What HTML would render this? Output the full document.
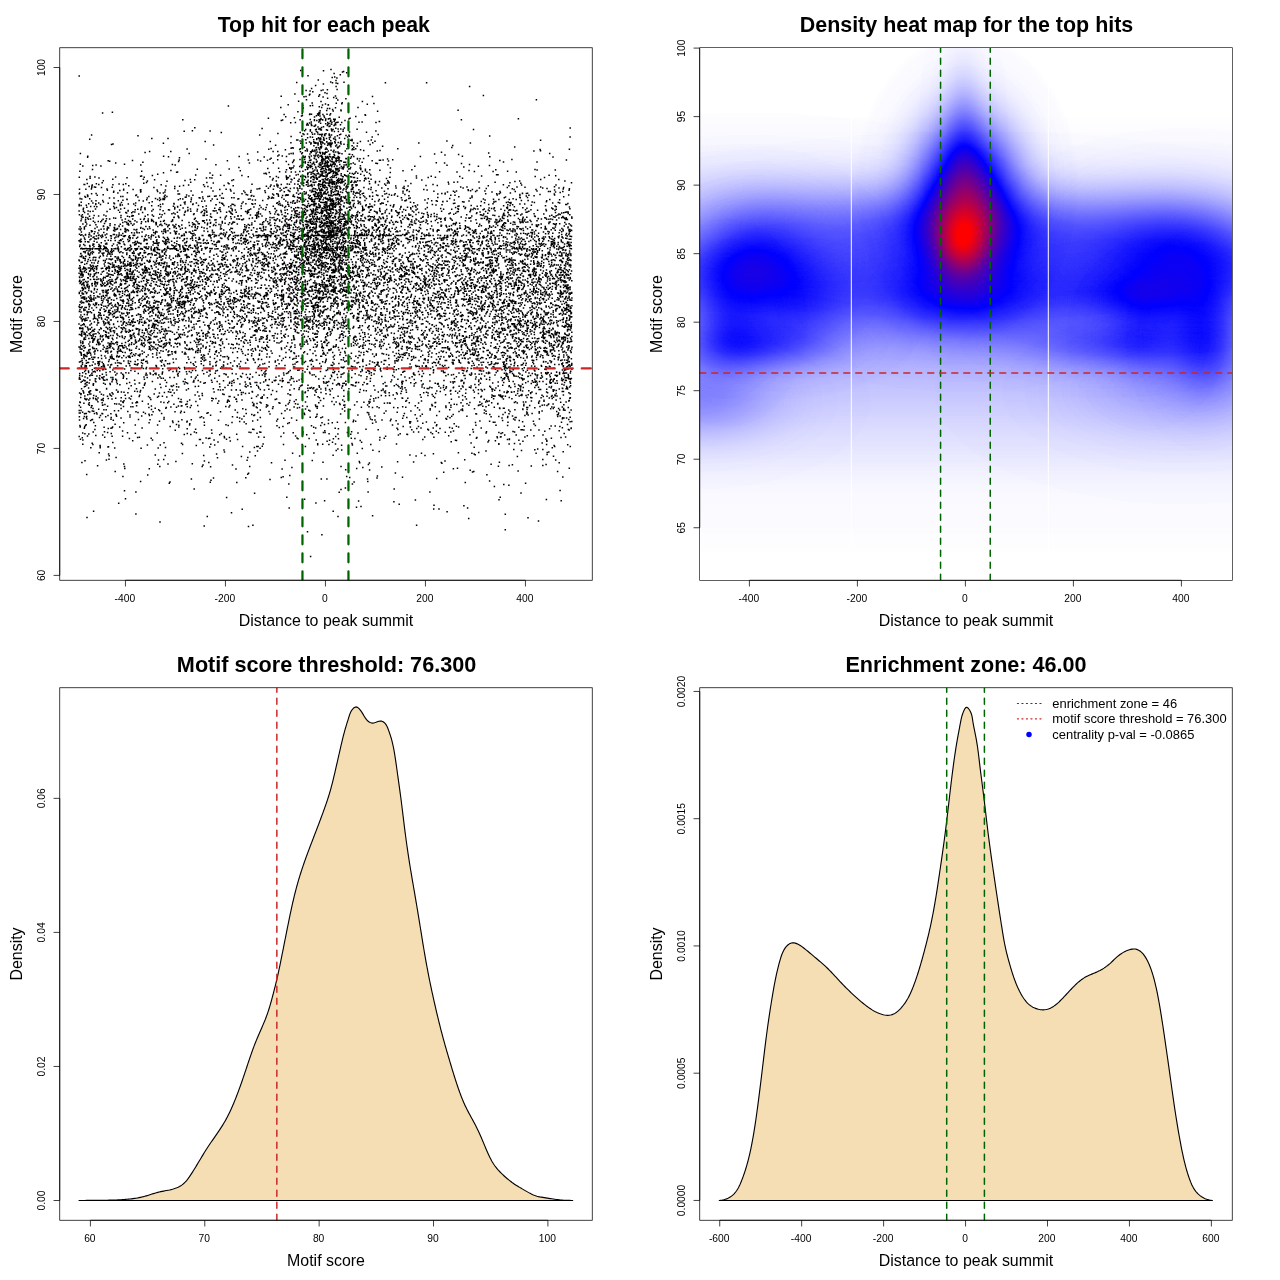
<!DOCTYPE html>
<html><head><meta charset="utf-8"><title>plot</title>
<style>html,body{margin:0;padding:0;background:#fff}svg{display:block;will-change:transform}text{font-family:"Liberation Sans", sans-serif;fill:#000}.pl>*{mix-blend-mode:plus-lighter}</style>
</head><body>
<svg width="1280" height="1280" viewBox="0 0 1280 1280">
<rect width="1280" height="1280" fill="#fff"/>
<defs>
<clipPath id="c1"><rect x="59.75" y="47.75" width="532.5" height="532.5"/></clipPath>
<clipPath id="c2"><rect x="699.9" y="47.9" width="532.2" height="532.2"/></clipPath>
<clipPath id="c3"><rect x="59.75" y="687.75" width="532.5" height="532.5"/></clipPath>
<clipPath id="c4"><rect x="699.75" y="687.75" width="532.5" height="532.5"/></clipPath>
</defs>
<!-- panel 1 -->
<path d="M331 69.4h0M300.7 70.6h0m22.8 .2h0M343.6 71.4h0M342.5 72h0m4.2 .8h0M334.1 73.5h0M340.3 74.8h0M308 75.7h0M79.2 76h0M332.2 77.5h0m2.5-.4h0M336.9 78h0M318.3 80.1h0m17.7 .4h0M296.7 82.6h0m34-.6h0m1.8 .7h0m3.6 .2h0m7.9-.7h0m41.4 .5h0m41.2 .1h0M337.7 83.4h0M323.4 84.1h0M315.6 85.6h0M336.1 86.4h0m133.5 .1h0M311.6 88.4h0M327.4 89.8h0m9.7-.4h0M306.1 90.6h0m15.1-.1h0m1.8-.5h0M310.1 91h0m2.7 .8h0M325 92.7h0M327 93.5h0M294.9 94.1h0m15 .2h0m9.7 .4h0M309.4 95.1h0m26.1 .8h0m147.9-.4h0M281.2 96.3h0m22.8 .4h0m2-.1h0m12.8-.4h0m4.3 .7h0m49.4-.5h0M333.7 97.4h0M327.6 98.3h0m8.8 0h0m9.5 .5h0M306.5 99.7h0m31.3 .2h0m198.6-.1h0M298.6 101.3h0m22.4 .3h0m41.4 0h0M342.2 102.8h0M312.2 103h0m24.1 .2h0m5.5 .5h0m32.1-.2h0M288.2 104.8h0m37.3-.7h0m2.7 .8h0m.2-.2h0m38.9-.5h0M302.8 105.6h0m7.5 .2h0m2.3-.2h0m9.9-.6h0M228.4 106h0m90.9 .8h0M280.8 107.5h0m40.9 0h0m13.8 .2h0m22.5-.3h0M303.3 108.1h0m24.2 .4h0m2.2 0h0M332.6 109.5h0m8.3 .4h0M320.1 110.7h0m6.6-.1h0m14.4 .2h0m117-.6h0M297.9 111.7h0m35.3-.6h0m44.4 .1h0M112.4 112.3h0m206.6 .2h0m.8 0h0M102.6 113h0m199.6 .6h0m16 .2h0m12.4-.1h0M284.1 114.6h0m25.5-.1h0m.3-.5h0m1.6 .3h0m6.1-.3h0m2.1 .1h0m3.2 .3h0m4.1-.2h0m2.9 .7h0m35.2-.1h0M301.5 115.9h0m.9-.5h0m14 .4h0m1.9-.6h0m1.7 .7h0m4 0h0m41.5-.6h0M285.7 116.7h0m70.1-.1h0M294.4 117.8h0m20.1-.7h0m10 .5h0m14.7-.4h0M268.4 118.3h0m52.6 .3h0m7.5 .2h0m1.5-.2h0m20.1-.4h0m168.3 .5h0M182.8 119.8h0m117.3 0h0m10.2-.4h0m4.1 .4h0m4.7 0h0m1.1-.3h0m.6-.2h0m1.7 .5h0m3.3-.8h0m2.6 0h0m5.3 .2h0m1.5 0h0m13.7-.1h0m112.5 .6h0M281.3 120.6h0m1.3-.5h0m31.8 .3h0m2.4 .2h0m3.2 0h0m2.7-.5h0m2.9 .3h0m5.2-.1h0m3.9 .2h0m10.3 .1h0M318.8 121.9h0m1-.9h0m10.6 .4h0m.2 .2h0m3.6-.4h0m27.9 .7h0m17.2-.5h0m.2 .1h0M290.7 122.7h0m4.7-.1h0m14.1 .3h0m1.8-.8h0m16.4 .4h0m4.2-.3h0m4.9 .4h0m1.2-.3h0m3.7 .3h0m17.3-.3h0m17 .1h0M307.3 123.6h0m13.3-.4h0m5.1 .6h0m2.5-.2h0m.9-.2h0m6.3-.3h0M311.3 124.1h0m16.5 .6h0m3.4-.7h0m.5 .3h0m3.3 .3h0m.7 .1h0m4.8 .1h0M306.7 125h0m1.6 .1h0m3.2 .5h0m.4 0h0m3.4 .2h0m.3-.8h0m11.7 .5h0m6.7-.1h0m.2 .2h0M314.2 126.2h0m3.8 .7h0m5.5-.1h0m5.6-.3h0m.9-.4h0m.1-.1h0M194.8 127.7h0m126.8-.1h0M262.1 128.6h0m57.9 0h0m15.8-.4h0m2.3 .7h0m6.3-.9h0m225.8 .1h0M305.7 129.5h0m4.7 .2h0m5.2 .1h0m.8-.5h0m2.3-.3h0m1.2 .1h0m.6 .6h0m.1-.4h0m.3 .2h0m.5 .4h0m5.1-.1h0m4.9-.8h0m.2 .9h0m1.5-.3h0m7.7-.6h0m2.4 .5h0m13.9-.3h0m116.4 .2h0M192.4 130.7h0m17.7 .2h0m94.6-.1h0m22.8-.6h0m4.5 .7h0m43.9 0h0M184.2 131.3h0m126.1-.3h0m6.1 .6h0m18-.2h0m4 0h0m4.7-.2h0M221.3 132.6h0m78.9 0h0m11.6-.1h0m5.8-.2h0m32-.3h0m16.9 .2h0M277.9 133.5h0m25.1 .3h0m4.5 .1h0m10.4 0h0m8.1-.2h0M259.7 134.9h0m44.3-.3h0m8.6-.3h0m2.1-.2h0m4.9 .3h0m1.5 .2h0m1.1-.3h0m2.4-.1h0m4.6-.2h0m10.4 .7h0m1.1-.4h0m37.5 .1h0M91.6 135h0m46.4 .7h0m186.5-.6h0m.4 .3h0m4.2-.3h0m.5 .2h0m1.9-.2h0m5.9 .6h0m8.6-.1h0m2.9-.4h0M291.1 136.6h0m10.7-.4h0m20-.1h0m13.2 .8h0m12.6 0h0m1.8-.6h0m22.8 .6h0m117.5-.9h0M307.6 137.8h0m2.7-.8h0m2.2 .3h0m6 .5h0m.1 .1h0m5-.5h0m5.7 0h0m1.1-.4h0m9 .9h0m230.7-.9h0M151.8 138.6h0m16.2-.1h0m148.8 .3h0m3.5-.2h0m.3-.6h0m3.3 .9h0m2.6-.3h0m7.1-.1h0m.1 .3h0m11-.2h0M89.7 139.2h0m207 .7h0m8.9-.2h0m.3 .1h0m7.8-.1h0m3-.2h0m2.6-.5h0m1.3 .5h0m.2-.5h0m2.7 .7h0m.4-.3h0m5.6-.1h0m5.8-.1h0m16.8 .4h0M297.8 140h0m2.3 .9h0m19.4 0h0m4.7-.7h0m6.6 .5h0m4.8-.7h0m15 .2h0m1.5 .5h0m19.2-.6h0m169.3 .2h0M205.2 141.5h0m65.1 0h0m31.8-.1h0m7.4 .5h0m4.2-.2h0m7-.3h0m1.6 .5h0m4.6-.2h0m7.8 .1h0m6.2-.1h0m19.5-.1h0m7.9-.6h0m6.7 .2h0m71.9-.2h0M290.9 142.8h0m24.2-.3h0m11.6-.5h0m8.6 .4h0m2.9 0h0m34.5 .4h0m46.1 .1h0M113 143.9h0m50.4-.7h0m137.4 .1h0m5.5-.3h0m4.6 0h0m.2 0h0m.1 0h0m3.1 0h0m.8 0h0m.2 .3h0m1.2-.3h0m.1 0h0m1.6 0h0m2.6 0h0m2 0h0m.3 0h0m1.6 .9h0m3.3-.3h0m1.2-.6h0m.7 0h0m.6 0h0m1.4 .3h0m.3-.2h0m3-.1h0m5.2 0h0m13.2 0h0m3.9 .3h0m112.9-.3h0M111.5 144.5h0m199.3-.5h0m7.2 .1h0m2.9 0h0m8.2 .4h0m1.6-.3h0m.6 .6h0m.2-.3h0m5.1 .4h0m4.5-.9h0m2.9 .3h0m3.6 .5h0m22.5-.4h0M213.6 145h0m62 .3h0m38.3 .4h0m4.2-.6h0m3.4-.1h0m6.1 .2h0m2.7 .3h0m21.8 .2h0m5.1 .2h0m95.5-.4h0M320.6 146.8h0m1 0h0m9.3-.1h0m4.8-.7h0m2.9 .9h0m1-.9h0m8.3 .6h0m34.7-.4h0m132.1 .7h0M292.2 147.8h0m12.2-.6h0m11.6 .5h0m.7-.2h0m2.1 .3h0m2.4 0h0m16.2-.6h0m.3 .7h0m16.1-.6h0m98 .2h0M187.1 148.9h0m84-.5h0m20-.1h0m2.2-.3h0m7.2 .7h0m20.3-.7h0m5.4 .1h0m20.7 .6h0m5.7 0h0m3.1 .1h0m42.1-.1h0M268.8 149.2h0m16.6 .5h0m14.3-.1h0m7.2-.5h0m5.7 .8h0m3.9-.2h0m.1 .2h0m2.8-.7h0m.3 .5h0m5.7-.5h0m1.7 0h0m25 .5h0m1.8-.1h0m6.7 .1h0m179.5-.1h0m29.3-.3h0M305.4 150.8h0m2-.6h0m7.4 .1h0m16.3-.1h0m2.9 .1h0m29.7 .2h0m16.3 .1h0m160.5 .1h0M149.6 151.6h0m21.2-.2h0m86.9 .5h0m15.4-.3h0m4.7-.1h0m22.7 .2h0m6.8-.7h0m3.3 .7h0m1.4-.7h0m1.1 .2h0m1.9 .4h0m10.7 .3h0m2.6-.8h0m4.8 .3h0m12.2-.3h0m32-.1h0m156.6 0h0M145.1 152.6h0m157.3 .2h0m8.9-.3h0m5.8-.5h0m2.4 .3h0m.8 .2h0m2.2-.1h0m1.9 .5h0m2.4-.7h0m7-.1h0m2 0h0m2.2 0h0m103.5 .1h0M80.4 153.5h0m108.8 0h0m101.9-.1h0m2.1 .3h0m0-.4h0m8.5 .5h0m14.4-.5h0m4.3 .1h0m2.5-.1h0m2.4-.2h0m13.1 0h0m.3 .3h0m1-.1h0m2.3 .4h0m146.7-.7h0m61 .4h0M247.6 154.1h0m31.4 .8h0m10.1-.8h0m20.8 0h0m12.9 0h0m1.9 .1h0m4.7 .2h0m.4-.1h0m4.4 .1h0m15-.1h0m.5-.1h0m2.7 .5h0m82.2-.7h0m10.4 .9h0m13.6-.5h0M277.8 155.9h0m36.2-.4h0m1.8-.5h0m2.4 .1h0m2.7 .8h0m.7-.4h0m13 .1h0m33.8 .1h0M87.8 156.3h0m75.8 0h0m4.9 .4h0m70.7-.1h0m25 .3h0m18.1-.8h0m4.2 .3h0m16.5-.3h0m2.2 .3h0m3.9 0h0m2.2-.4h0m3.7 .5h0m2.5-.4h0m2.5-.1h0m1.5 .2h0m.6 .5h0m3.4-.1h0m2.1 0h0m2.2 0h0m3.7 .2h0m4.6-.2h0m.4 .3h0m12.9-.1h0m2.4-.3h0m66.6 0h0m42-.3h0m27.4 .5h0M87.6 157.2h0m91.9 .6h0m123.9-.6h0m1.5 .4h0m13.6-.1h0m3.2-.5h0m.3 .3h0m.5 0h0m3.6-.1h0m2.1 .1h0m.1 .1h0m2.3-.4h0m2 .1h0m1.1 .4h0m.6 .1h0m5.1-.1h0m213.6-.4h0M205.9 158.9h0m65.2-.6h0m38.5-.3h0m4.7 .2h0m.2 .3h0m8.2 .3h0m1.2 .1h0m1.8-.6h0m1.2-.2h0m.3 0h0m4.8 .3h0m3.8-.2h0m1.2-.1h0m1.4 .2h0m.6 .6h0m6.9-.4h0m.3 .3h0m4.4-.6h0m6.9 .4h0m2.5 .1h0m3.6-.1h0m24 .3h0M248.4 159.9h0m21.6-.6h0m7.7 .4h0m22.3-.3h0m4.7 .1h0m11.5 .1h0m5.6-.3h0m.6 .3h0m6.4-.6h0m3.4 .6h0m3.9-.6h0m21.3 0h0m35.3 .7h0m119.2-.1h0M108.2 160.7h0m24.3-.1h0m46.7-.6h0m48.2 .7h0m30.4-.7h0m9.7 .3h0m26.5-.2h0m15.5 .5h0m.8-.3h0m.7-.3h0m10.5 .7h0m.5 .2h0m1.9-.9h0m1.2 0h0m2.2 .9h0m2.7-.4h0m6.5 .1h0m.8-.1h0m1.6-.3h0m1.7 .5h0m31.6 0h0m7.2-.5h0m1.1 .1h0m2.6-.3h0m5.4 .9h0m111.3-.3h0m66.6-.5h0M109.7 161.3h0m68.9 .2h0m82-.4h0m25.7 .3h0m7.1-.2h0m11.9 .6h0m11.7-.2h0m.1-.3h0m5.7 .1h0m2.6 .3h0m1.9-.1h0m3.8-.2h0m1.4 .1h0m3.1-.5h0m.7 .8h0m5.1-.7h0m17.8-.1h0M142.9 162.3h0m149.7 .3h0m10.9-.4h0m4.7 .2h0m2.2 .1h0m3.1-.1h0m.2-.2h0m2.7 0h0m3.8 .5h0m1.8-.3h0m4.8 .3h0m1.1-.1h0m.5-.6h0m0 .3h0m3.9-.2h0m1.5 .4h0m.4-.3h0m4.9-.2h0m4.7 .2h0m1.4 0h0m.4 0h0m7.7 .7h0m8.9-.7h0m74.1 .6h0m67.2-.7h0m33.5 0h0M115.7 163h0m133.7 0h0m23.9 0h0m32 .1h0m8.3 .3h0m.2 .1h0m8.5 .3h0m.1-.6h0m.4 .3h0m2 .3h0m.5-.6h0m10 .7h0m15.7-.1h0m24.9-.5h0m1.5 .2h0m67.2-.4h0m16.9 .5h0M80.3 164.3h0m15.8 .6h0m28.4-.7h0m47.9 .4h0m43.5 .2h0m72.7-.3h0m19.2 .2h0m4.4-.7h0m2.4 .8h0m4.6-.7h0m.3 .8h0m1.3-.4h0m6.6-.3h0m3.3 .1h0m2.1 0h0m.7-.2h0m1.4-.1h0m.2 .8h0m4.7-.2h0m6.5 0h0m2.6-.2h0m6.1-.1h0m32.9 .5h0m81.6-.4h0M92.7 165.6h0m48.1-.6h0m34.4 .1h0m125.9 .5h0m7.5-.4h0m1.9 .3h0m.3 .1h0m10.2-.1h0m4.1-.2h0m1.7-.1h0m.5 .6h0m.8-.2h0m2.3-.1h0m.6 .1h0m.9-.4h0m12.2-.2h0m1.9 0h0m14.4 .7h0m86.6-.4h0m42.5 .1h0M82.8 166h0m18.1 .1h0m193 0h0m5.8 .3h0m10.2 .2h0m.1-.3h0m1.9 .1h0m6.4 .1h0m4 .3h0m1.5-.5h0m1.1-.2h0m1.1 .3h0m3.3-.3h0m2.4 .6h0m2.6-.2h0m2.6-.5h0m4.5 .4h0m2.5 .3h0m70.9-.4h0m49 .6h0m14.6-.6h0M238.9 167.6h0m50.8 .1h0m3.4 0h0m8.5-.1h0m5.1-.5h0m1.6 .5h0m2-.1h0m.4-.5h0m4.9 0h0m4.3 .2h0m2.2 .3h0m5.6-.2h0m.8-.3h0m13.9 .6h0m1.3 0h0m3.8-.5h0m3.1 .5h0M267.8 168.6h0m10.8-.4h0m11.2 0h0m1.7-.2h0m16.2 .5h0m4.9 .3h0m3.4-.7h0m5.7 .5h0m.8 .2h0m.9-.2h0m2-.3h0m3.7 .5h0m6.5-.4h0m1.3 .1h0m1.2-.1h0m1.6-.4h0m2.4 .5h0m1.1 .4h0m6.9-.1h0m10-.8h0m.7 .3h0m29.6-.3h0M92.5 169.4h0m104.8-.1h0m31.9-.2h0m57.3 .7h0m4.5-.5h0m14.4 .5h0m2.1-.6h0m7.4 .7h0m6-.5h0m.1 .2h0m4.9 0h0m.5 .1h0m2.1 .2h0m.2-.4h0m.5 .4h0m1.6-.9h0m.3 .5h0m4.8 .4h0m1.4-.2h0m11.3-.7h0m12.2 .5h0m4.6-.2h0m4.4 .4h0m42.1 0h0m83.9 .1h0m39.2-.3h0m20.3 .4h0M170.9 170.4h0m69.4 .3h0m76.8-.6h0m.2 .8h0m6.7 0h0m.2-.5h0m5.8-.3h0m.6 .4h0m2.4-.1h0m6-.4h0m.3 .7h0m26.1 .1h0m14.5-.6h0m23.1 .5h0m66-.3h0m68.1-.4h0M79.9 171.3h0m61.8 0h0m137.9 .4h0m20.2-.3h0m3.1-.1h0m10.1 .1h0m.6-.3h0m3.7 .2h0m3.4 .3h0m1.6-.1h0m3.6-.1h0m5.1 .2h0m1.5-.3h0m5.7 .2h0m9.4-.2h0m8.4 .5h0m6.4-.3h0m77.2 .2h0m17.4 .2h0m17.4-.3h0m18.7-.2h0m14.5-.2h0m8.7 .7h0M163.5 172.7h0m13.1-.5h0m1-.2h0m91.6 .5h0m16.5-.4h0m5.6 0h0m4.2-.1h0m14.5 .2h0m1.7 .3h0m10.1-.5h0m3.4 .8h0m1-.3h0m3 .1h0m1.4-.1h0m3-.5h0m1.2 0h0m.5 .8h0m.4-.8h0m1.1 .7h0m30.1-.5h0m23.4 .2h0M210 173.1h0m54.1 .4h0m1.7-.3h0m.6 .7h0m41.3-.7h0m.5-.1h0m4.9 .3h0m1.4 .5h0m2.6-.2h0m1.1-.7h0m.5 .8h0m2.7 .1h0m1.5-.9h0m4.8 .9h0m.5-.5h0m1.2-.2h0m3.9 .1h0m2.2 .1h0m5.7 .4h0m8.5-.6h0m2.6 .3h0m2.7-.2h0m2.8 0h0m11.7 .1h0M157.7 174.2h0m140.5 .3h0m9.5 .2h0m3.4-.4h0m3.8 .2h0m5.3 .4h0m.3 0h0m1.7-.7h0m14.7 .1h0m.3-.3h0m.6 .5h0m6.8 .2h0m9.1-.5h0m7 0h0m135.9 .5h0m1.4 .1h0M152.4 175.6h0m43.3-.5h0m16.9 .2h0m8 0h0m21.3 .2h0m44.4 .4h0m9.9-.8h0m20 .5h0m5.7 .1h0m1.1 .1h0m.2 .1h0m2.9-.9h0m1.2 .3h0m5.6 0h0m1.9 .3h0m1.2-.4h0m5.1 .3h0m3.7-.2h0m1.2 .4h0m18.3-.3h0m6.4-.3h0m45.7 .8h0m132.7-.6h0m6.6 .4h0M90.1 176.4h0m25.5 .5h0m25-.6h0m1-.3h0m106.7 .8h0m21.7 0h0m6.4-.4h0m13.4-.4h0m10.9 .5h0m.1-.2h0m2.9-.2h0m1.6 .4h0m2.8 .2h0m4.7-.3h0m.8-.1h0m2.4-.3h0m3.2 .9h0m1-.4h0m3.2-.2h0m1.2-.1h0m2.4 .4h0m4.9 .2h0m10.6-.4h0m.7 .3h0m4-.3h0m3.4 .4h0m1 .1h0m79.6-.7h0m28.6 .3h0m21.8-.4h0m53.6 .3h0M79.3 177.3h0m15.6-.3h0m32.1 .8h0m17.2-.6h0m62.3 .7h0m3.4-.2h0m2 .2h0m66.5-.3h0m8-.2h0m1.5 .1h0m.5 .2h0m17.3-.3h0m5.7-.3h0m2.4 .1h0m.2 .3h0m2.6 .2h0m2.4-.4h0m7-.2h0m4.4 .3h0m2.3-.2h0m1.4-.1h0m2.3 .4h0m17.2 0h0m.9-.1h0m35.2-.1h0m.2-.1h0m38.3 .3h0m7.2-.3h0m109.1 .3h0M90.1 178.2h0m8.9-.1h0m174.2 .3h0m21.1-.2h0m16.5-.1h0m4.1-.1h0m2.5 .6h0m7.8 .2h0m2.8-.1h0m10.6-.2h0m18.8-.3h0m7.3 .5h0m.8-.7h0m.5 .9h0m2.4-.7h0m18.1 .4h0m30-.6h0m46 .3h0M86.8 179.4h0m26-.1h0m30.6 0h0m11.2 .5h0m35.7-.3h0m4.4 .2h0m38.8 .1h0m53.2-.6h0m.2-.2h0m4.3 .2h0m.7 .6h0m7.2-.5h0m5.4 .4h0m8.6-.2h0m.8 .2h0m2.9-.5h0m.1 0h0m.3-.2h0m.2 .1h0m4.9 .5h0m1-.2h0m2.7 .3h0m.5-.1h0m1 .3h0m2.2 0h0m2-.7h0m6.1 .6h0m2.7-.8h0m.3 .6h0m1.5-.2h0m.2-.4h0m28.6 .3h0m50.7 .6h0m118.9-.3h0m18.1-.2h0M103.3 180.7h0m44.1 .2h0m37.6-.3h0m46.9-.1h0m40.6-.5h0m35.6 .2h0m12.2 .5h0m3.1-.7h0m6.8 0h0m1.6 .1h0m5 .4h0m2.5-.2h0m5.8-.1h0m12.5 .6h0m2.4-.1h0m4.3 0h0m23.5 0h0m17.8 0h0m114.1 .2h0M167 181.3h0m109.3-.3h0m14.7 .9h0m6.9-.8h0m.8 .2h0m8.5 .3h0m3.5 0h0m.1-.6h0m8.3 .3h0m1.2 .1h0m2.7 .5h0m1.5-.6h0m4.9-.2h0m2.7 .8h0m.2-.7h0m.7 .4h0m1.8 .2h0m2.7-.3h0m.2-.5h0m.7 .2h0m3 .4h0m.6-.6h0m1.8 .5h0m7.9-.4h0m3.2 .2h0m.7 .1h0m13.7 .2h0m6.2 0h0m4-.1h0m9.1 .3h0m126.3-.3h0m50-.4h0M102.2 182.8h0m44.3-.2h0m44.2-.3h0m16.2 .3h0m21.2 .3h0m75.6 0h0m2.9-.7h0m1.2 0h0m5.4 0h0m1.2 .2h0m1.5-.3h0m7.6 .5h0m1.7-.4h0m1.9 .7h0m1.9-.5h0m1.3-.4h0m.8 .3h0m.3 0h0m1.1 .6h0m.1-.4h0m1 .1h0m.9-.6h0m2.1 .8h0m3.2-.6h0m.8 .7h0m1.5-.2h0m.5-.6h0m8.2 .1h0m.7-.1h0m2.6 .5h0m2-.4h0m19.3 .5h0m13.8 .2h0m59.1-.6h0m5.7-.1h0m3.6-.2h0m21.4 0h0m16.1 .3h0m14.8 .4h0m61.6 0h0M87.3 183.6h0m9.1 .1h0m22.7 .2h0m6.7-.1h0m18-.6h0m69.5-.2h0m15.7 .8h0m65.7 .1h0m6.3-.8h0m2.4 .1h0m4.7 .7h0m10.7-.2h0m3.9-.6h0m2.9 0h0m3.1 .7h0m.6-.2h0m.5-.3h0m1.9-.3h0m1 .7h0m1.6 0h0m4-.6h0m7 .3h0m24.3 .4h0m17.8-.7h0m23.5 .3h0m37.8 .5h0m72.1-.7h0M84.1 184.4h0m.6 0h0m14.1 .2h0m14.1 .1h0m10.4-.2h0m37.9 .2h0m42.4 0h0m48.4-.4h0m24.9-.1h0m4.4 .2h0m6-.3h0m2.1 .1h0m8.6 0h0m4.3 .3h0m4.1 .2h0m5.2-.2h0m7.9 .1h0m.1-.3h0m1.5 .1h0m.2 .2h0m.2 0h0m.7 0h0m10-.4h0m.3 .3h0m2-.2h0m.1-.3h0m1.8 0h0m11.1 .4h0m4.5 .5h0m.6-.1h0m3.4 0h0m1.2 .1h0m27.5-.8h0m48.3 .4h0m70.4 .3h0M92.3 185h0m36.5 .8h0m54.7-.4h0m5.1-.4h0m35.5 .5h0m9.1 .3h0m37.8-.8h0m6 .7h0m1.1-.4h0m21.5 .4h0m4 0h0m5.2 .2h0m1.6-.5h0m.6-.2h0m.9 0h0m2.4-.2h0m3.9 .1h0m.4 .8h0m4-.9h0m1.5 .3h0m.3 .3h0m.2-.6h0m.6 .8h0m3.3-.3h0m1-.1h0m14.8-.3h0m2.4 .8h0m9.4-.1h0m22.3-.8h0m7.4 .3h0m9.9 .6h0m12.4 0h0m17.9-.4h0m11.3 .1h0m51 .1h0m20.6 .1h0m12.7-.7h0m34.4-.1h0M89.2 186.5h0m2.7-.4h0m74-.1h0m8.9 .4h0m4.8-.2h0m25 .3h0m3.3 0h0m58.5-.3h0m3.9 .2h0m3.9-.4h0m25.7 .6h0m8-.3h0m4.2 .3h0m8.5-.1h0m2.2-.2h0m.3 .6h0m6.7-.4h0m0 0h0m2.4 .3h0m3.4-.7h0m.9 .3h0m1.2-.3h0m2 .3h0m6.3 .5h0m2-.1h0m4-.7h0m52.1 .4h0m150.4 .2h0M91.8 187.6h0m2.6-.6h0m1.2 .2h0m5.9 .2h0m10.7-.1h0m41.7 .1h0m124-.3h0m7.9 .4h0m.8-.1h0m10.6 .5h0m21.6 0h0m4.3-.7h0m1.2 .4h0m1.9-.3h0m8-.3h0m2.4 .8h0m3.5-.1h0m12.4 .2h0m.8-.5h0m10.6 .2h0m7.3-.1h0m89.5-.4h0m2.4 .8h0m3.9-.8h0m12.4 .8h0m27.9-.5h0m9.7-.4h0m8 .2h0m15.7-.1h0m18.3 .8h0m4.6-.5h0M91.4 188.9h0m15.6 0h0m67.7-.5h0m36.5-.3h0m47.8 .6h0m.8-.1h0m8.6-.4h0m11.7 0h0m3.8 0h0m6.5 .3h0m3.7-.4h0m3.8 .8h0m2-.7h0m13.2 .5h0m.7-.1h0m1.6 .3h0m.2-.1h0m3.5 0h0m2.6-.1h0m2.9-.6h0m2.8 0h0m3.3 .1h0m4.7-.1h0m1.6 .1h0m3.8 .4h0m3.1 .1h0m3.2-.7h0m5.1 .6h0m29.6-.6h0m6.2 .8h0m8.1-.8h0m6.9 .1h0m1.4 .4h0m81.9-.1h0m26 .3h0m30.4-.7h0m4.3 .6h0m22.4 .2h0M79.5 189.2h0m6.4 0h0m37.8 0h0m9.4 .3h0m7.7 .2h0m24.6 .2h0m54.4-.3h0m6.3-.3h0m4.3 .1h0m26.7-.3h0m16.3 .1h0m8.1 .7h0m20.4-.8h0m18.2 .4h0m0 .3h0m6 .1h0m1.2-.1h0m5.2-.5h0m2.9 .5h0m4.8-.7h0m5.9 .1h0m5.2 .3h0m1.4-.2h0m6.2 .4h0m9.7-.6h0m2.3 .4h0m36.4 .3h0m16.5-.4h0m44.3 .3h0m4.3-.2h0m41.7 0h0m21.9 0h0m27.2-.5h0M107.4 190.3h0m12.4 .2h0m3.8-.4h0m16.8 0h0m16.7-.1h0m34 .9h0m21.9 0h0m18 0h0m20.1-.5h0m13.8 .4h0m23.3-.6h0m.6 .5h0m9.2 0h0m12-.3h0m2.1-.1h0m5.1-.3h0m2.5 .4h0m1.1 .1h0m.9-.4h0m.2 .4h0m.8-.3h0m8.5 .3h0m5.4 .2h0m6.4-.6h0m33 .6h0m30.8-.2h0m20.3-.4h0m29.4 .8h0m11.9-.3h0m2.2 .1h0m6.4-.2h0m77.6-.5h0m14.5 .3h0M113.8 191.3h0m27.1 .3h0m16.7-.2h0m20.3-.3h0m65.9 0h0m36.3 0h0m4.2 .7h0m5.6-.2h0m14.3 .2h0m8.2-.7h0m.6 .5h0m.8-.2h0m1.6 .1h0m9.8 .3h0m2.8 .1h0m3.1-.5h0m0 .1h0m.7-.5h0m3.1 .4h0m3.4-.2h0m2.3 .7h0m5.5-.6h0m5.2 .2h0m2.2-.1h0m6.6 .4h0m.6-.7h0m23.7 .2h0m18.6-.1h0m6.3 .3h0m24.6-.2h0m19.5-.1h0m22.2 .4h0m9.3-.6h0m15.1 .6h0m15.3-.1h0m21.7-.4h0m11.5 .4h0m1.8 .1h0m12.5-.1h0M113.6 192.3h0m13.8 .4h0m13.2-.6h0m24.3-.1h0m37.1 0h0m43 .5h0m5.7-.2h0m14.7 .1h0m40.8-.1h0m5.3-.3h0m.1 .1h0m4.2 .6h0m.7 0h0m2 0h0m1.7-.5h0m1 .3h0m2.8 .2h0m.3-.4h0m3.3 .4h0m5.7-.4h0m9.2 .1h0m4.5 .2h0m.8 .2h0m1-.3h0m5.1-.3h0m3 .4h0m15.6-.2h0m30.5 .5h0m44.5-.8h0m7.3 .2h0m37.2-.3h0m8.4 .8h0m55.1-.7h0m4.7 .4h0M79.3 193.7h0m.3-.6h0m12 .7h0m4.5-.3h0m21.8-.4h0m42.1-.1h0m3.4 .1h0m14.7 .8h0m44.2-.3h0m11.7-.3h0m8 .5h0m34.8 0h0m19.8-.7h0m3.7 .1h0m5.8 .4h0m11.2 .3h0m1.6-.1h0m2.1 .1h0m2.6 0h0m.1-.3h0m1.2 0h0m.1-.1h0m.5 .3h0m5.8-.5h0m0-.3h0m6.2 .4h0m.9-.3h0m9.5 .1h0m7.9 .1h0m1.7-.2h0m1.6 .1h0m3.2 .6h0m1.2-.6h0m23.1 .2h0m8.5 .3h0m46.7-.3h0m3.4-.2h0m40.5 .6h0m11 0h0m2.5 0h0m11.2-.7h0m12 .1h0m.1 .4h0m3.9 0h0m1.2-.4h0m26.7 .7h0M87.5 194.9h0m15.7-.2h0m76.3-.7h0m66.7 .4h0m26.5-.3h0m5.5 .2h0m.1 .5h0m8.4 0h0m11.9-.5h0m6.2-.2h0m8.8 .7h0m.7-.5h0m.7-.1h0m5.8-.2h0m2.5 .1h0m3.1 0h0m2.2 .8h0m2.4 0h0m3.5-.5h0m.9 .1h0m.3 .3h0m1.4-.2h0m.2 .1h0m.5-.6h0m.5 .1h0m1.4 .6h0m13.6-.8h0m6.8 .8h0m24.8-.8h0m4.3 .6h0m15.7-.1h0m32.9-.4h0m7.3-.1h0m74.8 .6h0m20.1-.2h0M87.9 195.9h0m9.3-.7h0m38.6 .4h0m.7-.6h0m28.6 .3h0m21.5-.2h0m2.3 .8h0m4-.7h0m23.2 .7h0m3.8-.4h0m27.7-.5h0m4.2 .5h0m21.9-.4h0m8.9 .4h0m3 0h0m0-.2h0m1.6-.1h0m1.1-.2h0m5.2 0h0m14.9 0h0m1.9 .7h0m4.4-.1h0m3.1-.4h0m1.7 .3h0m1.9 0h0m.7-.3h0m6.6 .3h0m1.6 .1h0m.2 .1h0m1.6 .2h0m1.3-.9h0m2.3 .1h0m3.7 .7h0m.1-.2h0m9-.4h0m6.5 .4h0m8.6 .2h0m13-.8h0m1.3 .6h0m13.7-.4h0m2.8-.1h0m14.5 .7h0m41.9-.5h0m4.2-.1h0m42.2-.1h0m22.7 .2h0m6.4 .6h0m2.6-.6h0m5.2 .4h0m20.5-.7h0m14.1 .1h0M84.9 196.5h0m2.9 .1h0m33-.1h0m2.1-.1h0m15 .5h0m10.9-.5h0m15.5 .2h0m2.6 0h0m19.4 .3h0m16.4 0h0m5.2-.5h0m1.6-.1h0m5.1 0h0m36.6-.3h0m2.6 .2h0m14.8 .3h0m9.9-.2h0m14.5-.1h0m1.5 .5h0m14.9-.3h0m5.3 .1h0m.5-.1h0m.5 .1h0m1.4 .1h0m1.4 .1h0m.5-.5h0m1.9 .6h0m1.2-.6h0m19.2 .6h0m4.4-.6h0m19.1 .7h0m4.8-.8h0m.2 .3h0m2.9-.2h0m9.7-.1h0m15.2 .1h0m61.2 .5h0m13.2-.6h0m33.5 .8h0m58.2-.1h0M85.6 197.2h0m23.9 .7h0m37.7 0h0m17.8-.4h0m20.3-.2h0m6.1 .6h0m7.8-.2h0m.8 .2h0m31.7-.2h0m2.3 0h0m35.1 .1h0m3.1-.6h0m.5 .5h0m9.1-.2h0m15.8-.2h0m2.2 .4h0m.3 .2h0m11.7-.2h0m9.3-.1h0m4.5-.2h0m4.2 .4h0m11.3-.4h0m2.2-.4h0m1.5 .3h0m.7 .6h0m4.2-.5h0m4.3 0h0m2.7-.2h0m3.3 .4h0m.4 .2h0m27.5-.6h0m13.5 .5h0m36.4-.2h0m34.2-.1h0m32.3 .4h0m15.5-.5h0m.5 .5h0m7.2-.3h0M80.1 198.8h0m0-.4h0m9.6 .3h0m24.3-.7h0m41.5 .6h0m4.1-.6h0m3.5 .4h0m17.2 .4h0m2.5 .1h0m20.3-.2h0m18.5-.6h0m1.8 .2h0m14.5 .6h0m.8-.1h0m29.3-.1h0m3.4-.5h0m2.1-.2h0m25 .1h0m10.2-.1h0m1.3 .8h0m1.5 0h0m4.6-.3h0m1.6 .2h0m1-.6h0m1.1 .6h0m4.1-.7h0m1.8 .4h0m.3 .4h0m1.3 0h0m.5-.4h0m2.5 .5h0m2.4 0h0m3.1-.8h0m1.8 .1h0m.2 .3h0m.7 .4h0m1.9-.2h0m.7-.3h0m3.5-.2h0m21.8 .2h0m42.4 .2h0m1.4-.5h0m18 .6h0m21.5-.2h0m20.5-.2h0m42.9 .5h0M81.8 199.1h0m45.1 .2h0m.2 .3h0m19.6 .2h0m10.9-.2h0m3-.2h0m2.4 .2h0m1.4-.2h0m.1-.4h0m13.9 .8h0m12.9 0h0m20.9-.8h0m5.1 .3h0m31.2-.1h0m1.6-.1h0m2.4 .8h0m31.5-.6h0m16.8 .2h0m2.8-.4h0m2 .5h0m5.1-.2h0m3.5 .2h0m1-.5h0m4.4 .6h0m.9-.5h0m2.6 .6h0m4.1-.5h0m1 .4h0m1.5-.3h0m1.7-.2h0m.3 .4h0m4.5 .3h0m1-.7h0m3.8 0h0m5.7 .4h0m25.6-.4h0m7 .3h0m5.2-.3h0m17.6 .7h0m81.3-.9h0m1.7 .9h0m8.4-.6h0m5.4 .1h0m10.4 .2h0m6.9-.1h0m33.6 0h0m9.8 .2h0M96 200.8h0m6.7-.4h0m15.6 .3h0m4.6-.4h0m16.2 .1h0m20.5 .2h0m51.2 .2h0m44.6-.8h0m7.3 .4h0m31 .4h0m3.7-.5h0m14.7-.3h0m.4 0h0m0 .7h0m15.6-.3h0m2.2-.4h0m.3 .8h0m.8-.8h0m.2 .5h0m.3-.1h0m.3-.1h0m1.4 .4h0m5.5-.7h0m.2 .1h0m2.2 .4h0m4.8-.4h0m2.7-.1h0m3.3 .4h0m1.6 .1h0m4.1 .4h0m7-.4h0m39.9 .2h0m.7 0h0m.8-.6h0m18.5-.1h0m6.8 .7h0m4.6 .1h0m18-.8h0m67.1 .6h0m6.7-.2h0m18.6 .4h0M91.6 201h0m11.8 .9h0m39.9-.9h0m8.9 .7h0m38.6 .1h0m11-.6h0m2.9-.2h0m74.5 .6h0m6.6-.6h0m7.1 .2h0m4.2 .7h0m2.2-.3h0m.1-.2h0m4.4-.3h0m.5 0h0m3.5 .2h0m3.9-.1h0m1.5 .6h0m1.4-.6h0m4.6 0h0m6.4 .5h0m4.6-.6h0m.6 .3h0m1.8 .3h0m5.7-.1h0m2.5-.4h0m1.8-.1h0m32.3 .4h0m3.6-.4h0m9.3 .3h0m49.5-.1h0m5.5 .5h0m.1-.3h0m4.2-.2h0m15.5 .5h0m1.4 .1h0m5-.8h0m12.3 .4h0m12.7 .1h0m1.8-.2h0m36.4 .5h0m14.2-.1h0M81.2 202.2h0m11.7 .7h0m5.8 0h0m15.2 0h0m7.6-.3h0m27.7 .2h0m35.1-.3h0m.9-.5h0m34.4 .4h0m23.5-.3h0m34.6 .7h0m10.1-.6h0m3 .4h0m23.6 .3h0m6.3-.7h0m1.5 .2h0m1.5 0h0m1.5 .1h0m1 .1h0m.4 .1h0m.3-.7h0m6.7 .2h0m2.5 .2h0m2.3-.2h0m8.1 .1h0m1.8 .6h0m.3-.3h0m1.5-.4h0m.3 .6h0m8.5-.4h0m1.1-.3h0m50.5 .2h0m3.3 .4h0m13.5 .2h0m57.2-.2h0m9.5-.5h0m12.4 .3h0m1.8-.4h0m1.4 .7h0m1.4-.4h0m23.4 .2h0m23.9-.2h0m1.4 .5h0M88.7 203.8h0m7.1-.1h0m12.4-.5h0m6.3 .5h0m13.8 .2h0m7.4-.8h0m38.2 .4h0m22.5-.4h0m25.2 .1h0m.9 .3h0m19.4 .1h0m4 .1h0m6 0h0m3.3 0h0m21.5-.5h0m3.2 .3h0m12.8-.5h0m2.1 .2h0m.5-.2h0m13.2 .6h0m5.6-.5h0m1.9 .5h0m2.7 .3h0m7-.9h0m5.6 .3h0m.7 .5h0m.8 .1h0m.5-.2h0m1.9-.3h0m2.9 .4h0m.8-.6h0m.3-.1h0m.7-.1h0m4.4 0h0m2.9 .1h0m2.7 .8h0m4.3-.3h0m4-.2h0m22.2 .4h0m1.4-.8h0m1.5 .2h0m70.2 .2h0m1.3-.1h0m38.2 .5h0m17.8-.3h0m41.9-.4h0m15.2 .3h0M79.3 204.5h0m16.5-.1h0m4.7 .2h0m19.7-.3h0m2.1 .6h0m11.4-.8h0m26.7 .4h0m2.4-.5h0m11.3 .1h0m10.9 0h0m7.7 .3h0m.4-.4h0m22.8 .7h0m.2 0h0m6.8-.5h0m9.2 .1h0m1.4 .3h0m19.3-.4h0m14.2 .6h0m11.5-.3h0m9.3-.2h0m.7 .1h0m14 .3h0m1.1 .1h0m8.1-.4h0m1.6 0h0m1-.1h0m1.5-.3h0m8.6 .6h0m.6 .1h0m1.9-.6h0m3.2 0h0m1.4 .8h0m2.2-.8h0m1.4 .3h0m1.8 .1h0m2-.1h0m2 .4h0m8.5-.8h0m11.1 .1h0m5.7 .7h0m3.7-.8h0m10.9 .1h0m5.5 .7h0m7.6 0h0m23.6 .1h0m14.9-.3h0m9.6 .1h0m46.7-.3h0m19.1 .4h0m4.9-.1h0m7.2-.6h0m4.8 0h0m41.1 .5h0m.9-.2h0M79.1 205.4h0m.1 .3h0m1.9-.2h0m5.2-.3h0m33.9 .4h0m15.2-.2h0m16.3 .4h0m6.8-.1h0m22.1-.5h0m17.9 .4h0m7.8 .3h0m17.6-.4h0m7 .3h0m4-.3h0m6.3 .4h0m18.6-.5h0m20.5-.2h0m1.8 0h0m.5 .7h0m22.3-.5h0m2.8 0h0m2 .4h0m.7-.6h0m3.6 .6h0m.6-.2h0m4.5-.2h0m.7-.1h0m.5 .6h0m5.8-.6h0m3.2 .5h0m.9-.7h0m1.7 .7h0m1-.2h0m.8-.6h0m19.7 0h0m12.4 .8h0m8.7-.7h0m16 .4h0m24.7 .3h0m20.8-.7h0m23 .8h0m12.2-.5h0m9.5 .4h0m22.9 0h0m6.5-.3h0m21.3-.2h0m14.1 .5h0m9.6 .1h0M90.7 206.4h0m3.7 .2h0m2.4 .1h0m16.9-.1h0m27.9 .2h0m19 0h0m12.8-.6h0m4.2 .4h0m25.2 .2h0m25.9 0h0m44.6-.5h0m12.4 .3h0m3.2-.4h0m17.4 .3h0m.3 .2h0m2.9-.2h0m6.9-.1h0m.3 .1h0m3.2 .4h0m4.1-.3h0m.7-.1h0m2.4-.3h0m.2 0h0m.1-.2h0m.9 0h0m1.3 .6h0m3.1-.1h0m1.8 .2h0m1.3-.6h0m3.8 .8h0m.5-.1h0m3.5-.8h0m.4 .7h0m6.5-.3h0m2.9 .2h0m9-.3h0m6.4 .4h0m1.5-.3h0m1.5-.2h0m21.7 0h0m7.6 .3h0m11.6 .1h0m45.3-.4h0m5.7 .2h0m13.5-.1h0m37.2 .5h0m41.8 0h0M86.8 207.2h0m27.8 .7h0m1.9-.5h0m24.5 .5h0m3.8 0h0m30-.5h0m2.9-.4h0m10.1 .4h0m32.2 .4h0m33.9-.8h0m7.2 .4h0m5.1 .1h0m18.5 0h0m6.6-.1h0m4.4 .3h0m2-.2h0m1 .3h0m8.5-.6h0m9.3 .5h0m1.4-.1h0m.8-.2h0m.6 .3h0m.1-.3h0m.6 0h0m4.8 .3h0m.2 .2h0m1.2-.8h0m1.3 .1h0m2.2 .7h0m3.3-.3h0m2.3-.4h0m13.8 .1h0m2 .1h0m4.2 .2h0m7.4 .1h0m5.6-.5h0m.6 .5h0m3.6-.7h0m20.6 .1h0m7.7 .2h0m6.7-.1h0m3.2 .6h0m5.3-.7h0m11.3 .4h0m28.3-.1h0m9.9 .1h0m28.9 .3h0m12.3 0h0m.8-.8h0m15.3 .8h0m28.9 .1h0m17.7-.9h0M83.5 208.2h0m31 .4h0m10-.3h0m20.5-.3h0m0 .5h0m29.7 .4h0m8.4-.8h0m23.1 .6h0m8.5-.5h0m16.3 0h0m10.3 .4h0m33.6 0h0m.2 .2h0m18.7 0h0m7.6-.8h0m3.3 .5h0m8.6 .4h0m2.5 0h0m6.3-.8h0m0 .5h0m1.2-.2h0m1.9-.3h0m6.2 .8h0m.7-.6h0m.8 .2h0m7.7-.1h0m6.3-.1h0m4.7 .2h0m28.1 .1h0m20.4 .3h0m10.8 0h0m29.8-.3h0m17.2 0h0m7.2-.2h0m8.9-.2h0m15.1-.1h0m2.5 .5h0m2.3 .3h0m13.6-.3h0m19.4-.3h0m26 .4h0m17 .1h0M83.2 209.5h0m12.3-.4h0m14.5 .1h0m10.7-.2h0m14.5 .8h0m2.6-.6h0m3 .5h0m4.3-.3h0m8.1 .2h0m6.9-.1h0m8.4 .3h0m11.1 .1h0m10.9-.9h0m6.9 .2h0m21.4 .3h0m1.2 .2h0m12.2-.4h0m17.1 .4h0m1.4-.6h0m8.3 0h0m4.2 0h0m2.3 .6h0m21.8 0h0m15.5-.6h0m2.8 .4h0m4.9 0h0m6.9 0h0m.1-.1h0m7.6 .5h0m1.4-.8h0m.9 .2h0m1.9 .2h0m1.2-.5h0m.3 .5h0m1.3-.3h0m1.5 .6h0m2.2 .1h0m3.3-.1h0m.6-.2h0m2.1 .1h0m7.9 0h0m13.1-.4h0m1.5 .2h0m6.8 .2h0m15.6-.2h0m4.9 .2h0m12.1-.2h0m13.7-.4h0m8.1 0h0m18.1 .2h0m8.1-.1h0m6.8 .1h0m12.4 0h0m2.1 .2h0m2.5-.4h0m2.4 0h0m5.2 .7h0m1.2-.8h0m16.7 .2h0m8.8 .6h0m15.7 0h0m5.4-.1h0m15.1-.3h0m6.8-.4h0m3.5 .2h0M79.1 210.9h0m39.3-.6h0m9.7 .2h0m35 .3h0m6.4-.8h0m18.3 .7h0m.2-.6h0m15.9-.1h0m1 .7h0m8.3 0h0m2.9 0h0m16.1 .1h0m3.1-.7h0m12.6 .5h0m0 .3h0m28.7-.3h0m4.4-.2h0m4-.2h0m9.2-.2h0m2.9 .8h0m10.5-.3h0m3.9 .1h0m.6 .3h0m0-.1h0m1.7-.8h0m1.9 .3h0m5.7-.3h0m.8 .7h0m1.9-.2h0m1.6-.4h0m.3 .8h0m.3-.8h0m1.9 0h0m.7 0h0m.4-.1h0m.4 .3h0m10.7 0h0m9.6-.1h0m12.4 .6h0m1.2-.8h0m6.7 .2h0m9.4 .1h0m5.7 .6h0m6.1 0h0m4.3-.2h0m9.9-.4h0m6.7 .6h0m3.6-.9h0m54.6 .4h0m17.8-.3h0m1 .7h0m5.6 0h0m9.7-.3h0m4.2-.2h0m1.7-.2h0m2.8 .2h0m3.4 .2h0m20.8-.2h0m8.8 .4h0m8.6-.5h0M83.5 211.2h0m4.6-.2h0m2.1 .5h0m2.8-.3h0m14 .3h0m.1-.1h0m21-.3h0m4.9 .6h0m18.8-.7h0m33.7 .3h0m5.3-.1h0m6.3-.1h0m5.1 .5h0m4.5-.3h0m7.7-.3h0m6.2 .5h0m8.7-.2h0m16.3 .1h0m12.9 0h0m11.1 .3h0m22.4-.7h0m2.9 .7h0m.9-.7h0m8.5 0h0m2.6 0h0m4.8 .6h0m.2 .3h0m1.2 0h0m.6-.7h0m2.3 .7h0m5.5-.3h0m1.2-.1h0m4 .1h0m3.9-.3h0m0 .2h0m.2 0h0m5.6-.5h0m.3 .3h0m3.2 0h0m18 .1h0m16.6-.2h0m1.5 .7h0m4.2-.5h0m15.8-.4h0m6.4 .9h0m11.4 0h0m27.8-.7h0m15.6 .6h0m1.1-.2h0m11.7 .2h0m10.1 .1h0m5.5-.3h0m29.6-.5h0m13.7 .1h0m37.9 .7h0m1.3 0h0M84.6 212.5h0m35.1-.2h0m6.1 .3h0m.2 0h0m.6 .3h0m5.1-.1h0m3.1-.7h0m7.8 .4h0m34.8-.3h0m7.6 0h0m16.2 .4h0m5.6-.3h0m10.5 .6h0m9.3-.6h0m3.5-.2h0m6.1 .2h0m11-.3h0m1.3 .3h0m9.7 .1h0m17.4-.3h0m5.8-.1h0m3.9 .8h0m9.8-.7h0m4.4 .4h0m2.6-.1h0m1.1 .1h0m.9 .1h0m1.3-.1h0m7.2 .4h0m.2-.3h0m.2-.3h0m3.8-.3h0m1.3 .6h0m2.7-.2h0m.9-.2h0m1.2-.2h0m4 .9h0m1.4 0h0m4.8-.2h0m3.1 .2h0m1.9-.3h0m2.1 .1h0m4.9-.5h0m12 .5h0m2.4 .1h0m9.7-.5h0m.3-.1h0m7.7 0h0m7.9 .5h0m11.9-.4h0m.8 .4h0m1.5-.1h0m19.4-.2h0m8.6 0h0m49.6 .3h0m31-.4h0m.3 .4h0m17.9-.4h0m1.4-.3h0m28 .5h0m8.2 .3h0m1.7-.5h0M164.6 213.4h0m7.3 .3h0m1.7-.6h0m20.5 .7h0m10.2-.1h0m.3-.6h0m26.3-.1h0m.6 .4h0m15.9 0h0m9.4-.4h0m1.7 .5h0m11.9-.1h0m17.3 .4h0m7.7-.2h0m.6-.2h0m6.6 .3h0m.7-.7h0m9.5 .6h0m2.3-.6h0m4.5 .2h0m2 .6h0m.8-.6h0m6.8 .3h0m1.5-.3h0m1.8-.1h0m4.2 .3h0m3.1 .4h0m5.7-.5h0m31.6 .1h0m5.6 .3h0m6.7-.3h0m9.3 .5h0m23.2-.7h0m1.9 .6h0m10.4-.3h0m14.8 .2h0m1.3-.6h0m5.4 .2h0m20.8 .3h0m11.3-.3h0m16.1-.1h0m13 .5h0m17.2 .1h0m24.8 .1h0m2.8-.9h0m6.5 .4h0M79.4 214.7h0m3 .1h0m5.6-.7h0m50.8 0h0m9 .7h0m12-.6h0m2.3 .5h0m13-.7h0m9.3 .4h0m9.2 0h0m17-.4h0m21.8 .3h0m24.1 .6h0m4-.9h0m14.3 0h0m2.8 .4h0m.4 0h0m.1-.2h0m3.9 .4h0m9.5 .2h0m6.1-.7h0m1.5 .3h0m5.6 .4h0m1-.6h0m3.8 .7h0m1.4-.7h0m1-.1h0m2.9 .4h0m.7 .1h0m1 0h0m8.2 .2h0m3.5-.4h0m.7 .5h0m6.6-.8h0m3.9 .6h0m2.8-.7h0m0 0h0m1.4 .7h0m3.8-.2h0m4.6 .4h0m4.7-.1h0m6-.4h0m19.1-.4h0m27 .1h0m7.2 .4h0m11.6 .1h0m3.7-.1h0m5.7-.1h0m16.8-.2h0m12.9 .6h0m13.8-.1h0m3.3-.6h0m19.6 .4h0m.3-.5h0m.1 .3h0m5.2 .4h0m8.6-.6h0m4.4-.1h0m21.8 0h0m16.4 .5h0m9.6 .3h0M94.1 215.5h0m9.8-.5h0m17.1 .4h0m11.2 0h0m1.1 .3h0m19-.7h0m32 0h0m18.8 .6h0m1.3-.1h0m2.6-.3h0m31 .6h0m3.1-.1h0m9.3-.6h0m5.1 .2h0m2.3-.3h0m21 0h0m5.5 .9h0m10.2-.7h0m.3 .2h0m1.9 0h0m6.1 .3h0m.6-.5h0m.1 .6h0m18.1 .1h0m2.6-.2h0m.4 0h0m2.3 .1h0m2.7-.3h0m2-.2h0m12.1 .1h0m1.3-.4h0m1.9 0h0m5.2 .4h0m.3 0h0m1.1 .4h0m4-.7h0m3.6 .6h0m8.1 .2h0m17.7 0h0m10.6-.4h0m4.9 .3h0m3.3-.3h0m3.5-.3h0m1.5-.1h0m17.6 .5h0m43.5 .3h0m9.7-.8h0m1.5 .3h0m10-.2h0m1.7 .3h0m8.4-.1h0m1.7 .1h0m5.7 .2h0m4-.2h0m6.2-.5h0m13.9 .9h0m17.2-.6h0m4.4 .5h0m1.7-.7h0M81.4 216.1h0m.6 .8h0m7.5-.7h0m9.1-.1h0m7.4-.1h0m21.5 .3h0m2 .5h0m2.4-.6h0m13.3 .1h0m8.3-.1h0m7.7 .7h0m16.8-.8h0m32.5 .5h0m15.9-.5h0m4.3 .7h0m7.3-.6h0m18.7 .6h0m.2-.8h0m1.8 .8h0m3.3-.8h0m23.4 .7h0m.4-.4h0m10.5 .6h0m1.3-.3h0m4.1-.4h0m5.3 .7h0m3.1-.7h0m2.4-.1h0m.3 .8h0m1.6-.3h0m2.8 .1h0m4.3-.3h0m2.3-.4h0m2.1 0h0m.6 .8h0m2.4 0h0m.2-.1h0m1.5-.3h0m4-.2h0m.9 .4h0m4.5-.3h0m2 .3h0m.9 .2h0m8.2-.3h0m4.4-.5h0m1.8 .2h0m4.5-.1h0m6.3 .3h0m2.6 .4h0m1.6-.1h0m2-.2h0m5.1 .4h0m12.5-.7h0m20.7 .3h0m10.5 .1h0m7.7 0h0m3.6-.3h0m.2 .2h0m2.2 .3h0m48.4-.3h0m1.7 .1h0m12.1 0h0m8.6-.1h0m27.7 .1h0m14.4-.5h0m3.8 .7h0m9.1 .1h0m.3-.3h0M83.1 217.2h0m2.7 .3h0m1.9 .4h0m33.2-.4h0m53 0h0m.3-.2h0m4.4-.3h0m.3 .7h0m32.6-.5h0m8.9 .4h0m5-.4h0m9.2-.1h0m22.3-.1h0m13.1 .4h0m2.1 .4h0m1.8-.3h0m17 0h0m.1 .4h0m.5-.9h0m2.3 .8h0m4.8-.2h0m1.2-.6h0m1.8 0h0m1.8 0h0m24.4 .8h0m2.1-.1h0m2.6 0h0m.9 .2h0m1.8-.9h0m.2 .7h0m3.2-.7h0m1 0h0m4.8 .2h0m7.7 .6h0m.3-.4h0m3.5 .3h0m9-.1h0m8.9 .2h0m9.2-.6h0m.2 .6h0m8.5-.6h0m8 .3h0m4.8 0h0m2.6 .4h0m15.6-.7h0m5.4 0h0m33.1-.1h0m9.5 .7h0m31.7-.8h0m20.7 .3h0m3.7-.1h0m18 .5h0m10.2-.4h0m6.7 .5h0m2-.3h0m2.5 .3h0m5.6-.7h0M93.3 218h0m13.2 .8h0m3.1 .1h0m4.1-.8h0m1.9 .1h0m28.8 .3h0m14.4-.4h0m36.5 .2h0m35.9 .5h0m12.3 .1h0m5.8-.4h0m3.1-.5h0m4.2 .3h0m9.5 .5h0m11.3-.1h0m5.3-.5h0m8.1-.1h0m15.2 .4h0m5.4 .4h0m2-.5h0m2.1 .4h0m.1-.4h0m1.7 .3h0m.1-.6h0m.1 .1h0m1.3 .7h0m.9-.1h0m.1-.8h0m0 .7h0m2.3-.3h0m.3 .3h0m3.2-.6h0m.7 .2h0m1.6-.1h0m10.3 .3h0m5.1 .4h0m.7-.2h0m5.1-.4h0m1 .2h0m10.8 .2h0m4.6-.1h0m15-.4h0m.4 .5h0m2.6-.3h0m3.6 0h0m21.2 .3h0m12.8-.5h0m17.9 .1h0m2 .1h0m3.6 .4h0m.8-.8h0m4.9 .2h0m15.7-.1h0m2.9 0h0m.4 .1h0m11.9 .2h0m.8 0h0m2.4-.2h0m3.1-.2h0m1.7 .7h0m1.7 .2h0m9.4 0h0m2.2-.9h0m1.4 .4h0m14.5 .1h0m4.4 .3h0m15.3-.2h0m.2 .2h0m3.1 .1h0m4.4-.9h0m5 .9h0m8.1-.9h0m5.5 .3h0m7.5 0h0M81.5 219.1h0m4.1 .4h0m2.8-.2h0m2.1-.2h0m12.6 .2h0m6.6-.2h0m12.4 .8h0m3.3-.9h0m7.3 .1h0m7.8 .2h0m3.4 .2h0m4.4-.4h0m3.3 .4h0m21 .2h0m21.8-.5h0m12.3 .7h0m3 0h0m5.2 0h0m1.1-.2h0m8.9-.7h0m12 0h0m2 0h0m.6 .3h0m2.3 .4h0m.8 0h0m31.7 .1h0m11.7-.8h0m.5 .1h0m.3-.1h0m3.3 .3h0m19.2 .6h0m1.1-.3h0m.3-.1h0m3.3 .3h0m4.6-.5h0m1 .5h0m6.7-.6h0m2 .3h0m7.9 .2h0m3.3 .2h0m.7-.7h0m.4 .1h0m1.4-.1h0m2.3-.2h0m1.2 0h0m4.8 .7h0m5-.1h0m2.4-.1h0m10.7 .2h0m.5 .2h0m.6-.6h0m.9-.3h0m4.5 .1h0m2.3 .6h0m1.2-.5h0m24.5 .1h0m4.7-.3h0m1.1 .5h0m7.3-.4h0m.6 .6h0m9.7 .2h0m10.4-.7h0m3.9 0h0m4.5 .6h0m5.9-.7h0m25 .6h0m10.6 0h0m.6-.4h0m8.7 .1h0m23.8 .4h0m2.7 0h0m2.6-.3h0m21.7-.3h0m2.2 0h0m3.7 .4h0m12.7-.5h0m.5 .4h0m.7-.4h0m.9 .4h0M81 220.8h0m4.5-.8h0m16.3 .6h0m4.2 .2h0m22.5-.4h0m6.5 .3h0m13 .1h0m4.8-.2h0m11.5 0h0m8.2 .3h0m9.7-.4h0m14 .4h0m6.4-.1h0m1.3-.1h0m.2 .1h0m61.6-.4h0m4.4-.3h0m5.5 .3h0m.5-.3h0m3.5 0h0m5.4 .2h0m3.6-.3h0m3 .7h0m5.1-.4h0m3.5 0h0m1.3-.1h0m3.7 .7h0m1.3-.2h0m10.1-.6h0m7.1-.1h0m1.1 .2h0m0 .1h0m4.9 .2h0m.1 .1h0m.2 .1h0m.1-.5h0m1.8 .5h0m2.2 0h0m1 0h0m4.1 .1h0m6.6 .1h0m1.2 0h0m11.8-.2h0m2.1-.2h0m1.8 .3h0m6.7-.3h0m3.9-.5h0m5.2 .3h0m.3 .4h0m7.1-.5h0m5.4 .2h0m9.5 .4h0m10.9-.8h0m15.3 .9h0m8.4-.4h0m9.7-.3h0m7.1 .1h0m13.2 .5h0m23.2 .1h0m7.4-.8h0m.9 0h0m2.7 .3h0m2.1 .2h0m.2 .2h0m5.9-.8h0m22.3 .3h0m6.9 .4h0m19.6-.7h0M85.5 221.9h0m7.9-.6h0m4.9 .2h0m2.5 .2h0m4.7-.1h0m19.5 .1h0m4.8-.1h0m.7-.2h0m11.1 .3h0m4.1 0h0m2.6-.2h0m3.3-.4h0m2 .6h0m7-.1h0m2.9-.4h0m7.9 .3h0m31.8-.3h0m19.1 .2h0m32.6-.1h0m8.9 .4h0m3.9 0h0m12-.7h0m5.6 .4h0m11.1-.3h0m.3 .2h0m5.4 .2h0m4.3 .1h0m.6 .3h0m.2-.4h0m1.4 .2h0m.5 .2h0m1.3-.8h0m1.9 .1h0m4.2 .4h0m.6 .1h0m4.5-.6h0m5.1 .4h0m.9 .2h0m4.2-.4h0m.1 .2h0m5.9-.2h0m2.1 .6h0m1.3-.6h0m3.4 .4h0m1.5-.3h0m.2-.2h0m1 .2h0m1.9 0h0m2.3-.4h0m4.4 .7h0m8.2-.6h0m8 .2h0m6.5-.2h0m6.6 .1h0m11 .3h0m14.8 .2h0m3.7-.7h0m4 0h0m4.8 .3h0m7.7 .2h0m9.8 .3h0m29.9-.8h0m18.6 .3h0m5.4 .6h0m4.2-.4h0m.6-.2h0m8.5 0h0m11.8 .4h0m1.9 .2h0m.5-.6h0m1.8-.2h0m3.6 .8h0m3.2-.3h0M85.9 222.2h0m9 .2h0m27.9 .1h0m3.9-.2h0m10.2-.3h0m19 .9h0m.4-.3h0m32.7 0h0m3.5 .2h0m5.1-.7h0m7.1 .6h0m5.9-.3h0m5.4 .2h0m6.3 .3h0m7.3-.1h0m3.5-.7h0m1.4 .1h0m17.4 .7h0m10.8-.4h0m7.3 .1h0m11.8-.5h0m4.8 .8h0m8-.4h0m1.7-.1h0m3.6 .5h0m.1-.8h0m3 .3h0m7.8-.1h0m2.4 0h0m1.8-.2h0m4.4 0h0m1.4 .1h0m1.4 .4h0m.3-.1h0m2.5 0h0m4.2-.3h0m0 .7h0m.7-.7h0m1.5 .2h0m1.6-.4h0m.4 .6h0m5.2-.2h0m.6 .4h0m1.2-.1h0m6.4 0h0m3.9-.7h0m.4 .2h0m6.2 .7h0m21-.2h0m1.2-.7h0m6.1 .1h0m3.9 .5h0m3.2-.3h0m2.9-.2h0m2.1 .2h0m3.6-.1h0m10.6-.1h0m8.2 .1h0m1.8-.2h0m4 .6h0m12 .1h0m18.3-.2h0m32.7 .3h0m6.8-.7h0m1.4 .5h0m1-.6h0m6.5 .8h0m.4-.1h0m8.4-.6h0m1.3 .1h0m5.8 .5h0m2.6-.1h0m2.9-.3h0m23.1 0h0m1-.2h0m14.7 .5h0M86.7 223.9h0m17.8-.3h0m5.6 .1h0m17 .2h0m1.2-.3h0m2.8 0h0m10.1 0h0m14.6-.5h0m8.9 .3h0m33.6 .3h0m1 0h0m8.3-.4h0m2.8-.1h0m14.7 .1h0m7.5-.3h0m36.5 .7h0m5.7-.4h0m25.7 .4h0m10-.5h0m.9 .2h0m1.4 .3h0m.3 .2h0m1.6 0h0m1.3-.1h0m5.7-.3h0m.2-.1h0m2.2 0h0m.3 .3h0m.3-.1h0m1.2 .1h0m.9-.4h0m.6 .2h0m2.8-.3h0m.8 .3h0m.8 .1h0m.2-.4h0m.9 0h0m.3 .2h0m2.4 .5h0m5.8-.1h0m2.6-.1h0m1.5-.6h0m2.3 .8h0m.3-.8h0m26.9 .4h0m14.8-.5h0m11.7 0h0m13 0h0m1.3 .6h0m12 .1h0m25.4 .2h0m.5-.3h0m1.6 .1h0m1.1-.6h0m3.2 .2h0m17.1-.1h0m19.6 .7h0m7.5-.5h0m1.9-.2h0m4.9 0h0m30.6 .7h0m7.7-.4h0m4.6 .2h0m.1 .1h0m2.7-.1h0m3.4 0h0m9.4 0h0M82.9 224h0m13 .7h0m19 .1h0m5.4-.6h0m8 .5h0m5.8-.6h0m22 .6h0m.2-.7h0m3.5 .9h0m1.1-.6h0m5.5 .2h0m2.8 .4h0m6.7-.4h0m5.9 .4h0m11.2-.2h0m.7-.7h0m.7 .3h0m13 .4h0m6.6-.1h0m5-.2h0m9.5 0h0m3.2-.3h0m5.6-.1h0m7.4 .7h0m3.5-.1h0m3.6 .1h0m8.3-.5h0m1.9 .4h0m.7-.4h0m5.8-.1h0m16.4 .4h0m2.3-.1h0m1.5 0h0m.6 .2h0m4.6-.3h0m.7 .6h0m8.4-.1h0m2.6-.2h0m.9-.1h0m1.2-.2h0m3.9-.3h0m.2 .2h0m2.6 0h0m1.9 .3h0m4-.1h0m3.5 .1h0m7.3 0h0m.1 .4h0m2.8-.6h0m.9 .1h0m2.9-.3h0m6.5 0h0m.9 .7h0m.9 .1h0m5.4-.8h0m1.7 .7h0m7.6-.3h0m3.3 .2h0m11.4-.5h0m6.8 .6h0m2.3-.3h0m8.8 .1h0m.3-.3h0m.1-.1h0m15.6 .7h0m.4-.7h0m1.8 .4h0m.8 .3h0m8-.1h0m35 0h0m24.3-.3h0m0-.3h0m23.2 .6h0m.8-.6h0m9.3 .4h0m2-.3h0m17.1 .3h0m6 .3h0m.5-.2h0m16-.5h0m11.5 .1h0M90 225.3h0m20 .2h0m9.1 .4h0m9.7-.9h0m3.9 .2h0m29.3 .4h0m6.2-.4h0m4.7-.1h0m5.8 .6h0m10.8-.1h0m5.9-.6h0m18 .5h0m2.4 0h0m5.1-.5h0m28.7 .3h0m20.8 .3h0m.4-.4h0m4 .2h0m9.3 .2h0m1.3 .3h0m2.7-.9h0m1.2 .4h0m1.7-.2h0m16.9 .7h0m.7-.5h0m7.7-.4h0m6.3 .8h0m1.4-.8h0m2.1 .4h0m1.1 .4h0m1.5-.2h0m1.7-.5h0m.5-.1h0m2.1 .9h0m2.5-.9h0m.3 .8h0m4.3-.1h0m.5 0h0m2.8-.5h0m1 .4h0m9.3-.1h0m2.7 .1h0m4.9 .3h0m13.6-.7h0m1.4 .1h0m4.7-.3h0m6.1 .8h0m54-.5h0m.5 .1h0m4.4 .3h0m.2-.1h0m5.3 0h0m8.5 .2h0m5.3 0h0m16.1-.1h0m8.2 .1h0m8.1-.3h0m5-.1h0m.4 .1h0m33.2-.5h0m19.4 0h0m14.8 .1h0m1 .8h0M80.1 226.7h0m5.8-.7h0m11.2 .9h0m6.3-.3h0m0-.6h0m.2 .2h0m3.9 .7h0m11.6-.4h0m3.5-.5h0m23.3 .4h0m3.5 .4h0m8.4-.4h0m10 .3h0m6.3-.6h0m1 .3h0m4.4 .4h0m12.5 0h0m3.1-.1h0m2.7 0h0m12.2 .1h0m10.6 .1h0m24.2-.2h0m1.8-.7h0m16.9 .5h0m13.6-.5h0m1 .4h0m9.1 .1h0m1.9-.1h0m6.6 .4h0m3.2 .1h0m4.5-.8h0m2.9 .4h0m1.2 .1h0m8.8-.4h0m3.1-.1h0m.1 .7h0m.5-.6h0m1.7 .4h0m.3 .1h0m2-.7h0m2.6 .8h0m.9-.8h0m.2 .1h0m.5 0h0m1.2 .5h0m.2-.4h0m2.1-.1h0m11.4 .3h0m.8 .1h0m12.7-.3h0m.6 .5h0m7.3-.3h0m11.8-.1h0m6.6-.1h0m18.4 .2h0m6.8 .4h0m23.6-.7h0m9.4 .1h0m5.6 .7h0m2.6-.6h0m16.5 .5h0m13-.5h0m14.6-.3h0m8.1 .5h0m0 .3h0m3.2-.5h0m12.3 .2h0m1.4 .2h0m7.3 .2h0m10.8-.7h0m.9 .4h0m7.9-.1h0m19-.4h0m3.8 .8h0M84.4 227.1h0m0 .8h0m23.7-.1h0m.5 .1h0m5.6-.3h0m.4 0h0m26.3 0h0m33.2-.1h0m21.2 .1h0m6.4-.4h0m44.6 .6h0m2.7 0h0m4.6-.1h0m12.3-.7h0m13.6 .1h0m3.7-.1h0m6.3 .9h0m3.8-.5h0m4.1 .4h0m12.6 0h0m.3-.6h0m2.3 .6h0m1.1-.6h0m2.2 .4h0m.5-.2h0m4.1-.2h0m4.6 .7h0m2.8-.8h0m.2 0h0m1.8 0h0m3.7 .8h0m1.2-.6h0m.9 .6h0m.7-.2h0m1.2-.7h0m.3 .8h0m.7-.4h0m2.2 .1h0m8.3-.3h0m1 .6h0m4.3-.1h0m2.7-.1h0m.3-.3h0m1.9 .4h0m6.8 .1h0m6.1-.8h0m1 .6h0m5.2 .2h0m1-.5h0m6.3 .1h0m.5-.2h0m10.1 .2h0m13.9 0h0m9.3 .1h0m48.1-.2h0m1.2 .3h0m21-.5h0m1.8 .2h0m3.9 0h0m6.5-.3h0m28.2 .3h0m11 .5h0m11.6 .1h0m2.6-.8h0m12.6 .6h0M81.1 228.5h0m3.3 .4h0m10.6-.5h0m9 .5h0m3.2-.2h0m10.3-.1h0m7.6 0h0m15.6-.3h0m2.2 .3h0m7 0h0m19.7 .2h0m6.7-.6h0m6 0h0m3.2-.1h0m11.8 .5h0m6.8-.5h0m3 .4h0m14.4 .2h0m9.4-.4h0m1.5 .3h0m27.3-.3h0m1 .1h0m2.7-.4h0m7.9 .8h0m4.3-.8h0m12.4 .5h0m1.6-.1h0m11.2 0h0m1.8 0h0m1.8-.4h0m2.2 0h0m.4 .1h0m2.7-.1h0m4.5 .3h0m1.3 .6h0m.4-.1h0m12.3-.1h0m1.9-.1h0m2.2-.5h0m2.3 .5h0m3.4-.2h0m.7 .1h0m1.7 .4h0m4.3-.7h0m1.7-.2h0m1.9 .5h0m.1 .3h0m.4-.8h0m7.7 .6h0m16-.2h0m5.8 .3h0m7.3 0h0m3.6 .2h0m3-.7h0m28.5 .4h0m9.8 .1h0m27-.1h0m2.2-.5h0m.7 .1h0m5.1 0h0m3.9 .7h0m16.5-.1h0m2.6-.2h0m14.4-.5h0m2 .3h0m12.2 .1h0m2.8 .2h0m1.2 .2h0m1.9-.5h0m4.5 .3h0m17.5 .2h0m.4-.8h0m8.7 .4h0m7.8-.1h0M79.1 229.1h0m22 .1h0m6 .7h0m7.4-.8h0m1.5 .5h0m.9-.3h0m3.7 .1h0m4.5 .2h0m.4-.2h0m.4-.2h0m1.8 .6h0m6.4-.3h0m1.9 .4h0m.8-.5h0m7.6 0h0m3.3-.4h0m16.2 .7h0m1.1-.2h0m.1-.5h0m15.3 .2h0m40.1-.2h0m9.3 .7h0m14.1 .1h0m1-.5h0m12.1-.3h0m6.9 .7h0m1.7 .1h0m0-.4h0m5.5-.1h0m8.5 .1h0m.2 0h0m.4-.3h0m2.4 0h0m.4 .8h0m10.1-.3h0m2.1 .1h0m4.2-.5h0m4.1 .7h0m.7-.4h0m0 0h0m6.6 .4h0m.6-.1h0m.5-.1h0m2.8-.6h0m6.6 .3h0m1-.2h0m6.2 .3h0m3.8-.3h0m.7 .7h0m4.1-.4h0m1-.4h0m4.5 .6h0m.2-.6h0m1.3 0h0m3.1 .6h0m15.7-.3h0m5.3 .5h0m.6-.4h0m8.7-.2h0m6.8 0h0m10.8-.1h0m9.7 .6h0m8.7 .1h0m13.5-.2h0m6.1-.2h0m4.9 .3h0m10-.3h0m1.4-.2h0m1.9-.3h0m.8 .9h0m5.1-.6h0m7.4 0h0m5.7-.2h0m5.5 .6h0m9 .2h0m1.6 0h0m13.4-.1h0m.7-.3h0m9.4-.1h0m.2-.3h0m2.9 0h0m.6 0h0m1.4 .8h0m6.3-.5h0m10.6 .5h0m14.5-.8h0m4.8 .7h0m11.8-.4h0m5.9 .5h0m.4-.5h0m.6 .1h0M80.5 230h0m10.9 .7h0m7.5-.2h0m0-.2h0m14.7 .2h0m12.5 0h0m2.3 .2h0m24.7-.6h0m14.9 .7h0m26.8-.5h0m1.1 0h0m16.5 0h0m11.3-.2h0m21.9 0h0m5.9 .1h0m9.8 .2h0m15.7-.4h0m.2 .7h0m9.4 .1h0m1.9 0h0m8.5-.8h0m4.1 .9h0m.9-.7h0m.3-.2h0m1 .8h0m4.6-.4h0m1.8 .2h0m1.1 .2h0m.8-.2h0m1.5-.6h0m7 .9h0m1.1-.3h0m1.9-.5h0m.9-.1h0m.2 0h0m5.3 .8h0m.8-.3h0m1.7-.2h0m1.9 .1h0m2.1 .5h0m1.6-.1h0m2-.6h0m.6 .4h0m1.4 .1h0m.1-.2h0m6-.2h0m13.4 .1h0m3.1-.2h0m9.8 .1h0m2.5-.3h0m.6 .2h0m2.6 .5h0m4.4 .2h0m4.5-.8h0m.4 .4h0m11 .4h0m16.3-.6h0m2.9 .2h0m18 .2h0m.4-.4h0m1.4-.1h0m8.1 .7h0m2-.4h0m5.7-.1h0m17.6 .1h0m2.6-.2h0m18.8 .5h0m7.9-.6h0m1.3 .3h0m4-.4h0m1.3 .5h0m4.6 .2h0m10.5-.4h0m9.2-.3h0m3.2 .4h0m19.5-.2h0m4.7 0h0m3.2 .4h0m8.2-.4h0m.2 .3h0M91.6 231.7h0m.8-.5h0m2.5 .5h0m19.8-.6h0m10.2 .3h0m30.9 .1h0m6-.1h0m2.2 0h0m1.7 0h0m.1-.4h0m8.6 0h0m.9 .9h0m1.5-.3h0m8.9 .3h0m4.4 0h0m2.6-.8h0m11.4-.1h0m3.7 .4h0m4.6 .5h0m19.1-.2h0m12.3-.2h0m3.1 .3h0m1.1-.8h0m7.9 .7h0m.9 .1h0m6.1-.7h0m7.4 .4h0m.5-.1h0m3.3 .1h0m11.9 .2h0m2.6-.6h0m10.6 .6h0m4 .2h0m6.8-.1h0m2.6 0h0m3.4-.8h0m2.2 .4h0m1.1 0h0m4 .2h0m.1-.4h0m.5 .6h0m.5-.2h0m3.9 .1h0m.2 .2h0m.1-.6h0m1.9 .6h0m1.4-.5h0m.5 .5h0m1.1-.8h0m3.5 .3h0m1.8 .4h0m1-.1h0m14.8-.6h0m1-.1h0m9.4 0h0m1.3 .8h0m.2-.8h0m.1 .3h0m2.7-.2h0m10.3 .6h0m10.9-.1h0m5.5 .1h0m1-.6h0m.8 .7h0m10.1-.8h0m5.2 .9h0m4.8-.6h0m.8 .4h0m14.5-.7h0m4 .5h0m17.2-.1h0m1.3 .2h0m2.4 .2h0m8.4-.7h0m7.3 .3h0m1.9 .2h0m6.3-.4h0m9.5 0h0m19.6-.1h0m1.6 .6h0m2.4-.6h0m0 .5h0m19.2 .3h0m13.6-.4h0m13.7 .2h0m7.7-.4h0m.9 0h0M81.4 232h0m8 .9h0m8.5 0h0m5.9-.5h0m21.9-.4h0m6 .7h0m5.1-.7h0m.3 .7h0m2.1 0h0m2.9-.6h0m11.6 .4h0m1.6 .4h0m1.7-.9h0m8.7 .4h0m4.7 .5h0m15.6-.7h0m.3 .3h0m2.9-.5h0m24.8 .6h0m12.6-.3h0m5.9 .6h0m1.9-.3h0m9.1 .2h0m27.6-.1h0m5-.4h0m9.4 0h0m5.4 .2h0m4.2 .1h0m13 0h0m.7-.2h0m6-.3h0m.8 .7h0m.2-.8h0m1.3 .2h0m.2-.1h0m4.3-.1h0m1.3 0h0m.5 .9h0m2.6-.3h0m.5 .3h0m.4-.8h0m3.1 .7h0m1.7-.3h0m2.2 .4h0m0-.8h0m2 .8h0m4.3-.8h0m.1-.1h0m1.9 .2h0m2.8-.2h0m9.8 .4h0m2.5 .3h0m4.6 .1h0m3.5-.7h0m3.4 .5h0m3.6 0h0m3.7-.5h0m8.5 .4h0m24.3 .3h0m59.5-.1h0m.4-.4h0m.7 .4h0m3.6 .2h0m1.1-.7h0m.3 .5h0m13.4-.7h0m3 .1h0m40 .3h0m1.4 0h0m11.2-.3h0m5.7-.1h0m10 .8h0M94.2 233.8h0m12.6 .1h0m12.4-.8h0m3.6 .4h0m11.6-.5h0m20.9 .7h0m7.9-.3h0m12.2-.4h0m.8 .4h0m14.8-.2h0m1.3 .5h0m1.6-.3h0m26.3 .5h0m.9-.7h0m.8 .5h0m2-.6h0m17.5 .8h0m7.3-.1h0m15.6-.1h0m7.7 .1h0m1.4-.3h0m7.5-.4h0m2.2-.1h0m9.9 .2h0m1.3 .5h0m8.1 .2h0m4.7-.8h0m.9 .6h0m7.7-.2h0m2.2 .1h0m7.1-.4h0m3.7 .4h0m2.4-.2h0m4.7 .5h0m.9-.2h0m.9 0h0m.2-.3h0m3.8-.3h0m2 .8h0m.9-.9h0m1.3 .2h0m.4 .3h0m18.3 .4h0m2.1 0h0m17.3-.3h0m5.3 .3h0m17-.4h0m.9-.4h0m14.6 .3h0m.4-.4h0m6.8 .3h0m24.3-.2h0m2.7 .1h0m1.1 .4h0m19.4 0h0m3.9-.1h0m7.8-.2h0m2.2 .1h0m1.1-.3h0m.5 .2h0m8.1-.3h0m7.2 .4h0m2.2 .3h0m7-.1h0m4.4-.1h0m2.8-.2h0m1.9 .5h0m2.8-.3h0m.3-.1h0m3.6 .5h0m6.4-.7h0m7 .5h0m2.9 .1h0m4.3-.6h0m13.7 .4h0m2.9-.6h0M79.5 234.3h0m2.4 .4h0m3.6-.1h0m3.5 .1h0m.6 .1h0m23.8-.2h0m1-.2h0m61.2-.4h0m3.5 .1h0m5 0h0m25.5 .7h0m3.1-.5h0m1.9 .6h0m.2 0h0m8.7-.1h0m2.2-.8h0m4.5 .7h0m22.8-.4h0m5.9 .6h0m8.4-.2h0m14.3-.6h0m5.8 .2h0m3.1 .4h0m3.4-.1h0m8.3-.1h0m1.8 .2h0m.7-.3h0m.7-.1h0m6.6-.1h0m5.9 .6h0m1.2-.2h0m10-.3h0m.4 .4h0m.7-.2h0m3.7-.1h0m.3 .5h0m7.1-.2h0m.2-.4h0m.1-.2h0m1 .6h0m1.3-.5h0m2 .3h0m2.8-.5h0m.4 .7h0m5.7-.7h0m5 .2h0m1.1 0h0m1.4 .2h0m6.2 .1h0m3.4-.5h0m8.2 0h0m.3 .9h0m2-.1h0m4 0h0m6.9-.5h0m9.4 .2h0m2.7 .3h0m1.5-.6h0m9.8 .2h0m7.3 0h0m2.5 .3h0m28.8-.4h0m2 0h0m13.2 .5h0m46.8-.5h0m9.9 .6h0m0-.7h0m7.3-.1h0m27.2 .5h0m4.2 .3h0m3-.5h0M80.7 235.2h0m4.9-.2h0m12.9 .6h0m.5-.6h0m3.3 .1h0m2.9 0h0m5.4 .6h0m6-.7h0m2.4 .1h0m.5 0h0m1.9 .2h0m3.1 .5h0m.9-.1h0m4.1 0h0m3.8-.5h0m.5 .1h0m0 .2h0m.8-.2h0m11.5-.3h0m2.4 .8h0m3.3-.8h0m1.7 .5h0m5.1 .4h0m23.2-.4h0m.4-.1h0m.4 0h0m1.8 .1h0m8.6 0h0m.4 0h0m1.8-.5h0m7 .5h0m.6 0h0m5.8 .3h0m.4-.8h0m.3 .5h0m1.5-.2h0m5.7 .2h0m2.5 0h0m6.3 .1h0m4 0h0m6 0h0m1.7-.1h0m.3 .2h0m1.3-.2h0m2.2 0h0m1.9 0h0m3.2 .2h0m.4-.5h0m7.4 .5h0m2.4-.2h0m1 0h0m1.5 0h0m1.3 0h0m.1 0h0m.2 0h0m1.9 .3h0m.3-.3h0m.8 0h0m.8 0h0m1.1 0h0m.4-.3h0m.8 .2h0m1.9-.4h0m1.1 .5h0m1.2 0h0m.5 0h0m4.8 0h0m2.2 0h0m.8 0h0m4.6 0h0m.5 0h0m.4 0h0m.6 0h0m5.9 0h0m1.3 0h0m.1 0h0m.2 0h0m.7 0h0m6.3 0h0m1.9 0h0m.3 0h0m1 0h0m1.2 0h0m.1 .4h0m.2-.4h0m2.1 .4h0m.2-.9h0m.7 .3h0m1.3 .2h0m2.6 0h0m1.2 0h0m.4 0h0m1 0h0m0 0h0m.4 0h0m.6 0h0m.1 0h0m1.3 0h0m1.2 0h0m1.2-.1h0m1.3 .1h0m.3 0h0m1.4 .4h0m.8-.4h0m1.2 0h0m1.6 0h0m1.1-.3h0m2.1 .3h0m1 0h0m.5 0h0m1.2 .2h0m.3-.2h0m.2-.4h0m.8 .8h0m.3-.9h0m.1 .9h0m1.4-.4h0m1 0h0m.1 0h0m1.6 0h0m.1 0h0m.8 0h0m3.8 0h0m.4 0h0m1.4 0h0m1-.2h0m3.5 .2h0m.2 0h0m.8 0h0m2.5 0h0m2.1 0h0m1.4 0h0m1.8 0h0m.8 0h0m1.5 0h0m.7 0h0m.9-.5h0m.6 .5h0m1.6 0h0m.8 0h0m.3 0h0m.8 0h0m1.8 0h0m1.1 0h0m3.2 0h0m.9 0h0m1.3 0h0m4.2-.3h0m1.6 .3h0m1.2 0h0m3 0h0m1-.4h0m.3 .2h0m3.3 .2h0m.4 0h0m1.5 0h0m1.3 0h0m.1 0h0m.4 0h0m5.3 0h0m.2 0h0m1.2 0h0m.6 0h0m1.7 0h0m1.1 0h0m3.3-.4h0m.4 .4h0m7.5-.2h0m0 .2h0m1.3 0h0m12.6 0h0m1.8-.3h0m1 .5h0m0-.7h0m1.3 .5h0m2.7 0h0m4.9-.5h0m2.3 .5h0m.2 0h0m4.2 0h0m2.5 0h0m.4 0h0m2.9 0h0m.3-.3h0m3.8-.2h0m2.9 .5h0m5.9-.5h0m3.1 .5h0m17.1 .4h0m4-.5h0m5.4-.2h0m1 .2h0m5.5 0h0m2.2-.1h0m13.2-.2h0m1.6 .8h0m20.3-.3h0m22.4 .3h0M83.5 236h0m7.7 0h0m5.2 .1h0m4.4 0h0m2 .3h0m8.6-.4h0m4.6 .9h0m2.1-.2h0m.4-.5h0m0 .2h0m4.9-.1h0m.8 .2h0m4.7 .3h0m13.1-.2h0m3.2 0h0m6.1-.2h0m30.2-.4h0m28.7 .5h0m4.1 .2h0m1.6-.7h0m9 .4h0m3.8 .1h0m4.8-.3h0m20.2-.2h0m4.8 .9h0m2.9-.2h0m5.2-.2h0m1.1 .3h0m2.8 0h0m4.2-.5h0m11.6-.3h0m6.9 .8h0m1.3-.3h0m3.7 .3h0m3.9-.2h0m1.5 0h0m1-.3h0m3.2 .5h0m1-.1h0m.1 .2h0m1.5-.1h0m3.4-.6h0m8.1 .4h0m2 0h0m.8-.1h0m2.6-.2h0m1.4-.3h0m.8 .9h0m4.2-.2h0m6.7-.1h0m17.4-.1h0m15.6 .1h0m5.3 .2h0m.3-.4h0m.8 .3h0m3.4 .2h0m2.4-.9h0m9.4 .6h0m15.6-.2h0m10.8 .1h0m3.3-.4h0m22.3 .8h0m6.6-.8h0m8.2-.1h0m11.1 .1h0m.2 .7h0m6.2-.6h0m3.5 .5h0m1 .1h0m3 0h0m4.2-.2h0m6.3-.6h0m.5 0h0m6 .8h0m25.9-.7h0m2.1-.1h0m6.5 .5h0m7.1 .4h0m3.8-.1h0m3.1-.4h0m5.9 .4h0m3.9-.1h0m5.2-.6h0m2.8 .1h0m1.4 .2h0M84.4 237.9h0m4.4-.9h0m4.3 .5h0m.2 0h0m.7-.5h0m4.5 .9h0m3.1-.4h0m4.6-.1h0m22.7 .1h0m1.4 .2h0m7.4-.5h0m11.3 .5h0m2.2-.7h0m4.6 .2h0m3.3 .1h0m4.3 0h0m4.1 .3h0m10.1-.2h0m14.5-.4h0m7.1 .6h0m28.4 .3h0m7.6-.4h0m6.2 .3h0m8.5-.8h0m1.7 .7h0m5.6-.1h0m8.2-.5h0m1.9 .4h0m8.3-.4h0m4.9 .6h0m5.6-.4h0m7.5 .3h0m6.6 .3h0m2.2-.9h0m8.2 .4h0m.6 .1h0m4.3 .3h0m.8-.2h0m5.9-.3h0m.7 .2h0m.9-.3h0m.6 .4h0m2.3-.1h0m1.2-.3h0m1.2-.1h0m.8 0h0m1.2 .7h0m.6-.6h0m1.5-.1h0m3.7 .5h0m6.1 .2h0m.6-.2h0m11.8-.5h0m20 .3h0m.3-.4h0m7.2 .8h0m12.8 0h0m14.3-.8h0m3.7 .2h0m2.8 .2h0m26.3 .5h0m1.4-.6h0m1.8 .5h0m1.5-.6h0m.3-.2h0m29.1 .1h0m7.8 .3h0m6.3-.2h0m4.1 .4h0m8.3-.4h0m.2 .3h0m2.1-.2h0m6.3-.2h0m6.8 .1h0m12.9 .1h0m3-.3h0m8.8 0h0m6.3 .9h0m8.9-.2h0m3.4-.4h0m.9 .6h0M91 238.9h0m3.8-.2h0m3.4-.1h0m13-.4h0m3.5-.1h0m15.3 .7h0m2.8-.8h0m3.8 .2h0m7.8 .7h0m20.1-.7h0m9.8 .1h0m2.9-.3h0m2.6 0h0m4.7 .8h0m2.5-.3h0m3.6 .2h0m1.8-.4h0m3.4-.3h0m3.7 .6h0m11.5-.5h0m9.6 0h0m1.2 .5h0m6-.6h0m4.5 .5h0m1.1 .3h0m7.4-.3h0m2.8 .4h0m.5-.3h0m1.4 0h0m31.5-.4h0m18.3 .6h0m1 0h0m.8-.3h0m1.2-.2h0m.3-.3h0m3.8 0h0m5.9 .6h0m2 .1h0m3.3 .2h0m4.3-.4h0m8.1-.4h0m8.9 .1h0m1.4 .7h0m2.6-.8h0m5 .1h0m1.2 .6h0m5.7 .1h0m.2-.9h0m2.7 .2h0m4.2-.1h0m3.4-.1h0m3.2 .7h0m2.2-.6h0m4.9 .8h0m2.9-.3h0m7.6 .3h0m11.5-.7h0m4 .5h0m8.5-.5h0m.3 .4h0m1.2-.2h0m6 .2h0m3.2-.3h0m3.9 .4h0m1 0h0m1.3 0h0m1.5-.1h0m9.5 .1h0m3.7-.4h0m2.2-.2h0m1.6 .5h0m2.5 .2h0m9.1-.2h0m21.3-.6h0m4.6 .5h0m.7-.5h0m3.6 .1h0m6.8 .7h0m5.2-.5h0m3.6 .2h0m16.8-.2h0m5.8-.2h0m5.5-.1h0m6.2 .9h0m6-.2h0m3.1-.4h0m1.7 .4h0m10.7-.3h0m11-.1h0m1.2 .3h0M81 239.2h0m4 .2h0m5 .4h0m6.3-.7h0m24.3 .7h0m1.9-.8h0m5.3 .6h0m17.5 .1h0m1.4-.2h0m4.2-.4h0m6 .6h0m9.4 .1h0m1.6-.6h0m.5-.1h0m.2 .7h0m15.6-.3h0m14.4 .1h0m1.3-.4h0m3.9 .3h0m24.6 .1h0m4.9-.3h0m11.9 .2h0m19.1 .3h0m1.5-.3h0m1.8-.5h0m8.5 .4h0m4.3 .4h0m.7-.7h0m2.3 .3h0m3.2 .1h0m2.9 .1h0m7.6-.4h0m.5-.2h0m3.5 .3h0m1.3 .3h0m4.3-.6h0m1.5 .7h0m8-.5h0m.8 .3h0m.8-.1h0m2.4 .5h0m3.8-.7h0m2 .3h0m1.3-.1h0m1.7-.1h0m.5-.2h0m.8-.1h0m2.8 .5h0m7 .3h0m16 .1h0m1.1-.1h0m21.4-.4h0m.4-.4h0m1 .4h0m8.4 0h0m2 .1h0m.2 .1h0m1.9-.4h0m6.3 .7h0m9.2-.5h0m1.5 .4h0m1.7 0h0m5.4-.2h0m17.7 0h0m7.1 0h0m1.6 .3h0m4.1-.3h0m8.6 0h0m12.6 .1h0m2.1 0h0m20.1-.1h0m.8-.4h0m4 .5h0m11.8-.7h0m8.8 .9h0m2.1-.7h0m2-.1h0m2.7 .5h0m1.3 0h0m14.7 .2h0m4.9-.5h0m.1 .3h0m7.8-.5h0m1.6 .5h0m8.1 .3h0m8-.6h0m1.6-.1h0M79 240.7h0m1.1-.5h0m24.9 .6h0m3.3-.5h0m0-.1h0m2.5 .3h0m4.4 0h0m4.3 .2h0m1.6-.3h0m8.4 .3h0m14.9-.7h0m2.5 0h0m9.6 .4h0m9.1-.3h0m17.3 .7h0m9.8-.6h0m3.1 .6h0m7.5-.4h0m3.7 .2h0m4.4-.2h0m21.4-.4h0m5.8 .1h0m2.4 .7h0m5.9-.8h0m.7 .2h0m19.8 .3h0m12.7-.2h0m3.6 .1h0m1-.1h0m8.4 0h0m1.8 .2h0m3.8 .4h0m4 0h0m2.2-.8h0m8.6 .7h0m.4 .1h0m2.3-.9h0m.1 0h0m4.1 .5h0m.8 .1h0m2.4-.1h0m7.3 .1h0m11.8-.5h0m3.1 .7h0m3.7 0h0m4.2-.6h0m4.6 .6h0m5.4-.4h0m7.4-.4h0m.6 .9h0m11.1-.1h0m5.7-.4h0m5 0h0m3.3-.1h0m16.8 .1h0m17.5 .4h0m10.3-.5h0m10.1 .5h0m.6 .1h0m8.4-.4h0m1.4 .4h0m9.6-.7h0m6.5 .4h0m8.2 .2h0m.8-.7h0m43.7 .3h0m3.9 .1h0m4.7 .2h0m9.3 .1h0m5.6-.2h0M80.2 241.8h0m1.2-.2h0m3.9 .2h0m2.5-.1h0m6.4-.4h0m29.2 .5h0m5.1-.3h0m6.8 0h0m2-.1h0m6.7-.3h0m9.3 .7h0m3.5-.1h0m5.9-.6h0m1.2 .7h0m2-.2h0m1.9-.2h0m3.8-.2h0m5.3 0h0m9.9 .4h0m27.2 0h0m4.3-.5h0m1.1 .1h0m0 .7h0m25.1-.4h0m.1-.2h0m1.1 .6h0m.6-.5h0m4.3 0h0m6.4-.4h0m1.8 .3h0m20.1 .3h0m1 .1h0m0 .2h0m2.5-.9h0m4.6 .5h0m3.7-.4h0m.7 .5h0m2.3 .1h0m.1-.6h0m12 .5h0m.8-.3h0m2.9 .1h0m3.2 0h0m8.4 .2h0m.4-.4h0m1.6 .1h0m2.5 0h0m.3-.2h0m4.8 .5h0m0 .3h0m.2-.4h0m1.7 0h0m2.4-.1h0m4.3-.2h0m.1 .6h0m3.8-.3h0m1.2 0h0m3.7 .4h0m8.5-.6h0m2.6 .1h0m10.4 .3h0m11.2-.5h0m.3 .6h0m7.6-.4h0m7.6-.2h0m5 .3h0m8.1 .2h0m10.5 .1h0m8.4-.3h0m1 .1h0m24-.6h0m2.1 .3h0m1.3 .2h0m3.3 .2h0m6 .1h0m3.8-.6h0m7 .4h0m1.1 0h0m1.2-.1h0m3.3-.3h0m6.1 .1h0m3.2-.2h0m7.6-.1h0m3.8 .1h0m3.1 .7h0m8.3-.4h0m3.3-.2h0m3.7 0h0m3.7 .4h0m3.7 0h0m7.2-.2h0m.2 .4h0m6.5-.5h0m8.5 .4h0m1.5-.2h0m8.6-.1h0m.1 .3h0m6.1 .2h0M80.6 242.1h0m8.2 0h0m8.2 .1h0m4.3 .5h0m16.8-.2h0m1 .2h0m13.9 .1h0m1.7 0h0m3-.2h0m21.3 .2h0m6.6-.2h0m3.6-.1h0m5.3 .2h0m10.2 .2h0m1.6-.4h0m10.8-.3h0m1.9 .5h0m6.2 0h0m2.9 0h0m8.7-.1h0m1.1-.6h0m15.3 .5h0m4.5 .4h0m5.7-.3h0m5.2 0h0m5.8-.3h0m12.2 .1h0m2 .1h0m.4 .4h0m4.1-.3h0m5.3 .1h0m1.7-.3h0m7-.3h0m3.9 .5h0m1.6 .3h0m12-.1h0m1.4-.2h0m9-.1h0m3.2-.3h0m2.9 .2h0m3.5 .1h0m.8-.1h0m.1 .1h0m11.5 .1h0m.1-.3h0m2-.1h0m.1 .7h0m2.5-.1h0m1.4-.8h0m2.7 .1h0m3.9 .8h0m2-.7h0m1.9 .5h0m3.8-.3h0m2.8 .3h0m4.5 .1h0m27.7-.1h0m4.1-.5h0m26.4 0h0m2.8 .6h0m.4-.8h0m.8 0h0m5 .7h0m3.4 .2h0m.8-.5h0m7.1 .5h0m9-.3h0m3.3 0h0m8.2-.3h0m2.6-.2h0m3.4 .5h0m.6-.2h0m2.7 .4h0m8.8-.5h0m.5 .6h0m12.5-.8h0m13.1 .2h0m5.3 .1h0m.7-.1h0m4 .5h0m2.6 .1h0m34.2-.3h0m3.5 0h0m4.7 0h0m4.8-.4h0m1.2 0h0m2.2 .4h0M106.2 243.5h0m.5-.2h0m.1 .6h0m12.4-.3h0m.8 0h0m4.1 .3h0m12.1-.5h0m2.3-.4h0m.9 0h0m1.4 .8h0m.2-.3h0m5.6 .3h0m.7-.2h0m6.7-.4h0m1.5 .1h0m1.5 .2h0m.8-.2h0m6.8 .3h0m1.7 0h0m.3-.4h0m10.1 .5h0m24.1-.7h0m2.7 .2h0m3 .4h0m1.8-.3h0m4.1 .4h0m23.5-.1h0m3.6 0h0m4.1-.5h0m4.2 .3h0m10 .4h0m15.8 .1h0m1.6-.2h0m5-.3h0m7.3-.3h0m.4 .3h0m10.5-.4h0m10.2 .4h0m.1-.3h0m5.4 .2h0m2.9 .3h0m.5-.1h0m5.8-.1h0m2.2-.2h0m.4 0h0m0 .6h0m.5 .1h0m.1-.2h0m2.1-.1h0m4.5 .2h0m1.8-.6h0m2.3 .1h0m1 .6h0m.5-.6h0m5.9 .3h0m6.8-.3h0m1.2-.3h0m2 .4h0m.9 .3h0m1.7-.2h0m2.5 .3h0m15.7-.7h0m7 .4h0m1.1-.5h0m8.4 .4h0m1.1 .3h0m1.3-.2h0m3.3 .4h0m.8-.1h0m.3-.2h0m9.2-.6h0m9.7 .5h0m2.7-.5h0m17.5 .1h0m5.4 .3h0m1.1 0h0m3.3 .4h0m6.2-.2h0m28.3 .2h0m6.1-.3h0m4-.2h0m11.6 .1h0m2.7 .5h0m3.8-.8h0m1.3 .1h0m3.7-.2h0m5.2 .4h0m5.3 .3h0m13.3-.3h0m.3 .5h0m2.3-.7h0m2.2 .5h0m7.8-.1h0m1.6-.6h0m13.8 .4h0m.4 .1h0M83.7 244.6h0m9.4-.5h0m.7 .1h0m5.2 .4h0m6.6-.5h0m7.9-.1h0m11.2 .7h0m9.9 0h0m.2 .2h0m1.2-.4h0m17 .4h0m12.7-.4h0m6.1 .4h0m6.7-.2h0m1.2 .2h0m17.6-.9h0m17 .8h0m1-.2h0m.6-.2h0m25.7-.3h0m3.7 .1h0m8 .6h0m1.5 .1h0m2.8-.4h0m4.6-.4h0m3.8 0h0m4.4 .5h0m2 .2h0m6.2-.7h0m2.8 .7h0m1.2-.3h0m4.4 0h0m3.4-.1h0m3.3 .2h0m10.5 0h0m.7 .1h0m.1-.4h0m6.7 .4h0m1.7-.2h0m.2-.2h0m.8 .5h0m2.6-.1h0m1.4-.4h0m3.4-.2h0m1.6 0h0m3.7 .5h0m1.9 .2h0m.2-.1h0m3.4-.5h0m8.4-.2h0m17.1 .1h0m1.4 .7h0m5.2 .1h0m.1-.7h0m10.3 0h0m3.4-.1h0m.4 .4h0m10.1-.2h0m9.9 .1h0m28.6 .5h0m6.6-.5h0m6.2 .4h0m10.9-.8h0m1.6 .7h0m3.1-.1h0m9.3 .1h0m.1 .1h0m1.9-.2h0m11.1-.6h0m15 .9h0m1.9-.8h0m.1 0h0m1.8 .2h0m8.7 0h0m4 .6h0m4.5-.5h0m4.9 .4h0m3.2-.6h0m.5 .5h0m1.7 0h0m.5-.2h0m10.8-.3h0m4.8-.1h0m2.1 .6h0m3-.2h0m5.5-.2h0m1.5 .1h0m2-.3h0m3.3 .4h0m6.5-.5h0m4.1 .9h0m.1-.9h0m1.1 .6h0M80.1 245.1h0m4.8 .5h0m4.8-.1h0m3.2-.3h0m6.7 .2h0m.6 .5h0m12-.1h0m5-.7h0m13.2 .1h0m27.7-.2h0m.1 .4h0m15 .3h0m6.6-.2h0m5.5-.3h0m1.2 .5h0m2.8 0h0m.7-.1h0m.3-.3h0m4.3 0h0m2.5 .1h0m3.9 .5h0m23.4-.2h0m2-.6h0m1.3 .1h0m26.3 .2h0m8.7 .5h0m2.6-.4h0m2.3 .1h0m8.4 .2h0m.9-.7h0m4.9 0h0m9.2 .4h0m1.9-.3h0m15 .2h0m1.4 0h0m1.3 .2h0m3-.5h0m.9 .1h0m1.7-.2h0m2.3 .2h0m1.5 .4h0m2.2 .1h0m4.5 .1h0m3-.8h0m7.4 0h0m6.2 0h0m4.5 .4h0m.3 0h0m2.4 .3h0m2.1-.3h0m2.9 .4h0m4.9-.6h0m4.4 .6h0m9.2-.7h0m17.3 .4h0m.6-.5h0m3.3 .7h0m8.2-.6h0m12.4 .6h0m7.9 0h0m2.1-.1h0m.5-.4h0m1.3 .6h0m8.9 .1h0m4.2-.2h0m5.1 .1h0m17.5 .1h0m.7-.8h0m.4 .4h0m6.1-.5h0m.3 .9h0m9.7-.2h0m.2-.6h0m5.7-.1h0m13.7 .8h0m2.9-.3h0m2.2-.1h0m2.3-.4h0m25.7 .7h0m8.2-.4h0m9.8 .5h0m2.6-.3h0m16.5 .1h0m.8 .1h0M79.7 246.5h0m10.2 .2h0m.1-.1h0m4-.2h0m4.7 0h0m1.4-.1h0m.6-.2h0m3.1-.1h0m14.3 .9h0m3.3-.2h0m9.5-.2h0m7.9 0h0m5.5 .4h0m2.2 0h0m21.2-.4h0m6.9 0h0m1.4-.4h0m3.8 .5h0m.1 .3h0m2.9-.8h0m11.9 0h0m.7 .4h0m5.1-.2h0m15.8-.1h0m5.3 .1h0m2.3 .6h0m10.6-.2h0m18.6-.1h0m9.6-.3h0m3.2 .5h0m13.8-.7h0m7.4 0h0m1.7 .2h0m.8 .2h0m3.2 0h0m1.3-.2h0m2.9 .2h0m.1 .1h0m2.3 .2h0m1.6-.7h0m2.9-.1h0m.6 .8h0m.4-.3h0m1.6-.3h0m3.7-.1h0m1.9 .6h0m3.2 0h0m2.9 .2h0m.5-.7h0m.3 .1h0m2.9 0h0m5.7 .4h0m2.7-.1h0m2.1 0h0m.7-.4h0m4.2 .2h0m4.1 0h0m2 0h0m1.7 .3h0m6.8 .2h0m3.3 0h0m.5-.5h0m1 .3h0m31.3 0h0m.8-.5h0m14.1-.2h0m9.6 .6h0m3 .3h0m3.8-.8h0m9.3-.1h0m1.7 .2h0m12.7 .5h0m4-.7h0m1.6 .6h0m.2-.3h0m8.4 .1h0m1.3-.1h0m5.6 .2h0m7.2 .4h0m.7-.3h0m15.3-.1h0m1.3 .1h0m.8-.6h0m11 .1h0m.8 .2h0m6.1-.2h0m3.9 .5h0m8.5-.2h0m2.9 .3h0m14-.4h0m3.8-.1h0m4.1 .1h0m8.8 .2h0m.6-.2h0m2.8-.1h0m2.8 .4h0m4.8-.1h0m2.8-.3h0m2.2 .2h0M100.3 247.4h0m4.3-.1h0m.3-.3h0m1.4 .6h0m23.5 .2h0m15.4-.5h0m3.6-.2h0m2.5 0h0m3.5 .6h0m1.9-.3h0m18 .2h0m8.3-.3h0m5.8-.2h0m2 .6h0m7.4-.5h0m6.9 .2h0m2.1 .1h0m18.5-.5h0m1.7 0h0m1.4 .9h0m7.4-.9h0m10.4 .3h0m4.3 .5h0m3.4-.6h0m17.3 .1h0m.3 .3h0m2-.2h0m2.9 0h0m8.1 .5h0m.8-.7h0m9.9-.2h0m5.2 .8h0m1.1-.5h0m11.2-.3h0m.9 .8h0m.2-.8h0m.9 .2h0m0-.2h0m6.9 .3h0m1.2 .4h0m1.9-.7h0m1.3 .1h0m.2-.1h0m2 .7h0m6.6-.2h0m.9 .3h0m.2-.6h0m.4 .7h0m.6-.1h0m2-.7h0m1.1 .7h0m2.1-.5h0m1 0h0m6.7 .4h0m3-.7h0m2.8 .6h0m2.3-.4h0m.4 .3h0m4.1 0h0m2.4 .2h0m1.1-.3h0m8.3-.1h0m.8 .2h0m1.5-.4h0m10.6 .8h0m3.6-.5h0m3.1-.3h0m24.5 .8h0m5.8-.6h0m5.4 .1h0m12.2-.2h0m1.4-.1h0m11.1 .3h0m44.7-.2h0m6.8 .5h0m6.7-.7h0m1.6 .5h0m2.3 .3h0m2.5-.6h0m.8 .2h0m2.5 .2h0m7.1-.6h0m8.6 0h0m12 .8h0m4.2 0h0m4.6 .1h0m1.8 0h0m1.3 0h0m1.3-.3h0M80.8 248.8h0m.9-.5h0m1 .5h0m.5 0h0m1.2 0h0m1.1-.4h0m.7 .2h0m1.3 .2h0m1.1 0h0m.8 0h0m.1 0h0m.7 0h0m1.8 0h0m.9-.5h0m2.2 .5h0m.5 0h0m1.3 0h0m.5 0h0m.6 0h0m1.5-.1h0m.8-.5h0m.1 .6h0m.6 0h0m2.8 0h0m1.2-.6h0m.4 .6h0m1.1 0h0m.3 0h0m.3 0h0m4.5 0h0m2.5 0h0m1.6 0h0m.1 0h0m.1-.4h0m1.8 .4h0m.1-.3h0m7.4 .1h0m2.4 .2h0m.3 0h0m.4-.5h0m3.3 .5h0m3.3 0h0m1.2 0h0m1.4-.3h0m3.4-.1h0m.7 .4h0m.3 0h0m3.7-.7h0m1.4 .7h0m1.3 0h0m2.8 0h0m3.2 0h0m3.4-.7h0m7.1 .7h0m2.5-.7h0m.6 .1h0m.7 0h0m2.5 .6h0m1.3 0h0m1.3-.4h0m0-.3h0m2.8 .7h0m7 0h0m.3-.7h0m.6 .4h0m2.9 .3h0m.1 0h0m5.2-.5h0m3.4-.3h0m.1 .4h0m1.7-.2h0m4.1 .6h0m3.7-.1h0m.6-.7h0m3.7 .4h0m1.3 .4h0m.9-.2h0m2.9 .3h0m1.9-.1h0m1.1 0h0m8.4 .1h0m2-.1h0m.6 0h0m2.8 0h0m1.3-.8h0m2.6 .8h0m.4-.8h0m8.3 .9h0m4.6-.1h0m2.1-.6h0m8.3-.1h0m9.8 .7h0m0 0h0m6-.6h0m2.7 .2h0m.9 .3h0m9.9 .1h0m.3-.8h0m1 .4h0m.3 .4h0m.9 0h0m1.4 0h0m1.1 0h0m5 0h0m7.2-.7h0m.9-.1h0m.5 .3h0m2.2 .5h0m2.6 0h0m3.2-.2h0m3.7 .2h0m.4-.6h0m1.4 .6h0m2.4-.6h0m.2-.2h0m.4 .8h0m.2-.8h0m.9 .1h0m.3 .5h0m1.2-.3h0m1.9 .5h0m2.6 0h0m.2-.5h0m1.4 .5h0m.3-.4h0m.1 .4h0m2.5-.5h0m2.3-.3h0m2.4 .8h0m.8-.7h0m2.4-.1h0m.1 .8h0m2.2-.1h0m.2-.1h0m.2-.3h0m6.6 .5h0m.5 0h0m9.6 0h0m.5 0h0m.5-.7h0m1.5 .6h0m7.5-.6h0m4.3 .7h0m6-.7h0m.8 .3h0m5.7 .4h0m3.3 0h0m3.3 0h0m9.3-.8h0m0 .1h0m16 .3h0m10.9-.3h0m0 0h0m6.2 .4h0m1.7-.5h0m2.9 .1h0m15.7 .6h0m6.4-.1h0m1.7-.1h0m1.2 .4h0m.4-.7h0m4 .6h0m1.5 0h0m.5 0h0m4.3 0h0m1.1-.2h0m3.8-.4h0m.8 .6h0m2.2 0h0m3.4-.5h0m.5 0h0m.3 .5h0m4.3 .1h0m2.7-.1h0m1.4-.5h0m1.3 .5h0m.8 0h0m2.5 0h0m8.3 0h0m1.8-.6h0m.7 .6h0m1.6 0h0m.7-.2h0m2.3-.3h0m1 .5h0m.6 0h0m.3 0h0m2.3 0h0m.2 0h0m.6 0h0m.6-.3h0m2.5 .3h0m4.2 0h0m.1 0h0m2-.1h0m2.7 .1h0m3.2 0h0m8.1-.4h0m9.1 .5h0m4.9-.7h0m8.4 .4h0m1.3 .1h0M82.6 249h0m9.8 .5h0m6.7 .4h0m4-.5h0m8.8-.2h0m6.7-.2h0m5.8 0h0m3.1 .8h0m3.6-.3h0m6-.3h0m3.3-.1h0m2 .1h0m11.3 .6h0m.9-.6h0m2.8 .2h0m1.2 0h0m.9 .4h0m5.1-.1h0m5.5-.7h0m4.9 0h0m1.1 .2h0m4-.2h0m3.9 .2h0m1.2-.1h0m.3 .5h0m2.2-.1h0m.7 .3h0m35.5-.1h0m9.5 .2h0m14.8-.6h0m6-.2h0m5.6 .1h0m37 .1h0m3.1 .1h0m.6 .1h0m.1-.2h0m5 .6h0m1.6-.5h0m.3-.2h0m4.6 0h0m.8-.2h0m.7 .2h0m.2 .3h0m.2 .1h0m1.1-.4h0m2.2 .6h0m2 0h0m.2-.8h0m4.3 .3h0m3.3-.1h0m2.4 .2h0m.1-.1h0m3.6 .5h0m.4 .1h0m3.2-.3h0m0-.4h0m.3 0h0m.2 .3h0m2.5-.2h0m3 0h0m3 .4h0m.4-.3h0m4.9-.1h0m1.2 .1h0m7.7-.3h0m18.8 .3h0m3.8 .2h0m1.2 .3h0m1.6-.9h0m3.5 .5h0m1.2-.4h0m27.8 .8h0m10.5-.8h0m17.8 .2h0m22.9-.3h0m.5 .5h0m7.6-.1h0m9.9-.3h0m19.2 .8h0m1.6 0h0m10-.7h0m9 .1h0m5.6 .2h0m1.4 .3h0m1.9-.6h0m.5 0h0m13.7 .7h0m8.6-.3h0m4.9 .2h0M86.9 250.4h0m3.3-.4h0m8.9 .3h0m1.3 .6h0m5.3-.2h0m2.4-.7h0m3.3 .5h0m2.2 .2h0m4.9-.4h0m7.6 0h0m3.4 0h0m.5 .5h0m5.9-.5h0m8.5 .4h0m7-.7h0m2.1 .8h0m.4-.2h0m.8 0h0m7.4 0h0m1.7-.6h0m2.7 .1h0m10.2 .2h0m1.5 .3h0m6.8 .3h0m.3-.1h0m9.4 .1h0m2.9-.9h0m4 .2h0m8.7 .5h0m9.9 .2h0m13.2-.2h0m17-.3h0m7.5-.3h0m1.5 .4h0m17.2-.1h0m0-.2h0m14.5 0h0m15-.1h0m3.6 .2h0m7.4 .4h0m4.7-.7h0m2.2 .8h0m.2-.2h0m1.1-.3h0m.4-.3h0m1 .3h0m1.7 .1h0m.6-.1h0m.3 0h0m2.1 .2h0m1 .3h0m2.5 0h0m2.2-.2h0m4.3 0h0m1.2-.1h0m2.3 .1h0m5.7 .2h0m1.2-.3h0m12.5-.5h0m1 .3h0m1.2-.3h0m9 .2h0m8.1 0h0m3.6 .4h0m6.8 .1h0m37.4-.7h0m1.3 .5h0m5.5-.4h0m6.9 .6h0m5.9-.6h0m2.7 .2h0m11.5 0h0m4.2 0h0m.2 .4h0m2 0h0m7.5-.3h0m3.5 .2h0m8.6-.5h0m2.5 .7h0m.8 .1h0m1.5-.1h0m13.9-.7h0m11.9-.1h0m4.9 .7h0m2.6-.6h0m.8 .3h0m7.2 .3h0m1.9-.5h0m3.1 .5h0m20.3-.7h0m2.8 .4h0m.4-.3h0m3.8 .8h0M83.6 251.8h0m1.6-.3h0m3.7-.4h0m3.5 .6h0m7.7 0h0m7.1-.2h0m.8-.1h0m2.6 .3h0m1.9-.2h0m6-.4h0m2.5 .6h0m12.7-.4h0m21.4 .1h0m7.3 .3h0m3.4 0h0m15.5-.2h0m2.3-.2h0m10.2 .3h0m1.1-.3h0m3.7 .2h0m.4 .1h0m23.6 .3h0m16.3-.6h0m9.5 .6h0m26.1-.8h0m11.9 .4h0m8.2 .1h0m2-.5h0m3.7 .7h0m1.4-.1h0m5.6 .1h0m3.7 0h0m.8-.5h0m0 .2h0m3.3-.2h0m1.9 .2h0m.2 .4h0m.4-.8h0m12.6 0h0m2.3 .5h0m12-.6h0m2.3 .5h0m8.2 .3h0m2.6-.1h0m3.6-.4h0m2 .6h0m7.1-.6h0m14.4 0h0m34.2-.2h0m5.5-.1h0m4.6 .5h0m1.8-.5h0m3.7 .8h0m2-.3h0m3.5-.2h0m6-.3h0m9 .5h0m2.1-.2h0m6.6-.3h0m24.3 .8h0m5.3 0h0m16.6 .1h0m4.1 0h0m4.3-.9h0m8.6 .3h0m6 .2h0m2 .1h0m.4 .3h0m14 0h0m10.9-.2h0M85.2 252.8h0m5.7-.4h0m2.6-.1h0m15 .5h0m.1-.4h0m3.2 .1h0m7.8 0h0m3.3 .3h0m9.5-.1h0m1.5 .2h0m6.5-.1h0m3.7-.1h0m.5 .2h0m1-.3h0m11.2-.1h0m.8 .4h0m4.5-.9h0m2.5 .9h0m15.9-.8h0m16.8 .1h0m1.9 .3h0m10.7-.5h0m11.8 0h0m5.7 .2h0m14.4 .6h0m6.3-.2h0m10.7-.2h0m2.5 0h0m6.1-.1h0m18.1 .4h0m6.4-.4h0m6.5 0h0m3.1 .5h0m3.5-.2h0m3.6-.2h0m4 .3h0m1.5 .2h0m1.3-.8h0m2 .1h0m2.1 .4h0m.5-.1h0m3 .3h0m.7-.8h0m.6 .5h0m2.8-.1h0m.8 .3h0m4.3-.7h0m0 .7h0m1.2-.3h0m.3 0h0m.5 .1h0m1.8 0h0m4.5 .3h0m4.1-.8h0m1.6 .1h0m8.1 .3h0m1.6 .4h0m2.1 0h0m.9-.7h0m14 .5h0m6.2 .3h0m3.3-.8h0m3.1 .5h0m2.2 .3h0m21.4-.7h0m19 0h0m2.3 .5h0m4.8 0h0m12.2 0h0m8-.2h0m17.3-.3h0m2.2 .1h0m8.3 .6h0m5.4-.9h0m0 .7h0m3-.5h0m8.6 .4h0m6.2-.6h0m5.4 .7h0m3.4-.6h0m1.4 .4h0m17.2 0h0m3.7-.3h0m.2-.2h0m10.5 .4h0m9.2 .1h0m2.5 0h0m4.1 .3h0M80.7 253.7h0m.2-.1h0m7.2-.6h0m2 .9h0m2.3-.2h0m6.5-.7h0m3.2 .2h0m.7 .1h0m1.1-.2h0m5.9 .5h0m17.1-.6h0m5.7 .2h0m1.6 .1h0m4 .6h0m1.6-.4h0m.5-.5h0m8.4 .8h0m1.2-.1h0m1.9-.2h0m7.4 .3h0m.2-.4h0m36.5-.3h0m8 .6h0m21.8-.3h0m25-.2h0m3.3 .1h0m1.1 0h0m1.9 .1h0m1.4-.4h0m4.4 .2h0m5.8 .6h0m2.6 0h0m13-.5h0m1.2 .3h0m.8 .3h0m19.1-.8h0m.5 .1h0m.1 0h0m5.2 .2h0m10.2 .2h0m5-.3h0m.7-.1h0m6.2 .4h0m2.5 .3h0m5.2-.7h0m.8 .3h0m3 .3h0m16.3-.6h0m4.3 .7h0m1.1-.9h0m3.3 .1h0m3 .5h0m3 0h0m3.1 .3h0m6.4-.6h0m2.5 0h0m2.2 .3h0m2.2 0h0m13.2-.5h0m7.3 .1h0m.2 .7h0m1.8 0h0m2.2-.5h0m2.7 .1h0m28.8-.5h0m1 .6h0m11-.2h0m4.1-.1h0m1.8 .4h0m1.8-.7h0m4.3 .1h0m1.4 .6h0m3.2 .1h0m5.1-.7h0m6.2 .7h0m4.2 .1h0m5.9-.6h0m15.9-.1h0m4.8 .5h0m6.5-.2h0m6.1-.3h0m.9 .7h0m4.3-.3h0m11.2 .1h0m1.7-.6h0m7.4 0h0m4.8-.1h0m4.3 .2h0m3.4-.1h0M88.3 254.1h0m0 .5h0m14.6-.2h0m4.8-.1h0m.1-.1h0m2.2 .1h0m2.1-.1h0m14.7 .4h0m21.1-.1h0m4.4 .2h0m4 .2h0m8.3-.6h0m.1-.2h0m13.2 .5h0m.5-.5h0m8.2 .5h0m5.1 0h0m4.8 0h0m20.1-.4h0m6.9 .7h0m26.3-.6h0m1.8 .3h0m2.7-.6h0m.2 .1h0m7.7 .5h0m1.7-.2h0m.6 .5h0m9.2-.8h0m6.9 .1h0m2.6-.2h0m1.9 .1h0m1.8 0h0m11.4 0h0m2.4 0h0m2.5 .5h0m2.5 .3h0m.6-.9h0m4.3 .3h0m5.6-.1h0m4.1 .1h0m.3 0h0m1-.2h0m.2 .2h0m7.9 .4h0m.1-.4h0m.1 .6h0m7.7-.8h0m.4 .3h0m6.2 0h0m.1-.4h0m4.8 0h0m18 .2h0m3.8 0h0m.4-.1h0m2.1 .4h0m2.1-.3h0m23.9 .3h0m.7-.4h0m11.7 .5h0m.1-.1h0m12.5 .1h0m9.6 0h0m16.5-.3h0m.1 .1h0m26.7-.2h0m5 .4h0m11.9-.2h0m2.2 .1h0m3.8-.3h0m12.6 .1h0m7.5 .1h0m1.5-.1h0m7.6 0h0m3.3-.2h0m4.2 .2h0m5.5 .3h0m3.2 .2h0m3.4-.3h0m2.2-.3h0m2.5 0h0m8.1 0h0m4 .7h0m1.7-.2h0m.9-.5h0m2.4-.2h0M81.9 255.4h0m7.8-.2h0m13.7 .6h0m26.3 0h0m3.9-.4h0m5.3-.2h0m.1-.2h0m3.6 .8h0m12.3-.6h0m.5-.1h0m1 0h0m3.6 .1h0m3.1 .7h0m3.2-.3h0m11.8-.4h0m1 .1h0m6.1-.3h0m9.9 .7h0m18.8-.5h0m8.7 .2h0m8.6 .2h0m5.1 .3h0m7.9-.5h0m.1 .1h0m6.1 .3h0m2-.6h0m3-.1h0m10.6 .8h0m9.3 0h0m4.4-.4h0m14.9-.4h0m.4 .8h0m1.6-.7h0m1.6 .1h0m3.5-.2h0m3.5 .3h0m5.1-.4h0m1.6 .9h0m0-.1h0m2.8-.7h0m1.2 .2h0m2.5 .3h0m1.2-.4h0m2.1 .7h0m3.7-.2h0m1 0h0m.1-.5h0m.2 .1h0m3.4-.2h0m3.2-.1h0m2.5 .5h0m.2-.5h0m2.4 .7h0m.6-.7h0m1.5 .5h0m2.1 .2h0m1.5-.3h0m2 .4h0m1.5-.2h0m8.9 0h0m4.7 .1h0m1.6-.2h0m4 0h0m9.1 .4h0m6.5-.6h0m20.1 .1h0m7.8-.4h0m13.4 .1h0m11.3 .3h0m3-.1h0m3.2 .6h0m1.1-.9h0m19.7 .8h0m3.7-.4h0m.7 .4h0m.6-.8h0m16.2 0h0m37.3 .3h0m4.2-.2h0m.9 .8h0m1.6-.7h0m.5 .4h0m1 .2h0m3.5-.2h0m10.3-.1h0m2.8 .1h0m9.8-.1h0m.5-.2h0m3.6 .1h0m2.8 .1h0m3.9 .3h0m2.9-.8h0m2.1 .6h0M80.2 256.6h0m1.4 .2h0m4.1-.5h0m.1 .3h0m14.5-.3h0m6.7-.3h0m3.8 .2h0m4.3 .5h0m.5 .1h0m2.5 .1h0m4-.7h0m13.4 .5h0m0-.4h0m24.5-.2h0m2.1 .1h0m7.6-.1h0m6.1 .4h0m0-.5h0m2 .4h0m1.8-.1h0m7-.2h0m.9 .8h0m.6-.4h0m7.6 0h0m22.3-.3h0m8 0h0m16.4 .3h0m5.2-.5h0m8.5 0h0m8.2 .6h0m.3 .1h0m0-.6h0m10.4 .7h0m2.9-.3h0m16.7 0h0m1.6-.4h0m7.2-.1h0m4.4 .7h0m6.2-.3h0m.1-.2h0m.2-.1h0m1.9 .6h0m3.6-.4h0m.7-.1h0m2.7 .5h0m6.2 0h0m2.3 .1h0m2.3-.1h0m.2-.2h0m4.6-.3h0m.2 .6h0m.8-.2h0m4-.6h0m1.3 0h0m8.6 .7h0m7-.4h0m1.2 .2h0m7.4-.2h0m4.6 .3h0m14.3-.4h0m5.2 .1h0m16.3 0h0m8.7 .2h0m7-.3h0m1.4 .1h0m19.4 .6h0m9.5-.9h0m8.6 .6h0m1.6 .3h0m.4-.6h0m3.8 .6h0m13.2-.8h0m15.1 0h0m.1 .1h0m3.2-.1h0m4.8 .3h0m20.8 .4h0m7.7-.4h0m1.9 .4h0m11.5 0h0m3.5-.8h0m8.5 .1h0m.9-.1h0m.4 .1h0m5.9 .4h0M83.6 257.1h0m6 .4h0m3.7 .3h0m.7-.6h0m1.7 .2h0m.1 .1h0m3.5-.1h0m.1 .4h0m24.1-.3h0m5.7 0h0m.8 .1h0m6.1-.2h0m4.1 .4h0m.2-.1h0m3-.3h0m2.2-.3h0m5.1 .3h0m8.6-.2h0m1.7 .4h0m4.8 .3h0m21-.1h0m2.4-.5h0m11 .1h0m9.4-.3h0m12.4 .5h0m2.7 .2h0m19.2-.5h0m14.4 .3h0m10-.6h0m2.1 .3h0m13.7 .3h0m.2-.6h0m.9 .4h0m10.3-.2h0m1.2 .2h0m5.2-.4h0m3.8 0h0m.6 .8h0m1.8-.8h0m1.1 .1h0m11.2 .4h0m1.8-.2h0m0 .6h0m2.6-.1h0m10.5-.6h0m.3 .3h0m1.4 0h0m.6-.3h0m.1 .3h0m2.4-.1h0m2 .5h0m3.8-.5h0m2.3 .4h0m.6-.2h0m12.8 0h0m1.7 .3h0m15.6-.3h0m.2-.2h0m.9 .3h0m.3 0h0m10.3-.4h0m11.3 0h0m4.7-.1h0m1.8 .6h0m24.3-.6h0m9.5 .4h0m11-.3h0m1.8 0h0m3.6-.3h0m3.2 .9h0m4.2-.1h0m2-.8h0m2.3 .2h0m15.5 .6h0m1.1-.1h0m.2 .2h0m1.3-.4h0m1.2-.3h0m1.6-.2h0m1.1 .2h0m2.7 .5h0m2.5 .2h0m5.5-.1h0m1.2-.4h0m27.1-.4h0m4.4 .2h0m1.2 .4h0m4.6-.3h0m.5 .6h0m.2-.7h0m13.9 .6h0m12.7 .1h0M83.3 258.1h0m.4 .2h0m1.5 .5h0m31.8-.6h0m1.6 0h0m17.1 .1h0m2.3-.1h0m.4-.1h0m18.8 .1h0m12.2-.1h0m3.9 .1h0m7.8 .5h0m42.3-.5h0m13.6 .5h0m1.1-.3h0m3.1 .1h0m11.6 .2h0m3.9-.3h0m7.8 .4h0m.7-.4h0m1 .2h0m4-.4h0m3.1 0h0m7.9-.1h0m16.4 .6h0m.6-.4h0m.6-.2h0m.9 .8h0m7.2 0h0m1.5-.2h0m2.8-.6h0m7.4 .1h0m8 .4h0m1.8-.4h0m2.4 .7h0m1.8-.3h0m4.1 .1h0m23.9 0h0m3.2-.3h0m15.5 .5h0m8.1-.3h0m7.9-.3h0m1.2-.3h0m11.4 .1h0m5.6 .8h0m6.7-.2h0m5.8-.1h0m5.2 .1h0m7.8-.4h0m17.7-.1h0m2.7 .2h0m1.3-.4h0m4.8 .6h0m8.2-.1h0m2-.4h0m20.8 .4h0m13-.1h0m2.1-.4h0m16.2 .9h0m5.7-.6h0m13 .1h0m16.4-.2h0m.5 .4h0m4.2-.1h0M88.3 259.4h0m7.3 .5h0m11-.9h0m2.5 0h0m1.5 .3h0m.6 .4h0m1.2-.6h0m6.9 .7h0m1 0h0m4.3 0h0m6.6-.7h0m1.7 .4h0m2.7-.2h0m6.5-.3h0m20.5 .1h0m8.3 .7h0m23.1-.6h0m1.3 .6h0m1.4-.3h0m4.6-.5h0m2.2 .8h0m1.6-.4h0m1-.1h0m7.5-.3h0m8.1 .7h0m2.4-.7h0m.7 .3h0m9.2 .4h0m3.5 .1h0m6.9-.6h0m4.6 .1h0m7.2-.3h0m.1 .7h0m6.6-.4h0m.6-.1h0m3.3 .7h0m9.1-.5h0m14.9 .1h0m9.1 .2h0m2.3-.7h0m.7 .8h0m4.1-.3h0m1.4 .1h0m6-.2h0m3.6-.3h0m1.8 .5h0m11.7-.2h0m1.5 .3h0m1.1 .1h0m2.5-.4h0m3.6-.1h0m3.2 .4h0m4.4 .1h0m3.4-.2h0m7-.4h0m7.5 .4h0m5.1 .1h0m7.6-.5h0m5.4 .7h0m9.7-.1h0m1.2-.7h0m4.4 .3h0m8.7 .2h0m13.1 .3h0m.3-.2h0m6.6 .1h0m10.3-.8h0m14.1 .2h0m10.7 .5h0m2.4 .2h0m5.3-.1h0m3.1-.4h0m.1 .3h0m2-.1h0m5.3-.6h0m9.1 .7h0m7.2-.1h0m9.6-.1h0m1 0h0m1.9 0h0m.6 .3h0m.4 .1h0m1.2 0h0m1.7 0h0m11.1-.3h0m19-.1h0m2.4-.4h0m1.4 .5h0m4.4 .3h0m1.6-.2h0m13.6 0h0m2.2 .2h0m.6-.2h0M79 260h0m.4 .7h0m5.7-.1h0m5.4-.2h0m2.5-.4h0m2.2 .4h0m8.3 .2h0m1.8-.1h0m10.1 .2h0m2-.7h0m14.9 .4h0m.6 .1h0m.6-.4h0m3.7 .8h0m.6-.9h0m4 .5h0m5.3 .1h0m2.7-.3h0m6.8 0h0m4.5-.2h0m.5 .1h0m18.9 .3h0m5.7 0h0m11.7 .3h0m.5 0h0m6.8-.5h0m6.1 .4h0m11.3-.6h0m4.8-.1h0m5.4 .6h0m2.2 .1h0m14.4-.3h0m8.9 0h0m1.7 .3h0m13.2-.3h0m9.4-.2h0m11 .4h0m7.8 .2h0m6.1-.4h0m1-.1h0m4.5-.1h0m1.1 0h0m3.4 .2h0m.5-.2h0m0 .4h0m2.4-.1h0m10.3-.2h0m2.6 .2h0m1.6-.1h0m4.5 0h0m1.6 .2h0m1.4-.1h0m3.6-.3h0m14.6 .4h0m2.1-.5h0m5 .2h0m5.3 0h0m4.6-.2h0m23.2-.1h0m7.7 .8h0m15.1-.7h0m12.7 .3h0m2.1-.3h0m6.3 .8h0m9.3-.4h0m6.2 .3h0m2.7-.2h0m.9-.5h0m.5 .3h0m6.9 .1h0m2.5 .4h0m15.8-.5h0m2.3-.1h0m.3 .4h0m3.5-.2h0m1.8-.1h0m7.7-.1h0m.7 .2h0m9.3-.3h0m7.6 .4h0m8.4 .3h0m2.6-.1h0m17.6-.2h0m3.7 0h0m4.7 0h0m1.2-.6h0m7.3 .5h0m2.8 .1h0M87.7 261.5h0m10.7-.3h0m21.7 0h0m3.3 .7h0m1.1-.6h0m3.4 .3h0m8.8-.6h0m10.8 0h0m1.6 .8h0m1.1-.2h0m3.4-.2h0m2.7 .2h0m18.4 .2h0m7.8-.7h0m7.5 .8h0m1.8-.1h0m10.3-.3h0m.5 .3h0m14.8-.3h0m16.1 .3h0m13.3-.6h0m6.1-.2h0m5.8 0h0m7.8 .1h0m29.4 .8h0m8.3-.7h0m.2 .7h0m.6-.8h0m11.2 .1h0m3 .5h0m2.7-.6h0m9-.1h0m3.8 .4h0m4.7 .3h0m2.9-.1h0m18.5-.6h0m5.9 .9h0m2-.1h0m17.5-.2h0m6.1-.4h0m1.1 .3h0m6-.3h0m9.1 .3h0m1.5 0h0m1.5 .1h0m3.3 .2h0m7.9-.7h0m19.8-.1h0m2.7 .4h0m1-.1h0m1.2 .5h0m.7-.7h0m7.4 .1h0m14.8 .7h0m4.4-.4h0m3.3 .2h0m5.2 .1h0m6.9 .1h0m6.3-.6h0m8.7 .4h0m4.6-.5h0m2.3-.2h0m8.5 .1h0m.3 .7h0m1.2 .1h0m1-.3h0m14.8 0h0m4-.3h0m7 .3h0m12.6-.6h0m.3 .3h0m.9 .4h0m3.6 0h0M81.2 262.5h0m1-.2h0m9.6 .5h0m6 .1h0m7.4-.7h0m10.4 .1h0m5.6-.1h0m8.8 .5h0m.9-.3h0m5.4 .5h0m12.8-.6h0m5.9 .4h0m4.6 0h0m2.1 .2h0m2.8-.6h0m.4-.1h0m7.6 .6h0m5-.1h0m3.1-.6h0m2.5 .4h0m.5 .1h0m2.1 0h0m10.4 0h0m4.5 .3h0m.4-.3h0m2.8 0h0m21.5-.1h0m12.2 0h0m7.9 .1h0m.1-.2h0m7.5-.4h0m4.9 .8h0m4.3-.5h0m2 .4h0m4.2 0h0m.5-.5h0m15.3 .1h0m8.4 .3h0m3.3-.1h0m.8-.4h0m3.2 .7h0m3.8-.1h0m.4 0h0m4.6-.4h0m2.2 .1h0m1.9-.3h0m0-.1h0m5.9 .1h0m2.8 .6h0m2.3 .2h0m1.5-.4h0m1.3 .2h0m6.9-.2h0m5 .4h0m1.9 0h0m3.7-.5h0m2 .5h0m2.9-.7h0m3.3-.1h0m3.6 0h0m.1 .7h0m5.9-.4h0m2.7-.2h0m7.2 .5h0m2.6-.7h0m9.2 .6h0m3.8-.3h0m15.5-.1h0m12.2-.2h0m11.7 .8h0m1.2-.1h0m9.3-.4h0m12.2-.2h0m5 .6h0m7.5-.4h0m16.6 .4h0m2.2-.4h0m1.7 .6h0m.8-.2h0m13.5-.1h0m11.8-.4h0m1-.2h0m3.6 .4h0m20.6-.1h0m3.8-.3h0m1.2 .7h0m4.8 0h0m8.2-.1h0m10.4 0h0m5.7 .2h0M86.8 263.6h0m7.4-.6h0m14 .1h0m1.3 .4h0m3-.4h0m8.1 0h0m2.6-.1h0m.3 .7h0m6.4-.1h0m3.5-.3h0m4.3 .3h0m2.3 0h0m4.5-.4h0m13.5 0h0m1.2 .1h0m3.9 .2h0m1.3 .3h0m2.5-.8h0m7.1 0h0m20.2 .4h0m2.3 .1h0m.5-.5h0m11.4 .8h0m.2-.6h0m4.1 0h0m.3 .4h0m8.1 .3h0m.1-.4h0m21.7 .3h0m2.1-.8h0m11.1 .6h0m4.4-.6h0m2.7 .8h0m6.5-.4h0m4.8-.4h0m9 .7h0m1-.2h0m5.1-.2h0m1.4 .4h0m10.6 .1h0m1-.8h0m0 .3h0m3.9 .6h0m.2-.9h0m1.9 .4h0m.3 .4h0m.2-.5h0m7-.2h0m4.3 .8h0m1.9-.7h0m.8-.1h0m5.1 .6h0m2.4 0h0m2.1 0h0m2.1 .2h0m6.8-.8h0m5 .1h0m16.5 .7h0m6.7-.7h0m14.7 .6h0m8-.4h0m8.5 .4h0m2.5-.2h0m9.4-.1h0m30.9-.2h0m13.7 .6h0m5.8-.2h0m12.4-.1h0m1.5-.5h0m2.5-.1h0m10.8 .5h0m1.5 .3h0m.2-.6h0m.4-.2h0m19 .2h0m3.7 .5h0m3.6-.1h0m3.6 0h0m2.5-.3h0m9.4 .2h0m2.8 .2h0m4.1-.3h0m24.5 .1h0m.1 .4h0M84.7 264.3h0m5.6 .6h0m14-.8h0m6.3 .1h0m14.5 0h0m2.7-.1h0m1.9 .5h0m1.2-.5h0m4.8 .6h0m5.1 .2h0m1.1-.5h0m.4-.2h0m13.8-.2h0m2.8 .6h0m.2-.2h0m13.3-.1h0m1.5 .4h0m10.9 .1h0m3.4-.2h0m9.9-.5h0m4.5 .5h0m9.3 .1h0m6.6-.3h0m.8-.2h0m2.7-.1h0m.6 .8h0m2.2-.1h0m5.4-.5h0m7-.3h0m2.4 .1h0m11.9 .3h0m14.2-.1h0m1.5 .3h0m.8-.5h0m9.5 .4h0m4.9-.4h0m.4 .3h0m5 .3h0m3.7-.6h0m.3 0h0m8.7 .7h0m3-.4h0m3.7-.4h0m3 .6h0m4.6-.4h0m4.6 .6h0m2 .1h0m2.2-.9h0m3.8 .1h0m3.7 .3h0m8.3-.4h0m2.8 0h0m2.7 .5h0m1.6-.1h0m6.3 .2h0m18.9 .3h0m1.2-.5h0m1.7 .1h0m20.5 .2h0m.3-.6h0m15.5 .1h0m2.1 .7h0m6.9-.2h0m8.4 0h0m4.8-.7h0m2 .9h0m3.9-.9h0m.8 .4h0m1.3 .3h0m1 .2h0m2.9 0h0m2.8-.1h0m15.7-.3h0m10.8-.5h0m.9 .9h0m12.6-.5h0m0 .3h0m1.5-.7h0m9.3 0h0m9.1 .7h0m4.4-.2h0m.8 .4h0m10.7-.8h0m1.6 .2h0m2.3 .3h0m3.1-.3h0m3.3-.1h0m5.2 0h0m10.1 0h0m2.3 .2h0m2.9 .2h0m2.1 .3h0m4.2 0h0m7.2-.7h0m2 .2h0M79.8 265.7h0m13.2-.2h0m4.5 .2h0m15.1-.7h0m1.5 .1h0m4.5 .6h0m6 .1h0m2.7-.2h0m1-.5h0m3.2 .5h0m2.2 .2h0m.9-.8h0m2.2 .1h0m14.4 .6h0m3.3-.7h0m6.4 .2h0m6 .1h0m0 .5h0m2.3-.1h0m8.7-.7h0m2.8 0h0m9.8 .4h0m11.2-.2h0m8.2 0h0m4.1 .1h0m12.6-.2h0m4.2 .1h0m5.6 .3h0m2 .2h0m4 .2h0m4-.7h0m5.5 .5h0m10-.6h0m.5 .3h0m2.1-.2h0m3.3 .7h0m.1-.4h0m10.7 .3h0m7.2-.6h0m4.8 .2h0m.9 .1h0m2.5-.1h0m1.3 .2h0m7.4 .1h0m1.3-.1h0m7.3 0h0m5.2-.5h0m1.1 .7h0m1.5-.3h0m2 .2h0m1.1-.7h0m3.1 .1h0m8.3 0h0m1.3 .4h0m4.7 .1h0m8.3 .1h0m7.7-.5h0m6.8 .2h0m19.3 .4h0m13.4-.3h0m6.1 .2h0m1 .2h0m8.8-.8h0m9 .2h0m10 .5h0m8-.5h0m8.2 0h0m8 .3h0m5.3-.2h0m3.9-.3h0m.1 .4h0m1.1 .1h0m.6-.3h0m13.5-.1h0m7 0h0m.9 0h0m.8 .7h0m.6-.4h0m2.5 0h0m1.8 .2h0m3 .2h0m.7 0h0m2-.5h0m12.1-.2h0m2 .4h0m.7 0h0m3.1-.3h0m10.4 0h0m11.2 .4h0m1.3 .2h0m2-.2h0m.4-.2h0m2.6 .3h0m9.1 .1h0m1.3-.9h0m4.1 .1h0m6.2 .1h0m4.7 .5h0m1.6-.4h0M91 266.6h0m.5-.3h0m.1 0h0m2.1 .1h0m2.1 .1h0m.7 .2h0m0 .1h0m8.2-.7h0m3.9 .2h0m4.6 .4h0m.6-.1h0m2.3-.2h0m.3 .2h0m.5-.1h0m4.5-.3h0m2 .1h0m2.7-.2h0m3.9-.1h0m.9 .2h0m7.9 .3h0m6.3-.2h0m6.3 .3h0m.1 0h0m4.7 .3h0m7.4-.3h0m.2 0h0m2.2 .3h0m1.9-.5h0m14.6 .4h0m2.9-.1h0m5.6-.4h0m4.4-.2h0m11.4-.1h0m0 .7h0m7.8-.2h0m5.9-.1h0m2.4-.2h0m3.5 .5h0m1.7 0h0m17.4-.3h0m9.6-.2h0m2.3 .5h0m6.6-.3h0m4.5 .4h0m8.9-.5h0m8.5 .6h0m3.2 0h0m.3-.2h0m1.6 .2h0m.7-.4h0m6.6 .3h0m1.1-.7h0m3.4 .8h0m10.3-.1h0m9 0h0m.2-.5h0m1.6 .3h0m0-.3h0m1.9 .3h0m1 .1h0m2.9 0h0m5.8-.4h0m.2 .4h0m3.2-.6h0m0 .1h0m1.7 0h0m.3 .4h0m.8 .3h0m12.8-.3h0m1.7-.1h0m3.1 0h0m.3 .2h0m4.3-.6h0m5.6 .3h0m5.1-.1h0m1.3-.3h0m3.3 .6h0m3.6 .2h0m4.2-.2h0m8.5-.3h0m9.2 .6h0m2-.4h0m6.3 .4h0m3.8-.9h0m.3 .4h0m1.6-.1h0m7.4-.1h0m4.9 .5h0m1.5 0h0m4.1-.3h0m12.6 .4h0m3.6-.6h0m10.3-.2h0m43 .3h0m18.1 .5h0m3.7-.4h0m9.4-.2h0m3.4 .3h0m9.5 .2h0m.7-.6h0m8.8 .8h0m5.9-.8h0M80.3 267.6h0m3.4-.6h0m5.8 .9h0m3.2-.2h0m14.1-.3h0m1.4 .5h0m1.2-.9h0m2.8 .2h0m2.3 .2h0m3.7 .2h0m1.6-.4h0m.8 .7h0m15.2-.9h0m9 .1h0m.2 .6h0m1.6 0h0m16.5-.1h0m6.2-.6h0m7.4 .2h0m21.6 0h0m9.9 .6h0m11.8-.5h0m7.6-.2h0m5.3 .5h0m2.8 .2h0m10.5-.8h0m.2 .8h0m25.3-.4h0m2.3-.4h0m8.5 .8h0m1.8-.1h0m1.6-.4h0m.8 .5h0m7.9-.8h0m2 .6h0m3.7-.2h0m2.9 .2h0m1.8-.3h0m8 .2h0m5.1-.1h0m4-.3h0m.8 0h0m7 .1h0m1 .2h0m4.5 .2h0m2.8-.3h0m10.3-.3h0m.7 .1h0m3.4 .5h0m.9 .1h0m2.3-.1h0m10.1-.1h0m1.4 .2h0m17.7 0h0m1.6-.5h0m3.2-.2h0m10.3 .4h0m.3 .4h0m2.9-.4h0m2 .1h0m5.1-.1h0m3.9 0h0m2.6 .3h0m20.1-.4h0m7.3 .6h0m8.8-.1h0m29.4 .1h0m.6-.5h0m7.1-.4h0m.8 .5h0m22.1 0h0m9.2 .4h0m.5-.5h0m2.3-.2h0m4 .5h0m5.1 .2h0m8.9-.5h0m18 .4h0m9.5-.7h0M79 268.3h0m4.8 0h0m.1 .3h0m.7-.4h0m.2-.1h0m.8 .1h0m2.8-.2h0m2.7 .6h0m1.2 .1h0m2.4-.2h0m2.1-.2h0m4.6 .1h0m1.2-.1h0m3.2 .3h0m.9-.4h0m2.9 .3h0m11.8-.3h0m3.4 .1h0m5.6 .4h0m6.4-.5h0m8.7 .2h0m3.1 0h0m3.6 .2h0m13.7 .2h0m.1-.2h0m8.9-.3h0m3.8 .4h0m3-.4h0m3 .1h0m.9-.3h0m26.5-.1h0m6.2 .7h0m.4 0h0m22.5-.7h0m5.7 .9h0m6.5-.6h0m8.5 .3h0m.4-.1h0m11.7-.4h0m.1 .7h0m15.7-.4h0m.9-.4h0m6 .9h0m5.3-.6h0m6.7-.2h0m3.7-.1h0m1.7 .2h0m1.1 .4h0m3.8-.4h0m2.4 .4h0m3.5-.5h0m2.9 .6h0m1-.1h0m.5-.5h0m6.3 .7h0m3 .1h0m2-.9h0m.4 .7h0m.2 .2h0m.1-.7h0m1.7 .3h0m3.6-.5h0m1 .7h0m.5-.5h0m2.2-.1h0m2.5 .4h0m.3-.5h0m4.9 .9h0m1.1-.7h0m9.2-.1h0m13.8 .5h0m10.1 .3h0m.4-.9h0m4.7 .8h0m2.8-.5h0m1.1 .4h0m11.3-.6h0m1.5 .6h0m8-.2h0m10.7-.4h0m2.9 .5h0m2.9-.5h0m3 .2h0m.9 .5h0m.6-.8h0m10 .3h0m2.9 .6h0m.9-.9h0m9 .1h0m1 .6h0m.9-.6h0m4.1 0h0m0 .6h0m9.6 .2h0m4.2-.1h0m3 0h0m4.9-.4h0m5.4-.3h0m10.9 .1h0m.2 .3h0m.8-.2h0m.5-.1h0m6.2 .6h0m.9-.5h0m.7 0h0m36.7 .1h0m8.5 .3h0m0-.1h0m.6-.6h0M80.2 269.4h0m.3-.2h0m.1 .1h0m2.3-.2h0m3.5 .4h0m6.7 0h0m3.5 0h0m9.7 0h0m8.7 .1h0m4.1-.6h0m.9 .3h0m7 .2h0m15.2-.2h0m.7 .3h0m2.7 .2h0m.6-.6h0m0 .1h0m3.2 0h0m8.8-.1h0m7.4 .4h0m6.2-.6h0m9 0h0m.8 .9h0m3.4-.8h0m2.8 .2h0m6.4-.2h0m.1 .5h0m4.4-.2h0m4.7 .1h0m3.5-.2h0m5.3 .2h0m.1 .4h0m5.5-.4h0m6.3-.4h0m5.7 .3h0m10.6 .2h0m2 .3h0m10.2 0h0m10.6-.7h0m.2 .7h0m1.2 0h0m10.5-.7h0m.2 .5h0m5.5-.6h0m2.7 .4h0m.6-.5h0m2.7 0h0m11.9 .8h0m4.1 .1h0m2-.1h0m3.9 .1h0m5.9 0h0m1.1-.4h0m5.8 .4h0m7.1-.2h0m3.3 .2h0m1.5-.5h0m2.5 .5h0m.9-.8h0m2.7 .8h0m2.9-.6h0m6.2 .2h0m.1-.1h0m18.7 .3h0m1.7 0h0m8.9 .2h0m2.2-.4h0m15.5 .3h0m3.5-.3h0m2.3-.3h0m3.8-.1h0m3.5 .6h0m5.3-.6h0m5.6-.1h0m.9 .3h0m8.2-.1h0m18.8-.2h0m4.3 .3h0m9.2 .5h0m7.6-.2h0m5.5-.1h0m14.1-.1h0m5.2-.4h0m1.9 .8h0m.5 0h0m11.6-.8h0m7.5 0h0m18 .5h0m1-.4h0m.7 .2h0m1.3-.2h0m4.7 .8h0m17.7-.4h0m1.3 0h0m.5-.3h0m1.2 .7h0m.2 0h0m4.5-.2h0m3.3 .1h0M80.5 270.5h0m4.6-.3h0m5.5-.2h0m3.6 .9h0m14.5-.5h0m.4 .5h0m6.2-.9h0m2 .7h0m3.4-.7h0m4.6 .6h0m2.6-.6h0m2.3 0h0m4.9 0h0m7.6 0h0m1.8 .6h0m.4-.4h0m.8 .4h0m1.5-.6h0m8.4 .9h0m5.2-.2h0m4.3 0h0m.7-.7h0m15.2 0h0m4.2 .6h0m3.6-.6h0m4.7 .4h0m1.5 .5h0m1-.3h0m10.8-.4h0m2.9 .5h0m4.2-.3h0m1.6-.3h0m3.5 .4h0m9.7 .1h0m8.1-.5h0m9.4 .6h0m1.3-.5h0m.4 .5h0m.7-.7h0m6.2 .4h0m9-.4h0m1.9 .1h0m2.9 .5h0m3.3-.2h0m7.9-.4h0m13.6 .2h0m12.3 .5h0m1.7 .1h0m1.4-.3h0m.4-.3h0m1.3 .1h0m10.7-.3h0m2.8 .1h0m2 .4h0m5.6-.3h0m1.8 .3h0m1.3-.2h0m1.1-.2h0m.1-.1h0m.2 .9h0m2.3-.2h0m4.2-.7h0m.7 .1h0m2.9 .7h0m3.7 0h0m2.8 .1h0m4.6 0h0m3.8-.6h0m1.4 .5h0m5.2-.1h0m6.3 .1h0m14.3-.7h0m1.8 .5h0m7.3 .3h0m4.8-.5h0m4.3-.4h0m.6 .2h0m4.7 .4h0m10-.2h0m7.8 0h0m3.1-.2h0m2.1 .2h0m2 .1h0m4.9-.2h0m7.4-.1h0m21.7 .6h0m.7-.5h0m4 .1h0m8.2 .2h0m2.6 .3h0m5.5-.8h0m.5 .4h0m1.2 0h0m2.8 0h0m11.8-.5h0m5.4 0h0m2.2 .3h0m2.3-.3h0m1.7 .6h0m3.8-.6h0m.3 0h0m3.7 .1h0m1.1 .4h0m4.4 .1h0m13.5-.6h0m4.9 .8h0m11.7 0h0m4.4-.3h0M80.3 271.3h0m.9 .5h0m.7-.4h0m2.3 .3h0m.1-.2h0m5.3-.5h0m.2 .2h0m4-.2h0m9.8 .3h0m8.7 0h0m3-.2h0m2.6 .4h0m1.3 0h0m.6-.3h0m9.7 .2h0m.8 0h0m2.9-.4h0m0 .9h0m4.1-.8h0m6.8 .8h0m3-.8h0m6.8-.1h0m12.5 .8h0m7.6 0h0m1-.2h0m2.6-.2h0m8.3 .1h0m1.4-.3h0m2.2 .7h0m4.4-.9h0m5.7 .6h0m1.7 .1h0m26.2-.5h0m7.5 .7h0m.6-.3h0m.8 .1h0m1-.3h0m36.1 0h0m13.7 .2h0m.8-.5h0m.5-.1h0m5.4 .2h0m1 .2h0m.1 0h0m1.7 0h0m5.3 .5h0m5.5-.9h0m.3 0h0m2.7 0h0m.2 .5h0m.9-.5h0m2.9 .4h0m5.1 .2h0m6.3 .1h0m1.9 0h0m5.2-.3h0m0 .1h0m2 0h0m3.2 0h0m.3 .3h0m.3-.2h0m8-.4h0m.8 .7h0m12.9-.4h0m2.8-.4h0m15.2 .5h0m5.8-.1h0m6.4 .1h0m13.5 .2h0m4.8-.8h0m4.4 .4h0m12.6 .5h0m5.8-.6h0m5.3 0h0m1 .6h0m10.7-.9h0m5.9 .8h0m6.6-.2h0m5.9-.5h0m3.5 0h0m15.9 .5h0m5.9 .1h0m1.3-.7h0m1.7 0h0m15.2 .1h0m4.7 0h0m7.6 0h0m1 .2h0m1.5 .3h0m3.3-.2h0m3.7 .2h0m1.9-.6h0m.2 .6h0m8.8-.5h0m6.4 .3h0m7.9-.4h0m5.7 .3h0m4.9 .4h0m3.3-.6h0M86.3 272.3h0m10.1 .2h0m1.9 .3h0m4-.8h0m14.9 .2h0m1.1-.1h0m8.9 .4h0m4.8-.2h0m7.1-.1h0m3.8 .2h0m.1 .4h0m3-.2h0m2 0h0m2.2-.4h0m5.2 .4h0m2.1-.4h0m1.2 .5h0m9.2-.5h0m2.5-.2h0m2.9 .8h0m2.3 .1h0m9.4-.4h0m7.1 .2h0m3.8-.3h0m6.7 0h0m18.2 .2h0m5.3-.3h0m4.4 .2h0m1.2-.4h0m7.6 0h0m2.6 .3h0m9.1 .3h0m6.6-.2h0m1.8 0h0m2.2-.3h0m10.5 .1h0m17.5 0h0m.5-.3h0m1 .3h0m4.9 .1h0m2.7 0h0m5-.1h0m.8 .5h0m13.8-.1h0m.8-.6h0m.5 .6h0m1.9-.3h0m10.4 .3h0m1.1 0h0m.3-.5h0m.3-.2h0m1 .6h0m.2-.6h0m16 .6h0m1.4-.2h0m1.7-.4h0m3.6 .7h0m23.3-.6h0m12.1-.1h0m6 .3h0m7.2 .3h0m6.1-.3h0m1.3-.2h0m1 .6h0m3.2-.1h0m16.4-.1h0m14.6 .1h0m4 0h0m21.1-.5h0m3.5 .5h0m2.5-.3h0m6.8 .2h0m4.2-.1h0m3.4-.3h0m6.6 0h0m5.9 .7h0m1.1-.5h0m5-.2h0m1.5 .4h0m19.4 .4h0m2.6-.7h0m9.7 .6h0m11-.3h0m.4 .2h0m.9-.6h0m2.3 .6h0m.9-.4h0m2.5 .5h0m1.3-.5h0M79.1 273.2h0m2.3 .3h0m.6-.4h0m6.4 .3h0m5.9 .5h0m1.4-.5h0m11.4-.4h0m1.6 .9h0m5.9-.7h0m3.7 .4h0m2.8 .2h0m5.5-.6h0m.9 .7h0m1.9 0h0m2.8-.7h0m11.2 .2h0m2.1-.4h0m4.3 0h0m6.1 .6h0m4.7-.3h0m5.2 .5h0m.1 0h0m2.2 .1h0m.4-.6h0m1.8 0h0m14.2 .4h0m7.1-.5h0m8.3 .2h0m2.4-.1h0m1.8-.2h0m19.4 .7h0m14.6 .1h0m16.4-.6h0m9.6-.2h0m11.7 .2h0m.9 .1h0m4.2 .4h0m3.5-.1h0m.3-.2h0m.5 .4h0m.7-.1h0m.4-.5h0m.1-.1h0m5.9-.1h0m12.5 .8h0m4.7-.5h0m2.1 .4h0m.2-.2h0m12.1-.3h0m15.7-.3h0m9.8 .3h0m4.2 .1h0m14.9-.1h0m2.5-.2h0m10.1 0h0m5 .1h0m1.4 .4h0m17.3 .2h0m2.4-.2h0m6.3-.4h0m8.6 .6h0m4.4-.8h0m8.3 0h0m1.9 .9h0m6.4-.3h0m5-.4h0m20.3 .4h0m1.4-.3h0m.6 .5h0m8.5-.5h0m7.7 0h0m3.3-.3h0m3.5 .1h0m7.5 .7h0m5.9 0h0m2.7-.8h0m2.5 .9h0m2.3-.8h0m7.6 .1h0m13.8 .4h0m6.7-.4h0m3.3-.2h0m1.5 .6h0m3-.6h0m20.4 .7h0M81 274.1h0m.5 .7h0m1.2-.2h0m.1 .2h0m.3-.4h0m5.6 0h0m1.9-.2h0m10.5 .1h0m9 .1h0m1.6 .3h0m6.1 .1h0m.3-.1h0m1.7-.2h0m7.1-.4h0m.1 .7h0m.4 .1h0m3.2-.9h0m1.5 .6h0m2.2-.1h0m6.2-.1h0m8.8 .4h0m3.3-.6h0m1.4 .3h0m3 .2h0m9.4 .2h0m.4-.7h0m2.2 .6h0m6.1-.7h0m3.8-.1h0m1.4 .6h0m2.7-.3h0m8.6-.3h0m13.9 .1h0m6.1 .2h0m1.2 .2h0m3.2-.4h0m.2 .2h0m1-.3h0m8 0h0m1.7 .6h0m12.9 .3h0m.5-.7h0m9.8 .6h0m7.1-.4h0m1.4 .4h0m.1-.7h0m10 .8h0m6.4-.8h0m.1 .6h0m4.8-.4h0m2.8-.3h0m1 .9h0m8-.9h0m5.9 .9h0m1.1-.3h0m11.5 .1h0m2.6-.6h0m1.5 .1h0m.7-.2h0m1.8 0h0m5.1 .4h0m19.2-.4h0m4.2 .8h0m4.1-.3h0m8.1-.1h0m1.5-.1h0m3-.3h0m4.7 .9h0m1.1 0h0m4.9-.2h0m.8-.1h0m7.6-.4h0m4.5 .4h0m8.3 .3h0m7-.2h0m3.7 0h0m1.5-.7h0m.7 .2h0m2 .6h0m.7-.3h0m5.2-.5h0m15.8 .2h0m3.3 .1h0m8.4-.2h0m19.6 .2h0m.8 .2h0m6.9-.4h0m.2 .8h0m.8-.7h0m5.8-.1h0m20.7 .6h0m3.7 .2h0m2.5-.4h0m10.5 .4h0m2.9-.1h0m.3-.1h0m3.4-.3h0m.3 .5h0m9.2-.5h0m.8 .2h0m2.4 0h0m13.3 .3h0m4.4 0h0m.7-.5h0m4.2 .1h0m6.6 .3h0m.6-.1h0m3-.1h0m.1-.6h0m1.5 .5h0m.5 .1h0M80.5 275h0m1.8 .2h0m12.1 0h0m13.7 .4h0m5-.3h0m8.9 0h0m5.7 .3h0m14.3 0h0m3.3 .3h0m4.7-.9h0m1.3 .8h0m4.2-.6h0m4.3-.2h0m1.6 .5h0m6.6 .1h0m4.7 .3h0m5.2-.6h0m2.5-.2h0m30.3 .3h0m7.1-.3h0m2.5 .6h0m24.4 .2h0m.4-.2h0m7-.3h0m34.8-.2h0m2.6-.1h0m21.6 .5h0m.6 .3h0m1-.5h0m11-.1h0m0 .5h0m2.9-.5h0m.7-.1h0m2.3 .7h0m.8-.4h0m4.3 .3h0m6.5-.2h0m2.2 .3h0m1.8-.1h0m.3-.2h0m3.8 .3h0m1.1-.2h0m5.3-.1h0m.8 .1h0m3.1 .1h0m9.5-.1h0m.2-.2h0m6.2-.4h0m9.2 .8h0m.4-.3h0m5.3 .2h0m10.8-.7h0m27.4 .8h0m10.5-.9h0m2.3 .1h0m5.5 .2h0m2.1 .4h0m6.4 .1h0m1.8-.7h0m2 .3h0m.7 .1h0m24.3 .3h0m5.1-.4h0m1.7-.3h0m.6 .8h0m.4-.4h0m18.2-.3h0m18.4-.2h0m.9 .6h0m1.1 .1h0m3.6-.3h0m1.5-.3h0m.2 .1h0m3.7-.1h0m.2 0h0m5.2-.1h0m11 .9h0m3.3-.9h0m.4 .3h0m.4-.3h0m1.9 .2h0m0 0h0m.5 .1h0m4.2 .3h0m2.1-.4h0M83.1 276.1h0m7.1-.1h0m2.8 .7h0m.5-.3h0m3.4 .5h0m9.4-.6h0m1.5 0h0m18 .3h0m1.6-.2h0m.4 .2h0m.3-.1h0m2.6 0h0m3.2-.1h0m3.6 .1h0m19.9 .1h0m2.4 0h0m4.8 .1h0m3.4-.7h0m4.8 .5h0m4-.3h0m5.4 .4h0m5.3 .2h0m6.4-.8h0m6.1 0h0m.3 .6h0m.8 .1h0m3.1-.7h0m2.6 .9h0m2.8-.3h0m15.1-.4h0m18.2 .2h0m15.1 .3h0m2.6-.5h0m8.6 .3h0m11.9-.5h0m14.3 .3h0m8.1 .4h0m.6 .1h0m6.2-.3h0m1.1-.3h0m2.6 .7h0m.1-.5h0m3.8 .3h0m1-.5h0m11.9 .7h0m.1-.7h0m1.7 .3h0m.9-.1h0m5.8 .1h0m2.2-.3h0m3.9 .4h0m.7-.6h0m6.1 .9h0m2.3-.6h0m3.7 0h0m.5 .2h0m4 .3h0m4-.5h0m13.6-.3h0m3.2 .2h0m16.2 .1h0m1.2 .2h0m1.4-.4h0m.4 .6h0m.4-.6h0m1.6-.1h0m11.1 .4h0m1.2 .3h0m7-.7h0m.4 .2h0m8 0h0m2.1-.1h0m1.7 .1h0m6.5 .1h0m12.7 0h0m.3 .2h0m.3-.1h0m9.9 .4h0m14.9-.1h0m3.4-.7h0m3.5 .8h0m11.8 .1h0m1.7-.1h0m1.3-.3h0m20.6-.5h0m.3 .6h0m11.5-.5h0m10.9 .2h0m2.8 .2h0m3.8-.3h0m11.8 .7h0m.3-.9h0m0 .5h0M79.5 277h0m.3 .5h0m2.1-.2h0m5.9 .5h0m.1-.1h0m.4 .2h0m15.4-.7h0m1.6 .6h0m4.9-.5h0m7.1-.1h0m.4 .1h0m6.7-.2h0m.2-.1h0m.4 .7h0m3.1 0h0m.6-.6h0m1.6 .8h0m2.7-.8h0m5.6 .2h0m5 .4h0m.4-.5h0m7.4 .7h0m6.3 0h0m1.6-.8h0m27.5 0h0m.2 .5h0m.1-.3h0m4.2 .2h0m7.4-.1h0m8.5 .4h0m4.3-.6h0m7.3 .3h0m29 0h0m14.6 .1h0m8.4 .2h0m.6 .1h0m3.3 0h0m3 0h0m4.5-.3h0m3.7 .3h0m8.5-.9h0m2.9 .5h0m4 .1h0m15.9-.4h0m.1 .2h0m.9 .1h0m2.7-.4h0m8.9 .5h0m.2-.1h0m2.7 0h0m.6-.2h0m1.2 0h0m2 .5h0m5 0h0m1.4-.5h0m1.6-.1h0m2.2 .1h0m4-.2h0m9 .1h0m6.1 .2h0m11.6-.3h0m.8-.1h0m4.2 .1h0m2.1 .7h0m6.4-.2h0m10.6-.6h0m10.9 .6h0m5.4 .1h0m.8-.6h0m6.3 .5h0m14.7-.3h0m10.3 .6h0m12.2 0h0m8.3-.4h0m3.9-.5h0m10.7 .7h0m2.4-.2h0m.3 .1h0m12.1-.3h0m1.3 .3h0m5.5 0h0m1.2 .3h0m.3-.8h0m9.4 .8h0m1-.7h0m1.6 .5h0m10.4-.5h0m8.3 .1h0m4.1-.1h0m4.4 .1h0m9.9-.3h0m3.1 .7h0m.8-.5h0m9.2 .4h0M103.2 278.5h0m13.8 .1h0m9.6 .2h0m0-.6h0m.8 .3h0m1-.2h0m1.7 0h0m2.1 .2h0m1.4-.1h0m2.6 .4h0m6.2-.4h0m2-.3h0m8 .4h0m2.3 .3h0m8.5-.8h0m1.5 .9h0m12.7-.3h0m2.3-.5h0m6.4 .3h0m.9 0h0m11-.3h0m.5 .6h0m.4 .2h0m6.6-.1h0m2-.8h0m.9 .3h0m12.8 .1h0m7.7-.1h0m19.5 .1h0m.7-.1h0m1.2 .3h0m5.3 .2h0m5.4-.4h0m27.8 0h0m2.2 0h0m1.4-.1h0m2.3 .6h0m2.3-.8h0m.7 .7h0m3.6-.4h0m22.7 0h0m.3-.3h0m3.7 .4h0m2.2-.3h0m.4-.2h0m16.7 .1h0m2.9 .5h0m2.9 .1h0m21.2-.3h0m1.8 .2h0m3.2 .3h0m4.3-.8h0m5.1 0h0m1.1 .2h0m9.4 .1h0m6.9 .4h0m1.9 .1h0m11.6-.4h0m4.3 .4h0m2.2-.3h0m7 .3h0m.6-.9h0m31.3 .9h0m4.4-.6h0m9.8-.2h0m2.3 .5h0m1.3-.5h0m2.3-.1h0m1.2 .2h0m7.7 .2h0m6.9-.2h0m1.3-.2h0m8.1 0h0m.6 .5h0m1.4-.5h0m15.4 .4h0m5.7 .3h0m3 .2h0m2.8-.6h0m1.6 .5h0m9.1-.4h0m2.7 .4h0m.2 0h0m.6-.7h0m1.1 .6h0m3.8-.3h0m6.4-.4h0m2.8 .1h0m1.1 0h0m1.8 .6h0M84.3 279.6h0m6.2-.2h0m3.2-.2h0m1 .3h0m2.1 0h0m1.6-.4h0m2.1 0h0m9.4 .7h0m2.1-.3h0m3.5 .3h0m.8-.8h0m4.3 .6h0m2.7 .2h0m11-.3h0m.8 .2h0m11.5-.2h0m7.3-.5h0m1.1 .2h0m0-.2h0m3.4 .9h0m1.7-.5h0m10.7 .3h0m1.8-.1h0m1.2-.3h0m8.2 .4h0m.6-.3h0m1-.3h0m.1 .2h0m3.4 .5h0m5.6 0h0m9.7 0h0m2.8-.5h0m3.8 .2h0m10 .1h0m14.3-.5h0m14.9 .4h0m8 .2h0m9.7-.4h0m7.2-.2h0m2.9 .8h0m3.3-.1h0m1.9-.8h0m1 .7h0m2.2-.3h0m.6 .2h0m5.1 0h0m2.6 .1h0m3.6 .1h0m4.2-.2h0m10.3 0h0m13-.4h0m5.9 .7h0m2-.2h0m2.1 .2h0m4.8-.1h0m2.5-.6h0m.5 .6h0m5.4-.5h0m1.3-.3h0m4.5 .4h0m23.4-.2h0m8.2 .1h0m2.7 .4h0m.1 .2h0m2.9-.5h0m.8-.3h0m3.9 .4h0m5 .2h0m1.6-.5h0m7.2 .5h0m17 0h0m4.4-.3h0m6.5-.4h0m7.8 .7h0m16.4-.7h0m10.9 .8h0m6.2-.5h0m13.5-.3h0m9.7 .3h0m4.5 .2h0m3.2 0h0m7.7 .1h0m6.5 .3h0m9.1 0h0m6.8-.9h0m.3 0h0m.1 .5h0m2 .2h0m6.5-.6h0m12.4 0h0m1.4 .8h0M79.8 280.2h0m3.2-.1h0m17.8 .6h0m.5-.6h0m2 .2h0m5.2 .2h0m15.6-.1h0m1.6-.3h0m4.6 0h0m.1 .2h0m1.6 .3h0m11.6 .1h0m3.9-.4h0m1.1 0h0m3.4 .3h0m8.1 .1h0m8.8-.5h0m.8 .2h0m11.8 .5h0m9.2-.4h0m16.6-.3h0m.4-.2h0m9.2 .8h0m2.3-.8h0m6 0h0m1.2 .6h0m13.7 .2h0m.7-.1h0m1.6-.3h0m3.8 .4h0m5.4 0h0m6.5-.2h0m8.4-.6h0m3.3 .5h0m3.4 .4h0m1.9-.1h0m5.3-.2h0m4.2-.5h0m14 .3h0m6.6-.1h0m4.1 .3h0m12.7 0h0m4.6 .1h0m1.7-.1h0m9.2 0h0m7 .3h0m1-.3h0m6.6 0h0m8.6-.6h0m2.2 .5h0m10.4-.2h0m1.1 0h0m6.8-.3h0m8.5 .9h0m1.9-.4h0m4.4-.3h0m8.5 .1h0m16.2-.1h0m4.1 0h0m4.4 0h0m4 .2h0m1 .5h0m4.2-.6h0m5.5 0h0m.4 .6h0m.5-.2h0m.9-.6h0m1.4 .1h0m11.2 .4h0m1.2-.5h0m4.3 .3h0m6.5-.3h0m2.6 0h0m8.5 .4h0m4.9 .2h0m3.5 .1h0m5.2-.2h0m3.4 .1h0m.4-.2h0m4.2 .1h0m9.9 .3h0m3.5-.8h0m2.2 .2h0m6.6-.3h0m24.7 .2h0m8.2 .2h0m2.3-.1h0m2.4 .2h0m2.2 .4h0m0-.1h0m4.3-.8h0m2.5 .8h0M79.4 281.5h0m.2-.4h0m1.8 .4h0m4.3 0h0m2.4 .1h0m6.9 .2h0m7.1 0h0m4.9-.2h0m3.2 .1h0m1.4-.4h0m1.1-.1h0m3.2 .7h0m5.5-.8h0m4.4 .3h0m1.5 .1h0m8.4-.4h0m5.6 .4h0m.1 0h0m5.3-.1h0m7 .3h0m2.8 .2h0m4-.9h0m1.6 .6h0m3.3-.2h0m2.3-.1h0m5.4 .3h0m2.8-.5h0m10.3 .6h0m5.9-.4h0m8.1 .1h0m2.6 .1h0m7.9-.3h0m3.5 .2h0m17.9-.4h0m4.4 .5h0m0 .4h0m37.3 0h0m2.9-.4h0m3.9 .1h0m.4-.4h0m4.6 .3h0m8.4 .3h0m3.2-.8h0m5.6 .7h0m2.2 0h0m.1 .2h0m2.2-.4h0m7.5-.5h0m7.7 .8h0m6.2-.2h0m.5-.2h0m3.8 .5h0m4.5-.6h0m11.1 .1h0m7.8-.4h0m1.4 .4h0m30.7 .5h0m.6-.1h0m5.2-.1h0m14.4-.3h0m2.9 0h0m11.6 .2h0m2.2 .3h0m2.6-.4h0m11.3-.3h0m14.3 0h0m4-.1h0m10 0h0m9.7 .8h0m0-.1h0m.9-.8h0m11.9 .6h0m9.8-.1h0m.6 .3h0m6.7-.1h0m11.6 .2h0m.6-.2h0m.3-.6h0m.9 .8h0m6.5-.6h0m.9 .5h0m10.1-.8h0m1.1 .4h0m8.2-.3h0m9 .1h0m.3 .7h0m6.7-.3h0m.5 .1h0m.3-.6h0m2.2 .8h0M80.7 282.5h0m3.2 0h0m3-.1h0m8.5-.3h0m.6 .6h0m1.6-.3h0m16.9 .5h0m1.7-.4h0m18.3-.1h0m1-.1h0m3.6 0h0m8.7 .4h0m21.1-.6h0m5 .8h0m2.5-.8h0m8.3 .3h0m6.9 .3h0m3.2-.6h0m2.4 .1h0m8.3 0h0m.9 .7h0m10.8-.6h0m24.6-.1h0m4.8-.1h0m10.4 .6h0m17.3-.3h0m.1-.2h0m1.6 .7h0m8.7-.4h0m6.4 .3h0m3.3-.6h0m1.4 .3h0m1 .1h0m3.7-.4h0m2.3 .4h0m10.7 .1h0m2.4 .2h0m6.2-.1h0m2.3-.1h0m7.6-.1h0m1.6 0h0m.5-.6h0m6.5 .4h0m4.2 .2h0m4.8-.1h0m6.7 0h0m5.3-.3h0m1.9 .2h0m1.1 .2h0m4.2 0h0m3.9-.1h0m2.1 .1h0m3.1 0h0m7.3 0h0m2.5-.3h0m13.8 .5h0m4.4-.8h0m3.7 0h0m7.1 .9h0m7.5-.8h0m7.2 .3h0m13.2-.3h0m7.3 .7h0m4.1-.1h0m5.9-.5h0m3.7 .5h0m.8-.2h0m6 .3h0m11.7-.1h0m6.6-.7h0m14.6 .7h0m10.6-.6h0m.2 .7h0m4.9-.3h0m6.7 .2h0m4.2-.5h0m.9 .1h0m2.1-.2h0m2.4 .6h0m0-.1h0m2.8-.5h0m5.9 .8h0m9.4-.6h0m5.9-.3h0m3.7 .6h0M80.1 283.6h0m2.2 .3h0m1-.8h0m.2 .6h0m8.8-.3h0m2.5 .1h0m2.5 .4h0m5.3-.6h0m2.2-.3h0m2.8 .9h0m.4-.9h0m2 0h0m.6 .6h0m10 0h0m4.3 .2h0m.8-.2h0m7.8-.6h0m17.6 .6h0m9.5-.2h0m13.3-.4h0m16.4 .5h0m1.3-.5h0m32.6 .4h0m14.9 .2h0m2.5-.3h0m14.2-.1h0m28.9 .7h0m11.4-.1h0m3.1-.2h0m8.4 0h0m7-.5h0m2.4 .8h0m2.1-.1h0m10.5 0h0m5.4-.1h0m8.5-.6h0m27.6 .7h0m6.2-.3h0m2.5-.4h0m4.1 0h0m31.3 .7h0m1.7-.5h0m3.8 .4h0m3.9 .2h0m.1-.6h0m.8 .4h0m.1-.3h0m16.3 .2h0m20.6-.1h0m8.6-.5h0m.1 .4h0m8.2-.3h0m7.6 .5h0m4.8 .2h0m4-.2h0m3 .2h0m1.2-.8h0m1.6 .6h0m7.2 .3h0m.2-.3h0m1.6 0h0m.4 .3h0m3.2-.8h0m1.4-.1h0m6.5 .2h0m11.1-.2h0m16.7 .6h0m.3 .3h0m2.3-.7h0m1.5 .3h0m2 .2h0M81.8 284.7h0m5.5-.3h0m.5-.1h0m4-.2h0m3.1 .1h0m5.8 .2h0m2.8 0h0m3.3 .4h0m1-.5h0m3.3-.3h0m9 .9h0m1.4-.7h0m12.4 .7h0m.4-.8h0m2.4 .4h0m1.1 .4h0m7.5-.3h0m1-.5h0m9.2 .5h0m.8 .2h0m5.9-.6h0m1.4 .6h0m.8 .1h0m.2-.7h0m4 .3h0m5.4 .4h0m11.1 0h0m2.6-.7h0m.4-.2h0m1.3 .7h0m4.3 .2h0m.8-.7h0m11.6 .1h0m7 .3h0m9.3 .1h0m42.5 .2h0m12.5-.5h0m7.2-.2h0m3.9 .4h0m6.5-.1h0m1-.4h0m7.6 .7h0m1.7-.3h0m2.1 .1h0m8.6 .2h0m3.9-.2h0m1.3 .1h0m1 0h0m.9-.1h0m1.9-.1h0m5.4-.5h0m.1 0h0m.6 .3h0m8.1-.2h0m1.1 .8h0m1.8-.8h0m3-.1h0m19.9 0h0m2.1 .5h0m8.3-.5h0m4.3 .2h0m7.8 .5h0m8.7-.7h0m2.6 0h0m6.2 .3h0m5.5 0h0m6.6-.1h0m8.5 .5h0m2-.3h0m1.9-.1h0m4.4-.2h0m.8 .8h0m1.4-.6h0m2.9-.2h0m.8 .4h0m7.6 .2h0m3.6-.7h0m4.7 .3h0m7.1 .1h0m.9 .4h0m2.5-.8h0m.8 .3h0m.9 .4h0m5.7-.2h0m14.1 .1h0m7.7-.1h0m.4 .3h0m1.8 0h0m13-.6h0m5 .6h0m.5-.2h0m7.9-.5h0m6.3 .2h0m5.9 .5h0m3.1-.5h0m.7 .1h0m15.4 0h0m.5 .2h0m2.6 .1h0m9.6 .2h0M84 285.6h0m.2-.3h0m2.7 .2h0m.6 .2h0m4.8 0h0m9.1 .2h0m.1-.7h0m.8 .6h0m3.3-.1h0m7-.6h0m8.4 .1h0m8.3 0h0m9.3 .5h0m7.6 .1h0m3.6-.6h0m17 .1h0m7.1 .5h0m11.9 .1h0m1-.9h0m4.2 .2h0m5.8 0h0m1.8 .4h0m1.2 0h0m2.3-.6h0m20.6 .2h0m18.8-.1h0m20 .1h0m7.4 .5h0m7.6-.4h0m26.2-.1h0m12.7 .4h0m4.1-.4h0m5.7 .2h0m.1 .4h0m.5-.7h0m1.2-.1h0m.4 .3h0m2.5 .4h0m.7-.2h0m11.6 .2h0m11.7-.4h0m9.2 .5h0m1.5-.2h0m2 .3h0m9.7-.1h0m1.8-.2h0m5.5 0h0m14-.2h0m18.6-.1h0m2.5 .2h0m4.3 .4h0m3.5-.8h0m2.6 .6h0m19.8 0h0m18 .2h0m.2-.3h0m4.3 .1h0m4.1-.7h0m1.3 .7h0m6.4-.3h0m.5 .2h0m12.3-.1h0m18.3-.5h0m2 .2h0m2.2 .4h0m2.9-.4h0m3 .4h0m3.7 .2h0m4-.7h0m8.8 .3h0m7.1 0h0m8.7 .5h0m6.8-.8h0m1.9 .1h0m1.7-.1h0m0 .6h0m.4-.4h0M89.3 286.2h0m6.1-.2h0m.7 0h0m8.5 .1h0m5 .5h0m9.4 .1h0m8.8-.1h0m5.1-.5h0m6.8 .1h0m2.8 .1h0m.9 .5h0m7.6-.8h0m6.8 0h0m1.9 .2h0m22.1 .3h0m10.9 .3h0m3.1-.4h0m1-.2h0m7.8 .6h0m3.8-.6h0m13.8 .7h0m3.1-.6h0m20.9 .2h0m27.2-.5h0m.3 .9h0m4.2-.4h0m4.3-.3h0m7.3-.2h0m1.2 .7h0m6.5-.6h0m3.4 .4h0m4.9-.5h0m5.6 .4h0m1.7-.2h0m3.5-.2h0m4.4 .5h0m2.2-.3h0m.1 .7h0m2.6 0h0m.5-.7h0m.8 .6h0m1.1-.3h0m3.5-.4h0m2.3 0h0m6.4 0h0m9.5 .7h0m3.3-.4h0m1.3 .5h0m4.5-.9h0m4.5 .1h0m.2 .6h0m5.4 .1h0m7.4-.4h0m.5 .5h0m.4-.8h0m24.5 .5h0m1.4-.6h0m10.7 .3h0m5.1-.3h0m7 0h0m2.5 .9h0m3.4-.8h0m24.4 .8h0m4.4-.1h0m9.2-.8h0m1.1 .4h0m3.3 0h0m2.1-.4h0m5.7 .3h0m.7 0h0m3.4 0h0m7.9 .2h0m6.2-.4h0m.6 .2h0m5.1-.3h0m2.1 .5h0m3.5-.5h0m.1 .2h0m2.8 .4h0m9.8-.4h0m9.5 .5h0m2.2-.6h0m6.3 .8h0m10.2-.4h0m8.1-.1h0m4.3-.2h0m.6 .4h0M82.1 287.7h0m.5-.2h0m2.3-.3h0m2.5-.2h0m1.7 0h0m27 0h0m2.6 0h0m8 .5h0m7.8-.3h0m2.6-.1h0m26.6 .2h0m6.4 .5h0m5.1-.3h0m7 .4h0m8.1-.3h0m1.5-.3h0m2.3-.1h0m4.4 .4h0m16.3-.3h0m3.3-.1h0m6 .6h0m2.6-.5h0m.6-.1h0m21.6 .3h0m2.7 .1h0m3.4-.6h0m6.2 .7h0m30.8-.4h0m4-.2h0m5.8 .5h0m3.3 .3h0m.4-.1h0m4.7-.6h0m1.4-.1h0m3.1 .2h0m1.5 .5h0m7.9-.6h0m8.9 0h0m1.1 .7h0m1.5-.7h0m.4 0h0m8.1 .4h0m1.8-.1h0m.5-.3h0m.7 .6h0m.4-.1h0m.4-.6h0m.8 .8h0m7.6-.7h0m14.6 .1h0m17.2 .2h0m15.2 0h0m1.9-.3h0m2.1 .3h0m6.4-.3h0m6.5 .7h0m2.3-.3h0m7.8 .3h0m10-.1h0m16 0h0m.9-.1h0m6.9 .1h0m.2-.8h0m10.4 .9h0m.6-.9h0m4.3 .2h0m.5-.2h0m4.2 0h0m1.3 .2h0m.6 .4h0m3.5-.5h0m6.4 0h0m11.9 .1h0m9.9 .5h0m1.5 0h0m4.1-.5h0m20.3 .2h0m2.8 .1h0m3.7-.1h0m5.2 .1h0m.6 .2h0m4.5-.7h0m3 .5h0m3.2-.4h0m1.6 .3h0m1.6 .4h0m.1-.8h0M82.4 288.5h0m1.3 .2h0m1.9-.1h0m3.3-.2h0m5.6 .1h0m17.5-.5h0m3 .8h0m2 .1h0m4.5-.6h0m3.1 .4h0m.8-.7h0m10.6 .7h0m1.4-.2h0m1.5 .1h0m3.7-.2h0m2.5-.3h0m.2 .4h0m.2 .4h0m2.2 0h0m6.6-.9h0m10.4 .9h0m2.3-.6h0m7.5-.1h0m8 .3h0m5.5-.3h0m2.9-.2h0m2.1 .2h0m9.7 .2h0m.1-.2h0m26-.2h0m17.6 .4h0m2.4 .3h0m9-.5h0m2.6-.1h0m5.5 .4h0m.9-.1h0m3.5 0h0m5.8-.3h0m11.1 .8h0m0-.2h0m1.4-.7h0m6.6 .4h0m3 .2h0m3.8-.4h0m.8 .7h0m2.2-.7h0m.6 .5h0m13.3 .2h0m1.2-.3h0m4.1-.3h0m11 .5h0m1.1-.7h0m4.8 .6h0m2.4-.7h0m11.7 .7h0m18.3-.1h0m3 .2h0m16.7-.5h0m1.4 .1h0m5.1-.4h0m8.1 .4h0m4.7 .2h0m3.5-.1h0m4.3 .2h0m4.6-.7h0m5.1 0h0m4.1 .4h0m14.6 .5h0m2-.5h0m6.3-.1h0m5.1 .2h0m3.4 .2h0m2.2-.1h0m3.9-.3h0m3.2 .3h0m7.8-.2h0m5.5-.3h0m8.4 .6h0m3.6 .2h0m.6-.5h0m.7-.4h0m11 .7h0m1.5-.2h0m9.1 .2h0m10.6 .1h0m.5-.4h0m2.7-.2h0m7.2 .6h0m5.3-.5h0m6.7-.2h0m10.4 .3h0m.9 .3h0m.7-.5h0m.4-.2h0M83.3 289.5h0m11.1 .3h0m2.9-.2h0m11.1 .2h0m2.4-.5h0m3.2 .6h0m39.3-.9h0m7.3 .7h0m5.5-.5h0m3.8 .2h0m.8-.1h0m10 .5h0m1.3-.8h0m12.5 .6h0m10.1-.2h0m.4-.4h0m8.8 .6h0m7.8 .1h0m6.3 .1h0m1.2-.8h0m.2 .4h0m15.1 .2h0m.9 .3h0m6.5-.3h0m19.6-.6h0m11.6 .9h0m6.7-.9h0m3.2 .5h0m3.3-.1h0m4.7 .4h0m2.6 0h0m1.8-.6h0m1.1 .1h0m5.5-.3h0m13.1 .2h0m.8-.2h0m2.1 .3h0m5.2 .1h0m1.4-.4h0m6.8 .1h0m1.5 .7h0m.6-.1h0m2.8 .2h0m4.9-.6h0m3.3-.1h0m9.2-.1h0m11 .1h0m9 .5h0m3.2-.5h0m3.1-.2h0m6.3 .9h0m6.4-.6h0m5.1 .4h0m.9 0h0m9 0h0m1.3-.4h0m2.3-.3h0m5.8 .9h0m14.1-.4h0m5.3-.3h0m.1 .2h0m11.5-.2h0m6.2 .3h0m13.9 .2h0m4.6-.2h0m0 .4h0m2.6-.4h0m.4-.5h0m20.3 .6h0m11.8-.3h0m1.2-.2h0m2.9 .4h0m8.3 .1h0m3.7-.1h0m.3-.2h0m4.5 0h0m6.8 .4h0m2.8-.4h0m3.8 0h0m3.9 0h0m14 .1h0M80.6 290.9h0m2-.4h0m6.2 .1h0m13.5 0h0m.5 .2h0m.7-.3h0m2.5-.3h0m1.8 .2h0m9.8-.1h0m8.1 .3h0m1.6-.3h0m5.9 .2h0m4.9 0h0m3.3-.4h0m1 .8h0m2.4-.4h0m3.8 .2h0m.7-.7h0m5.6 .6h0m10.8 0h0m4.5-.1h0m3.9 .3h0m1.8-.8h0m1.1 .6h0m11.7-.3h0m3.1-.2h0m22.3 .7h0m12.2-.6h0m3.3 .3h0m6.8 .1h0m4.7-.4h0m3.5-.1h0m4.9 .6h0m18.8 .1h0m9.6-.4h0m3.9 .1h0m6.1-.5h0m1.5 .8h0m3.9-.4h0m4.3-.1h0m1.6-.3h0m4.9 .8h0m5.1-.2h0m3.5-.3h0m2.2-.1h0m1 0h0m.4 .4h0m1.1 .2h0m1.1-.3h0m13.3-.4h0m2.2 .7h0m.5-.2h0m.4-.3h0m5.3-.1h0m2.9 0h0m.2 .1h0m.8-.2h0m2 .5h0m1 .3h0m1 0h0m3.3-.4h0m6.3-.3h0m23.8 .5h0m.9-.2h0m.4 .4h0m1.8-.8h0m17.4 .1h0m13.8 .7h0m5.2-.6h0m1 .2h0m.2-.5h0m20 0h0m3.1 .3h0m10 .6h0m3-.1h0m2.6-.5h0m9.5 .4h0m4.7 .2h0m3.5-.7h0m3 .5h0m1-.3h0m3.3 .4h0m9.2 0h0m1.4-.3h0m4.9 .1h0m4.3-.3h0m11.5 0h0m16.4 .2h0m2.3 .2h0m4.7-.3h0m19.8 0h0m3.6 .5h0m1.6 0h0m2.5-.8h0M85.2 291.8h0m6-.5h0m15.5-.1h0m6.2-.1h0m4.7 .6h0m1.3-.3h0m1.4 .3h0m2.2-.5h0m2.5 .6h0m3.2-.3h0m4.7 .4h0m3.8-.3h0m.4 .3h0m2.9-.5h0m11 .4h0m4.7-.4h0m11 .5h0m1.4-.1h0m12.3-.5h0m9.9 0h0m4.7 .6h0m5.3-.6h0m10.8-.2h0m10 .4h0m1.4-.3h0m2.8 .2h0m11-.2h0m8.5 .5h0m1.4-.7h0m2.8 .4h0m22.5-.1h0m33.4-.2h0m2.6 .7h0m1.7-.8h0m.5 0h0m1.5 0h0m1.4 0h0m5.6 .4h0m1.4-.4h0m1 .8h0m1.2-.8h0m.7 .2h0m2.2-.2h0m.8 0h0m.5 .2h0m2.1 .3h0m.4 .4h0m.1-.9h0m2.4 0h0m.1 .6h0m1.5-.6h0m1 0h0m.8 .7h0m.9-.6h0m3 .1h0m1.4-.2h0m2.6 .8h0m2.1-.6h0m1.5 .4h0m17.7 .3h0m1.5-.5h0m6.4-.3h0m9.5 .2h0m7.6-.3h0m8.2 .9h0m4.3-.2h0m8.1-.2h0m.9 0h0m14.8-.1h0m3 .2h0m9.6 0h0m1.6 0h0m6.9-.6h0m3.1 .6h0m8.4-.6h0m2.1 0h0m5.1 .3h0m.2 0h0m1.1-.1h0m2.9 0h0m14.6 .5h0m.5 .2h0m7.8-.4h0m25.8 0h0m8.2-.4h0m6 .4h0m1.7 .4h0m2.3-.4h0m4.9-.5h0m3.8 .8h0m.3-.3h0m6.4 .2h0m10.2 .2h0m3.5-.4h0M79.3 292.6h0m7.6 0h0m4.7-.6h0m4.9 0h0m6.6 .4h0m2.3-.4h0m.9 .6h0m1.8 .3h0m23.3-.3h0m.7-.6h0m2.1 .4h0m.3-.3h0m3 .3h0m14.7-.1h0m2.1 .2h0m5 0h0m15 .1h0m4.7-.2h0m.2 .2h0m2.8-.1h0m4.4 .4h0m2.1-.1h0m1.7-.4h0m7.4 .5h0m9.2-.6h0m.9 .6h0m2.2 0h0m1.1-.9h0m.8 .5h0m4.2 .2h0m6.1-.6h0m11.7 .5h0m7 0h0m.2 .1h0m6.9-.1h0m8-.1h0m10.1 .3h0m.4 0h0m3.8-.4h0m11.5-.4h0m9.4 .7h0m2.5-.2h0m.4-.3h0m3.6 .7h0m9.7-.3h0m.6-.5h0m7.6 .5h0m2.5 .3h0m1.7-.2h0m3.6 .1h0m4.2 0h0m6-.5h0m6.4-.2h0m6.7 .2h0m2.6-.3h0m.1 .8h0m1.4 .1h0m3.2-.1h0m6.5-.6h0m9.4 .7h0m2.6-.6h0m8.8 .2h0m12.2 .4h0m7.4-.7h0m1.3 .7h0m35.6-.1h0m4.1-.1h0m1.6-.2h0m15-.2h0m4.7 .4h0m10.2-.4h0m8.2 0h0m.4 .3h0m1.8-.3h0m10.7 .4h0m2.6-.7h0m4.2 .7h0m12.5-.4h0m11.3 .3h0m5 0h0m6.6-.6h0m1.5 .1h0m4.8 .7h0m3.6-.7h0m14.3 0h0m.7 .7h0m4.8 .1h0m1.3-.8h0m4 .5h0m.2 .3h0M79.3 293.4h0m2.8-.3h0m.9 .3h0m3.5 .1h0m7.3-.2h0m13.3 .6h0m.4-.9h0m6.9 .4h0m8.2-.1h0m22.2 .1h0m5.5-.4h0m4.5 0h0m2.7 .2h0m6.3 .5h0m2.2 .2h0m.5-.9h0m1.1 .6h0m.3 0h0m2 .3h0m4.4-.5h0m18.9 .4h0m5.3-.3h0m.2 .3h0m9.6-.2h0m.7-.2h0m5.6 .4h0m7.1 .1h0m2.1-.6h0m.3 0h0m.2-.1h0m4.7-.2h0m2.1 .5h0m11-.3h0m1.9 0h0m3.2 .3h0m9.1 .2h0m1.3-.4h0m9.7 0h0m9.2 .4h0m9.9-.6h0m5.7 .5h0m9.3-.4h0m1.5 .3h0m.8 .1h0m15.9 .1h0m15.9-.7h0m1.5 .8h0m3.9-.7h0m7.5 .1h0m.3 .4h0m7.5-.4h0m2.9 .2h0m1.7-.1h0m8.2 .6h0m6.1-.7h0m31.3 0h0m14.8 0h0m7 .4h0m5.2-.6h0m0 .1h0m1.3 .5h0m9-.5h0m1.2 .8h0m9.8-.7h0m9.3 .4h0m24 0h0m.9-.3h0m10.6 .1h0m4.2 .3h0m2.5 .2h0m2.6-.7h0m1.8 .1h0m13.5-.2h0m.6 0h0m.4-.1h0m1 .1h0m6.2 .7h0m2.8-.7h0m5.7 0h0m5.4 0h0m3.1 .8h0m8.4-.9h0m.9 .1h0m.1 .4h0m1.8 .3h0m.4-.2h0m1.9 .1h0m.6-.7h0m5.6 .8h0m.8-.7h0m1.4 .1h0M82.4 294h0m1.1 0h0m16.4 0h0m15.6 .8h0m3.9-.6h0m.1 .4h0m5.1-.2h0m4.9-.4h0m.1 .9h0m15.6-.4h0m.8-.5h0m19.4 .5h0m.8-.5h0m0 .1h0m3.4 .5h0m10.9 .1h0m.1-.5h0m9.9 .3h0m8.8-.2h0m10.7 .3h0m5.2-.4h0m4.3 .1h0m2-.1h0m1.2 .3h0m14.5-.2h0m11.4-.2h0m1 .2h0m2.5-.3h0m2.3 .3h0m.8 .5h0m3.3-.8h0m1.3 .2h0m6.5 .3h0m.8 .3h0m.6-.1h0m7-.3h0m6.9 .2h0m1.9 0h0m5.9-.6h0m.4 0h0m6.2 .6h0m6 .1h0m3 0h0m3.4-.5h0m.5 .6h0m4.6-.5h0m9.9-.2h0m1.9 .2h0m.3 0h0m.7 .1h0m3.5-.4h0m2.4 .7h0m13.5 .1h0m10.8-.4h0m.3 .2h0m2.9 .1h0m19.6-.7h0m1.7 .2h0m7 0h0m23.5 .2h0m14.2 .1h0m10.3-.2h0m4.1-.1h0m11.4 .6h0m3-.1h0m3.5-.4h0m.5-.3h0m8.3 0h0m4.9 0h0m17.4 .4h0m.1-.3h0m3.9 .7h0m3.9 0h0m.3-.7h0m4.1 .4h0m8.7 .3h0m2.9-.5h0m8.8 .3h0m2.5-.6h0m3.1 .3h0m5.8 .4h0m4.6-.1h0m3.1-.4h0m1.5 .5h0m.4 .2h0m2.5-.8h0m1.8 .5h0m5-.3h0m9.6 .1h0m8.4-.2h0M80.8 295.7h0m9.6 0h0m.2-.3h0m3.4 .4h0m9.2-.2h0m.1-.2h0m2.5 .1h0m1 .3h0m7.2-.8h0m.4 .1h0m1.6 .6h0m6.4 .1h0m4.1-.1h0m1.1-.6h0m.4 .5h0m9 0h0m.6 0h0m26.9-.4h0m1.2-.1h0m5.7 .8h0m2.4-.4h0m6.2-.1h0m7 .2h0m18.2-.5h0m.8 .6h0m4-.1h0m9.6-.1h0m25.1-.4h0m.8 .3h0m9.1 .5h0m5.9-.3h0m4 0h0m.8-.1h0m12-.2h0m2.1-.1h0m.9 .6h0m.8-.4h0m2.4 0h0m.1-.3h0m13.6 .1h0m6.4 .2h0m5.7 .5h0m7.4-.5h0m6.2-.1h0m9.8-.3h0m11 .2h0m1.6 .4h0m.5-.2h0m14.4 .5h0m2.9-.5h0m4.6 .4h0m.7-.2h0m18.1-.4h0m.4 .7h0m36-.3h0m9.8-.1h0m5.8-.2h0m6.3 .2h0m.3-.5h0m21.6 .3h0m2.7 .4h0m6.4-.7h0m.3 0h0m14.3 .5h0m10-.3h0m12.9-.1h0m.1 .3h0m4.2 .5h0m1.6-.7h0m1.4 .3h0m24.2 .4h0m3.3-.7h0m1.9 0h0m10.1 .4h0M97.5 296.3h0m.3 .4h0m3.7-.3h0m1.9-.2h0m11.5-.1h0m14.5 .6h0m.1-.4h0m13.4-.1h0m4.3 .2h0m6.9 .1h0m7.6-.3h0m17.9 .1h0m2.7 .6h0m.9-.6h0m2.8 0h0m0-.2h0m14.7 .8h0m1-.8h0m5.6 .5h0m12.5 .3h0m1.2-.4h0m4.6 .4h0m4.5-.3h0m10.1-.1h0m1.3 .4h0m1.2-.9h0m2.2 .6h0m1.6 0h0m2 .2h0m2.6-.7h0m2.1 .8h0m10.4-.1h0m.8-.6h0m2.1-.1h0m8.2 .2h0m7.2 .5h0m.2-.8h0m6.7 .3h0m5.2-.3h0m6.5 .7h0m1.5 .1h0m9.4-.4h0m4.2 .5h0m1.3-.1h0m9.5 0h0m0-.4h0m3.1 .5h0m13.5-.7h0m8.2 .7h0m4.9-.8h0m1 0h0m7.6 .4h0m4.2 .3h0m4.3-.8h0m4.3 .1h0m.5 0h0m.7 .7h0m7.9 .1h0m9.2-.7h0m2.9 0h0m.4 .4h0m4.3 .1h0m7.8-.6h0m4.1 .3h0m25.7 0h0m4.3-.4h0m8.3 .8h0m.5-.3h0m10.4-.1h0m7.8 .5h0m5.4-.5h0m1 .3h0m2.5 .1h0m4.6-.7h0m5.9-.1h0m5.5 .9h0m2.8-.7h0m6.6 .6h0m19.9-.8h0m2.4 .1h0m1.2 .1h0m29.9 .3h0m.8 .4h0m1.9-.1h0m3.7-.3h0m2.7-.3h0M82.4 297.7h0m.1-.1h0m.2-.3h0m1.1-.2h0m.3 .2h0m.6-.3h0m3.9 .1h0m2.5 .5h0m8-.6h0m5.8 .6h0m4.8 0h0m10.4 0h0m.9-.4h0m12.7 .2h0m12.8-.3h0m5.8-.1h0m.9 .5h0m16.5-.5h0m3.6 .8h0m8.4-.4h0m3.6 0h0m1.1-.1h0m1.5-.3h0m11.6 .8h0m20-.4h0m14.2 .3h0m1.1 0h0m7-.3h0m.4 .2h0m22.2-.6h0m13.4 .7h0m5.4 .2h0m.3-.9h0m4.7 .3h0m.8-.2h0m1.1 .3h0m4.2-.2h0m1.1 0h0m1 .3h0m5.5 .1h0m13.3 .1h0m4.1-.4h0m.9 .1h0m1.7 .2h0m1.1-.1h0m1.8 .1h0m3.6 0h0m1.7 0h0m5.8-.4h0m1.2-.2h0m8.9 .6h0m1.9-.2h0m5.2 .1h0m2.6 .2h0m6.8-.1h0m15.7 .2h0m.4-.1h0m12.8 .2h0m1.4-.6h0m3 .1h0m6.9-.4h0m5.3 .3h0m2.6 0h0m17.9 .3h0m2.8 .1h0m4.1-.7h0m1.5 .5h0m1.8-.2h0m2.1 0h0m1.8-.1h0m.8 .7h0m2.9-.7h0m.1-.2h0m3.7 .3h0m.7 .4h0m2.3-.1h0m16.6 .1h0m12.1 .1h0m5.1-.5h0m2.2-.1h0m.5 .6h0m1.8-.6h0m1.7 .1h0m3.5 .3h0m12.8 0h0m11.4-.4h0m7.3 .3h0m7.1 .1h0m5.5-.3h0m8.7-.3h0m8.3 .8h0m8-.6h0m3.4 .3h0m2.8 .4h0M81.4 298h0m1.3 0h0m1.5 .6h0m1.8 .3h0m.4-.6h0m3.4 0h0m2.1 .6h0m2-.8h0m1.8-.1h0m5.8 .2h0m6.7 0h0m1.6-.1h0m7 .5h0m12.8-.3h0m2.8 .5h0m9.4-.8h0m2.9 .3h0m4-.3h0m22.1 .9h0m.8-.3h0m2.1-.4h0m.1 .4h0m3.9 0h0m2-.2h0m7.9-.1h0m.5 0h0m6.7 0h0m1.3 .4h0m9.9 .2h0m.3-.9h0m14.6 .9h0m7.3-.2h0m6.1-.1h0m1.7 .2h0m12.3-.8h0m5 .6h0m2.2-.3h0m9 .4h0m3.8 0h0m13.8 .2h0m1.2-.2h0m7.8-.5h0m5.7 .3h0m11.1 .2h0m5.5-.7h0m1.5 .2h0m1.6-.1h0m2.2 0h0m.5 .1h0m.5 .3h0m2.1 .4h0m.5-.1h0m.6-.4h0m.4-.3h0m4.4 .8h0m3.2-.6h0m3.3 .3h0m1 .1h0m2.7-.4h0m17.3-.2h0m14.4-.1h0m26.1 .3h0m3.1 .5h0m8.3-.7h0m7.3 .3h0m5.1 .1h0m3.7-.1h0m.6-.2h0m.8 .3h0m3.9 .2h0m6.4-.7h0m5.1 .2h0m23.1 .7h0m11.9-.3h0m.7-.2h0m2.5 .1h0m10.1 .4h0m2.7-.1h0m1.3-.3h0m26.7 .1h0m3.7 .1h0m8.3 0h0m4.2-.2h0m2-.5h0m2.2 .7h0m3 0h0m1.3-.3h0m8.5-.1h0m6.8 .4h0m6.6 .1h0m2.3-.6h0M84.3 299.2h0m6.2 .3h0m3-.2h0m10.2-.2h0m7.8 .7h0m9 .1h0m2.7 0h0m4.3-.6h0m3.4 .6h0m8.3-.1h0m.8-.8h0m3.9 .6h0m1.3-.6h0m17.4 .7h0m14.9-.5h0m14.6-.2h0m4.9 .1h0m5.1-.1h0m13.7 .7h0m10.8-.4h0m3.6 .1h0m7.7 .1h0m2.5 .3h0m9-.8h0m12.3 .2h0m6.2-.1h0m13.2 .5h0m1.8 .2h0m10.4-.5h0m12-.3h0m1.7 0h0m5.7 .3h0m5.8 .2h0m1.4 0h0m14 .3h0m1-.1h0m5.6-.2h0m15.5 .3h0m.8 .1h0m1.5-.6h0m5.7-.3h0m31 .1h0m11.3 0h0m2.9 .6h0m14.7-.1h0m15.8-.5h0m3.9 .3h0m4.4-.1h0m7.9 .6h0m5.7-.8h0m2.6 .1h0m.5 .2h0m1.6-.2h0m2.3 .4h0m.2 0h0m.3-.4h0m1.8-.1h0m1.7 .1h0m6.4 .1h0m20.5 .1h0m5.4 0h0m4.5 .5h0m12.2 0h0m4.3-.9h0m.6 .5h0m3 .2h0m.1-.3h0m14 .4h0m4.9-.7h0m8.6 .6h0m7.5-.6h0m5.3 .8h0m0-.6h0M88.3 300.8h0m2.7-.7h0m3.1 0h0m7.5 .1h0m5-.2h0m1.4 .3h0m.2 .6h0m5.7-.6h0m8.1 .1h0m6.4 .5h0m.2-.6h0m2.8-.2h0m7.3 .4h0m3.5 0h0m12.3 .1h0m7.4-.2h0m3.4-.4h0m.1 .7h0m6.1-.3h0m1.8 0h0m2.3 .3h0m12.1-.2h0m3.3 0h0m.9-.2h0m4.1 .5h0m7-.1h0m.4-.1h0m26.8 .3h0m2.2-.6h0m2-.2h0m3.7 .1h0m5.4 .5h0m14.4 .2h0m15.2-.4h0m8.1 .1h0m9.8-.5h0m1.7 .3h0m4.8-.4h0m2.7 .9h0m2.7-.8h0m2.7-.1h0m4.7 .4h0m.2 .5h0m.5 0h0m9.8-.4h0m12.9 .2h0m12.4 0h0m.9 .2h0m5-.5h0m1.7 .4h0m5.2-.7h0m3.1-.1h0m.2 .9h0m4.2-.8h0m5.4 .6h0m8.2-.7h0m.3 .2h0m.8-.1h0m1-.1h0m4.9 .7h0m13.9-.6h0m13 .5h0m0 .3h0m3.6-.2h0m11-.5h0m2.4-.2h0m1.8 .8h0m1.3-.2h0m16.3-.2h0m6 .4h0m.4-.5h0m7.1-.2h0m5.7 .6h0m16.1 0h0m7.8-.1h0m7.3-.5h0m3.4 .3h0m6.1 .2h0m1.4 .3h0m.9-.7h0m.2 .4h0m12.9 .2h0m4.1 0h0m10.1-.4h0m6.6-.2h0m12.4-.1h0m8.8 .1h0m3.8 .1h0m.3-.1h0M81.5 301h0m4.7 .6h0m.2-.5h0m.8 .6h0m2.6-.4h0m1.8 0h0m11.4-.2h0m19.6 .1h0m1.1 0h0m9 0h0m14.9-.1h0m1.9 .8h0m6.5-.2h0m.4-.5h0m.7 .5h0m.5-.2h0m1.4 .2h0m12.7 .1h0m5.6-.7h0m1.5 .8h0m1.5-.3h0m2.7-.2h0m.8-.2h0m1.2 .3h0m.9 .4h0m2.2-.1h0m1.2-.6h0m31.9 .3h0m6.2-.1h0m1.4-.2h0m4.1 .6h0m3.8-.2h0m2.8-.5h0m4.4 .6h0m.3-.3h0m15.4 .2h0m2.9 .1h0m21.3-.1h0m7.1-.6h0m.4 .2h0m.3 .4h0m5.5-.6h0m7.2 0h0m16 .8h0m7.1-.5h0m6.3 .3h0m2.6-.6h0m.5 0h0m5.9 0h0m1.8 .2h0m7 0h0m.1 .2h0m1.6 .3h0m3-.2h0m2.2 .1h0m4.9-.3h0m8.3 .3h0m.2 .1h0m9.8 .1h0m3.7-.4h0m7.1 .1h0m5.8 .2h0m6.1-.3h0m9.8 .2h0m1.2-.3h0m1.9-.3h0m.4 .3h0m5 .4h0m14.6 .1h0m2.1-.1h0m8.9 0h0m8.1-.2h0m12.3-.3h0m1.6-.2h0m.2 .3h0m4.1-.3h0m2 .2h0m1.2 .7h0m3.7-.7h0m12.2 .6h0m4.5 .1h0m5.6-.3h0m3-.4h0m4-.1h0m2.4 .1h0m1 .1h0m1.7 .4h0m12 .1h0m3.3 0h0m5.6 .1h0m18.1-.6h0m5.9 .1h0m2.7-.2h0M80.3 302h0m1.2 .9h0m1.2-.5h0m1 .1h0m0 .2h0m18.7 0h0m5.5-.3h0m9.8 .3h0m17.5 .1h0m3.9-.5h0m.2-.1h0m7.4 .7h0m.1-.9h0m.1 .6h0m.3 0h0m6.5 .3h0m5.3-.8h0m2.7 .1h0m6 .7h0m3.9-.5h0m10.5-.1h0m2.4 .4h0m.7 .1h0m5.5-.2h0m13 .2h0m5.5-.1h0m6.9-.1h0m.4-.3h0m.8 .1h0m.5 .5h0m.3-.8h0m6 .8h0m.2 0h0m10.2-.7h0m.8-.1h0m23.3 .2h0m1.3-.3h0m5.2 .8h0m1-.3h0m.6 .2h0m6.7 .2h0m2.4-.1h0m6 .1h0m16.2 0h0m13.4-.4h0m5.6-.3h0m1.6 .6h0m4.6-.7h0m11.9 .8h0m.2-.4h0m7.5 .4h0m11.8 0h0m5.2-.2h0m6.1 .2h0m1.3-.9h0m5.1 .6h0m.8 .3h0m8.3-.4h0m.2-.4h0m1.7-.1h0m15.5 .9h0m4.6-.1h0m6.1-.2h0m3 .2h0m.5 0h0m3.8-.1h0m.1 .1h0m12.8-.8h0m.2 0h0m12 .6h0m2.2 .2h0m6.3-.3h0m5.2 .2h0m.9-.7h0m10.6 0h0m13.9 .6h0m4.1 .1h0m5.3-.4h0m11.9 .5h0m1.1-.2h0m.8 0h0m7.2-.5h0m3.8 .1h0m7 .6h0m12.2 .1h0m3.3 0h0m6.9-.7h0m.7 .1h0m20.6-.1h0m.5 0h0M88.9 303.5h0m6.8-.5h0m1 0h0m13.5 .7h0m1-.6h0m7.1 .6h0m5-.6h0m3.5 .1h0m.4-.1h0m1.5 .2h0m3.8 0h0m8.6 .2h0m8 .2h0m6-.6h0m5.8 0h0m6.1 .8h0m9.9-.9h0m1.4 .6h0m1.5-.4h0m3.3 .1h0m1.2 .3h0m9.9 .2h0m14.5-.6h0m2.4 .2h0m3.3 .1h0m13.6-.2h0m2.8 .3h0m2.8 .3h0m14.4-.5h0m1.8 .3h0m12.1 .1h0m1.2-.7h0m11.6 .8h0m1.2-.6h0m5.8-.3h0m6.7 .5h0m5.7 0h0m4 0h0m5-.4h0m1.8 .6h0m2.2-.5h0m.5-.2h0m.9 0h0m2.9 .3h0m.5-.1h0m3.8-.2h0m15.3 .5h0m1.1-.3h0m3.3-.2h0m1.4 .9h0m1.3-.4h0m3.6-.4h0m.1 .1h0m7.2-.1h0m18.2 .2h0m4.3-.1h0m4.1 .7h0m6.5-.8h0m2.8 .8h0m1.4-.2h0m3.2 0h0m9.4 0h0m4-.6h0m4.4 .4h0m9.5 0h0m2.1 0h0m5-.5h0m6.3 .3h0m1 .6h0m9.7 0h0m4.2-.8h0m11.5 0h0m13.6 .5h0m10.7 0h0m3.5 .3h0m6.8-.4h0m.8 .1h0m1 .3h0m9.8-.4h0m1.6-.4h0m3.8 .4h0m1.2 .3h0m2.9-.7h0m2.2 .2h0m1.3 .2h0m2.8-.3h0m1.7-.2h0m12 .4h0m1.4-.3h0m1.2 .7h0m4.5-.7h0m.7 .3h0m1.3-.4h0m9.3 .1h0m0 .3h0m.8-.2h0m13 .3h0M79.7 304.7h0m9 .1h0m1.4 .1h0m3.4-.3h0m0-.4h0m2.4-.2h0m.4 .4h0m2.3 .4h0m2.5-.3h0m8.2-.5h0m6.1 .6h0m2.9-.5h0m42.5 .1h0m8.1 0h0m1-.1h0m9.5 .6h0m2-.4h0m.8 .2h0m.1 .1h0m1.1-.6h0m1.2 .3h0m5.6 .5h0m19.6 0h0m2.2-.3h0m7.3-.4h0m.1 .1h0m1.5 .5h0m3.1-.2h0m4.9-.2h0m12.3-.2h0m2.6 .7h0m4.5-.7h0m20 .5h0m5.4 0h0m8.5-.4h0m2.7 .1h0m1.6-.3h0m2 0h0m1.5 .3h0m4.7 .3h0m10.3-.4h0m10.1 .3h0m2.5 .2h0m16.3-.6h0m4.1 .7h0m5-.5h0m4.2-.3h0m1.5 .7h0m3.6 .1h0m3.2-.8h0m3.6 .6h0m15.4 .1h0m3-.2h0m12-.4h0m6.4 .8h0m2.8-.2h0m3.3 .1h0m11.8-.4h0m4.4-.2h0m1.3 .3h0m7.9 .4h0m11-.8h0m9.9 .7h0m2.7 .1h0m12.2-.4h0m5 .1h0m.8-.6h0m3.3 .4h0m3.3 .2h0m9.2-.6h0m12.4 .5h0m1.1 0h0m9.9-.4h0m13.1 .7h0m16.1 0h0m2.5-.7h0m13 .7h0m9.1-.6h0m4.9 0h0M94.8 305.4h0m6.9-.1h0m6.4 .4h0m.4-.1h0m3.5-.3h0m2.9 .6h0m4.2-.3h0m1.3-.4h0m2 .5h0m6.1 .2h0m.3-.7h0m1.6-.1h0m1.4 0h0m8.5 .1h0m3.3 .6h0m1.5-.5h0m.8 .5h0m4.3-.3h0m7.7-.5h0m7 .8h0m2.3 0h0m1-.2h0m.9 .2h0m1.6-.5h0m7.4 0h0m1.6 .1h0m4.7 .3h0m9-.4h0m23.7 .4h0m29.7-.2h0m6.4 0h0m13.4 .4h0m22.7-.7h0m6.6-.1h0m1.3 .8h0m15.9-.3h0m2.6-.1h0m.7-.5h0m1.6 .8h0m13.7-.3h0m10.1-.5h0m7.8 0h0m2.7 .1h0m.4 0h0m10.4 .4h0m5.2 0h0m30.1 .4h0m.1-.3h0m3.9 0h0m5-.1h0m11.5-.3h0m1.8 0h0m9.3 .3h0m.8-.2h0m1.7 .5h0m25.2-.8h0m4.8 .8h0m2.3 0h0m13 .1h0m4.7-.3h0m.8-.5h0m5.7 .1h0m3.6-.1h0m1.7 .3h0m11.2 .4h0m2 .1h0m.5-.4h0m.9-.2h0m4.7 .3h0m11.1-.4h0m30.5 .6h0m0-.3h0m.7-.5h0m1 .6h0m1.6 .1h0m8.1-.4h0m1.5-.1h0m.6-.1h0m3.2 .7h0M79.1 306.4h0m3 .3h0m7.3 0h0m14.5-.4h0m1.9 0h0m10.3 .1h0m9.7-.3h0m17.1 .7h0m10.7-.8h0m.5 .5h0m.1-.3h0m17.3 .7h0m4.3-.3h0m5.1-.1h0m.6 0h0m2.8 .3h0m18.9-.7h0m13.3 .6h0m12.5-.5h0m7.3 .6h0m8.4 .1h0m9.1-.8h0m7.5-.1h0m7.7 .8h0m10.1-.1h0m2.6-.7h0m5.7 .1h0m13.9 .1h0m.6 .7h0m1.2-.9h0m3.1 0h0m1.1 .2h0m.6 0h0m3.7 0h0m1.6 0h0m1.1-.2h0m3.5 .2h0m.5-.1h0m1.8 .1h0m3.9 0h0m1.3 0h0m5.4 0h0m2.5 0h0m4.7 0h0m9.3 0h0m1.9 .6h0m.5-.4h0m1.3-.3h0m1.2 .6h0m7.2-.7h0m19.6 .6h0m5 .2h0m11.4-.8h0m9.2 .5h0m23.2 .2h0m4.5-.2h0m8.6 .3h0m15.4-.6h0m2.2 .1h0m20.9 0h0m.2 .2h0m2.4-.3h0m2.6 .6h0m3.3 0h0m1.5-.4h0m3.2 .2h0m10.2 .3h0m1-.7h0m4.6 0h0m1.1-.1h0m10.5 .2h0m12.2-.3h0m.3 .1h0m13.7-.1h0m2.6 .6h0m11.4 .2h0m8.3-.1h0m1.7-.2h0M79.6 307.5h0m.5-.1h0m1.4 .3h0m3.5-.1h0m1.3-.2h0m10.2 .2h0m4.9 .1h0m5.6 0h0m6.1-.7h0m4.8 .2h0m4.4 .1h0m2.2 .6h0m6.1-.5h0m1.2 .3h0m6.5-.3h0m.4-.1h0m.4 .3h0m7.7-.6h0m1.7 .3h0m1.7 .5h0m1.3-.5h0m1.4 .1h0m4.1 .2h0m1.6-.2h0m10.9 .5h0m1.2-.5h0m5.7 .3h0m2.6 .1h0m2.4 0h0m1.3 0h0m12.3-.4h0m14.5 .3h0m9.1-.6h0m4.3 0h0m3 .1h0m4.4-.1h0m.5 .1h0m2.6 0h0m8.5 .1h0m.9 .1h0m4.4 0h0m14.3-.1h0m.1 .6h0m5.8-.7h0m7.4 .4h0m2.9-.3h0m9.1-.1h0m6.4 .2h0m8.3-.2h0m.9 .7h0m10.7-.7h0m.8 .5h0m1.1 .2h0m1.9-.3h0m.8-.1h0m.5 .1h0m4.9-.6h0m.9 0h0m22.7 .9h0m.2-.3h0m.7-.4h0m4.2 0h0m7.6 .6h0m3.4-.8h0m1.3 0h0m8.3 0h0m20.3 .2h0m.9-.2h0m14.2 .4h0m5.3 .1h0m1.1 .1h0m1.9-.3h0m.4 .3h0m4-.1h0m12.8-.1h0m.6 0h0m.2 .2h0m3.4-.4h0m1.1-.1h0m8.3 .3h0m.9 .4h0m4 .1h0m19.6-.6h0m10.7-.3h0m11.3 .9h0m1.9-.9h0m5.3 .7h0m.9-.7h0m11.7 .5h0m16.8 .3h0m2.2-.8h0m1.3 .9h0m2.8-.9h0m2.5 .8h0m7.4-.7h0m3.7 .8h0m1.9-.6h0m7.6 .1h0m4.3 .1h0m3-.3h0m0 .7h0M83.8 308.9h0m8.1-.9h0m19.4 .3h0m6.4-.3h0m.3 .9h0m3.5-.7h0m14.2 .3h0m13.4 .2h0m2.8-.2h0m3.6-.4h0m1.6 .2h0m.3 .3h0m10.6 .3h0m.9-.6h0m.1 .5h0m15.9 0h0m7.5-.7h0m11.5 0h0m.2 .1h0m.6 .7h0m.3-.4h0m14.9-.5h0m11.6 .1h0m1.9 .2h0m11.3-.1h0m4.5 .6h0m4 .1h0m.3-.2h0m4.1-.5h0m1.5-.1h0m3.6 .1h0m.5 .3h0m14.1 .4h0m8.5-.2h0m1.3-.4h0m5.6 .2h0m.1 .1h0m9 .3h0m.2-.5h0m.8 0h0m25 .1h0m3.1-.4h0m6.2 0h0m7.8 .4h0m20 0h0m11.8-.3h0m4.6 .6h0m3.1-.3h0m40.5-.5h0m5 .9h0m3.8-.4h0m8.3 .1h0m.2 .3h0m6.5-.9h0m25.6 .1h0m1.7 .8h0m4.7-.7h0m1.9 .4h0m24.3-.6h0m6.1 .7h0m1-.3h0m4.2 .4h0m5.3-.8h0m11.2 .5h0m6.4 0h0m15.3 .4h0m.7-.5h0m7.8 .3h0m1.3-.1h0m4.1-.3h0m.8-.2h0M80 309.8h0m8.9-.6h0m11.2 .3h0m4-.3h0m13 .6h0m4.4-.7h0m3.8 .1h0m2 .2h0m3.9 0h0m.3 0h0m1.2-.1h0m11.7 .5h0m.3-.6h0m9.2 .4h0m3.7 0h0m5.1-.2h0m4.3 .4h0m8.1-.6h0m15.8 0h0m3-.2h0m4.8 .5h0m2.5 .3h0m3.1-.3h0m17.2-.4h0m1.9 0h0m.7 0h0m3.2 .3h0m.6 0h0m4.3 0h0m8.7 .5h0m0-.6h0m22.6 .1h0m11.5 0h0m7.9-.1h0m14.1 .3h0m.2 .2h0m8.7-.3h0m7.4-.2h0m4.5 .6h0m7.4-.3h0m1.4-.2h0m17.8 .3h0m6.3-.1h0m7.1 0h0m13.2-.3h0m4.9-.1h0m10.9-.2h0m.3 .1h0m7.9 .5h0m11.1 .1h0m1.2-.3h0m8.3-.2h0m3.7 .5h0m17.2-.5h0m20 0h0m10.4 .4h0m1 .3h0m11.1-.8h0m2.3 .5h0m1.3 0h0m1.6-.2h0m3.8 .3h0m4.9 .1h0m6.9-.8h0m1.2 .8h0m3.4-.6h0m11.5 .1h0m.2 .6h0m15.8-.1h0m9.9-.3h0m14 0h0m6.1-.1h0m5.6 .2h0m.3-.1h0m.7 .2h0M83.9 310.6h0m.8-.5h0m.5 0h0m8.3 .1h0m6.7 .1h0m5.7 .2h0m2.9 0h0m1.2-.2h0m4.9-.3h0m14.7 0h0m15.7 .7h0m2.8-.7h0m4.1 .8h0m.1-.3h0m.6-.5h0m16.1 .9h0m4.1-.7h0m4.5 .5h0m.2-.2h0m10.6 .3h0m.7-.4h0m10 .3h0m4-.6h0m8.9 .1h0m10.9 .7h0m19.5-.4h0m8.9 .1h0m2.4-.4h0m41.6 .5h0m19.9-.4h0m5.2 0h0m.5 .6h0m3.1-.4h0m6.4-.4h0m35.6 .6h0m.1 .1h0m1.2-.2h0m4.9-.5h0m1.6 .5h0m19.1 .2h0m4.2 0h0m12.2 0h0m7.9 0h0m8.8-.3h0m4.7 .4h0m1.3-.4h0m5.7 .3h0m7.3-.2h0m8.9 .1h0m.5-.5h0m.6 0h0m2.9 .7h0m37.3-.6h0m0 0h0m1.6 0h0m2.3 0h0m2.8 .6h0m1-.2h0m6.1-.1h0m3.5-.5h0m6.3 0h0m1.5 .8h0m9.9-.4h0m7-.5h0m6.8 .9h0m9.3-.1h0m8.6-.2h0m.7-.2h0m2.2 .1h0m1.3-.4h0m4 .3h0M79.4 311.5h0m7.6 0h0m3.4 .2h0m14.2-.3h0m.7-.2h0m3.6 .1h0m3.8 .1h0m3.8 .3h0m1.3-.6h0m1.7 .8h0m24.1-.4h0m2.2-.3h0m4.6 .6h0m2.1-.4h0m6.1-.1h0m9.3 .6h0m1.6-.6h0m12.3 .5h0m4-.7h0m.6 .3h0m5 .1h0m3.4-.1h0m1.8 0h0m3.1 .5h0m.2-.5h0m1.8-.1h0m15.4 .5h0m16.7-.2h0m6.5-.6h0m3.3 .3h0m20.8-.3h0m8.4 .2h0m11.8 .5h0m2.2 .1h0m2.7-.1h0m4.7-.1h0m1.1-.2h0m.8 .4h0m2.4-.4h0m3.1 .4h0m3.4 .1h0m4.4-.1h0m3.1 0h0m2-.7h0m.8 .6h0m2.7-.5h0m2.7-.2h0m1.5 .9h0m1.2-.4h0m10.6-.1h0m4.7-.3h0m21 .6h0m1.6-.2h0m5.9-.5h0m8.5 0h0m.2 .1h0m11.1 .2h0m6.8 .2h0m7.7 0h0m13.4-.2h0m2.1 .6h0m.6-.1h0m2.4-.8h0m14 0h0m2.6 .6h0m33.7-.6h0m.7 .2h0m1.4 .7h0m4.4-.8h0m4.9-.1h0m5.6 .7h0m3.9-.3h0m5 .1h0m14.6 .3h0m6.1-.4h0m1.1 .1h0m3.1-.4h0m7.3 .8h0m4 0h0m11.9-.1h0m.1-.2h0m11.5-.5h0m13 .2h0m1.6 .1h0M81.1 312.1h0m6.4 .8h0m1.1-.8h0m2.9 .6h0m7.3-.2h0m1.3 .4h0m8.3-.5h0m.8 0h0m5.9-.2h0m6.6 .7h0m5.3-.4h0m2.2 .2h0m14.8 .2h0m6.1-.7h0m8.2 0h0m1.4 .4h0m18.1-.3h0m7.5 .4h0m9.8-.1h0m1.3-.6h0m1.9 .8h0m.7-.2h0m15.9 .2h0m1.8-.6h0m1.6-.2h0m.6 .7h0m4.6 .1h0m.3 0h0m6.8-.5h0m3.7 .2h0m13.7-.2h0m.2 .2h0m1.3 0h0m3.8-.3h0m2.5 .7h0m5-.5h0m7.6 .4h0m7.1-.5h0m15.1 .6h0m32.1 0h0m.6-.8h0m13.7 .6h0m1.4 .1h0m1.9-.3h0m6.8-.1h0m19.7 .4h0m14-.1h0m9-.5h0m4.5-.2h0m9.5 .5h0m1.9 .1h0m2.1 .1h0m7.4-.7h0m6.6 .4h0m.7-.1h0m5.2 .4h0m.3 .1h0m26.3-.8h0m6.4 .6h0m8.3-.1h0m4.3 .4h0m1.7-.1h0m.1 0h0m1.6 .1h0m.2-.3h0m9.7-.2h0m17 .4h0m10.3-.3h0m8.4 .1h0m9.4 .2h0m5.1-.1h0m.1-.2h0m8.4 .4h0m3.3-.3h0m4.6 0h0m10-.6h0m3.8 .2h0m4 .2h0m.5 .5h0M100.3 313.6h0m10.1-.6h0m.4 .5h0m2.7-.1h0m1 .2h0m7.6 .1h0m1.7-.3h0m3.2-.4h0m.3 .1h0m1.8-.1h0m9.2 .9h0m10.5-.5h0m4.5-.3h0m6.3 .5h0m2-.5h0m19.1 .4h0m2 .1h0m11-.1h0m.2-.2h0m6.6 .5h0m5.6-.8h0m.4 .6h0m38.5 .3h0m6.4-.6h0m6.8 .5h0m14.1-.6h0m9.8 .1h0m6.3 .3h0m5.8-.2h0m1.5 .3h0m1.5-.1h0m2-.5h0m2.2 .3h0m12.3-.1h0m6.5-.2h0m16.5 .7h0m1.3-.4h0m1.9 .5h0m4-.1h0m6.7 0h0m1.6-.5h0m5.5 .4h0m.3-.1h0m.8-.1h0m8.1-.3h0m8.9 .7h0m5.7-.8h0m8.1 .6h0m4.3-.6h0m4.8-.1h0m4.3 .2h0m5.1 .4h0m2.3 0h0m2.1-.3h0m3.5 .2h0m23.5 .3h0m4.3-.5h0m1.5 .5h0m.5-.2h0m3.9-.4h0m8.7 .7h0m9.8-.8h0m1.9-.1h0m.4 .3h0m15.5 .5h0m4.2 .1h0m8.3 0h0m2.6-.4h0m10.7-.2h0m7.4 .1h0m8-.2h0m3.7 .4h0m15.3-.5h0m1.2 .7h0m.1-.8h0m.1 0h0m.3 .3h0m11.5 .6h0m1.3-.3h0m2.8 .2h0m2.4 .1h0m5-.2h0M80.9 314.9h0m3.5-.5h0m2.8 .4h0m7.1-.4h0m4.6 .5h0m.7 0h0m10.1-.5h0m2.8 .3h0m15.2-.3h0m11.3 0h0m1.6 .4h0m15.2-.4h0m5.3 .3h0m3.1-.7h0m4.5 .2h0m2.1-.1h0m2.3-.1h0m4.4 .7h0m2.1 .1h0m3.6-.8h0m8.5 .9h0m15.4-.4h0m11.9-.3h0m1.3 .2h0m7.4 .4h0m6.9-.5h0m2.5 .4h0m31.2 0h0m9.9-.5h0m4.5-.2h0m7.9 .9h0m15-.1h0m8.3-.3h0m.2-.5h0m.1 .5h0m4.9-.2h0m.6 .3h0m20.5 0h0m18.6-.2h0m7.7 .5h0m14.1-.5h0m4.9 .5h0m18.2-.6h0m19.1 .5h0m5.7-.2h0m2.2-.6h0m7.4 .3h0m.9 .3h0m14.1-.5h0m3.3 .3h0m5.8 .3h0m9.4-.6h0m1.9 .4h0m2.6-.2h0m19.4 .1h0m6.1-.3h0m6 0h0m1.1 .3h0m14.1-.4h0m.4 .9h0m7.9-.4h0m5.9-.4h0m.2 0h0m1.1 .4h0m2.5 0h0m4.7 .3h0m1.4-.1h0m4.1-.6h0m2.2 .7h0m6.2-.6h0m5.8 .1h0M94.3 315.7h0m4 .2h0m2.3-.3h0m.5-.2h0m2.8-.1h0m5.1-.3h0m11.4 .5h0m5.6 .3h0m6.5 0h0m4.1-.6h0m15.3 .5h0m3.9-.2h0m2.2-.1h0m2.6 .4h0m1.3-.5h0m1.5 .4h0m21.1-.1h0m38.4-.2h0m4.9 .5h0m11.1-.1h0m7.8 0h0m32.7-.3h0m.8 .1h0m1.5-.6h0m19.7 .8h0m12.7-.5h0m4.2 .3h0m3.6 .2h0m5 .1h0m1.8-.2h0m6.1-.6h0m11.3 .8h0m7.7-.4h0m10 0h0m2.3 0h0m1.8-.5h0m2.5 .6h0m4.8-.1h0m6.3-.3h0m1 .1h0m.1-.3h0m28.2 .8h0m6.4-.5h0m20 .4h0m.4-.6h0m2.5 .8h0m.5-.3h0m.6 .3h0m16.2-.9h0m3 .9h0m1.3-.1h0m1.3-.4h0m9.9 .1h0m6.8-.4h0m45.5 .3h0m.5-.3h0m1.1 .2h0m11.4 0h0m24.2-.3h0m6.5 .4h0M82.4 316.7h0m12.1 .1h0m18.8 .1h0m.9-.6h0m17.6-.2h0m9.3 .3h0m8.8 .2h0m7.9 .3h0m19.9-.7h0m6.4 .2h0m.6-.2h0m7.2 .5h0m.3-.6h0m8.1 .2h0m2.3-.2h0m30.7 .5h0m3.9-.2h0m2.9 .4h0m2.2-.3h0m27.1-.5h0m1.6 .3h0m.8 .5h0m24 0h0m3.3-.8h0m4.8 .9h0m4.1 0h0m2.1-.1h0m2.1-.5h0m2.3 .1h0m4.6-.3h0m9.6 .1h0m4.2 .5h0m.9-.2h0m19.3-.1h0m.9-.4h0m18 .8h0m22.3-.7h0m.8 .7h0m.3-.2h0m1.8-.3h0m1.7 0h0m3.5 0h0m12.9 0h0m12.3 .6h0m14.4-.4h0m2.2-.4h0m.7 .1h0m9.6 0h0m7 .3h0m6.9 .1h0m16.4-.6h0m4.7 .2h0m4.6 .5h0m1 .1h0m1.9-.8h0m1.3 .2h0m3.4 .1h0m11 .1h0m3.6 .3h0m2.3 .1h0m4.2 .1h0m2.1-.2h0m.5 .2h0m7.8-.4h0m3.3-.5h0m1.4 .9h0m5.9-.3h0m7.1 .1h0m19.1-.5h0m1.7 .6h0M80 317h0m8.1 .7h0m10.9 .1h0m2.4 0h0m5.2-.8h0m1.4 .5h0m.5 .4h0m7.4-.1h0m.5-.4h0m1.4-.1h0m2.9-.1h0m1.3 .4h0m.4-.3h0m0 .6h0m.9 0h0m5.4-.7h0m11.7-.1h0m2.7 .6h0m23.6-.7h0m7.3 .6h0m14.6 0h0m3.4 0h0m1.9 .1h0m12-.5h0m1.4 .6h0m8.3-.1h0m10.1-.6h0m8.7 .6h0m9 .1h0m3.2-.8h0m7.9 .3h0m14-.1h0m4.6-.2h0m4.8 .2h0m4.6 .6h0m1.9 0h0m4-.2h0m2.4-.3h0m4.2 .3h0m11.3-.6h0m8 0h0m0 .2h0m5.7-.2h0m7.5 .1h0m5.2 .7h0m9.6-.4h0m3.2 .4h0m8 .1h0m3.8-.7h0m1.4 .3h0m8.9-.4h0m.5 .7h0m.2-.8h0m.7 .9h0m.7-.8h0m8.8-.1h0m.8 .6h0m6-.1h0m4.4-.3h0m2.6 .5h0m25.7-.6h0m1.8 .3h0m12.1-.1h0m42.5 .5h0m3.4-.4h0m3.6 0h0m18.3 .1h0m2.5-.5h0m1.8 .8h0m1.7-.8h0m8 .2h0m.9 0h0m18.4 .4h0m8.2-.4h0m1.6 .7h0m5.8-.1h0m5.2-.8h0m2.1 .3h0m7.6 .6h0m3.3-.1h0m3 .1h0m1.3-.9h0M81.2 318.3h0m.1 .4h0m2.3 .2h0m2.4-.6h0m7.4 .6h0m.9-.6h0m1.5 .3h0m27.8 .3h0m23.6 0h0m6.7-.2h0m5.4-.6h0m4.5 .5h0m1.4-.6h0m2.8 .9h0m2.4-.2h0m8.3 0h0m20.2-.4h0m42.9 .2h0m13.8-.2h0m.2 0h0m2.7-.2h0m3.9-.1h0m.9 .8h0m1.5-.5h0m13.3 .2h0m3.1-.1h0m2 .4h0m11 .1h0m1.6-.6h0m1.8-.2h0m.4 .7h0m6.8-.3h0m2.2 .2h0m17.1 .2h0m3.4-.9h0m2 .6h0m.7 .2h0m27.5-.3h0m4.9-.2h0m.3-.2h0m6.4 .8h0m23.8-.8h0m6.7 .6h0m3.2-.4h0m11-.2h0m10.9-.1h0m10.3 .3h0m5.1 0h0m8.9 .3h0m6.3 .2h0m18.6-.4h0m1.5 0h0m6.2 .4h0m13.2-.3h0m6.9-.5h0m4.1 .9h0m14.1-.4h0m14.6 .3h0m1.2-.5h0m4.8-.1h0m.2-.2h0m25.9 .4h0M82.4 319.5h0m.3 .2h0m2.2-.4h0m12.5-.1h0m4.3-.2h0m3.6 .2h0m18 .6h0m6.1-.1h0m3.7-.1h0m.4-.5h0m6.3 .3h0m1.8 .2h0m20.7 .1h0m3.9-.7h0m8.9 .6h0m6.9 0h0m1.6-.3h0m5.6-.2h0m25.9 .5h0m29.7-.5h0m13.8 .6h0m2.2 .2h0m5.9 0h0m5-.3h0m2.7-.5h0m1.1 .5h0m.2-.4h0m15.2 .7h0m9.4-.4h0m.8 .1h0m5.1-.3h0m4.1-.2h0m3.4 0h0m12.1 .5h0m4.8-.1h0m1.6 .4h0m10.7-.5h0m13.7-.4h0m8.8 .9h0m1.6-.9h0m11.3 .1h0m3 .1h0m.6 .6h0m3.2-.2h0m5.7-.4h0m4.4 .2h0m7.6 .3h0m3.8 .1h0m.8-.3h0m3.3 .4h0m9-.8h0m2.8 .3h0m12.2-.3h0m4.3 0h0m7.9 .3h0m8.8 .2h0m6 .1h0m.7-.4h0m10.4-.1h0m8.2-.1h0m11.9 0h0m9.5 .8h0m3.9-.6h0m2.6 .5h0m1.8-.3h0m.5-.5h0m11.9 .7h0m11.2-.5h0m5.6-.1h0m2.9 .7h0m.4-.7h0m7.3 .8h0m11.7-.2h0m1-.2h0m6.5-.2h0M82.1 320.9h0m2.7-.2h0m.2 .1h0m.5-.6h0m1.4 .1h0m10.9 .5h0m9.4-.7h0m3.3 0h0m.7 0h0m26.4 .7h0m11.3-.5h0m2.2 .1h0m4.7 .1h0m1.6 .1h0m2.8 .3h0m13.5-.6h0m5.7 .5h0m3.4-.4h0m3.1 .3h0m12.7 .2h0m1.1-.1h0m13.5-.3h0m15.2-.3h0m3.5 .5h0m7.9-.7h0m5.5 .2h0m3.7 0h0m.6 .7h0m2.2 0h0m2.9-.4h0m2.9 .4h0m26.4-.3h0m6.8 .2h0m10.2-.3h0m6.2 0h0m.7 .3h0m.3 .1h0m.9-.6h0m.8-.1h0m2.4 .3h0m3.9 .1h0m2.7 .2h0m16 0h0m1.8-.4h0m9.1-.4h0m11.7 .7h0m1.1-.1h0m13.1-.6h0m7.4 .1h0m66.2 .2h0m8.9 .4h0m10.6-.7h0m2.5 .1h0m.9 .3h0m9.3 .2h0m4.6-.6h0m1.6 .9h0m12.6 0h0m2.9-.4h0m2.5-.2h0m8.9 .5h0m4.8-.8h0m2.4 0h0m2.4 .4h0m7.5 0h0m3.4 .2h0m12.4-.2h0m.7 .5h0m.1 0h0m5.5 0h0m2-.3h0m4.8 .2h0m3.6-.3h0m5.7 .4h0m.9-.5h0m2.3-.2h0M90.1 321.1h0m4.3 .8h0m8.9-.6h0m.6 .4h0m13.8-.3h0m3.3 .1h0m3.2 .2h0m7.5-.7h0m.2 .7h0m1-.1h0m6.8-.1h0m5.1-.2h0m4.6-.1h0m5.5-.1h0m1.8 .1h0m14.1 0h0m4.3 .5h0m1.8 .2h0m12-.9h0m2.2 .3h0m6.5-.1h0m21.7 .5h0m6.3-.2h0m6.7-.1h0m6.1-.3h0m5.9 .2h0m9.4 .2h0m5.5-.2h0m8.1-.3h0m8 .8h0m.8-.1h0m4.9-.7h0m1.9 .4h0m8.1 .3h0m15.4-.1h0m3.7 .3h0m2.3-.8h0m3.3-.1h0m2.2 .6h0m6.3-.4h0m9.8 .4h0m9.8-.5h0m14.8 .2h0m15.3 .3h0m1.3-.5h0m1.6 .7h0m8.4-.8h0m.9 0h0m2.2 .6h0m21.9-.6h0m1.8 .1h0m3.7 .4h0m10.7-.3h0m25.5 0h0m1.9 .3h0m3.7 .4h0m.3-.2h0m3.6-.2h0m6.9-.3h0m7.8 .5h0m7.6-.7h0m13.4 .4h0m10.7-.3h0m10.5 0h0m1.3 .4h0m1.6-.5h0m4 .3h0m2.4 .6h0m.4-.6h0m.4-.3h0m6.2 .4h0m6.8-.3h0m3.9 .8h0m13-.6h0M97.7 322.9h0m.9-.2h0m9.3-.4h0m.9-.3h0m.2 .7h0m14.4-.3h0m1.1-.4h0m4.1 0h0m1.7 .7h0m1.9 0h0m.2-.3h0m2-.2h0m.9 0h0m4.1 .2h0m2.4-.2h0m.1 0h0m2.5 .3h0m1.5 .3h0m12-.6h0m1.1 .5h0m5.5-.3h0m4-.3h0m2.6 .5h0m7.1-.3h0m13 0h0m12.4 0h0m7.5-.3h0m8.8 .1h0m20.8 .4h0m8.3 .1h0m5.1 .3h0m2-.6h0m19.5 0h0m3.6 .1h0m15.8-.3h0m.2 .7h0m2.8-.8h0m4.3 .7h0m3-.7h0m3.3 .1h0m4.2 0h0m10.9 .7h0m1.9-.8h0m1.2 .8h0m2.8-.5h0m4.2 .1h0m4.5 0h0m3 .5h0m1.7-.6h0m1.3 .5h0m1.3-.7h0m19.7 .4h0m13.9 .1h0m3-.5h0m15.5 .1h0m11.4 .2h0m5.5-.4h0m.7 .5h0m12.6-.5h0m11.6 .4h0m11.9-.2h0m1 .4h0m28 .3h0m7.6-.8h0m4.7 .4h0m.3 .2h0m2-.3h0m2.1 .1h0m5 .2h0m5-.7h0m12.5 .7h0m6.5 .2h0m4.4-.2h0m6.3-.1h0m6.7-.5h0m2.5 .6h0m7.9-.1h0m2.9 .2h0m6.3-.6h0m2.6 .3h0m5.3-.1h0M83.8 323.7h0m7.6-.1h0m0 .2h0m12.3-.7h0m1.6 .6h0m.5-.7h0m2.5 .4h0m18.1-.4h0m.2 .2h0m12.3 .4h0m5.5-.4h0m8.7 .4h0m8.2-.6h0m1.8 .3h0m8.2-.2h0m3.8 .5h0m21.2 .3h0m14.1-.4h0m6.5-.2h0m3-.1h0m8.7 .1h0m8.5 .1h0m15.9-.3h0m4.3 .4h0m5.4-.2h0m1.2-.3h0m32.5 .6h0m8.6-.6h0m9.2 .3h0m5.5 .3h0m2.4-.4h0m2 .6h0m5.4-.6h0m5.1-.1h0m4.7 .3h0m4.6 .1h0m32.5-.1h0m2 .1h0m2.7 .2h0m26.2-.5h0m3.6-.2h0m1.8 .5h0m10.2 .2h0m6.6 .1h0m11.3-.8h0m.9 .8h0m10.3-.5h0m2.3-.3h0m1.6 .4h0m10.6 0h0m4.3-.4h0m15.2 .6h0m17.6-.2h0m8.3 .3h0m1 .1h0m1-.1h0m4.5-.4h0m2.1 .4h0m4-.1h0m1.7-.6h0m6.1 .2h0m2.8 .1h0m5.9-.3h0m7.6 .5h0m2.6-.4h0m2.1 .5h0m13.3-.2h0M79 324h0m3.6 .8h0m1.7 0h0m12.8 .1h0m12.5-.5h0m4 0h0m0-.3h0m9.6 0h0m4.7 .4h0m1.9 .1h0m.9 .2h0m18.2 .1h0m4.9-.8h0m.1 .8h0m1.2-.3h0m.9-.2h0m37.9 .2h0m20.5-.3h0m2.5-.2h0m4.9 .8h0m8-.9h0m7.3 .2h0m.2 .1h0m4.4 .6h0m1.1-.4h0m14.7 .1h0m14.7 0h0m2.7-.6h0m2.5 .5h0m3.2-.5h0m2.6 .3h0m10.7 .3h0m3.2-.6h0m1.2 .3h0m.6 .4h0m3.6-.2h0m10.5-.2h0m3.2 .5h0m2.5-.1h0m8 .2h0m10.3 0h0m10.9-.1h0m32.8-.2h0m.1 .1h0m13.8-.4h0m8.8 .2h0m18.1-.4h0m10.5 .8h0m.4-.1h0m9.8-.3h0m9.2-.3h0m43.3 .3h0m6.4-.3h0m6.8 .3h0m4.4 0h0m2.2-.2h0m.1-.2h0m2.7 .7h0m2.1-.2h0m.6 .3h0m6.6-.3h0m7.2-.2h0m1.7 .3h0m4.4-.4h0m2.3 0h0m1.8 0h0m3.6 .3h0m2.8 0h0m16.8-.4h0m1 .1h0m3.2 .5h0M81 325.5h0m9-.4h0m14.2 0h0m17.7 .1h0m4 .3h0m7.9 0h0m9.1-.2h0m5.7 .4h0m3.9-.5h0m2.3 .7h0m3.1-.5h0m14.2-.3h0m1.9 .3h0m10.5 .3h0m4.3-.2h0m16-.4h0m2.9 .6h0m.7 .1h0m.2-.2h0m.6 0h0m11-.4h0m34.9 .4h0m.9 .3h0m.1 0h0m6.8-.3h0m7.7-.2h0m8.3-.1h0m3.4-.1h0m.5-.2h0m.1 .3h0m6.3 .2h0m15.2 .2h0m2.1 0h0m.4-.6h0m10.1 .5h0m3.5-.3h0m3.6-.1h0m10.2 .1h0m7.1-.2h0m1.7 .5h0m3.3-.1h0m13.4 .2h0m2.6 .1h0m6.7 0h0m16.6-.7h0m5-.1h0m8 .8h0m13.5-.3h0m4.3 .3h0m.1-.1h0m19.7-.2h0m7.6 .4h0m3.8-.8h0m.3 .1h0m6.6 .1h0m.4 .3h0m2-.6h0m12.6 .7h0m5 0h0m10.9 .1h0m6.7-.1h0m8.6-.6h0m13.3 0h0m1.4 .8h0m6-.7h0m5.6 .5h0m1.3-.3h0m4.5 .2h0m.9-.1h0m2.2 .4h0m3.6-.7h0m17.9-.1h0m7.7 .4h0m0 .3h0m3.8 0h0m.3-.7h0m1.8 .8h0M85.5 326.6h0m33.4-.2h0m13.8-.3h0m.5 0h0m19.6 .7h0m8.7-.1h0m27.3 .1h0m30.6-.4h0m2.7 .4h0m12.2 0h0m7.3-.2h0m10.8 .2h0m12.4-.2h0m21-.1h0m9.7-.5h0m9.4 .5h0m3.1-.5h0m4.8 .5h0m3.8 .3h0m5.5-.6h0m22.4 .3h0m1.7-.4h0m7.4 .8h0m.1-.5h0m14.8 .4h0m4.7-.5h0m13 .3h0m3.7 .1h0m1.9-.2h0m2.2-.4h0m14.8 .1h0m25.5 .2h0m9.5 .3h0m12.2-.2h0m5-.3h0m1.1 .5h0m6.7 .1h0m13.7-.8h0m9.7 .2h0m16.2 0h0m1.9 .4h0m3.9 0h0m8.7 .1h0m.6-.6h0m13.7 .2h0m6.8 .6h0m14-.9h0m4.3 0h0m1.4 .7h0m2.6-.7h0m2.5 .4h0m1.6 .3h0m.5 .1h0m.4-.4h0M79.9 327.8h0m7.6-.5h0m4.2 .3h0m14.5-.4h0m3.4 .3h0m2.2 .4h0m2.7-.7h0m6.6 .6h0m2.5-.2h0m28.1-.3h0m2.4 .1h0m14.5 .1h0m10.1-.5h0m13.6 .5h0m1.7-.4h0m5.8-.1h0m9.1 .2h0m10.5 0h0m10.2 .5h0m4 .2h0m7.5-.9h0m18 .7h0m7.3 .2h0m5.4-.5h0m10.3-.4h0m2.7 .1h0m11.9 .2h0m.6 .1h0m7 .2h0m4.9-.6h0m2.9 .6h0m6.6 .3h0m5.8-.2h0m4.3 0h0m4.6-.6h0m.9 .3h0m6-.2h0m.4 .4h0m17.8 .1h0m1.2-.3h0m8 .3h0m10-.3h0m6 .3h0m4.4 .1h0m.8-.6h0m4-.1h0m8.5 .1h0m1.8 .4h0m1.6 .2h0m1.5 .1h0m1.4 0h0m8.6-.5h0m1.6 .2h0m8.3-.6h0m.2 .3h0m21.9 .1h0m2.9 .5h0m7.1-.2h0m4.4-.6h0m8.4 .4h0m7.8-.3h0m3.5-.1h0m2.5-.1h0m.9 .5h0m3.1-.1h0m.3 .5h0m4.9-.2h0m13.6 .1h0m1.1 .1h0m6.3-.7h0m.3 .5h0m1-.7h0m4.3 0h0m7.6 .9h0m3.9-.7h0m.2-.2h0m3.2 .6h0m3.8 0h0m25.4-.4h0m2.9-.1h0M79.7 328.4h0m1.2-.2h0m.3 .4h0m1.5-.6h0m0 .6h0m5.3 .2h0m0-.1h0m2 .2h0m.2 0h0m10.5-.9h0m.6 .7h0m6.2-.4h0m.3 .6h0m8.6-.3h0m5.6-.3h0m2.4-.3h0m11.8 .6h0m1.6 .2h0m8.1-.1h0m2.9-.5h0m5.4-.1h0m2 .2h0m29.9-.3h0m23.8 .3h0m7.8 .2h0m14.4-.5h0m26.5 .2h0m.1 .7h0m6.3-.1h0m12-.8h0m13.9 .3h0m17.6 .2h0m4.3 .4h0m10.8 0h0m.7-.1h0m13.3-.3h0m.5-.1h0m4.9-.4h0m3.4 .7h0m6.6-.7h0m22.4 .6h0m23.6-.1h0m1.4 .1h0m2.2 .3h0m4.9-.4h0m23.3-.1h0m5.4 0h0m2.2 .5h0m.1-.3h0m12.7-.3h0m2.9 .5h0m11.6-.4h0m12.7 0h0m1 .1h0m2.2-.2h0m8.6-.3h0m8.7 .4h0m2.7 .3h0m.1-.4h0m1.2 .3h0m1.7-.1h0m11.8 .2h0m10.8-.6h0m15.9 .5h0m1.1-.5h0m.7 .6h0m4.6-.2h0m3.3-.2h0m.4 .6h0m17.8-.7h0M82.9 329.1h0m5.4 .8h0m2-.6h0m4.3 0h0m4.8 .4h0m10.6 0h0m.5-.4h0m12.1 .2h0m3-.4h0m10.9 .1h0m2.7 .7h0m.4-.3h0m18-.5h0m4.3 .2h0m1-.2h0m2.5-.1h0m.1 .5h0m12.8 0h0m4.8 .2h0m11.3-.7h0m14.8 0h0m3.7 .9h0m7.4-.1h0m2.6-.6h0m26.9-.2h0m6.3 .8h0m30.2 0h0m.6-.6h0m7.5 0h0m15.7 0h0m18.8 .3h0m.5-.2h0m.1-.2h0m2.7 .3h0m5.5-.3h0m12.2-.1h0m19.2 .4h0m10.6 0h0m2.2 .5h0m5-.7h0m25.7 .6h0m5-.3h0m11.7 .1h0m11.9-.3h0m8.7 .3h0m4.7 .2h0m5.3-.1h0m11.6-.4h0m5.6 0h0m3.7 .2h0m21.8 .1h0m2.9 .3h0m12.8-.6h0m9 0h0m3.1 .4h0m4.1-.7h0m.4 .4h0m32.6 .1h0m.8-.2h0m.6 .2h0M92.7 330.5h0m.6-.3h0m10.5 .6h0m9.6 0h0m12 .1h0m3.8-.8h0m1.3 .7h0m2.1-.5h0m9.8 0h0m3.3 0h0m1.3-.3h0m4.5 .4h0m2.9 .2h0m5 .2h0m.1-.3h0m6.6 .1h0m.9 .3h0m2 0h0m0 0h0m20.4 0h0m2-.6h0m10.2 .2h0m26-.3h0m3.5 .6h0m23.5-.1h0m.6 .2h0m2-.6h0m3.1-.1h0m2.6 .6h0m.7-.5h0m1.1 .6h0m16.5 0h0m14.4-.8h0m5.5 .6h0m16 0h0m15.1-.2h0m29.3-.4h0m14.3 0h0m11.3 .6h0m23.6-.5h0m11 .4h0m3.4 .1h0m4.5 0h0m7-.3h0m15.6 .1h0m6.3 0h0m21.6-.3h0m7.8 .3h0m5.1-.4h0m3.6 .3h0m6.1 .1h0m1.8-.2h0m5.8 .2h0m.4 0h0m3.4-.3h0m4.2 .2h0m1.5-.1h0m.6 0h0m5.2 .5h0m17.6-.5h0m5.3 .5h0m3-.8h0m16 .9h0m3-.8h0M81.5 331.6h0m0 .3h0m1.1-.8h0m9.3 .5h0m2.1-.3h0m11.6 .3h0m4.9-.6h0m.4 .4h0m2.4-.3h0m1.3 0h0m7.2 .3h0m5.1 .2h0m3.1-.4h0m9-.1h0m12 0h0m10.4 .4h0m2.8-.4h0m.6 .3h0m5.9-.1h0m37.4 .2h0m11.6-.3h0m5.6 .3h0m10.8-.2h0m3.6-.2h0m16.3 .4h0m1 .2h0m9.2-.4h0m3.4-.3h0m.3 .5h0m25.4 0h0m9-.4h0m2.1 .1h0m11.7 .6h0m12.2-.1h0m.3 0h0m11.2-.4h0m6.7 0h0m.6 .1h0m26.2-.3h0m5.2 .1h0m.4-.2h0m.5 .1h0m16.9-.1h0m6.2 .3h0m2.9 .3h0m25.6-.1h0m5.3-.3h0m26.4 .6h0m1 0h0m11.3-.4h0m9.6-.2h0m8.9 .6h0m1.6 0h0m3.8-.1h0m10.1-.6h0m11.1 .6h0m4.9-.4h0m.3-.2h0m2.9 .6h0m1.8-.6h0m10.9 .6h0m3.4-.2h0m3.3-.5h0m5.6 .3h0M82.1 332h0m1.9 .4h0m2.7-.3h0m3.8 .6h0m7.6-.5h0m7.8 .1h0m.6 .1h0m2.1 .5h0m5.8-.2h0m6.7-.2h0m5-.2h0m2.6 0h0m13.5 .3h0m5.3-.5h0m2.6-.1h0m3.6 .6h0m6.5 .1h0m12.2-.5h0m4.5 .3h0m7.3 .3h0m3.8-.7h0m8.6 .6h0m6.7 .2h0m5-.1h0m.7-.1h0m20-.5h0m3.7 .4h0m3.5-.5h0m.9-.1h0m3.2 .5h0m2.8 .1h0m54.1-.2h0m11.2-.4h0m19.2 .8h0m16.4-.7h0m18.7 .5h0m2 .2h0m13.3-.3h0m23.6-.2h0m5.3 .1h0m3.2 .5h0m13.7-.4h0m18.7-.3h0m13.1 .7h0m19.7-.2h0m5.7-.6h0m11.2 .5h0m6.8-.3h0m1.8 .5h0m9.1-.8h0m6.1 .9h0m2.7-.4h0m5.2 .2h0m10.3-.4h0m6.1 .6h0m.7-.5h0m2.5-.1h0m.2 .6h0m3.2-.9h0m1.5 .4h0m.4 .1h0m.6 .3h0m6.8 0h0m1.3-.6h0m1.7 .6h0m12.6-.5h0M81.6 333.8h0m3.6-.3h0m4 .2h0m6.7 0h0m3.3-.2h0m9.5-.4h0m8.3 .6h0m17-.2h0m0-.2h0m4.9-.2h0m5.4 0h0m.1 .4h0m7.9 .2h0m5.3-.7h0m9.6 .4h0m31.2-.2h0m.5-.1h0m3.9 .4h0m.5-.1h0m3.7 .4h0m17.7-.1h0m12.9 0h0m7.6 0h0m30-.2h0m5.9 0h0m17.1-.5h0m.5 .1h0m14.2 .2h0m2.4 .1h0m11.9 .3h0m3.9-.3h0m10.8 .4h0m.5 0h0m6.7-.5h0m10.4 .3h0m22.5-.3h0m9.4-.2h0m2.9 .5h0m8.8 .3h0m1.7-.8h0m17.9 .7h0m9.3-.6h0m27.4 .5h0m12.6-.5h0m13.9 .1h0m.6 .6h0m12.9-.6h0m14.7 .6h0m2-.2h0m.1 0h0m.3 0h0m6.2 .2h0m4.6-.4h0m.1-.1h0m16.7 .2h0m7.6 .1h0m3.3-.6h0m1.9 .5h0m2.3-.2h0m5.6-.2h0m4.5 .7h0M79.4 334.4h0m2.3 .4h0m0-.6h0m2.4 0h0m1.5 .7h0m4.6 0h0m2.8-.4h0m1.1-.5h0m11.4 .8h0m11.5-.4h0m16.3-.1h0m4.8 0h0m.8 .4h0m9.4-.7h0m1.5 .4h0m13.9-.2h0m2.4-.2h0m8.3 .2h0m4.5 .1h0m1.7 0h0m1.8 .1h0m.3 .3h0m9.6 .2h0m5-.2h0m8.2-.2h0m7.6-.3h0m.9 .2h0m3.7 .4h0m3.8-.7h0m2 .4h0m54.1-.5h0m7.8 .2h0m17.8-.2h0m11.5 .2h0m1.6-.1h0m1-.1h0m9.3 .3h0m14.7-.1h0m23.5 .3h0m3.5-.4h0m8.2 .2h0m3.4 .6h0m7.7-.4h0m33.8 .2h0m1.7 .2h0m3.8-.5h0m.4 .5h0m7.9 0h0m4-.4h0m5.1 0h0m3.1 .2h0m3-.1h0m2.2-.1h0m2.4 .4h0m19.1-.1h0m9.4 .1h0m2.3-.9h0m7.9 .5h0m3.8-.2h0m6-.2h0m3.4 .4h0m.5-.2h0m3.5 .4h0m1.7-.3h0m11.7 .3h0m7-.7h0m3.1 .6h0m8.4 .3h0m1.4-.7h0m1.6-.1h0m6.8 .1h0m2.6 .2h0m.3 .3h0m.9 0h0m8.8-.4h0M80.8 335h0m1 .9h0m5.7-.4h0m3.9 .2h0m1.9 .2h0m7.3-.5h0m2.3 .4h0m3.4-.5h0m4.3 .3h0m2.5-.1h0m4.7 .1h0m12.5-.5h0m1.5 .4h0m11.8 0h0m7.4-.1h0m28.4 .1h0m5.4-.5h0m6.8 .8h0m.2-.3h0m61.5 .1h0m1.1-.4h0m.6-.2h0m12.4 .5h0m5 .2h0m1.6 .1h0m9.8-.4h0m9.7 .3h0m8.4-.5h0m25.9 .5h0m2.5-.7h0m9.8 .1h0m3 .2h0m6.8 .4h0m21-.5h0m14.4 .4h0m2.7-.2h0m12.5-.1h0m3.8-.3h0m37.7 .5h0m1.1 .1h0m11.5 .1h0m4.8-.1h0m3.5 .1h0m6.8 .1h0m2.1-.5h0m16.1-.2h0m4.3 .6h0m6.9-.7h0m8.5 .1h0m18.4 .3h0m2.9 .5h0m13.9-.7h0m.4 .2h0m5.9 .1h0m1.1-.1h0m3.2-.1h0m.2 .6h0m13.1-.8h0m.7 .3h0m1.3 0h0M85.6 336.9h0m9.8-.1h0m5-.1h0m1.8 0h0m.1 0h0m3.6 0h0m1.5 0h0m1.4-.1h0m10.9 0h0m2.4-.6h0m3.1 .8h0m5.1-.2h0m3.8-.5h0m6.8 .5h0m5.3 .2h0m2.4 .1h0m5.6-.2h0m.3-.2h0m.1 .2h0m2.3-.3h0m8.4-.4h0m14.4 .4h0m7.5 .4h0m.6-.5h0m11.8-.1h0m3.6 .1h0m2.6-.2h0m1.8-.1h0m6.2 .8h0m22.6-.5h0m8.3-.2h0m.1 .2h0m17.1 .4h0m4.8-.5h0m17.6 .1h0m4-.2h0m5.3 .6h0m10.8-.3h0m3.8 .1h0m9.1 .3h0m8.5 0h0m19.7-.5h0m9.6 0h0m.9 .6h0m4.5-.6h0m4.7 .5h0m18.4-.5h0m1.7 .6h0m19.4-.7h0m4.2 .3h0m.9 .3h0m2.1-.6h0m12.6 .7h0m19-.5h0m5.7-.4h0m2.7 0h0m5.2 .2h0m5.3-.1h0m.9 .1h0m3 .4h0m9.7 .2h0m1.9-.4h0m1.9-.3h0m5.7 .8h0m12.3-.1h0m1.2-.1h0m0 .1h0m6.1 0h0m7.3-.3h0m.7-.3h0m30 .6h0m7.7-.3h0m7.8-.4h0m13.2 .3h0M84.3 337.9h0m7.9-.4h0m15.7 .2h0m14.5-.2h0m9.2-.3h0m3.4 .3h0m7.4-.4h0m7.5 .7h0m6-.7h0m7 .4h0m.9 .1h0m14.6-.2h0m2.2 .2h0m29.4-.2h0m8.1 .5h0m24.8-.8h0m7.9 .2h0m1.2 0h0m3.7 .6h0m5.2-.8h0m2.3 .5h0m4 0h0m6.7 .3h0m7.8-.2h0m3.3-.4h0m19.4-.3h0m11.2 .3h0m.9 0h0m9 .4h0m14.4-.7h0m3.5 .5h0m4.8 0h0m5.6 .1h0m.6-.3h0m8.9 .4h0m5.9-.5h0m17 .2h0m7.5 .1h0m6.8 0h0m2 .2h0m7.4-.4h0m2.5 .3h0m13.9-.4h0m10.8 .7h0m.9-.8h0m14.2 .8h0m4.6-.4h0m10-.2h0m2.5 .1h0m4.5-.3h0m3.9 .5h0m.4 .3h0m6.4-.9h0m1.9 .7h0m5.8-.5h0m2.2 .7h0m5.1-.5h0m13.1 .5h0m2.9-.2h0m3.3 .2h0m16 0h0m7-.7h0m2 .3h0m1.1 0h0m6.2-.1h0m2.8 .2h0m5.6-.5h0m2.3 .3h0m1.5 .1h0m.4-.4h0m1.2 .2h0m.6 0h0m5 .6h0M88.9 338.5h0m2.7-.3h0m1.2 .4h0m1.8 .2h0m14.1-.5h0m3.6 0h0m4.5-.3h0m7.6 .4h0m6.4 0h0m.8 .2h0m8.2 .3h0m3.8-.7h0m7.1 .7h0m9.7-.3h0m4.6-.5h0m11.5 .6h0m1.3-.4h0m18.8 .1h0m9.3-.4h0m.2 .3h0m9.2 0h0m6.3 .6h0m14.2-.2h0m2.9 .2h0m.4-.2h0m3.3-.6h0m19.3 .6h0m15.4-.4h0m16.9-.2h0m15.7 .6h0m3.3-.1h0m26.2-.6h0m14.3 .8h0m21.2-.5h0m20.3 .6h0m2.4-.9h0m2.6 .6h0m10.3-.6h0m.4 0h0m3.3 .7h0m4.5-.6h0m5.7-.1h0m.8 .9h0m8.4-.5h0m23.6 .2h0m7 .2h0m1.1-.8h0m8.5 .5h0m3.7 .1h0m3.7 .1h0m11.1-.4h0m24.5 0h0m7 .1h0m4.2 .4h0m4.6-.5h0m5 .4h0m1.4-.2h0m4.7-.1h0m.4-.2h0m.4 .4h0m.1-.6h0m12.6 .1h0m4.8 .8h0m3.5 0h0m2.2-.3h0M83.9 339.3h0m.3 .1h0m1.3-.1h0m7.9 .3h0m.7 .1h0m4-.2h0m2.1-.5h0m2.9 .9h0m.2-.6h0m9.6 .2h0m31.8-.2h0m4 .1h0m.3 0h0m.6-.3h0m8.4 .8h0m11.7-.6h0m.5 .6h0m4.9-.7h0m1.2 .3h0m20.8-.1h0m.8 .5h0m1.5-.5h0m.6-.3h0m.6 .6h0m26-.4h0m18.5 .5h0m14.4-.2h0m.6-.5h0m6.2 .1h0m.7-.1h0m24.7 .8h0m2.2-.3h0m.6-.2h0m19.2 .4h0m.9 .1h0m11.4-.1h0m10.4-.1h0m23.4-.4h0m3.5 .4h0m18 .2h0m2.5-.4h0m9.9 0h0m10 .3h0m15.6-.4h0m15.7-.1h0m4 0h0m3.5-.1h0m18.6 .5h0m15.9 .2h0m17.9-.5h0m1.1 .3h0m9.7-.6h0m9.2 .8h0m4.2-.7h0m1.5 .7h0m.9-.2h0m5.3-.5h0m36.7-.1h0m7.6 .3h0M93.5 340.5h0m4.1-.1h0m31.7-.1h0m6.2-.3h0m3.1 .9h0m1.1-.8h0m2 .3h0m3.2 .2h0m2.7-.1h0m14.1 .2h0m4.2-.5h0m37 0h0m17.6 .3h0m.3-.5h0m20.3 .8h0m5.4-.3h0m3.3-.2h0m6.2-.1h0m13.6 .1h0m36.9-.1h0m4.1 .4h0m3.1 0h0m13.1-.2h0m15.6-.1h0m11.8-.3h0m2.7 .1h0m11 .3h0m1.4 .4h0m6.7-.6h0m1 .2h0m26.2 .3h0m16.5-.3h0m25.9 .2h0m13.9-.1h0m4.3 .2h0m1.5-.4h0m6.6 0h0m5.8 .2h0m3.7-.2h0m14.1-.2h0m4 .7h0m4.7-.8h0m16.1 .5h0m22.8 .4h0m2.7-.4h0m10.9-.5h0m1.9 .2h0m.9 .1h0m5.6 .2h0M80.6 341.1h0m2.2 .5h0m10.1-.6h0m4.6 0h0m4.3 .4h0m9.7 .3h0m5.3 .2h0m11.4-.6h0m7.3-.2h0m18.2 .8h0m7.7-.6h0m23.4 .4h0m9.6-.7h0m4.7 .4h0m11.5-.1h0m2 .4h0m46.9-.2h0m14.8-.4h0m6.4 .8h0m1.1-.9h0m23.2 .9h0m2.2-.4h0m14-.2h0m3.6 .2h0m15.6-.3h0m15.3 .1h0m10.1-.1h0m16.2 .5h0m12.4-.1h0m2 .3h0m7.7-.8h0m4.3 .2h0m1.8 .5h0m12-.4h0m6.7-.4h0m.6 .3h0m4.9 .4h0m1.3-.1h0m3.1-.1h0m3.5 .4h0m3-.1h0m6.9-.3h0m11.9-.2h0m1.1 0h0m11 0h0m.6 .1h0m.2-.2h0m.6 .4h0m1.1-.1h0m25.2-.2h0m10.2-.2h0m2.1 .3h0m2.4 .5h0m3-.1h0m1.3-.3h0m.1 .3h0m3.9-.2h0m2.1-.4h0m4.3 .5h0m2.8-.5h0m2 0h0m4.2-.1h0m4.8 .1h0m7.3 .1h0m3.2 .2h0m2.5-.1h0m3.5-.1h0m4.2-.3h0m3.2 .6h0m.7-.3h0M80.8 342.7h0m2.2 0h0m6.9-.7h0m2.9 .3h0m4.9 .2h0m1.3-.3h0m9.1 .7h0m7.7-.1h0m1.7-.4h0m8 0h0m6.2 .3h0m3.9 .2h0m.7-.7h0m.2-.2h0m11.8 .5h0m1.1-.3h0m1.6 .1h0m2.6 0h0m.3 .5h0m.3-.2h0m.1-.2h0m4.7-.3h0m.6 0h0m9.4 .3h0m.9 .2h0m20.6 0h0m5.3-.2h0m2.4 .1h0m8.8-.1h0m6.6 .3h0m1.8-.5h0m7.1-.1h0m21.1-.1h0m4.3 .9h0m2.4-.7h0m13.4 .1h0m3.8-.1h0m9.5 .5h0m10.7 .1h0m19.2-.8h0m10.4 .3h0m6.5 0h0m1 .1h0m4 0h0m24.6-.1h0m10.5 .5h0m16-.8h0m13.2 .7h0m7.6-.6h0m3.4 .1h0m2.6 .2h0m2.3 .4h0m2.4-.6h0m6.1 .4h0m16.6-.4h0m13.9-.1h0m7.7 .8h0m.1-.2h0m1.4 .2h0m2-.1h0m1.4-.8h0m2.2 .3h0m12.2 .6h0m5.9-.5h0m3.9-.2h0m.2 .3h0m6.2 .3h0m11.1-.6h0m.5 0h0m4.4 .7h0m1.8-.2h0m21.3-.4h0m5-.2h0m1.9 .3h0m6.4-.1h0m5.7 .2h0m6.3 0h0m6.8 0h0m0 0h0m5.1-.2h0m2-.2h0M82.7 343.4h0m15.9 0h0m1.5 .5h0m9.7-.4h0m1.1 0h0m1.7 .1h0m.5-.1h0m8.8 .1h0m19.8-.5h0m2 .2h0m.4-.2h0m5.7 .5h0m14.3 .3h0m.7-.3h0m1.7-.6h0m.5 .2h0m2.5-.1h0m5.7 .1h0m2.6 0h0m1.9 .2h0m5.4-.3h0m27 .3h0m3.4-.1h0m7.2 .4h0m14.1-.3h0m7.6-.1h0m34.6-.3h0m13 .1h0m15.8 .8h0m19.7-.3h0m27.7-.2h0m2.7 .2h0m11.7 .2h0m14.6-.3h0m11-.3h0m2.8-.2h0m35 .3h0m3.8 .3h0m.4-.6h0m2.2 .8h0m.9-.1h0m12.9-.7h0m2.5 .6h0m9.9-.1h0m6.4 .1h0m1.5-.6h0m.7 .9h0m8.6 0h0m17.9-.8h0m7.5 0h0m2.4 .8h0m6.6-.2h0m3.5 .1h0m11.1-.6h0m3.2 .5h0m10.4-.4h0m4 .6h0m1.8-.1h0m11.6-.2h0m.5-.6h0M88.9 344h0m7.7 .5h0m2.3 .2h0m10.3 .2h0m1.7-.5h0m3.2-.4h0m3.1 .4h0m12.1-.2h0m2.1 .3h0m2.6-.2h0m7.1 .1h0m.9-.4h0m13.9 .4h0m2.4 .4h0m5.1-.4h0m2.9 .3h0m3.4-.7h0m6.9 .1h0m3.3 .7h0m17-.1h0m2.1-.1h0m2-.5h0m18.4 .6h0m9.3-.7h0m3 .2h0m1.5 .5h0m3.8-.6h0m2.1 .5h0m11.2 .3h0m49.9-.8h0m4 .2h0m11-.1h0m6.8-.2h0m14.2 .8h0m8.4-.5h0m6.7-.2h0m20.5 .2h0m3.4-.2h0m4.9 .5h0m8.6-.3h0m7.6-.1h0m2.4 .1h0m11.5-.3h0m4.9 .8h0m7.7-.8h0m3 .9h0m2.8-.6h0m10.5 0h0m25.3-.2h0m10.9 0h0m3.3 .8h0m7.3-.7h0m11.5-.2h0m23.2 .4h0m10.1 .4h0m4.1-.3h0m23.6 .2h0m.7-.6h0m3.4-.1h0M81.1 345.4h0m2.8 .3h0m19.3-.3h0m6.4 .3h0m9.9 .1h0m1.5 0h0m1.5 0h0m2.3-.2h0m4 .2h0m13.7-.4h0m2.6-.4h0m5.9 .6h0m20.2 .2h0m15.6-.7h0m.3 .4h0m15.9 .1h0m17.7-.1h0m37.2 .4h0m8.9-.7h0m28.1-.2h0m5.1 .1h0m17.3-.1h0m9.3 .2h0m.4 .2h0m26.7 0h0m2.9-.3h0m4 .8h0m2.5-.9h0m2.1 .2h0m8.7-.1h0m6 0h0m3.3 .4h0m15.5 .1h0m23.2-.4h0m4.4 .5h0m28.9-.1h0m6.2-.3h0m.6-.2h0m3.9 .3h0m.6-.3h0m5.1 .2h0m36.2 .6h0m11.6-.3h0m6.5 0h0m1.1-.5h0m24.5 .4h0m2-.2h0m1.1-.2h0m7 .4h0m6.8 .2h0M82.9 346.6h0m6.7-.5h0m17.7 .5h0m3.5-.4h0m7.7 .5h0m18.2-.2h0m7.5 0h0m5.1 .2h0m2.7-.1h0m7.5-.6h0m1.2 .2h0m.7 .4h0m3.6-.5h0m.4-.1h0m12 .7h0m19.5 .1h0m6.2 0h0m6.5-.7h0m33.7 .5h0m24.1-.2h0m19.2-.1h0m4.6 .1h0m9.9 .3h0m15.8-.1h0m5.3-.5h0m11.3 .1h0m1.7 .5h0m.8-.4h0m15.4-.3h0m11.3 .3h0m12.4 .4h0m4.4-.1h0m1.9-.1h0m15.6-.4h0m1.2 .3h0m4.1 .2h0m4.3 .3h0m.8 0h0m8.1-.6h0m.5 .4h0m1.5 0h0m.4-.1h0m1.7-.4h0m10.4 .3h0m.4-.2h0m.7 .3h0m1.4-.5h0m4.1 .1h0m11.2 .6h0m9.4-.3h0m4 .2h0m14.6-.7h0m14.9 .1h0m4.9 .6h0m4-.3h0m18-.3h0m1.1 .6h0m7.5-.6h0m8.9 .3h0m14.7-.3h0m2.6 .8h0m5.8-.8h0m11.1 0h0M79 347.1h0m1.2 .2h0m5.1 .1h0m7.3-.2h0m.1 .4h0m11.5-.3h0m5 .1h0m.8 .3h0m8.6 .2h0m4.2-.8h0m.4 .8h0m.8-.1h0m2.1-.7h0m27.4 0h0m.3-.1h0m9.5 .7h0m.6-.7h0m9.9 .1h0m11.3 .8h0m21.1-.8h0m8.2-.1h0m9.9 .4h0m11.1 .4h0m22.8-.8h0m3.8 .6h0m3.3 .2h0m3.3-.5h0m16.3 .6h0m5.6-.5h0m4.5-.1h0m18.5 0h0m2.7-.3h0m5.6 .4h0m1.1 .1h0m10.5-.3h0m5 .3h0m20.7-.4h0m.2 .1h0m30.6 .4h0m6.9-.6h0m13.2 .7h0m17.1-.6h0m3.8 .6h0m11.4 .1h0m1.7 0h0m1.6 0h0m1.9-.1h0m9.1-.6h0m4.8-.1h0m5.9 0h0m15.9 .4h0m11 .3h0m9.9-.3h0m.6-.4h0m.8 .7h0m4.9 .1h0m.7-.6h0m1 .6h0m12-.6h0m2.5 .3h0m1.5 0h0m4.2-.5h0m5.4 .9h0m1.9-.7h0m4.6 .7h0m1-.5h0m8.2 .2h0m3.5-.6h0m4.2 .1h0m5.7 0h0m2.1 .7h0m3.1-.6h0M84.4 348h0m8.6 .5h0m1.4 0h0m2.1 .2h0m9.7-.1h0m0 .1h0m.9-.3h0m.6 0h0m4.9-.3h0m14.5 .7h0m8.9-.6h0m13.8 .2h0m.3-.3h0m5 .5h0m2.6-.5h0m31.8 .5h0m2.1 .1h0m.5-.2h0m6.2 .2h0m2.7-.5h0m4.7 0h0m14.8 .5h0m10.3-.6h0m2.6 .3h0m5.4 .2h0m13.6 .1h0m2.8-.2h0m8.4-.1h0m17.8-.3h0m19.5 .6h0m22.5-.6h0m19 .5h0m3.3-.4h0m17.2 .1h0m.5 0h0m17.6 .2h0m14.8-.5h0m5.6 .4h0m5.5-.4h0m1.9 .3h0m3.3 .4h0m3.4-.2h0m.4 .4h0m13-.5h0m5.8 .4h0m14.8-.3h0m18.3-.3h0m5-.1h0m7.3 .7h0m4.2-.5h0m11.7-.1h0m2.4 .5h0m10.5-.5h0m3 0h0m4.3 0h0m11.4-.2h0m3.7 .4h0m9.3-.1h0m3.5 0h0m.5-.1h0m2.1 .1h0m7 .1h0m9-.4h0m5.6 .5h0m3.2 .4h0M80.2 349.1h0m1.4 0h0m.3 .1h0m8.2 .3h0m13-.2h0m10.7 0h0m4.1 0h0m2.5 .3h0m9-.1h0m9.8-.2h0m10 0h0m3.7-.3h0m3.6 .2h0m9.8 .5h0m20.2-.7h0m1.9 .6h0m1.5-.1h0m3.1 .3h0m16.7-.3h0m31.6-.1h0m6.9 .3h0m17.5-.5h0m15.9 .2h0m7.7 .3h0m20.8 .1h0m18.8-.1h0m1.7 .2h0m.6-.9h0m7.8 .9h0m29.8-.9h0m2.1 .7h0m15.7-.5h0m15.4-.1h0m5.3 .8h0m10.4-.4h0m1.8 .1h0m28.6-.6h0m13.5 .4h0m7.4 .2h0m3.3 .2h0m2.4-.6h0m1.9-.2h0m38 .1h0m14.8 .5h0m6-.6h0m.9 .8h0m17.1-.3h0m.1 .2h0m8.6 .1h0M83.7 350.8h0m4.9 0h0m.2-.8h0m6.3 .6h0m2.6-.2h0m10 .5h0m22-.4h0m1.8-.2h0m10.6 .6h0m8.7-.8h0m6.5 .5h0m3.6 .2h0m36.5-.3h0m.8-.1h0m2-.1h0m16.3 .5h0m34.6-.8h0m4.6 0h0m4.1 .6h0m7-.4h0m24.6 .7h0m31.3-.5h0m6.2 .1h0m.4-.5h0m69.4 .5h0m42.6 .4h0m8.1-.9h0m17.8 .9h0m2.7-.7h0m4.2-.2h0m1.4 .9h0m11.5-.3h0m1.2-.4h0m10.1 .6h0m8.8-.6h0m0 .6h0m12.1-.7h0m4.2 .4h0m12.1-.5h0m8.3 .8h0m1.1-.4h0m.7 .3h0m4.9-.7h0m0 .9h0m1.3-.8h0m2.9 .8h0m4.1-.2h0m9.1-.6h0m2.6 .7h0M95 351.6h0m5.7-.6h0m4.8 .3h0m1.4 0h0m4.5 0h0m6 .3h0m1.5-.6h0m1.2 0h0m1.1 .2h0m41.9 .1h0m5.7-.3h0m2.9 .8h0m.4 0h0m2.5 .1h0m1.1-.3h0m6.6 .3h0m13.5-.5h0m4.5 .5h0m9.1-.5h0m6.2 .3h0m.7 .2h0m4.6-.9h0m16.5 .8h0m4.7-.4h0m11.1-.2h0m8.7 0h0m9.2-.1h0m19.8 .5h0m13.7 .1h0m10.4-.6h0m29.7 .4h0m14.3 0h0m7.6-.3h0m1.1 .5h0m43.8-.5h0m10-.2h0m8.2 .1h0m13.1 .8h0m.7-.6h0m14.2-.1h0m12.4 .2h0m5.5 .2h0m2.6 .1h0m5.1-.2h0m.2 .3h0m24.4-.8h0m7.2 .5h0m6.8-.4h0m1.2 .8h0m1.7-.7h0m14.6 .4h0m5.5 .2h0m1.1 .1h0m.5-.3h0m.5-.2h0m3.4 .4h0m13.4 .1h0m.8-.6h0M80 352h0m.8 .5h0m.2 .3h0m6.1-.2h0m.5 0h0m2-.4h0m4.5-.1h0m11.6-.1h0m5.1 .1h0m11.8 .2h0m2.6 .1h0m6.4 .4h0m12.6-.5h0m15.3 .6h0m8.6-.9h0m7.5 .9h0m9.5-.4h0m10.6 .1h0m2.1 0h0m21.2 .1h0m13.7-.2h0m53.3 0h0m7.9 .3h0m9.8 0h0m19.9-.3h0m9.1-.1h0m7.8 .2h0m20.6-.1h0m2.7-.1h0m29.2-.3h0m12.8 .8h0m1-.1h0m21.4-.6h0m10.9 .3h0m7.2-.1h0m10.1-.4h0m2.9 .2h0m3.6 .3h0m15.2-.3h0m11.5 0h0m7.4 .3h0m4.4 .3h0m1.3-.6h0m1.5 .6h0m9.2-.1h0m2.9 .2h0m7.8-.3h0m10.9 0h0m.7 .3h0m1.9-.8h0m8.9 .4h0m16.4-.4h0m3.2 .6h0m5-.4h0m.1 .2h0M81.2 353.4h0m0 .3h0m7.4-.5h0m1.9 0h0m17.4-.1h0m9.7 0h0m13 .6h0m5.3 .1h0m6.5-.1h0m10.2 .1h0m4.1-.8h0m27.8 .9h0m58.4-.5h0m9 .3h0m15.3 .2h0m4.9-.6h0m22.4 .3h0m12.9 .3h0m5.6-.5h0m9.9 .5h0m4.6-.9h0m17.7 0h0m6.2 .2h0m30.7 .3h0m14.2 0h0m2.3 .1h0m5.6-.4h0m4.8 .5h0m23-.7h0m4.4 .8h0m14.3-.6h0m15.1-.1h0m.3 .2h0m1.1-.1h0m5.7-.1h0m2.2 0h0m15 .2h0m15.4 .3h0m10.6 0h0m7.5-.1h0m14.3-.3h0m9.6 0h0m4.4 .6h0m.3-.2h0M83.6 354.7h0m1-.3h0m2.7-.4h0m3.6 .9h0m3.8-.9h0m17 .9h0m21.9-.3h0m6.5-.4h0m8.1 .7h0m8.4 0h0m11.5-.2h0m1.8 0h0m2.3-.6h0m13.7 0h0m22.4 0h0m6.5 .2h0m33.3 0h0m11.4-.2h0m64.8 0h0m15.6 .7h0m23.9 0h0m8.8-.7h0m3.7 0h0m7.3-.1h0m2.9 .4h0m13.3 .3h0m2.2-.1h0m1.2-.2h0m25.7-.1h0m23 .5h0m9.2-.1h0m4.4-.4h0m5.1 .3h0m1.6-.4h0m.6 .3h0m1.6 .1h0m4.5-.1h0m13.2-.2h0m26.7 .4h0m7.4-.5h0m11.5 .5h0m9.3 0h0m12.2-.1h0m4.6 .3h0M81.4 355.3h0m2.9 .2h0m1.4 .2h0m15.7-.1h0m3.5 .3h0m12.2-.3h0m6.6 .2h0m11.2-.2h0m3.4-.4h0m1.2-.2h0m.1 .9h0m.2-.9h0m28.6 .5h0m33-.5h0m2.2 0h0m.9 .6h0m12.8 .3h0m3.4-.3h0m24.7-.3h0m6.2 .5h0m7.8-.6h0m20.2 .7h0m19 0h0m17.3-.3h0m9.8-.4h0m8.8 .3h0m11.4-.1h0m13.3 0h0m.6 0h0m.2 .1h0m16.2-.2h0m12.5 0h0m5.8 .5h0m9.9-.5h0m.9-.2h0m3.9 .5h0m13.5-.4h0m41.2 .2h0m.4-.2h0m9.5 0h0m2.8 .4h0m1.9-.6h0m9.1 .1h0m.7 .3h0m3.4-.3h0m3.1 .7h0m7.5-.4h0m1.8-.1h0m3.5 .6h0m9.4-.3h0m2.3-.1h0m17.5-.2h0m1.1-.3h0m3.1 0h0m1.7 .7h0m5.8-.5h0m5.1 .3h0m13.3-.5h0M83.7 356.9h0m1.9-.8h0m.9 .4h0m.3-.3h0m23.6 .2h0m.5 .3h0m5.8 .1h0m1.8 0h0m.3 .1h0m.7-.7h0m8.7 0h0m1.3-.2h0m2.9 .2h0m14.1 .6h0m6.3 .1h0m35.3 0h0m14.8-.1h0m7.3 .1h0m12.8-.1h0m1.8 0h0m2.4-.3h0m69.1-.3h0m24.5 .1h0m.8 0h0m28.3 .4h0m5.9-.4h0m18.5 .2h0m26.2 .3h0m11.1-.1h0m2-.3h0m7.2 .4h0m7.7-.6h0m10 .5h0m2.5-.1h0m2.8 .3h0m5-.8h0m1.4 .1h0m2.5 0h0m6.4-.2h0m18.7 0h0m17.6 .3h0m.8 .6h0m11.5-.9h0m2.2 .3h0m6.4-.2h0m.4-.1h0m10.4 .5h0m5.1-.4h0m8.1 .7h0m12.2-.5h0m2.7 0h0m8.5 .6h0m4.8-.5h0M91.8 357.2h0m2.1 0h0m.8 .3h0m.1-.3h0m3.5 .5h0m14-.7h0m9.6 .7h0m4.3-.2h0m2.8-.2h0m1.2 .1h0m27.2 .3h0m3-.5h0m34 .3h0m7.3 .3h0m2.8 .1h0m24.1-.3h0m8.9 .1h0m29.2-.7h0m2.9 .1h0m16 .1h0m4.1 .4h0m43.6-.5h0m10.3 .7h0m14.4-.1h0m40.2-.6h0m.9 .5h0m3.7-.1h0m11.1 .4h0m1.8-.4h0m15.8-.5h0m17.8 .1h0m7.1 .4h0m25.3 .1h0m1.1 .2h0m6.8-.1h0m1.5-.7h0m.1 0h0m4.3 .7h0m7.7-.5h0m6.1 .3h0m1.4 .1h0m6.9-.4h0m3.2 .4h0m6.2 .1h0m4.7-.7h0m4.7 .2h0m6.6 .6h0m15.1-.2h0m.9-.6h0m8.9 0h0m1.4 .6h0M82 358.8h0m2.2-.2h0m5.6 .1h0m11.8-.1h0m4.2-.6h0m4.6 .1h0m1.6 .3h0m1.4 .4h0m87.8-.7h0m13.3 .4h0m38.8 .2h0m30-.1h0m10.7-.1h0m2-.2h0m5.3 .2h0m49.8-.1h0m37.7 0h0m7.8 0h0m11.1 .1h0m17.4 .3h0m14.9 0h0m22.4-.5h0m2.2-.2h0m.6 .4h0m4.8-.5h0m7.9 .5h0m2.6 .1h0m5.8 .1h0m8.1-.4h0m12.4 .5h0m.5-.4h0m16.2-.1h0m35.1-.3h0m12.8 .7h0M88.8 359h0m3.6 .2h0m.8 .1h0m16.1 .5h0m4.7-.5h0m23.7 .4h0m6-.1h0m29.4-.6h0m3 0h0m12.7 .3h0m13.8-.1h0m17.4 .7h0m8.4-.8h0m18.9 .2h0m6.6 .6h0m4.4-.5h0m.3-.4h0m3 .4h0m31.1-.1h0m19 .2h0m5.1 .4h0m9.4-.5h0m.1-.1h0m7.9-.1h0m7 .6h0m21.7-.3h0m35.5 .2h0m3.4 .2h0m10.5-.3h0m12.1 0h0m1 .3h0m11.1-.3h0m3.4-.4h0m18.8 .7h0m9.4-.9h0m8.1 0h0m21.8 .2h0m2.1-.2h0m6 .6h0m7.4-.1h0m.7 .3h0m22.4-.2h0m17.8-.6h0m3.8 .7h0m6.4 .2h0m3.6-.8h0M82.1 360.8h0m4.1-.2h0m31.2-.2h0m6.4 .5h0m17.8-.7h0m1.7 0h0m18.9 .1h0m3.3 .5h0m.2-.1h0m38.4 0h0m1-.6h0m.6 0h0m42.1 .2h0m27.6 .6h0m2.5-.8h0m3.8 .3h0m28.3 .3h0m.9-.1h0m5.5-.6h0m9.4 .9h0m17.5-.8h0m3.1 .8h0m37.9-.3h0m1.4-.1h0m9.1 .4h0m1.6-.1h0m15-.6h0m7.6 .4h0m9-.1h0m.1-.4h0m17.1 .4h0m1.4 .1h0m6-.5h0m1.6 .1h0m5.1 .5h0m17.8-.6h0m1.9 .4h0m31-.3h0m.4 .7h0m14.7-.5h0m7.1-.1h0m.1-.1h0m.4 0h0m1 .3h0m16.3 .2h0m10.7-.3h0m1.4-.3h0m4.8 .1h0M80.7 361.5h0m17.3 .2h0m1.1 .1h0m.7-.2h0m8.9-.2h0m19.6-.4h0m.2 .1h0m2.1 .5h0m4.6-.1h0m10.6 .1h0m1.2-.3h0m13.5-.3h0m40.6 .2h0m8.8 .5h0m6.8-.2h0m7.1 .4h0m10.6-.8h0m6.3 .5h0m34.5 .3h0m22.4-.2h0m7.9-.3h0m7.1-.2h0m10.1 .6h0m22.1-.2h0m9.7-.6h0m8.2 .1h0m.2 .3h0m7-.3h0m27.8 0h0m41 .3h0m33.6-.1h0m19.2 .5h0m12.8 .1h0m2.1-.9h0m37.2 .5h0m2.3 .3h0m5.6-.2h0m16.3-.5h0m1.3 .5h0m.2 .2h0M79.5 362.1h0m3 .7h0m4.9-.2h0m1.1-.2h0m4.7-.3h0m5.5 .8h0m3.5-.6h0m13.3 .6h0m2.5-.2h0m23.4-.2h0m6.1 .4h0m14.1-.8h0m11.9 .5h0m13.3 .2h0m4-.2h0m4.7-.6h0m20.2 .6h0m14.9 .2h0m15 .1h0m9.6-.4h0m14-.5h0m27.2 .2h0m7.9 .4h0m20.9 0h0m7.7-.2h0m15.6-.3h0m10 .3h0m14-.4h0m2 .8h0m3-.5h0m.7 .3h0m3.2-.6h0m13.6 .9h0m33-.4h0m5.9-.3h0m1.5 .6h0m3.1-.4h0m13.7 .1h0m.9-.2h0m6.2-.1h0m1.3 .7h0m7.7-.3h0m.1-.5h0m12.7 .3h0m2-.2h0m.4 0h0m4.5 .2h0m15.1-.1h0m11.6 0h0m18.1-.1h0m10.7-.2h0m7.6 .4h0m15.2 .4h0m1.2 0h0M86.4 363.3h0m8.7 .6h0m2.8-.5h0m1.4 .5h0m4-.2h0m16.4-.6h0m1.4 .4h0m7.3-.4h0m1 .6h0m8.6 0h0m4.5-.3h0m25.1 .3h0m1.8 .1h0m.3-.3h0m23.5 .2h0m8.1 0h0m37.8 .2h0m25.6-.5h0m14.4 .4h0m40.6-.3h0m19.2 .1h0m18.2-.5h0m20.6 .8h0m32.4 0h0m13.6-.8h0m8.7 .1h0m5.8-.2h0m14.7 .8h0m15.8-.8h0m.5 0h0m4.2 .2h0m18.2 .4h0m3.7 .1h0m.5-.6h0m1.5 .3h0m.7-.2h0m5.7 0h0m2.9 .5h0m7.9 0h0m8.9-.4h0m2.8-.1h0m7.4 .6h0m14.3-.5h0m13.9 .4h0m.9-.6h0m9.1 .5h0M82.4 364.4h0m21.5 .5h0m4.2 0h0m3.5-.5h0m23-.2h0m1.1 .4h0m28.2-.2h0m46.1-.3h0m0 .4h0m17.6-.4h0m35.3 0h0m30.1 .5h0m2-.6h0m16.3 .4h0m22.7-.3h0m35.5-.1h0m7.6 .4h0m.8 .5h0m6.1-.7h0m5.1 .5h0m50.9-.3h0m13.4-.4h0m25.5 .8h0m3 .1h0m7.3-.2h0m1.5-.3h0m3.4 .1h0m9.6-.3h0m7.3 .4h0m10.3 .3h0m1.3-.2h0m32.1-.2h0m4.3 .1h0m3.2 0h0m7 .1h0m2.6 .2h0M81.2 365.9h0m3.9-.4h0m1.2 .2h0m3.6 0h0m2.3-.4h0m6.5 .2h0m12-.5h0m6.9 .8h0m8.6 .1h0m3.7-.1h0m7.4-.8h0m4.6 .7h0m14.1-.2h0m5.5 .3h0m32.6-.5h0m9.5 .2h0m12.3 .3h0m.3-.6h0m7.2-.1h0m13.7 .7h0m22.7-.7h0m16.6 .6h0m8.6-.3h0m46.3-.2h0m1.2 .4h0m33.9-.4h0m10.2-.2h0m39.1 .5h0m10.5 .3h0m10-.2h0m6.2-.1h0m2.5-.1h0m27 .4h0m2.3-.5h0m30.8-.2h0m9.1 .6h0m3.6 .1h0m8-.5h0m5.9 .6h0m9.7-.5h0m22.1 .3h0m5.4-.1h0m2.3-.4h0M86.2 366.8h0m15.3-.1h0m1.6-.7h0m1.3 .3h0m52 0h0m8.2-.2h0m31.6 .7h0m16.7-.6h0m9 .6h0m1.8-.7h0m9.1-.1h0m4.6 .4h0m2.7 .2h0m18.4 0h0m10.5 .1h0m25.6 .2h0m13.3-.3h0m5.5 0h0m7.8-.3h0m22.8 .6h0m7.5-.7h0m1.4 .5h0m2.2 .2h0m4.7-.2h0m3.2-.1h0m12.3 0h0m3.8-.3h0m15.2 .4h0m17 .2h0m5-.5h0m1.2-.2h0m1.7 .3h0m3.1-.5h0m3.5 .2h0m6.9 .7h0m10.6-.1h0m49.8 0h0m10.4-.4h0m.6-.2h0m1.4-.1h0m4.5 .8h0m24.8-.6h0m6.8 0h0m4.1 .5h0m3.7-.6h0m.7 .6h0m13.1-.8h0m0 .5h0m4.5-.3h0m2.4 .2h0M81.6 367.3h0m3.1 .1h0m0-.2h0m11.3 .7h0m8.3-.3h0m5.7 0h0m.1-.5h0m5.8 .6h0m15.7 .2h0m10.2-.3h0m4.7-.1h0m10.1 0h0m22 0h0m5.9-.1h0m38.6 .3h0m70.5-.6h0m.5 .2h0m47.2 0h0m.9 .1h0m1 .3h0m44-.5h0m22.3 0h0m17-.1h0m22.1 .3h0m13.4 0h0m12.2 .5h0m2.9-.7h0m8.7-.2h0m.2 0h0m1.4 .9h0m6.3-.8h0m.6 .3h0m10.6 .2h0m.8 .2h0m.2 0h0m2.6-.2h0m.3-.4h0m15.5 .5h0m22.3-.7h0m20.2 .1h0M79.3 368.2h0m6.4 .1h0m8.8 0h0m1.1 .1h0m35.7-.3h0m12.1 .5h0m2.7 .2h0m16.6 0h0m17-.3h0m9.4-.3h0m21.4 .6h0m10.1-.5h0m5.4 0h0m85.8 .4h0m16.1-.6h0m1.7 .1h0m2.8-.1h0m1.1 .2h0m4.7 .1h0m42.3-.1h0m12.2 .4h0m5.9 0h0m32.1-.2h0m15.7-.3h0m15.3-.2h0m5.9 0h0m3.6 .5h0m33.2 .4h0m2.7-.4h0m15.2 .3h0m25.4-.8h0m5.9 .2h0m.4 .1h0M92.3 369.7h0m6.1-.6h0m4.4 .6h0m.8-.2h0m2.2-.2h0m7.1 .6h0m11.7-.9h0m45.9 .5h0m14.3-.5h0m47.2 .3h0m75.2-.1h0m20.4 .6h0m5.8-.1h0m28.7-.2h0m11.6 .2h0m6.6-.2h0m6.8-.2h0m6.8 .4h0m2.4 .1h0m37.3-.1h0m61.8-.5h0m6.6 .5h0m11.1-.5h0m.2 .5h0m25.3-.4h0m6.3 0h0m1.2 .3h0m16.3 .3h0m2.6-.6h0m.8 .4h0m1.8-.6h0m.4-.1h0m3.9 .2h0M85.6 370.3h0m2.9 .6h0m8.7-.3h0m2.6 .2h0m31.1-.3h0m38.1 .1h0m7.6-.5h0m15.9 .3h0m3.2 0h0m6.8 .2h0m6.8 0h0m.8 .3h0m7.3-.3h0m44.1-.2h0m4.5 .1h0m24.2 0h0m7.6-.2h0m1.4-.3h0m3.4 .8h0m23.6-.4h0m25.9-.2h0m10.2 .5h0m5.5-.1h0m7.3-.2h0m58.4 .3h0m8 .2h0m20.8-.6h0m1.5 .4h0m3.3-.1h0m12.3-.2h0m.9-.1h0m3.2 .6h0m14-.2h0m8-.3h0m4.4-.2h0m13.4 .2h0m4.1-.2h0m6.9-.1h0m30.2 .2h0M84.7 371.5h0m8.5 .3h0m1.4-.5h0m.6 .6h0m14.9-.1h0m4.7 .1h0m20.1-.7h0m18.7-.2h0m19.4 .5h0m3.6 0h0m2.9 .3h0m6.9-.1h0m2.9-.2h0m26.5-.5h0m49.3 .7h0m23.6 0h0m16.3 .2h0m15.5-.4h0m14.2 .1h0m4.1-.1h0m10-.4h0m11.9 .6h0m8-.7h0m.8 .6h0m11.4-.5h0m13 .8h0m9.7-.5h0m1.1-.2h0m13.8 .3h0m3.9-.5h0m20.8 0h0m23.4 .4h0m14.5-.4h0m2.2 .1h0m14.4 0h0m12.5 .4h0m1.5 .1h0m23.2-.6h0m21.7 .9h0m14.1-.7h0M82.7 372.8h0m5.9-.3h0m17.5 0h0m19.8 .3h0m36.7-.8h0m28.5 .5h0m15.9-.2h0m49.1 .2h0m53.5-.2h0m23.1 .1h0m1.3 .3h0m32.3-.4h0m5 .4h0m31.5-.4h0m10.9 .6h0m19.7-.2h0m10.2-.3h0m.8 .1h0m.5 .1h0m41.6 .3h0m2.1-.5h0m.1-.2h0m7.5 .3h0m13.7 .1h0m9 .3h0m6.9-.9h0m15.5 .9h0m4.4-.2h0m1.8-.1h0m.8 .2h0m8.3-.6h0m3 .3h0m4-.4h0m2.9 .8h0M79.7 373.4h0m6.1 .4h0m6.1-.5h0m25.1 .3h0m4.2-.5h0m7.5 0h0m9.6 .5h0m7.9-.4h0m3.9-.2h0m4.8 .6h0m1.1-.4h0m6.3 0h0m15.9 .3h0m25.5 .2h0m11.6-.4h0m8.8 .4h0m8.2-.2h0m3.8 .4h0m6.5-.3h0m21.3-.4h0m2 .5h0m17.7-.7h0m2.9 .6h0m1.4-.5h0m22.1 .4h0m34-.4h0m11.2 .6h0m14.1-.3h0m44.1 0h0m10.1 .2h0m35.5-.5h0m4 .2h0m8.5-.2h0m16.9 .3h0m1.3-.4h0m14.7 .3h0m1.9 0h0m6.2 .3h0m16.5-.6h0m3.3 .5h0m13.4-.4h0m.1 .1h0m1.3 .6h0m4.2-.6h0m8.3 .7h0m3.4-.4h0m1.2 .1h0m1.2-.5h0m5-.1h0M102.4 374.2h0m20.3 .1h0m24.3 .6h0m3.5-.9h0m2.7 .7h0m2.8-.2h0m2.8 .4h0m3.4-.9h0m15.4 .5h0m9.3-.5h0m23.4 .6h0m15.5-.4h0m.4 .6h0m20.1-.4h0m3.9-.2h0m14.8 .5h0m49.1 0h0m23-.3h0m4.1 .1h0m1.5-.4h0m16.3 .8h0m15.1-.9h0m27.1 .8h0m12.6-.4h0m5.6 0h0m10.5 .4h0m18.3-.2h0m5.3-.1h0m16.1 0h0m2.1-.5h0m3.5 0h0m3.9 .3h0m2.5-.2h0m13.4 .8h0m11-.2h0m1.4-.7h0m6.2 .4h0m6.4-.4h0m15.1 .1h0m.6 .6h0m2 .2h0m8.7-.8h0m21.8 .3h0M79.7 375.5h0m2.6 .4h0m7.4-.1h0m1.2-.7h0m1.5 .2h0m7.4 .5h0m6.6-.7h0m9.3-.1h0m7.8 .3h0m22.1-.3h0m52 .2h0m61.6 0h0m3.2-.1h0m16.6 .8h0m4.9-.8h0m28.3 0h0m19.2 .2h0m29.6 .5h0m10.4-.6h0m21.3 .4h0m22.2-.5h0m31 .6h0m5.6-.6h0m12.5 .3h0m.9 .1h0m6-.2h0m35.5 .6h0m7.4-.2h0m8.5-.4h0m8.2 .2h0m6.6 .4h0m4.6-.5h0m8-.3h0m5.5 .1h0m.9 .2h0m1.3 .1h0m11.1 .3h0M96.9 376.1h0m7.1 .7h0m19.6-.1h0m36.4 0h0m18.1-.6h0m30.8 0h0m10.4 0h0m.1-.1h0m21.2 .3h0m12 .6h0m12.3-.5h0m26.4 .3h0m24.5-.2h0m9.3-.3h0m6.6 .3h0m16.9-.4h0m18.4 .7h0m14.8-.4h0m12.6 .5h0m17.7-.2h0m9.8-.1h0m.2-.3h0m34.3 .4h0m28.2-.7h0m22.9 .3h0m.7 .6h0m6.2-.8h0m1.7 .2h0m2.1 .3h0m9.7-.1h0m.3-.2h0m22.1 .5h0m6.4-.5h0m7.7-.3h0M79.5 377.5h0m5.5-.5h0m16.7 .4h0m.8 .2h0m8.5-.2h0m1.8 0h0m31.2-.3h0m3.2 .3h0m22.7 .2h0m4.4 0h0m17-.5h0m4.9-.1h0m31.8 0h0m13.5 0h0m6 .4h0m28.5-.2h0m61.7 .4h0m3.3-.6h0m10.7 .4h0m53.2-.3h0m71.2 0h0m13.6 .5h0m11.5-.2h0m3.6 .3h0m14.9 .1h0m20.8 .1h0m1.9-.9h0m22.7 .8h0m1.4 0h0m1.4 .1h0m.6-.7h0M87.5 378h0m7.8 .9h0m.5-.1h0m3.4-.7h0m3.8 .4h0m20.2-.3h0m3.5 .6h0m31.1-.7h0m3.4 .1h0m2.1 .1h0m32 .1h0m19.4-.1h0m23 .5h0m11.9-.4h0m32.8 .2h0m8.9 0h0m1.7-.1h0m8.6 .4h0m17.2 0h0m4.7-.4h0m6.9 0h0m40.1 .1h0m39-.6h0m44.9 .6h0m10.8 0h0m15.5-.3h0m22.4 .4h0m1.1-.1h0m3.8-.6h0m13.6 .5h0m.1-.4h0m.9 .6h0m14.6-.7h0m3.8 .2h0m13.1 .5h0m7.6-.5h0m7 .6h0m1.3-.1h0m1.4-.3h0M79.3 379h0m.9 .2h0m9.7 .7h0m9.9-.9h0m7.1 .5h0m.2 .3h0m5.4-.3h0m.5-.3h0m2.7 .1h0m28.7-.1h0m40.6 0h0m64.5 .1h0m16.3 .5h0m3.5-.2h0m97.2-.5h0m31.4 .1h0m16.4 .2h0m61.3-.4h0m5.7 .1h0m5.2 .2h0m3.1 .4h0m14.7-.7h0m4.3 .4h0m15.6-.4h0m10.5 .2h0m11.9-.1h0m3.9 .7h0m.7-.5h0m3 0h0m9.2 .2h0m7-.1h0M83.7 380.1h0m.7 .6h0m.7 0h0m18.5-.7h0m1.3 .2h0m7.5-.1h0m4.2 .2h0m18 0h0m30.6-.1h0m28.7 .2h0m4.3 0h0m13.3-.2h0m12 .6h0m10.2-.5h0m31.9 .4h0m8.7-.2h0m.7 .3h0m.8-.6h0m4.3 .3h0m2.2 .1h0m.9 .2h0m6.8-.8h0m9.1 0h0m35.4 0h0m57.2 0h0m14.4 .4h0m15.2 .4h0m22.7-.2h0m17.4-.3h0m.9 .3h0m16.6-.5h0m23.5 .5h0m20.3-.5h0m9.6 .7h0m18-.4h0m2.9-.3h0m3.7 .6h0m4.7-.6h0m.4-.1h0m.5 .7h0m3-.5h0m.8 .3h0M82.3 381.2h0m13-.1h0m.6 .6h0m16.1 0h0m40.4-.3h0m30.9 .2h0m17.2 .3h0m16.7-.4h0m14.9-.3h0m31.6 .7h0m18.7-.5h0m11.6 0h0m2.8-.1h0m26.8 .5h0m5.2-.2h0m17-.3h0m24.5-.1h0m20.6 .5h0m11.3-.5h0m.8 .2h0m26.9-.3h0m23.1 .6h0m1.7 .1h0m6.4-.8h0m17.6 .5h0m19.5 .4h0m11-.7h0m4 .4h0m14.9-.2h0m7.1-.3h0m1.3 .1h0m3 .2h0m3.5 .1h0m10.1 .1h0m16.9 .1h0M81.1 382.2h0m5.5 .4h0m.7-.3h0m29.3-.3h0m13 .6h0m37-.2h0m18.6-.4h0m1.4 .8h0m6.7-.8h0m.5 0h0m11.4 .8h0m6.9-.6h0m17.6 0h0m4.4 .2h0m11.1-.3h0m4.8 .8h0m5.1-.5h0m1.7 .1h0m3.6 .4h0m11.9-.7h0m15.5 .4h0m1.2-.1h0m35 .4h0m2.5-.8h0m1 .2h0m28.2 .5h0m.6-.6h0m.1 .4h0m2.2-.1h0m5.6 0h0m20.8-.1h0m16.8-.2h0m9 .6h0m5-.1h0m34.8-.6h0m2.6 .8h0m10.7-.5h0m28.8 .5h0m11-.4h0m22 .2h0m7.6-.4h0m.1-.1h0m1.8 .1h0m14.6-.2h0m1.5 .7h0m13.3-.4h0M85.5 383.6h0m3.7-.5h0m4.3 .6h0m10.1-.4h0m6.4 .3h0m7.3 .1h0m9.5-.1h0m12.5-.5h0m.2 0h0m5.7-.1h0m42.5 .5h0m16.2-.2h0m25.6-.1h0m2.2 .1h0m94.3-.1h0m6.7 .3h0m5.7 0h0m.8 .2h0m3.7-.3h0m1.4-.1h0m1.8 .6h0m21.4-.2h0m15.7 .1h0m19.1-.4h0m12.1 .3h0m20.8-.4h0m2.3 .5h0m.7-.2h0m25.6 0h0m16.6-.4h0m34.2 .7h0m16.7-.3h0m5.8-.5h0m13.2 .1h0m4.9 0h0m2.1 .1h0m13.2-.1h0M85.1 384h0m8.1 .3h0m12.1-.1h0m5 .3h0m9.6 .2h0m15.1-.7h0m9.6 .3h0m15.5 0h0m16.5-.3h0m7.9 .1h0m35.1-.1h0m20.3 0h0m6 .3h0m4.6 0h0m28-.1h0m59.4-.2h0m13.4 .8h0m1.4 .1h0m10.1-.1h0m4.1-.8h0m29.4 .4h0m5.8-.4h0m20 .9h0m1.1-.8h0m14.8 .1h0m36.9 .2h0m3.9 .4h0m43.7-.6h0m14.8 .6h0m9.1-.6h0m15.6 .1h0M86.9 385.1h0m6.4 .2h0m37.9 .5h0m13.2-.5h0m29.1 .1h0m54.5-.2h0m3.8 .3h0m16.1 .3h0m8.8-.6h0m10.6 .1h0m1.3 .2h0m22.5-.4h0m10.5 .5h0m.6-.6h0m5.8 .3h0m11.1 .4h0m8.5-.2h0m9-.4h0m3-.1h0m3 .7h0m3.2-.6h0m7.3 .4h0m2.1 .4h0m18.7-.1h0m11.8 .1h0m1.1 0h0m7.5-.2h0m3.6-.1h0m45.7 0h0m18.9 .3h0m35.7 0h0m4.5-.7h0m6.6 .5h0m9.3-.7h0m1.1 .9h0m16.2-.5h0m28.1-.4h0m6.6 .7h0M84.4 386.7h0m1.1-.4h0m80.4 0h0m5.3-.3h0m.8 .5h0m4.6 .2h0m18.7-.2h0m3.2-.3h0m21.3 .6h0m25.4-.6h0m5.8 .6h0m7.3-.2h0m23.5 .2h0m18.7-.8h0m41.9 .2h0m13.1-.1h0m43.4 .6h0m2.9-.2h0m12.3-.5h0m24.8 .3h0m7.5 .4h0m12.7-.4h0m12-.3h0m18.7 .2h0m19.2 .2h0m6 0h0m6-.4h0m30.5 .4h0m15.1 .1h0M143.1 387.8h0m17.8-.3h0m17.8-.4h0m46.3 .3h0m21.2-.4h0m53.2 .8h0m12.2-.2h0m2.2 .1h0m5.6-.5h0m82.8-.2h0m2.8 .7h0m17-.6h0m7.9 .1h0m2 .5h0m11.5-.1h0m9.9 .1h0m.3-.5h0m9.5-.2h0m6.3 .2h0m1.4 .5h0m5-.1h0m14.8-.3h0m5.3 .6h0m14.8-.3h0m10-.5h0m2.6 .5h0m11.5-.2h0m3.7-.1h0m10.7-.2h0m1.9 .7h0m15.7 0h0m.7 .1h0m2.1-.9h0M81.6 388.8h0m7-.8h0m18 .6h0m22.1-.1h0m7.8 .2h0m51.9 0h0m25 0h0m45.4-.6h0m35.4 .7h0m13.6-.5h0m2.1-.3h0m.4 .3h0m2.7 .5h0m7.9 .1h0m4.7-.7h0m6.7 .6h0m9.4-.8h0m7.2 .7h0m51.6-.5h0m23.8-.1h0m3 .3h0m1.6 .1h0m11.7-.5h0m5.3 .3h0m15.1 .4h0m30.7 .2h0m26.5-.1h0m44.2-.6h0m.3 .4h0m3.4 .2h0M96 389.4h0m10.6-.4h0m9.9 .9h0m38.8-.9h0m14.3 .6h0m3.1 .3h0m4.2 0h0m41.3-.2h0m4.8 0h0m13.2 0h0m24.1-.1h0m8.6-.4h0m30.1 .4h0m18-.4h0m12.5 .3h0m30.8-.1h0m22.8-.4h0m0 .9h0m19.3-.9h0m3.6 .9h0m.1 0h0m38.3-.1h0m21.5-.4h0m12.5 .4h0m2.7-.4h0m3.4 0h0m7.7-.4h0m.7 .3h0m27.6-.3h0m18.6 .6h0m1.5 0h0m6.1-.3h0m6.4 .4h0m6.2-.7h0m8.3 0h0M83 390.7h0m7.6 0h0m5.7-.4h0m1-.3h0m43.3 .5h0m45.8-.5h0m34 0h0m11.1 0h0m4.7 0h0m4.1 .2h0m24.1-.2h0m8.2 .6h0m17.2-.5h0m18.3 .5h0m7.1 .2h0m.4-.5h0m10.1-.2h0m18.1 .4h0m19.9 .1h0m2.6 .2h0m8.6-.8h0m6.5 .5h0m4.1 .4h0m64.8 0h0m.5-.4h0m22.6-.3h0m8.7 .4h0m10.2 .3h0m2.4-.6h0m5 .1h0m20.8 .2h0m2.1 .3h0m6.2-.1h0m25.4-.7h0m2 .3h0M88.8 391.9h0m.9-.6h0m28.4 .1h0m16.6-.2h0m2.7 .2h0m31 .4h0m83.8-.2h0m24.4-.2h0m28.8 .5h0m25-.9h0m54.1 .9h0m17-.6h0m35.3-.2h0m3.5 .4h0m15.3-.3h0m3.9 0h0m22.7-.2h0m25.1 .3h0m.9 .5h0m3.2 .1h0m2.8-.1h0m3.6-.8h0m35.5 .3h0m9 .2h0m1.2-.1h0M83.6 392.3h0m6-.1h0m10.3-.1h0m12.2 .6h0m5.8-.5h0m3.5-.1h0m2.6 .1h0m3.9 .5h0m12.2-.7h0m24.3 .4h0m5.8-.1h0m.6-.1h0m3.5 .7h0m23.3-.8h0m16.5-.1h0m27.3 .5h0m1.8 .1h0m9.3-.6h0m52.6 .8h0m11.1-.5h0m4.8 .2h0m38.6-.2h0m18.7-.2h0m7.2 .8h0m3.7-.2h0m7.3 .1h0m9.9-.5h0m17.3 .5h0m2.8-.6h0m47.8-.2h0m29.9 0h0m2.5 .7h0m.5-.2h0m4.5-.2h0m18.9 .5h0m1.4-.7h0m14.6 0h0m1 .7h0m21.3-.1h0M79.6 393h0m1.5 .7h0m2.6-.7h0m7.1 .9h0m63.4 0h0m5.2-.8h0m42.8 .4h0m43.3 .1h0m3.6-.3h0m38.9 .5h0m38-.1h0m22.3 .2h0m52.6-.5h0m27.2-.4h0m7.6 .4h0m22-.4h0m8 .2h0m12.7 .2h0m39.2 .1h0m13.1 0h0m5.5-.1h0m20 .1h0m14 .3h0M80.9 394.5h0m6.8 .3h0m1.8-.7h0m.4-.1h0m11.5 .3h0m8.4-.2h0m3.2 0h0m109.7-.1h0m1.4 .6h0m17.4-.2h0m29.8 .1h0m18.7 .2h0m24.7 .2h0m15.4-.5h0m63.1 .5h0m4.1-.8h0m23 .6h0m11.9-.1h0m13.4 .2h0m5.2-.8h0m49.7 .9h0m21.4-.4h0m.1 .4h0m6.2-.1h0m26.7 .1h0M84.8 395.9h0m8.9-.5h0m9.8-.3h0m6.9 .1h0m14.8 .1h0m14.4 0h0m32.6 .1h0m22.9-.4h0m3.9 .9h0m3.4-.5h0m35.8-.3h0m19.8-.1h0m5.9 .1h0m26.7-.1h0m90.7 .5h0m4.3 .3h0m3.8-.2h0m38.5-.2h0m34.7 0h0m29.4-.3h0m1 .7h0m5.8-.7h0m.8 .6h0m16.2-.4h0m5.1 0h0m.7 .2h0m4.5 .1h0m15.9-.3h0m10.1 .1h0m3.2 .4h0m1.7 .1h0m6.4-.9h0M96.2 396.3h0m11.3 0h0m4-.2h0m19.9 .2h0m7.8 .2h0m9.3-.1h0m10.1-.1h0m3.8-.1h0m66.7 .4h0m.9-.1h0m26.5 0h0m5.8 .2h0m44.9 0h0m10.9 0h0m20-.4h0m5.8 0h0m27-.2h0m62.4 .2h0m25.6 .6h0m6.3-.1h0m16.2-.6h0m12.5 .1h0m1.1-.3h0m5.7 .4h0m.9-.2h0m1.3-.2h0m2.5 .2h0m13.8-.2h0m24.1 .4h0m3.7-.1h0m4.5 .3h0M80.7 397.6h0m40.5 .1h0m28.7 .1h0m7.6-.5h0m9.3-.3h0m67.6 .2h0m33 .6h0m52-.1h0m14.2 .1h0m44.8-.3h0m42.7-.3h0m13.6 .2h0m39.7 .3h0m6.5-.6h0m10.8 .2h0m10.4 .3h0m7.2-.2h0m17.8 0h0m3.7 0h0m1 .3h0m9.3 0h0m12.4-.4h0m16.9 .5h0M84.8 398.4h0m2.2 .5h0m2.9-.5h0m3.4-.3h0m.1 .4h0m2.3 0h0m2.3-.4h0m5.3 .3h0m5 .2h0m7.4-.3h0m9.9 .3h0m3.6-.6h0m49.3 .4h0m21.4 .5h0m11.9-.6h0m1.4 .4h0m2.7-.3h0m35.7-.2h0m9.3-.2h0m1.2 .2h0m61.6 .4h0m50 .2h0m2.1-.8h0m19.3 .8h0m7-.7h0m.5 .1h0m5.2 .1h0m58.6 .6h0m27.2-.1h0m18.3-.1h0m37.4-.7h0m2.9 .5h0m8 .1h0m9.6-.3h0M85.4 399.2h0m.8 .5h0m9.8-.2h0m1.1 .4h0m5-.3h0m9.9-.5h0m18.6-.1h0m20.2 .6h0m30.3-.1h0m8.6 .4h0m38.4 0h0m7.8-.7h0m.5-.1h0m38.8 .4h0m1.4-.5h0m19.5 .8h0m74-.4h0m81.3-.1h0m32.8 0h0m19.2-.3h0m52.7 .9h0M88.8 400.1h0m12.6 0h0m1.8 .3h0m20.8 .3h0m88 0h0m16-.5h0m14-.1h0m47.9 .4h0m30.6-.1h0m.1 .1h0m22.1-.5h0m31.2 .9h0m32.7-.3h0m56.1-.6h0m23.9 .6h0m52.9 .3h0m4.5-.7h0m25.3 .2h0M97.9 401.8h0m23-.7h0m1.8 .8h0m14.2-.1h0m5.5-.5h0m26.4 .1h0m11.2 .3h0m1.5 .2h0m5.9-.5h0m8.5 .2h0m22.9-.6h0m8.8 0h0m1.7 .3h0m7.5 .2h0m57.5 0h0m37.6 .1h0m12.5 0h0m12.6 .1h0m11.9-.1h0m36.9-.3h0m15.7-.3h0m64.2 .9h0m1.8-.3h0m1.7-.5h0m26.4 .6h0m7.8 .2h0m2.4 0h0m5.6-.9h0m12.6 .3h0m24.8-.2h0M79.8 402h0m.5 .5h0m9 .3h0m12.9-.1h0m21.1-.2h0m0-.5h0m9.1 .9h0m3.6-.2h0m1.5-.2h0m23.4-.5h0m3 .5h0m3.8 .3h0m59.6-.6h0m25.3 .3h0m7.5-.3h0m1 .7h0m17.9-.1h0m10.3-.2h0m16.2-.6h0m13.3 .7h0m17.3-.6h0m27.8 .2h0m6.2-.3h0m39.2 .7h0m9.3 .2h0m16.5-.2h0m.5-.3h0m13.7 .4h0m11.7-.1h0m8.9-.3h0m9.9-.4h0m11.9 .8h0m22.7-.4h0m24.3-.2h0m22 .1h0m5.4-.3h0M83.9 403.3h0m30.8 .4h0m72.3 .2h0m30.8-.7h0m39.2 .3h0m22.9-.3h0m15.6 .6h0m44.1-.2h0m29.6-.4h0m15.2 .1h0m3-.3h0m2.1 .1h0m.6 .1h0m76.9 .6h0m14.9-.2h0m16-.1h0m19.4-.5h0m21.4 .3h0M88.6 404.3h0m16.3 .3h0m11.7-.6h0m2.5 0h0m1.8 .9h0m27.4-.8h0m25.6 .2h0m11.9 .1h0m68-.1h0m.1-.3h0m12.7 .7h0m21.6-.7h0m9.7 .3h0m36.3 .2h0m5.9 0h0m91.8 0h0m22.4-.2h0m2.5 .1h0m24 .4h0m16.9-.7h0m26.2 .2h0m20.5 .6h0m3.9-.3h0m.4-.5h0m4.4 0h0m10.7 .7h0M79.3 405.4h0m10.1-.1h0m2.3 .4h0m.3 0h0m10.5-.4h0m.4-.3h0m33.7 .7h0m41.8 .2h0m3.5-.1h0m9.4-.3h0m6.4 .1h0m32.2 0h0m23.3-.2h0m.7 .3h0m13.4 .2h0m.5-.3h0m18-.2h0m29.7-.3h0m28.3 .2h0m1.1-.2h0m9.7-.1h0m13 .1h0m47.7 .7h0m16.8 0h0m.4 0h0m18.4-.6h0m18 .1h0m9.5 .1h0m.8-.3h0m9.5 .2h0m35.1 .5h0m5.9-.3h0m12.5-.3h0m4.8 .3h0M107.6 406.2h0m15.9 .4h0m7.4 .2h0m2 0h0m18.5-.8h0m29.9 0h0m6 .7h0m38.5-.1h0m3.2 .3h0m44.1-.1h0m29.5-.7h0m4.6 .4h0m8.7 .1h0m1.5-.1h0m6-.4h0m45.6 .6h0m8.1 .1h0m25.6 0h0m32.6-.1h0m10.6-.7h0m17 .1h0m19.9 .1h0m3.2 .6h0m54-.2h0m22.3 .3h0M80.6 407.3h0m10.6 .3h0m57.7-.2h0m17.4 0h0m4.6-.4h0m5.6 .3h0m13.8 .3h0m66-.5h0m.9 .7h0m9.1-.7h0m27.8-.1h0m3.3 .9h0m2.1-.3h0m45.2-.3h0m16.7-.1h0m11.1 .2h0m6.6 .4h0m14.6-.2h0m4.1 .1h0m8-.4h0m11.8 .5h0m28.4-.4h0m4.9-.1h0m43.4-.1h0m32.5 .2h0m.6 .1h0m.3 0h0m7.1 .2h0m17-.7h0m2.3 .2h0m14.2 .2h0M93 408.4h0m28.1 .2h0m34.1-.3h0m10.6-.1h0m77 .6h0m29.8-.2h0m44.6-.4h0m113 .5h0m44.3 0h0m25.1-.7h0m.3 .4h0m3.5-.2h0m.8 .1h0m46.5 .4h0m2.6-.2h0m5.3 0h0m5.1 .1h0M98.7 409.2h0m5.2 .5h0m2.3 .1h0m45.3-.4h0m7.2 .3h0m87.1-.2h0m41.3-.5h0m18.4 .1h0m36.9-.1h0m7.7 .4h0m69.4 .5h0m10.6 0h0m19.6-.2h0m11.3 .2h0m1.4-.8h0m22.1 .8h0m30.4-.2h0m7.9-.6h0m.1 .4h0m4.2 0h0M79.2 410.6h0m1.8-.2h0m33.5 .4h0m4-.1h0m41.2 .1h0m75.5-.7h0m25.1-.1h0m24.7 .7h0m4.9-.7h0m18.9 .3h0m77.2 .6h0m76.7-.4h0m46-.4h0m33.4 .8h0m17.6-.9h0m3.8 0h0m1.5 .2h0m6.1-.1h0M88.5 411.5h0m1.2 .4h0m2.6-.8h0m1.4 .2h0m34.1 .2h0m8.2 .3h0m17.1-.1h0m21.9 0h0m6.2-.4h0m17.3 .3h0m22 .2h0m48.5-.3h0m41-.5h0m34.7 .1h0m66.2 0h0m28.5 .4h0m19.6-.1h0m27-.2h0m24 .4h0m16.7 .3h0m12.5-.1h0m17.5-.3h0M80.2 412.9h0m2.4-.6h0m13.9 .5h0m41.5-.2h0m5.5-.3h0m37.1 .4h0m3.8-.5h0m23.7 .6h0m29.4-.2h0m20.3-.2h0m109.6 .2h0m29.8-.3h0m108 .3h0m22.2 .3h0m31.2 0h0m10.9-.3h0M79.3 413.1h0m5.2 .6h0m.7-.2h0m1.1 0h0m8.1-.1h0m7.6 .2h0m.6 .2h0m8.3 0h0m34.5-.4h0m16.2 0h0m45.4-.1h0m39.2 .2h0m23.8 .4h0m11.6-.3h0m22.7-.3h0m64.4-.3h0m15.5 .3h0m20.2 .1h0m71.5 .3h0m.6 .2h0m7.8-.9h0m2 .7h0m22.7 0h0m23.1-.2h0m7.1-.5h0M97 414.1h0m19 .5h0m33-.3h0m2.9 .4h0m99.9-.3h0m52.8 .1h0m12.5-.3h0m23.5-.1h0m28.3 .7h0m46.3 0h0m7.1-.5h0m30.9 .2h0m36.6-.1h0m13.2 .2h0m23.7-.6h0m30.7 .7h0m.9-.1h0M100.5 415.5h0m7.5 0h0m8.2-.4h0m13.8 0h0m11.7 .8h0m7.7-.5h0m61.2-.2h0m43.2 .4h0m.8-.6h0m103.3 0h0m45.6 .8h0m33.2-.2h0m88.2 0h0m3.3-.6h0M79.4 416.8h0m5-.4h0m2.3 .1h0m19 .2h0m10.9-.5h0m85 .6h0m30.9 0h0m11.5-.5h0m72.7-.1h0m5.8 .7h0m52.4-.9h0m45.5 .1h0m27.3 .4h0m4-.2h0m15.2-.1h0m24.2 .6h0m7.7-.4h0m9 .1h0m4.7-.5h0m45.2 .5h0m2.4-.5h0M86.4 417.4h0m13.1 .2h0m11.7 0h0m18.8-.5h0m34.1 .4h0m36-.1h0m37.1-.1h0m2.4 .6h0m20.7-.5h0m49.9-.2h0m5.6 .1h0m5.1 .4h0m49-.7h0m36.9 .4h0m43.2 .4h0m57.6-.2h0m7.6-.1h0m.9-.1h0m46.5 .3h0m1.3 .2h0m6.3-.7h0M83.6 418.4h0m37.4-.4h0m82.6 0h0m80.2 .3h0m7.8-.3h0m111.1 .3h0m14 .3h0m29.2-.2h0m56.1-.4h0m60.4 .7h0m4.2-.6h0M86.9 419.1h0m5 .7h0m.6-.4h0m18.5-.1h0m27.5 .3h0m11.5 .1h0m14-.4h0m17.9 .5h0m9.4-.1h0m50.6-.7h0m15.7 .9h0m20-.7h0m92.9-.1h0m1.7 .6h0m2.8 .2h0m7 0h0m9-.7h0m55.6 0h0m67-.1h0m25.8 0h0m29.4 .3h0M79.5 420h0m11.1 .6h0m11.5-.3h0m11.2 0h0m105.2 0h0m78.1 0h0m31.9-.3h0m25.1 .2h0m36.8 .6h0m5.7 0h0m83.8 .1h0m22.7-.4h0m12.4-.5h0m4.3 .4h0M159.5 421.3h0m13.1-.3h0m5.9 .5h0m8.4 .4h0m.3-.7h0m52.5 .2h0m4.5 .5h0m8.5-.9h0m24 .1h0m76.5 .6h0m2.4-.5h0m20.4 .7h0m33.7-.1h0m1-.1h0m6.9-.7h0m72 .3h0m33 .5h0m10.8-.5h0m36.7 .4h0m1.7-.3h0M93.8 422.6h0m29.9 .2h0m25.4 0h0m23.9-.4h0m31.3-.1h0m27.7 .2h0m57.3 .2h0m32.7 .1h0m10.3-.1h0m5.1-.4h0m8 .2h0m81-.4h0m8.5 .5h0m40.6-.1h0m17.8-.3h0m1.6 .1h0m13.1-.1h0m53.5 0h0M189.8 423.7h0m56.3 0h0m41.6-.1h0m40.7-.2h0m44.2-.2h0m25.4 .7h0m12-.6h0m12.8 0h0m31.4 .5h0M86.2 424.8h0m28.9-.5h0m61.4 .3h0m49.5 .1h0m98.5-.3h0m68 .5h0m44.3-.1h0m97.2-.7h0m33.5 .5h0M79.9 425.5h0m5.5-.1h0m10 .3h0m39.9-.6h0m22.3-.1h0m21.3 .2h0m10.7-.2h0m14.8 .3h0m23.8 .1h0m48.8 .4h0m34.5 0h0m9.2-.4h0m115.7 .4h0m39.5-.5h0m20.1 0h0m11.6 .3h0m27.8 0h0M80.3 426.5h0m4.4 .3h0m85.5-.4h0m90.5 .2h0m22.2-.2h0m120.3 .1h0m15.3 0h0m37.9-.3h0m67.9 0h0m26.8-.2h0m4.1 .1h0m4.7 .4h0M80.2 427.1h0m23.9 .2h0m8.2 .4h0m.3-.7h0m7.1 .1h0m59.1 0h0m100.5 .4h0m34.4-.2h0m96.7-.3h0m22.8 .9h0m16.4-.5h0m9-.4h0m22.6 .9h0m37.6-.7h0m43.6 .6h0M84.3 428.3h0m24 .3h0m2.7-.4h0m31.1-.1h0m45.1 .7h0m128.5-.7h0m19.5 .1h0m3.2 .6h0m58.6-.5h0m19.8 .1h0m4.2-.3h0m19 .3h0m12.3-.1h0m97.3 .5h0m21.5-.3h0m.1-.4h0M94.9 429.6h0m100.7-.3h0m57.1 0h0m1.2 .1h0m112.1-.2h0m12.2 .5h0m19.6-.2h0m14 .2h0m16-.5h0m45 .2h0m48.3 .3h0m1.2 .1h0m46.1-.4h0M175.3 430.2h0m36.3-.2h0m113.2 .7h0m103.7-.6h0m95.4 0h0m6.9 0h0m8.2-.1h0m20.2 .8h0m10-.8h0M104.5 431.7h0m18.1-.7h0m71.8 .9h0m65.3 0h0m91.9-.2h0m84.7-.5h0m17.2-.2h0m19.9 .9h0m13.1-.2h0m26.5-.2h0m31.8-.2h0M93.2 432.1h0m14.4 .3h0m19.9 .4h0m68.9-.1h0m52.7-.5h0m1.8 .2h0m9.9-.2h0m32.4 .5h0m9.8-.6h0m20.4 .3h0m1.7 .1h0m22.3 .1h0m66.2-.5h0m5-.1h0m12.3 .6h0m7.6 .2h0m6.8-.5h0m5.5-.2h0m48.1 .5h0m3.6 .2h0m12.1-.8h0M82.7 433.1h0m2.2 .7h0m26.4-.2h0m24.1-.3h0m21.8-.2h0m30.1 .4h0m24.6-.2h0m9.4 .2h0m35.7-.3h0m26.7-.1h0m30.3 .2h0m15.1 .4h0m8.8 .2h0m20.1-.9h0m42.2 .7h0m32.3 .1h0m53.6-.8h0m14.9 .4h0m63.2 .2h0M88.8 434h0m95.5 .4h0m6.5 .1h0m28.9 .2h0m17-.5h0m66.1-.2h0m3.9 .7h0m44.1-.4h0m47.6 .6h0m8.5-.7h0m.6 .2h0m62.4 .3h0m73.1 .2h0M87.5 435.9h0m8.3-.3h0m6.9-.6h0m192.9 .9h0m153.1-.2h0m56-.7h0m11.5 0h0m11.1 .8h0m6.6 0h0M79.2 436.4h0m32.9-.1h0m10.5 0h0m101.7 .1h0m56.7 .1h0m54.7 0h0m49.9-.3h0m111.5 .6h0m3.9-.1h0M82.3 437.7h0m22.4-.5h0m32.9 .2h0m1.8-.2h0m85.1 .5h0m5-.3h0m29.1-.3h0m5.5 .2h0m115.8 .2h0m44.8-.5h0m9.2 .2h0m43 .2h0m20.5 .3h0m3.1-.7h0m24.4 .1h0m36.1 .3h0m4.6-.4h0M129.4 438.6h0m21.8-.3h0m54.9-.2h0m2.4 .3h0m1.3-.1h0m87.2-.3h0m1 .7h0m11.1-.3h0m24.3 .4h0m5.1 0h0m12.8-.5h0m3.6 .1h0m29.4-.2h0m92.1 .1h0m69.5 .6h0m5.5-.6h0M80.4 439.3h0m2.5 .6h0m116.6-.5h0m.9 .2h0m13.7 .3h0m12.4-.6h0m11.1 .2h0m78.6 .4h0m106.6-.4h0m84.7-.1h0m1.9-.3h0m0 .4h0M132.7 440.7h0m19.8-.6h0m177.1 .2h0m30.6 .3h0m19.5-.6h0m75.8 .2h0m1 .2h0m32.3 .2h0m6.6 .2h0m23.5-.5h0m27.9 .3h0M218 441.9h0m12.3-.8h0m96.8 .2h0m124.1 .5h0m36.8 .1h0m34.9-.7h0m24 .1h0M112.8 442.4h0m51.2 .4h0m168.5-.5h0m29.1-.1h0m109.5 .7h0M92.2 443.3h0m89.3-.1h0m21.3-.2h0m114.9 .8h0m34.3-.3h0m146.9 .3h0m15.6-.3h0m5.6 .4h0m22.1-.8h0M82.8 444.3h0m10.1 .3h0m67.4 .3h0m22.3-.5h0m28.2-.1h0m52.3-.3h0m20.4 .4h0m18.7 .1h0m15.5 .3h0m5-.6h0m6.2 .2h0m6.6-.3h0m35.3 .3h0m25.7-.4h0m102.3 .2h0m10.3-.2h0m37.5 .4h0m21.1 .4h0M100.1 445.5h0m47.3-.4h0m48.9 .4h0m18.4-.5h0m126.9 .2h0m10.8-.2h0m201.7 .4h0M100.2 446.2h0m8.3 .6h0m101.3 .1h0m32.8-.3h0m14.2-.1h0m1.3-.1h0m4.2-.1h0m43.1 .3h0m249.3 0h0m15.6 0h0M90.8 447.7h0m9.4 .1h0m7.8-.7h0m6.7 .8h0m43.5 0h0m7.3-.4h0m88.9 0h0m219.8-.3h0m78.1 .5h0M141.1 448.3h0m119-.1h0m102.2 .4h0M337.9 449h0m175.9 .6h0m21 .1h0m2.9-.7h0m5.1 .4h0M224 450h0m33.5 .9h0m78.7-.3h0m5.5-.6h0m31.2 .2h0m113.1 .7h0m35.5-.4h0M224.5 451.9h0m25.3 0h0m129.4-.5h0m184 .3h0M99.2 452.8h0m359.2-.1h0m20.3-.1h0m68.5-.2h0m1.6-.3h0M182.4 453.4h0m34.2 .5h0m76-.7h0m21.3-.1h0m43.4 .2h0m64.2-.1h0m11.9 .5h0m38.5-.5h0m64.2 .1h0M108.6 454.1h0m46.7 .8h0m318.9-.9h0m1 .7h0m71.9-.2h0M109.2 455.8h0m56-.4h0m38.5 0h0m51.6 .3h0m77.8-.5h0m76.8-.2h0m6.2 .9h0m8.9-.3h0M241.4 456.5h0m58.2-.5h0m217.8 .4h0m36.1-.1h0M116.1 457.6h0m101.4 .2h0m30.3-.4h0M106.4 459.9h0m2.6-.6h0m54.7 .1h0m301 .4h0m78.1-.2h0M85 460.7h0m73.5-.6h0m88.6 .2h0m37.9 0h0m27.3 .3h0m243.4-.6h0M175.9 461.6h0m28.5-.5h0m154.9 .3h0m38.3 .3h0m47.4-.6h0M81.9 462.4h0m126.9 .2h0m62.7 .2h0m51.5-.6h0m36.7 .5h0m53.9-.7h0m27.7 .5h0m58.1-.2h0m59.8 .4h0M123.8 463.9h0m68.5-.1h0m177.1-.8h0m72.5 .2h0M157.8 464.3h0m10.2-.3h0m200.4 .6h0m122.7-.3h0m21.3 .5h0m33.7-.4h0M97.6 465.8h0m105.4-.7h0m29.5 0h0m276.6 .4h0m33.7 0h0M124.5 466.4h0m35.3 0h0m42.4 .1h0m8.4 .2h0m39.1-.3h0m91.3 0h0m157.4-.2h0m32.9-.2h0M291.9 467.4h0m70.9 .2h0m19-.6h0M124.8 468.4h0m24.5 .4h0m86.7 .1h0m120.7-.4h0m96.7 .3h0m4.1-.5h0m111.8 0h0M282.1 469h0m63.6 .7h0M369.6 470.1h0m100.6 .2h0M115.2 471.5h0m357.3 .4h0m1.3-.3h0m44.3-.5h0m39.5 .3h0M443.7 472.2h0M248.6 473.3h0m146.8-.3h0M86.7 474.6h0m61 .3h0m100-.7h0m239.2 .5h0M289.8 475.4h0M122.9 476.5h0m160.2 .3h0m63.6-.4h0m30.7-.3h0m185.4 .8h0M245.8 477.8h0m35.5-.2h0m68.4 0h0m52.8-.3h0M213.5 478h0m154 .9h0m9.5-.8h0m59.7 .5h0M191.4 479h0m78.6 .4h0m51.3-.4h0m5.6 0h0M211 480.3h0M140.6 481.5h0m227.2 .1h0m121.8-.6h0M170 482h0m40.3 .2h0m26.5 .3h0m117.3-.5h0m111.2 .4h0M169.3 483.2h0m119.5 .7h0m236.8-.6h0M352.4 484h0m151.4 .6h0M508.9 485.3h0M494.4 486.4h0M345.4 488.1h0M194.2 489h0m146.8 .5h0m53.2-.5h0M124.5 490.8h0m435.6-.2h0M135.9 492h0m203.3 .3h0m28.9-.3h0m61.8 .1h0M254.6 493.3h0m266.4-.3h0M226.6 497.4h0m60.2-.2h0m213.4 0h0M125.5 498.7h0M304.6 499.2h0m194.4 .6h0m47.4-.3h0M324.6 500.8h0m90.8-.7h0m145.8 .7h0M358.6 501.1h0m35.3 .7h0M118.7 503.3h0m197.2-.2h0M399.2 504.3h0M434 505.3h0m29.9 .5h0M361 506.4h0M289.2 507.9h0m67.3-.7h0M467.6 508.1h0M242.2 509.3h0m191.5-.3h0m5.3 0h0M93.6 511.3h0m239.6 0h0m113.9 .5h0M231.5 512.8h0M135.9 514h0m369.4 .2h0M372.6 515.8h0M207.3 516.6h0m130.7-.1h0M87 517.4h0m441 .4h0M468.7 518.4h0M538.5 520.9h0M160 521.9h0M252.9 525.3h0m163.7 0h0M204.2 526.1h0m44.3 .4h0M505.3 529.8h0M307.5 531.8h0M321.9 534.7h0M310.6 556.6h0" stroke="#000" stroke-width="1.5" stroke-linecap="square" fill="none" clip-path="url(#c1)"/>
<path d="M302.45 580.25V47.75" stroke="#006400" stroke-width="2.25" stroke-dasharray="9 9" stroke-linecap="round" fill="none" clip-path="url(#c1)"/>
<path d="M348.45 580.25V47.75" stroke="#006400" stroke-width="2.25" stroke-dasharray="9 9" stroke-linecap="round" fill="none" clip-path="url(#c1)"/>
<path d="M59.75 368.42H592.25" stroke="#CD2626" stroke-width="2.25" stroke-dasharray="9 9" stroke-linecap="round" fill="none" clip-path="url(#c1)"/>
<rect x="59.75" y="47.75" width="532.5" height="532.5" fill="none" stroke="#000" stroke-width="0.75"/>
<path d="M125.45 580.25H525.45M125.45 580.25v6.2M225.45 580.25v6.2M325.45 580.25v6.2M425.45 580.25v6.2M525.45 580.25v6.2" fill="none" stroke="#000" stroke-width="0.75"/>
<text transform="translate(124.9 601.85) scale(1 1.1)" font-size="10.3" text-anchor="middle">-400</text>
<text transform="translate(224.9 601.85) scale(1 1.1)" font-size="10.3" text-anchor="middle">-200</text>
<text transform="translate(324.9 601.85) scale(1 1.1)" font-size="10.3" text-anchor="middle">0</text>
<text transform="translate(424.9 601.85) scale(1 1.1)" font-size="10.3" text-anchor="middle">200</text>
<text transform="translate(524.9 601.85) scale(1 1.1)" font-size="10.3" text-anchor="middle">400</text>
<path d="M59.75 575.38V67.5M59.75 575.38h-6.2M59.75 448.41h-6.2M59.75 321.44h-6.2M59.75 194.47h-6.2M59.75 67.5h-6.2" fill="none" stroke="#000" stroke-width="0.75"/>
<text transform="translate(45.15 575.38) rotate(-90) scale(1 1.1)" font-size="10.3" text-anchor="middle">60</text>
<text transform="translate(45.15 448.41) rotate(-90) scale(1 1.1)" font-size="10.3" text-anchor="middle">70</text>
<text transform="translate(45.15 321.44) rotate(-90) scale(1 1.1)" font-size="10.3" text-anchor="middle">80</text>
<text transform="translate(45.15 194.47) rotate(-90) scale(1 1.1)" font-size="10.3" text-anchor="middle">90</text>
<text transform="translate(45.15 67.5) rotate(-90) scale(1 1.1)" font-size="10.3" text-anchor="middle">100</text>
<text x="323.8" y="32" font-size="21.25" font-weight="bold" text-anchor="middle">Top hit for each peak</text>
<text x="326" y="625.6" font-size="15.94" text-anchor="middle">Distance to peak summit</text>
<text transform="translate(22 314) rotate(-90)" font-size="15.94" text-anchor="middle">Motif score</text>
<!-- panel 2 -->
<rect x="699.75" y="47.75" width="532.5" height="532.5" fill="none" stroke="#000" stroke-width="0.75"/>
<defs><filter id="ramp" color-interpolation-filters="sRGB" x="0" y="0" width="1" height="1"><feComponentTransfer><feFuncR type="table" tableValues="1 0 1"/><feFuncG type="table" tableValues="1 0 0"/><feFuncB type="table" tableValues="1 1 0"/></feComponentTransfer></filter><radialGradient id="gs" cx="0" cy="0" r="1" gradientUnits="userSpaceOnUse"><stop offset="0" stop-color="#fff" stop-opacity="1"/><stop offset="0.05" stop-color="#fff" stop-opacity="0.9865"/><stop offset="0.1" stop-color="#fff" stop-opacity="0.947"/><stop offset="0.15" stop-color="#fff" stop-opacity="0.8847"/><stop offset="0.2" stop-color="#fff" stop-opacity="0.8043"/><stop offset="0.25" stop-color="#fff" stop-opacity="0.7115"/><stop offset="0.3" stop-color="#fff" stop-opacity="0.6126"/><stop offset="0.35" stop-color="#fff" stop-opacity="0.5132"/><stop offset="0.4" stop-color="#fff" stop-opacity="0.4184"/><stop offset="0.45" stop-color="#fff" stop-opacity="0.332"/><stop offset="0.5" stop-color="#fff" stop-opacity="0.2563"/><stop offset="0.55" stop-color="#fff" stop-opacity="0.1926"/><stop offset="0.6" stop-color="#fff" stop-opacity="0.1408"/><stop offset="0.65" stop-color="#fff" stop-opacity="0.1002"/><stop offset="0.7" stop-color="#fff" stop-opacity="0.0694"/><stop offset="0.75" stop-color="#fff" stop-opacity="0.0468"/><stop offset="0.8" stop-color="#fff" stop-opacity="0.0307"/><stop offset="0.85" stop-color="#fff" stop-opacity="0.0196"/><stop offset="0.9" stop-color="#fff" stop-opacity="0.0121"/><stop offset="0.95" stop-color="#fff" stop-opacity="0.0073"/><stop offset="1" stop-color="#fff" stop-opacity="0.0043"/></radialGradient><linearGradient id="bd" x1="0" y1="0" x2="0" y2="1"><stop offset="0.0007" stop-color="#fff" stop-opacity="0"/><stop offset="0.0119" stop-color="#fff" stop-opacity="0"/><stop offset="0.0231" stop-color="#fff" stop-opacity="0"/><stop offset="0.0343" stop-color="#fff" stop-opacity="0"/><stop offset="0.0456" stop-color="#fff" stop-opacity="0"/><stop offset="0.0568" stop-color="#fff" stop-opacity="0"/><stop offset="0.068" stop-color="#fff" stop-opacity="0"/><stop offset="0.0793" stop-color="#fff" stop-opacity="0.0001"/><stop offset="0.0905" stop-color="#fff" stop-opacity="0.0002"/><stop offset="0.1017" stop-color="#fff" stop-opacity="0.0004"/><stop offset="0.1129" stop-color="#fff" stop-opacity="0.0008"/><stop offset="0.1242" stop-color="#fff" stop-opacity="0.0015"/><stop offset="0.1354" stop-color="#fff" stop-opacity="0.0025"/><stop offset="0.1466" stop-color="#fff" stop-opacity="0.004"/><stop offset="0.1579" stop-color="#fff" stop-opacity="0.0058"/><stop offset="0.1691" stop-color="#fff" stop-opacity="0.0078"/><stop offset="0.1803" stop-color="#fff" stop-opacity="0.0098"/><stop offset="0.1915" stop-color="#fff" stop-opacity="0.0117"/><stop offset="0.2028" stop-color="#fff" stop-opacity="0.013"/><stop offset="0.214" stop-color="#fff" stop-opacity="0.0136"/><stop offset="0.2252" stop-color="#fff" stop-opacity="0.0136"/><stop offset="0.2364" stop-color="#fff" stop-opacity="0.013"/><stop offset="0.2477" stop-color="#fff" stop-opacity="0.0122"/><stop offset="0.2589" stop-color="#fff" stop-opacity="0.0116"/><stop offset="0.2701" stop-color="#fff" stop-opacity="0.0116"/><stop offset="0.2814" stop-color="#fff" stop-opacity="0.013"/><stop offset="0.2926" stop-color="#fff" stop-opacity="0.0165"/><stop offset="0.3038" stop-color="#fff" stop-opacity="0.0227"/><stop offset="0.315" stop-color="#fff" stop-opacity="0.0324"/><stop offset="0.3263" stop-color="#fff" stop-opacity="0.046"/><stop offset="0.3375" stop-color="#fff" stop-opacity="0.064"/><stop offset="0.3487" stop-color="#fff" stop-opacity="0.0863"/><stop offset="0.36" stop-color="#fff" stop-opacity="0.1123"/><stop offset="0.3712" stop-color="#fff" stop-opacity="0.1408"/><stop offset="0.3824" stop-color="#fff" stop-opacity="0.17"/><stop offset="0.3936" stop-color="#fff" stop-opacity="0.1976"/><stop offset="0.4049" stop-color="#fff" stop-opacity="0.2212"/><stop offset="0.4161" stop-color="#fff" stop-opacity="0.2389"/><stop offset="0.4273" stop-color="#fff" stop-opacity="0.2497"/><stop offset="0.4386" stop-color="#fff" stop-opacity="0.2536"/><stop offset="0.4498" stop-color="#fff" stop-opacity="0.2512"/><stop offset="0.461" stop-color="#fff" stop-opacity="0.2439"/><stop offset="0.4722" stop-color="#fff" stop-opacity="0.2332"/><stop offset="0.4835" stop-color="#fff" stop-opacity="0.2206"/><stop offset="0.4947" stop-color="#fff" stop-opacity="0.2078"/><stop offset="0.5059" stop-color="#fff" stop-opacity="0.1959"/><stop offset="0.5171" stop-color="#fff" stop-opacity="0.1856"/><stop offset="0.5284" stop-color="#fff" stop-opacity="0.1772"/><stop offset="0.5396" stop-color="#fff" stop-opacity="0.1706"/><stop offset="0.5508" stop-color="#fff" stop-opacity="0.1651"/><stop offset="0.5621" stop-color="#fff" stop-opacity="0.16"/><stop offset="0.5733" stop-color="#fff" stop-opacity="0.1548"/><stop offset="0.5845" stop-color="#fff" stop-opacity="0.149"/><stop offset="0.5957" stop-color="#fff" stop-opacity="0.1427"/><stop offset="0.607" stop-color="#fff" stop-opacity="0.136"/><stop offset="0.6182" stop-color="#fff" stop-opacity="0.1292"/><stop offset="0.6294" stop-color="#fff" stop-opacity="0.1223"/><stop offset="0.6407" stop-color="#fff" stop-opacity="0.1155"/><stop offset="0.6519" stop-color="#fff" stop-opacity="0.1087"/><stop offset="0.6631" stop-color="#fff" stop-opacity="0.1019"/><stop offset="0.6743" stop-color="#fff" stop-opacity="0.0948"/><stop offset="0.6856" stop-color="#fff" stop-opacity="0.0877"/><stop offset="0.6968" stop-color="#fff" stop-opacity="0.0807"/><stop offset="0.708" stop-color="#fff" stop-opacity="0.0739"/><stop offset="0.7193" stop-color="#fff" stop-opacity="0.0676"/><stop offset="0.7305" stop-color="#fff" stop-opacity="0.0617"/><stop offset="0.7417" stop-color="#fff" stop-opacity="0.0562"/><stop offset="0.7529" stop-color="#fff" stop-opacity="0.0509"/><stop offset="0.7642" stop-color="#fff" stop-opacity="0.0454"/><stop offset="0.7754" stop-color="#fff" stop-opacity="0.0397"/><stop offset="0.7866" stop-color="#fff" stop-opacity="0.0338"/><stop offset="0.7979" stop-color="#fff" stop-opacity="0.0279"/><stop offset="0.8091" stop-color="#fff" stop-opacity="0.0225"/><stop offset="0.8203" stop-color="#fff" stop-opacity="0.0181"/><stop offset="0.8315" stop-color="#fff" stop-opacity="0.0147"/><stop offset="0.8428" stop-color="#fff" stop-opacity="0.0125"/><stop offset="0.854" stop-color="#fff" stop-opacity="0.0111"/><stop offset="0.8652" stop-color="#fff" stop-opacity="0.0103"/><stop offset="0.8764" stop-color="#fff" stop-opacity="0.0095"/><stop offset="0.8877" stop-color="#fff" stop-opacity="0.0086"/><stop offset="0.8989" stop-color="#fff" stop-opacity="0.0074"/><stop offset="0.9101" stop-color="#fff" stop-opacity="0.0061"/><stop offset="0.9214" stop-color="#fff" stop-opacity="0.0046"/><stop offset="0.9326" stop-color="#fff" stop-opacity="0.0033"/><stop offset="0.9438" stop-color="#fff" stop-opacity="0.0022"/><stop offset="0.955" stop-color="#fff" stop-opacity="0.0013"/><stop offset="0.9663" stop-color="#fff" stop-opacity="0.0008"/><stop offset="0.9775" stop-color="#fff" stop-opacity="0.0004"/><stop offset="0.9887" stop-color="#fff" stop-opacity="0.0002"/><stop offset="1" stop-color="#fff" stop-opacity="0.0001"/></linearGradient></defs><g clip-path="url(#c2)"><g filter="url(#ramp)"><rect x="698.75" y="46.75" width="534.5" height="534.5" fill="#000"/><g style="isolation:isolate" class="pl"><rect x="699.75" y="47.75" width="532.5" height="532.5" fill="url(#bd)"/><circle r="1" fill="url(#gs)" opacity="0.303" transform="translate(962.7 244.45) scale(57.19 69.52)"/><circle r="1" fill="url(#gs)" opacity="0.319" transform="translate(971.88 225.64) scale(392.04 94.42)"/><circle r="1" fill="url(#gs)" opacity="0.268" transform="translate(962.7 300.91) scale(213.27 91.31)"/><circle r="1" fill="url(#gs)" opacity="0.566" transform="translate(966.65 186.74) scale(111.31 151.72)"/><circle r="1" fill="url(#gs)" opacity="0.103" transform="translate(963.25 128.96) scale(44.55 143.65)"/><circle r="1" fill="url(#gs)" opacity="0.235" transform="translate(751.35 258.65) scale(144.26 113.06)"/><circle r="1" fill="url(#gs)" opacity="0.161" transform="translate(1133.79 298.06) scale(167.58 60.56)"/><circle r="1" fill="url(#gs)" opacity="0.182" transform="translate(756.83 346.04) scale(156.53 54.27)"/><circle r="1" fill="url(#gs)" opacity="0.154" transform="translate(1103.32 343.85) scale(174.32 54.27)"/><circle r="1" fill="url(#gs)" opacity="0.136" transform="translate(727.24 322.86) scale(80.19 104.39)"/><circle r="1" fill="url(#gs)" opacity="0.234" transform="translate(1205.42 338.56) scale(80.19 113.06)"/><circle r="1" fill="url(#gs)" opacity="0.103" transform="translate(753.15 213) scale(298.08 100.2)"/><circle r="1" fill="url(#gs)" opacity="0.291" transform="translate(1184.65 241.15) scale(203.81 113.06)"/><circle r="1" fill="url(#gs)" opacity="0.154" transform="translate(800.99 307.94) scale(128.64 85.91)"/><circle r="1" fill="url(#gs)" opacity="0.131" transform="translate(701.16 401.39) scale(169.51 87.71)"/><circle r="1" fill="url(#gs)" opacity="0.112" transform="translate(1146.49 335.28) scale(80.19 95.6)"/><circle r="1" fill="url(#gs)" opacity="0.07" transform="translate(1179.83 391.1) scale(244.71 113.06)"/></g></g><path d="M851.3 47.75V580.25" stroke="#fff" stroke-width="1" stroke-opacity="1"/><path d="M1048.3 47.75V580.25" stroke="#fff" stroke-width="1" stroke-opacity="1"/></g>
<path d="M940.56 580.25V47.75" stroke="#006400" stroke-width="1.5" stroke-dasharray="6 6" stroke-linecap="round" fill="none" clip-path="url(#c2)"/>
<path d="M990.24 580.25V47.75" stroke="#006400" stroke-width="1.5" stroke-dasharray="6 6" stroke-linecap="round" fill="none" clip-path="url(#c2)"/>
<path d="M699.75 372.88H1232.25" stroke="#CD2626" stroke-width="1.5" stroke-dasharray="6 6" stroke-linecap="round" fill="none" clip-path="url(#c2)"/>
<path d="M749.4 580.25H1181.4M749.4 580.25v6.2M857.4 580.25v6.2M965.4 580.25v6.2M1073.4 580.25v6.2M1181.4 580.25v6.2" fill="none" stroke="#000" stroke-width="0.75"/>
<text transform="translate(748.85 601.85) scale(1 1.1)" font-size="10.3" text-anchor="middle">-400</text>
<text transform="translate(856.85 601.85) scale(1 1.1)" font-size="10.3" text-anchor="middle">-200</text>
<text transform="translate(964.85 601.85) scale(1 1.1)" font-size="10.3" text-anchor="middle">0</text>
<text transform="translate(1072.85 601.85) scale(1 1.1)" font-size="10.3" text-anchor="middle">200</text>
<text transform="translate(1180.85 601.85) scale(1 1.1)" font-size="10.3" text-anchor="middle">400</text>
<path d="M699.75 527.74V48.1M699.75 527.74h-6.2M699.75 459.22h-6.2M699.75 390.7h-6.2M699.75 322.18h-6.2M699.75 253.66h-6.2M699.75 185.14h-6.2M699.75 116.62h-6.2M699.75 48.1h-6.2" fill="none" stroke="#000" stroke-width="0.75"/>
<text transform="translate(685.15 527.74) rotate(-90) scale(1 1.1)" font-size="10.3" text-anchor="middle">65</text>
<text transform="translate(685.15 459.22) rotate(-90) scale(1 1.1)" font-size="10.3" text-anchor="middle">70</text>
<text transform="translate(685.15 390.7) rotate(-90) scale(1 1.1)" font-size="10.3" text-anchor="middle">75</text>
<text transform="translate(685.15 322.18) rotate(-90) scale(1 1.1)" font-size="10.3" text-anchor="middle">80</text>
<text transform="translate(685.15 253.66) rotate(-90) scale(1 1.1)" font-size="10.3" text-anchor="middle">85</text>
<text transform="translate(685.15 185.14) rotate(-90) scale(1 1.1)" font-size="10.3" text-anchor="middle">90</text>
<text transform="translate(685.15 116.62) rotate(-90) scale(1 1.1)" font-size="10.3" text-anchor="middle">95</text>
<text transform="translate(685.15 48.1) rotate(-90) scale(1 1.1)" font-size="10.3" text-anchor="middle">100</text>
<text x="966.5" y="32" font-size="21.45" font-weight="bold" text-anchor="middle">Density heat map for the top hits</text>
<text x="966" y="625.6" font-size="15.94" text-anchor="middle">Distance to peak summit</text>
<text transform="translate(662 314) rotate(-90)" font-size="15.94" text-anchor="middle">Motif score</text>
<!-- panel 3 -->
<path d="M79 1200.5L80.5 1200.49L82.01 1200.47L83.51 1200.46L85.01 1200.44L86.51 1200.43L88.01 1200.42L89.52 1200.4L91.02 1200.39L92.52 1200.37L94.02 1200.36L95.53 1200.34L97.03 1200.33L98.53 1200.31L100.03 1200.3L101.53 1200.28L103.04 1200.27L104.54 1200.25L106.04 1200.23L107.54 1200.21L109.04 1200.18L110.54 1200.15L112.04 1200.11L113.55 1200.07L115.05 1200.02L116.55 1199.96L118.05 1199.9L119.55 1199.82L121.05 1199.74L122.56 1199.65L124.06 1199.55L125.56 1199.43L127.06 1199.3L128.56 1199.16L130.06 1199.01L131.56 1198.83L133.05 1198.64L134.54 1198.43L136.03 1198.19L137.51 1197.94L138.99 1197.66L140.46 1197.35L141.92 1197.02L143.38 1196.67L144.83 1196.28L146.28 1195.87L147.72 1195.43L149.15 1194.98L150.59 1194.53L152.02 1194.07L153.46 1193.62L154.89 1193.18L156.33 1192.75L157.78 1192.36L159.23 1191.99L160.69 1191.66L162.16 1191.36L163.64 1191.08L165.11 1190.8L166.59 1190.53L168.06 1190.24L169.54 1189.94L171 1189.6L172.46 1189.22L173.91 1188.8L175.35 1188.31L176.76 1187.76L178.15 1187.15L179.5 1186.47L180.8 1185.71L182.04 1184.87L183.21 1183.95L184.32 1182.96L185.38 1181.9L186.38 1180.78L187.33 1179.61L188.25 1178.4L189.14 1177.16L190 1175.9L190.85 1174.63L191.68 1173.35L192.5 1172.08L193.31 1170.79L194.11 1169.51L194.9 1168.23L195.69 1166.94L196.47 1165.65L197.25 1164.37L198.02 1163.08L198.79 1161.79L199.56 1160.51L200.33 1159.22L201.1 1157.94L201.87 1156.65L202.64 1155.38L203.42 1154.1L204.2 1152.82L204.99 1151.55L205.78 1150.29L206.58 1149.03L207.4 1147.77L208.22 1146.52L209.05 1145.27L209.88 1144.02L210.73 1142.78L211.58 1141.54L212.43 1140.31L213.29 1139.07L214.15 1137.84L215.01 1136.6L215.86 1135.37L216.72 1134.13L217.57 1132.89L218.42 1131.64L219.26 1130.4L220.09 1129.14L220.91 1127.88L221.72 1126.62L222.52 1125.35L223.31 1124.07L224.08 1122.78L224.84 1121.48L225.58 1120.18L226.31 1118.86L227.02 1117.54L227.71 1116.21L228.39 1114.87L229.06 1113.52L229.71 1112.17L230.36 1110.81L230.99 1109.44L231.6 1108.07L232.21 1106.69L232.81 1105.31L233.4 1103.93L233.98 1102.54L234.55 1101.15L235.12 1099.75L235.68 1098.36L236.23 1096.96L236.77 1095.56L237.31 1094.15L237.84 1092.75L238.37 1091.34L238.89 1089.93L239.4 1088.52L239.92 1087.11L240.42 1085.69L240.93 1084.28L241.42 1082.86L241.92 1081.44L242.41 1080.02L242.9 1078.6L243.38 1077.18L243.87 1075.76L244.35 1074.33L244.83 1072.91L245.3 1071.49L245.78 1070.06L246.25 1068.63L246.73 1067.21L247.2 1065.78L247.68 1064.36L248.15 1062.93L248.63 1061.5L249.11 1060.08L249.59 1058.66L250.08 1057.23L250.57 1055.81L251.06 1054.39L251.56 1052.98L252.06 1051.56L252.57 1050.15L253.09 1048.74L253.61 1047.33L254.14 1045.92L254.68 1044.52L255.23 1043.12L255.78 1041.73L256.35 1040.34L256.92 1038.95L257.51 1037.56L258.1 1036.18L258.7 1034.8L259.3 1033.42L259.9 1032.04L260.5 1030.67L261.1 1029.29L261.71 1027.91L262.3 1026.53L262.9 1025.15L263.48 1023.77L264.06 1022.38L264.64 1020.99L265.2 1019.6L265.75 1018.2L266.28 1016.8L266.8 1015.39L267.31 1013.98L267.8 1012.56L268.27 1011.14L268.74 1009.71L269.19 1008.28L269.63 1006.84L270.06 1005.4L270.47 1003.96L270.89 1002.51L271.29 1001.06L271.69 999.61L272.08 998.16L272.47 996.71L272.85 995.25L273.23 993.8L273.61 992.34L273.99 990.89L274.36 989.43L274.73 987.97L275.1 986.52L275.46 985.06L275.82 983.6L276.18 982.14L276.53 980.68L276.88 979.22L277.22 977.76L277.55 976.29L277.88 974.83L278.21 973.36L278.53 971.9L278.84 970.43L279.16 968.96L279.47 967.49L279.77 966.02L280.08 964.54L280.38 963.07L280.68 961.6L280.97 960.13L281.27 958.65L281.57 957.18L281.86 955.71L282.16 954.23L282.45 952.76L282.74 951.29L283.04 949.81L283.33 948.34L283.62 946.87L283.91 945.39L284.21 943.92L284.5 942.45L284.79 940.97L285.08 939.5L285.37 938.03L285.67 936.55L285.96 935.08L286.25 933.61L286.55 932.13L286.84 930.66L287.14 929.19L287.43 927.71L287.73 926.24L288.03 924.77L288.33 923.3L288.63 921.82L288.93 920.35L289.23 918.88L289.53 917.41L289.84 915.94L290.15 914.46L290.46 912.99L290.77 911.52L291.09 910.05L291.41 908.58L291.73 907.12L292.05 905.65L292.38 904.18L292.71 902.72L293.05 901.25L293.39 899.79L293.73 898.33L294.08 896.87L294.44 895.41L294.8 893.95L295.17 892.49L295.54 891.03L295.92 889.58L296.3 888.13L296.69 886.68L297.09 885.23L297.49 883.78L297.9 882.34L298.32 880.89L298.74 879.45L299.17 878.01L299.61 876.58L300.05 875.14L300.5 873.71L300.96 872.27L301.42 870.84L301.89 869.42L302.36 867.99L302.84 866.57L303.32 865.14L303.81 863.72L304.31 862.3L304.81 860.88L305.31 859.47L305.82 858.05L306.33 856.64L306.84 855.23L307.36 853.82L307.89 852.41L308.41 851L308.94 849.6L309.47 848.19L310 846.79L310.54 845.38L311.07 843.98L311.61 842.58L312.15 841.18L312.69 839.77L313.23 838.37L313.77 836.97L314.31 835.57L314.85 834.17L315.39 832.76L315.93 831.36L316.47 829.96L317.01 828.56L317.54 827.15L318.08 825.75L318.61 824.35L319.14 822.94L319.67 821.54L320.2 820.13L320.73 818.72L321.25 817.31L321.78 815.91L322.3 814.5L322.82 813.09L323.33 811.67L323.84 810.26L324.35 808.85L324.85 807.43L325.35 806.01L325.85 804.59L326.34 803.17L326.82 801.75L327.29 800.32L327.76 798.89L328.22 797.46L328.67 796.03L329.12 794.6L329.55 793.16L329.98 791.72L330.39 790.28L330.8 788.83L331.2 787.38L331.58 785.93L331.96 784.48L332.34 783.02L332.7 781.56L333.06 780.11L333.42 778.65L333.77 777.18L334.12 775.72L334.46 774.26L334.8 772.79L335.14 771.33L335.48 769.86L335.81 768.4L336.15 766.93L336.48 765.47L336.82 764L337.15 762.54L337.49 761.07L337.82 759.61L338.15 758.14L338.49 756.68L338.82 755.21L339.15 753.75L339.49 752.29L339.82 750.82L340.16 749.36L340.49 747.89L340.83 746.43L341.17 744.97L341.51 743.51L341.85 742.05L342.2 740.59L342.55 739.13L342.91 737.67L343.27 736.21L343.64 734.75L344.03 733.3L344.42 731.85L344.82 730.39L345.23 728.94L345.65 727.5L346.08 726.05L346.52 724.61L346.97 723.17L347.41 721.73L347.87 720.3L348.32 718.87L348.77 717.45L349.22 716.03L349.68 714.62L350.19 713.23L350.79 711.87L351.54 710.55L352.47 709.27L353.61 708.08L354.91 707.19L356.26 706.91L357.58 707.39L358.81 708.41L359.91 709.66L360.89 710.91L361.75 712.15L362.53 713.4L363.28 714.64L364.02 715.91L364.79 717.18L365.62 718.44L366.54 719.64L367.59 720.75L368.79 721.73L370.13 722.51L371.56 723L373.01 723.09L374.48 722.82L375.94 722.32L377.4 721.74L378.86 721.23L380.31 720.99L381.75 721.18L383.14 721.8L384.41 722.73L385.48 723.85L386.34 725.09L387.04 726.42L387.64 727.81L388.18 729.22L388.71 730.63L389.22 732.05L389.71 733.47L390.19 734.89L390.65 736.32L391.08 737.75L391.5 739.2L391.89 740.64L392.25 742.1L392.6 743.56L392.93 745.03L393.24 746.5L393.54 747.97L393.82 749.45L394.09 750.93L394.35 752.42L394.6 753.9L394.85 755.38L395.08 756.87L395.32 758.35L395.54 759.84L395.76 761.32L395.98 762.81L396.2 764.3L396.41 765.78L396.62 767.27L396.82 768.76L397.03 770.25L397.23 771.73L397.44 773.22L397.64 774.71L397.85 776.2L398.06 777.68L398.26 779.17L398.47 780.66L398.68 782.15L398.89 783.64L399.1 785.12L399.31 786.61L399.51 788.1L399.72 789.59L399.92 791.08L400.13 792.57L400.33 794.05L400.53 795.54L400.73 797.03L400.92 798.52L401.11 800.01L401.31 801.5L401.49 802.99L401.68 804.48L401.87 805.97L402.05 807.46L402.24 808.96L402.42 810.45L402.6 811.94L402.78 813.43L402.96 814.92L403.15 816.41L403.33 817.9L403.51 819.4L403.69 820.89L403.87 822.38L404.06 823.87L404.24 825.36L404.42 826.85L404.61 828.34L404.8 829.83L404.99 831.32L405.18 832.81L405.38 834.3L405.57 835.79L405.77 837.28L405.97 838.77L406.17 840.26L406.38 841.75L406.58 843.24L406.79 844.72L407 846.21L407.21 847.7L407.43 849.19L407.65 850.67L407.86 852.16L408.09 853.64L408.31 855.13L408.54 856.61L408.76 858.1L408.99 859.58L409.23 861.07L409.46 862.55L409.7 864.04L409.94 865.52L410.18 867L410.42 868.48L410.67 869.97L410.91 871.45L411.16 872.93L411.41 874.41L411.66 875.89L411.91 877.37L412.16 878.86L412.41 880.34L412.67 881.82L412.92 883.3L413.17 884.78L413.43 886.26L413.68 887.74L413.94 889.22L414.19 890.7L414.45 892.18L414.7 893.66L414.95 895.14L415.2 896.63L415.46 898.11L415.71 899.59L415.96 901.07L416.21 902.55L416.46 904.03L416.71 905.51L416.96 906.99L417.21 908.48L417.45 909.96L417.7 911.44L417.95 912.92L418.19 914.4L418.44 915.89L418.68 917.37L418.93 918.85L419.17 920.33L419.41 921.82L419.65 923.3L419.89 924.78L420.13 926.27L420.37 927.75L420.61 929.23L420.85 930.71L421.09 932.2L421.33 933.68L421.57 935.16L421.81 936.65L422.05 938.13L422.29 939.61L422.53 941.1L422.77 942.58L423.01 944.06L423.26 945.54L423.5 947.03L423.75 948.51L424 949.99L424.25 951.47L424.5 952.95L424.76 954.43L425.01 955.91L425.27 957.39L425.53 958.87L425.79 960.35L426.06 961.83L426.33 963.31L426.6 964.79L426.87 966.27L427.14 967.74L427.42 969.22L427.7 970.7L427.98 972.17L428.26 973.65L428.55 975.12L428.84 976.6L429.13 978.07L429.43 979.54L429.73 981.01L430.03 982.49L430.33 983.96L430.64 985.43L430.95 986.9L431.26 988.37L431.57 989.84L431.89 991.31L432.21 992.77L432.53 994.24L432.85 995.71L433.17 997.18L433.5 998.64L433.83 1000.11L434.16 1001.57L434.49 1003.04L434.83 1004.5L435.16 1005.97L435.5 1007.43L435.84 1008.9L436.18 1010.36L436.52 1011.82L436.87 1013.29L437.22 1014.75L437.57 1016.21L437.92 1017.67L438.27 1019.13L438.63 1020.59L438.98 1022.05L439.35 1023.51L439.71 1024.96L440.08 1026.42L440.45 1027.88L440.82 1029.33L441.19 1030.79L441.57 1032.24L441.95 1033.69L442.34 1035.15L442.73 1036.6L443.12 1038.05L443.51 1039.5L443.91 1040.95L444.31 1042.39L444.72 1043.84L445.12 1045.29L445.53 1046.73L445.95 1048.18L446.36 1049.62L446.78 1051.07L447.2 1052.51L447.62 1053.95L448.04 1055.39L448.46 1056.83L448.89 1058.27L449.32 1059.71L449.75 1061.15L450.18 1062.59L450.61 1064.03L451.04 1065.47L451.47 1066.91L451.91 1068.35L452.34 1069.79L452.78 1071.22L453.22 1072.66L453.66 1074.09L454.11 1075.53L454.56 1076.96L455.01 1078.4L455.47 1079.83L455.93 1081.26L456.39 1082.68L456.87 1084.11L457.34 1085.54L457.83 1086.96L458.31 1088.38L458.81 1089.8L459.32 1091.22L459.83 1092.63L460.35 1094.04L460.88 1095.45L461.42 1096.85L461.97 1098.25L462.54 1099.65L463.12 1101.03L463.71 1102.41L464.31 1103.79L464.93 1105.16L465.57 1106.52L466.23 1107.87L466.9 1109.21L467.58 1110.55L468.28 1111.88L468.98 1113.2L469.69 1114.53L470.41 1115.85L471.13 1117.16L471.86 1118.48L472.58 1119.8L473.29 1121.12L474.01 1122.45L474.71 1123.77L475.4 1125.11L476.09 1126.45L476.76 1127.79L477.42 1129.14L478.07 1130.5L478.7 1131.86L479.33 1133.22L479.95 1134.59L480.57 1135.96L481.17 1137.34L481.76 1138.72L482.35 1140.1L482.94 1141.48L483.52 1142.87L484.1 1144.25L484.67 1145.64L485.25 1147.02L485.84 1148.41L486.43 1149.79L487.02 1151.17L487.63 1152.55L488.25 1153.92L488.87 1155.29L489.52 1156.65L490.19 1158.01L490.88 1159.35L491.59 1160.67L492.34 1161.98L493.12 1163.26L493.93 1164.52L494.79 1165.75L495.68 1166.95L496.62 1168.12L497.58 1169.27L498.58 1170.4L499.61 1171.5L500.66 1172.58L501.73 1173.65L502.82 1174.69L503.92 1175.72L505.04 1176.74L506.17 1177.74L507.31 1178.72L508.47 1179.69L509.64 1180.63L510.82 1181.55L512.02 1182.46L513.24 1183.33L514.47 1184.18L515.72 1185.01L516.99 1185.81L518.27 1186.59L519.56 1187.36L520.85 1188.11L522.16 1188.87L523.46 1189.62L524.77 1190.37L526.08 1191.13L527.4 1191.88L528.71 1192.63L530.04 1193.35L531.38 1194.04L532.74 1194.67L534.11 1195.26L535.51 1195.77L536.94 1196.21L538.39 1196.58L539.85 1196.89L541.34 1197.16L542.83 1197.41L544.32 1197.63L545.82 1197.86L547.31 1198.09L548.8 1198.33L550.29 1198.57L551.77 1198.81L553.25 1199.05L554.74 1199.27L556.22 1199.48L557.7 1199.67L559.19 1199.84L560.69 1199.98L562.18 1200.1L563.68 1200.19L565.18 1200.27L566.68 1200.34L568.18 1200.39L569.69 1200.43L571.19 1200.47L572.7 1200.5Z" fill="#F5DEB3" stroke="#000" stroke-width="1.125" stroke-linejoin="round"/>
<path d="M276.85 1220.25V687.75" stroke="#CD2626" stroke-width="1.5" stroke-dasharray="6 6" stroke-linecap="round" fill="none" clip-path="url(#c3)"/>
<rect x="59.75" y="687.75" width="532.5" height="532.5" fill="none" stroke="#000" stroke-width="0.75"/>
<path d="M90.4 1220.25H547.9M90.4 1220.25v6.2M204.78 1220.25v6.2M319.15 1220.25v6.2M433.52 1220.25v6.2M547.9 1220.25v6.2" fill="none" stroke="#000" stroke-width="0.75"/>
<text transform="translate(89.85 1241.85) scale(1 1.1)" font-size="10.3" text-anchor="middle">60</text>
<text transform="translate(204.22 1241.85) scale(1 1.1)" font-size="10.3" text-anchor="middle">70</text>
<text transform="translate(318.6 1241.85) scale(1 1.1)" font-size="10.3" text-anchor="middle">80</text>
<text transform="translate(432.97 1241.85) scale(1 1.1)" font-size="10.3" text-anchor="middle">90</text>
<text transform="translate(547.35 1241.85) scale(1 1.1)" font-size="10.3" text-anchor="middle">100</text>
<path d="M59.75 1200.5V798.35M59.75 1200.5h-6.2M59.75 1066.45h-6.2M59.75 932.4h-6.2M59.75 798.35h-6.2" fill="none" stroke="#000" stroke-width="0.75"/>
<text transform="translate(45.15 1200.5) rotate(-90) scale(1 1.1)" font-size="10.3" text-anchor="middle">0.00</text>
<text transform="translate(45.15 1066.45) rotate(-90) scale(1 1.1)" font-size="10.3" text-anchor="middle">0.02</text>
<text transform="translate(45.15 932.4) rotate(-90) scale(1 1.1)" font-size="10.3" text-anchor="middle">0.04</text>
<text transform="translate(45.15 798.35) rotate(-90) scale(1 1.1)" font-size="10.3" text-anchor="middle">0.06</text>
<text x="326.6" y="672" font-size="21.65" font-weight="bold" text-anchor="middle">Motif score threshold: 76.300</text>
<text x="326" y="1265.6" font-size="15.94" text-anchor="middle">Motif score</text>
<text transform="translate(22 954) rotate(-90)" font-size="15.94" text-anchor="middle">Density</text>
<!-- panel 4 -->
<path d="M719.25 1200.5L720.75 1200.26L722.25 1200L723.72 1199.69L725.18 1199.32L726.6 1198.86L727.98 1198.28L729.32 1197.59L730.6 1196.79L731.82 1195.89L732.98 1194.9L734.07 1193.83L735.08 1192.7L736.02 1191.52L736.88 1190.28L737.68 1189.01L738.42 1187.7L739.11 1186.36L739.76 1184.99L740.37 1183.61L740.96 1182.21L741.53 1180.81L742.08 1179.4L742.62 1177.99L743.14 1176.58L743.65 1175.16L744.15 1173.74L744.63 1172.32L745.09 1170.89L745.55 1169.46L745.99 1168.03L746.42 1166.59L746.84 1165.15L747.25 1163.71L747.65 1162.26L748.03 1160.81L748.41 1159.35L748.77 1157.9L749.13 1156.44L749.48 1154.97L749.81 1153.51L750.14 1152.04L750.46 1150.57L750.78 1149.1L751.08 1147.63L751.38 1146.15L751.67 1144.68L751.96 1143.2L752.24 1141.72L752.51 1140.24L752.78 1138.76L753.04 1137.28L753.3 1135.8L753.56 1134.32L753.81 1132.84L754.05 1131.35L754.29 1129.87L754.53 1128.38L754.76 1126.9L754.99 1125.41L755.22 1123.93L755.44 1122.44L755.66 1120.96L755.88 1119.47L756.09 1117.98L756.31 1116.49L756.51 1115.01L756.72 1113.52L756.93 1112.03L757.13 1110.54L757.33 1109.05L757.53 1107.56L757.73 1106.07L757.93 1104.58L758.12 1103.09L758.32 1101.6L758.51 1100.11L758.71 1098.62L758.9 1097.13L759.09 1095.64L759.28 1094.15L759.47 1092.66L759.65 1091.16L759.84 1089.67L760.02 1088.18L760.21 1086.69L760.39 1085.2L760.58 1083.71L760.76 1082.21L760.94 1080.72L761.12 1079.23L761.31 1077.74L761.49 1076.25L761.67 1074.75L761.85 1073.26L762.02 1071.77L762.2 1070.28L762.38 1068.78L762.56 1067.29L762.74 1065.8L762.92 1064.31L763.1 1062.81L763.27 1061.32L763.45 1059.83L763.63 1058.34L763.81 1056.84L763.99 1055.35L764.17 1053.86L764.35 1052.37L764.53 1050.87L764.71 1049.38L764.9 1047.89L765.08 1046.4L765.27 1044.91L765.45 1043.42L765.64 1041.93L765.83 1040.43L766.02 1038.94L766.21 1037.45L766.41 1035.96L766.6 1034.47L766.8 1032.98L767 1031.49L767.2 1030L767.4 1028.51L767.61 1027.03L767.81 1025.54L768.02 1024.05L768.24 1022.56L768.45 1021.08L768.67 1019.59L768.89 1018.1L769.11 1016.62L769.33 1015.13L769.55 1013.64L769.78 1012.16L770.01 1010.67L770.24 1009.19L770.47 1007.7L770.71 1006.22L770.95 1004.73L771.19 1003.25L771.43 1001.76L771.67 1000.28L771.91 998.8L772.16 997.31L772.41 995.83L772.66 994.35L772.91 992.87L773.17 991.38L773.43 989.9L773.69 988.42L773.96 986.94L774.23 985.46L774.5 983.98L774.78 982.51L775.07 981.03L775.36 979.56L775.66 978.09L775.97 976.62L776.28 975.15L776.6 973.68L776.94 972.22L777.27 970.76L777.62 969.3L777.98 967.84L778.35 966.38L778.73 964.93L779.11 963.47L779.51 962.02L779.92 960.57L780.35 959.12L780.79 957.67L781.25 956.23L781.75 954.81L782.3 953.41L782.89 952.03L783.55 950.68L784.27 949.37L785.07 948.1L785.98 946.9L787 945.77L788.15 944.75L789.44 943.86L790.81 943.2L792.25 942.83L793.73 942.81L795.21 943.11L796.67 943.63L798.07 944.28L799.41 945.01L800.69 945.8L801.93 946.65L803.13 947.54L804.31 948.45L805.48 949.39L806.65 950.33L807.81 951.28L808.97 952.24L810.12 953.2L811.28 954.16L812.43 955.13L813.58 956.1L814.73 957.07L815.88 958.04L817.03 959.01L818.18 959.99L819.33 960.96L820.47 961.94L821.61 962.92L822.74 963.91L823.86 964.91L824.97 965.92L826.08 966.94L827.16 967.98L828.24 969.02L829.3 970.08L830.35 971.16L831.4 972.24L832.43 973.33L833.46 974.42L834.48 975.53L835.5 976.63L836.52 977.74L837.54 978.85L838.56 979.95L839.58 981.05L840.61 982.15L841.65 983.24L842.69 984.33L843.73 985.41L844.79 986.48L845.84 987.55L846.91 988.61L847.98 989.67L849.05 990.72L850.14 991.76L851.22 992.8L852.32 993.83L853.41 994.85L854.52 995.87L855.63 996.88L856.75 997.88L857.87 998.88L859.01 999.86L860.15 1000.84L861.3 1001.81L862.46 1002.77L863.63 1003.72L864.81 1004.65L866 1005.58L867.2 1006.49L868.42 1007.38L869.65 1008.24L870.9 1009.08L872.17 1009.89L873.46 1010.66L874.78 1011.38L876.11 1012.06L877.48 1012.7L878.86 1013.28L880.28 1013.8L881.71 1014.27L883.17 1014.68L884.65 1015.01L886.15 1015.24L887.65 1015.33L889.15 1015.26L890.64 1015.02L892.1 1014.62L893.51 1014.06L894.87 1013.38L896.15 1012.57L897.35 1011.67L898.49 1010.69L899.57 1009.63L900.61 1008.53L901.6 1007.39L902.57 1006.22L903.49 1005.03L904.39 1003.82L905.25 1002.59L906.08 1001.34L906.87 1000.06L907.63 998.77L908.36 997.46L909.06 996.13L909.73 994.78L910.38 993.42L911 992.05L911.6 990.67L912.18 989.28L912.75 987.89L913.3 986.48L913.83 985.07L914.36 983.66L914.88 982.25L915.38 980.83L915.88 979.41L916.37 977.99L916.84 976.57L917.31 975.14L917.78 973.71L918.23 972.28L918.68 970.84L919.12 969.41L919.56 967.97L919.99 966.53L920.42 965.09L920.84 963.65L921.25 962.2L921.67 960.76L922.07 959.31L922.48 957.86L922.88 956.42L923.27 954.97L923.67 953.51L924.06 952.06L924.44 950.61L924.83 949.16L925.21 947.7L925.59 946.25L925.97 944.79L926.34 943.34L926.71 941.88L927.08 940.42L927.44 938.96L927.8 937.5L928.16 936.04L928.51 934.58L928.86 933.12L929.2 931.66L929.54 930.19L929.87 928.73L930.2 927.26L930.52 925.79L930.84 924.32L931.15 922.85L931.46 921.38L931.76 919.91L932.05 918.44L932.35 916.96L932.64 915.49L932.92 914.01L933.2 912.53L933.47 911.05L933.75 909.58L934.01 908.1L934.28 906.62L934.54 905.14L934.8 903.66L935.05 902.17L935.3 900.69L935.55 899.21L935.8 897.73L936.04 896.24L936.28 894.76L936.52 893.28L936.75 891.79L936.99 890.31L937.22 888.82L937.45 887.34L937.67 885.85L937.9 884.37L938.12 882.88L938.35 881.39L938.57 879.91L938.79 878.42L939.01 876.93L939.23 875.45L939.45 873.96L939.66 872.47L939.88 870.98L940.1 869.5L940.32 868.01L940.53 866.52L940.75 865.03L940.96 863.55L941.18 862.06L941.39 860.57L941.61 859.08L941.82 857.59L942.04 856.11L942.25 854.62L942.46 853.13L942.67 851.64L942.88 850.15L943.09 848.66L943.3 847.18L943.5 845.69L943.71 844.2L943.91 842.71L944.11 841.22L944.31 839.73L944.51 838.24L944.71 836.75L944.9 835.26L945.1 833.77L945.29 832.28L945.48 830.79L945.67 829.3L945.85 827.81L946.04 826.32L946.22 824.83L946.4 823.34L946.58 821.85L946.76 820.36L946.94 818.86L947.12 817.37L947.29 815.88L947.47 814.39L947.64 812.9L947.82 811.4L947.99 809.91L948.16 808.42L948.33 806.92L948.51 805.43L948.68 803.93L948.85 802.44L949.02 800.95L949.2 799.45L949.37 797.95L949.54 796.46L949.72 794.96L949.89 793.47L950.07 791.97L950.24 790.47L950.42 788.98L950.6 787.48L950.78 785.99L950.96 784.49L951.14 783L951.32 781.5L951.5 780.01L951.69 778.52L951.87 777.03L952.06 775.54L952.25 774.05L952.44 772.56L952.63 771.07L952.82 769.58L953.01 768.1L953.21 766.62L953.41 765.14L953.61 763.66L953.81 762.18L954.01 760.7L954.22 759.22L954.43 757.75L954.64 756.27L954.86 754.79L955.08 753.31L955.3 751.83L955.53 750.35L955.76 748.86L956 747.37L956.24 745.88L956.49 744.38L956.74 742.88L957 741.37L957.27 739.86L957.53 738.34L957.81 736.82L958.09 735.31L958.36 733.79L958.65 732.29L958.93 730.79L959.21 729.31L959.49 727.84L959.76 726.39L960.03 724.96L960.3 723.55L960.56 722.17L960.82 720.81L961.1 719.46L961.4 718.09L961.76 716.69L962.17 715.24L962.67 713.73L963.27 712.13L963.97 710.43L964.8 708.82L965.75 707.66L966.8 707.32L967.92 707.96L969.02 709.25L969.97 710.78L970.73 712.28L971.3 713.74L971.74 715.18L972.07 716.6L972.32 718.01L972.54 719.42L972.75 720.84L972.98 722.27L973.24 723.71L973.5 725.16L973.78 726.63L974.07 728.1L974.37 729.58L974.67 731.07L974.98 732.56L975.28 734.06L975.58 735.56L975.87 737.06L976.16 738.56L976.43 740.06L976.68 741.55L976.93 743.05L977.16 744.54L977.39 746.03L977.61 747.52L977.81 749.01L978.01 750.5L978.21 751.99L978.4 753.48L978.58 754.96L978.76 756.45L978.94 757.94L979.12 759.42L979.29 760.91L979.47 762.39L979.64 763.88L979.82 765.37L980 766.85L980.18 768.34L980.36 769.83L980.55 771.32L980.73 772.81L980.92 774.3L981.11 775.79L981.3 777.28L981.49 778.77L981.68 780.26L981.88 781.75L982.07 783.25L982.26 784.74L982.45 786.23L982.64 787.72L982.83 789.22L983.02 790.71L983.21 792.2L983.4 793.69L983.59 795.19L983.77 796.68L983.96 798.17L984.14 799.67L984.32 801.16L984.5 802.65L984.68 804.15L984.85 805.64L985.03 807.13L985.21 808.63L985.38 810.12L985.55 811.61L985.73 813.1L985.9 814.6L986.08 816.09L986.25 817.58L986.42 819.08L986.6 820.57L986.77 822.06L986.95 823.55L987.13 825.04L987.31 826.54L987.49 828.03L987.67 829.52L987.85 831.01L988.04 832.5L988.22 833.99L988.41 835.48L988.6 836.97L988.8 838.46L988.99 839.95L989.19 841.44L989.38 842.93L989.58 844.42L989.78 845.91L989.99 847.4L990.19 848.89L990.39 850.38L990.6 851.87L990.8 853.36L991.01 854.85L991.22 856.34L991.43 857.82L991.64 859.31L991.85 860.8L992.06 862.29L992.28 863.78L992.49 865.27L992.7 866.75L992.92 868.24L993.13 869.73L993.35 871.22L993.57 872.7L993.78 874.19L994 875.68L994.21 877.17L994.43 878.65L994.65 880.14L994.87 881.63L995.09 883.12L995.31 884.6L995.52 886.09L995.74 887.58L995.97 889.06L996.19 890.55L996.41 892.04L996.63 893.52L996.85 895.01L997.07 896.49L997.3 897.98L997.52 899.47L997.74 900.95L997.97 902.44L998.19 903.92L998.42 905.41L998.65 906.9L998.87 908.38L999.1 909.87L999.33 911.35L999.56 912.84L999.79 914.32L1000.02 915.81L1000.25 917.29L1000.48 918.78L1000.71 920.26L1000.94 921.75L1001.17 923.23L1001.41 924.72L1001.64 926.2L1001.88 927.69L1002.12 929.17L1002.35 930.66L1002.59 932.14L1002.83 933.63L1003.08 935.11L1003.33 936.59L1003.58 938.08L1003.84 939.56L1004.11 941.04L1004.38 942.51L1004.67 943.99L1004.96 945.46L1005.27 946.93L1005.59 948.4L1005.92 949.87L1006.26 951.33L1006.61 952.79L1006.98 954.25L1007.35 955.7L1007.73 957.16L1008.12 958.61L1008.51 960.06L1008.92 961.51L1009.33 962.96L1009.74 964.4L1010.16 965.85L1010.58 967.29L1011.01 968.74L1011.45 970.18L1011.89 971.62L1012.34 973.05L1012.8 974.48L1013.27 975.91L1013.76 977.34L1014.26 978.75L1014.77 980.17L1015.29 981.57L1015.84 982.97L1016.4 984.36L1016.98 985.75L1017.58 987.12L1018.2 988.49L1018.84 989.84L1019.51 991.19L1020.21 992.52L1020.93 993.85L1021.69 995.16L1022.47 996.45L1023.29 997.73L1024.14 998.99L1025.04 1000.22L1025.98 1001.4L1026.98 1002.54L1028.03 1003.61L1029.15 1004.62L1030.33 1005.54L1031.57 1006.38L1032.88 1007.14L1034.24 1007.8L1035.64 1008.38L1037.07 1008.87L1038.53 1009.27L1040.02 1009.57L1041.51 1009.76L1043.02 1009.82L1044.52 1009.74L1046.01 1009.53L1047.49 1009.19L1048.93 1008.73L1050.33 1008.16L1051.67 1007.48L1052.97 1006.72L1054.23 1005.89L1055.45 1004.99L1056.63 1004.05L1057.77 1003.06L1058.89 1002.05L1059.98 1001.01L1061.05 999.95L1062.1 998.88L1063.13 997.79L1064.16 996.7L1065.19 995.6L1066.21 994.5L1067.23 993.4L1068.25 992.29L1069.28 991.2L1070.31 990.1L1071.34 989.01L1072.38 987.92L1073.43 986.84L1074.49 985.78L1075.56 984.72L1076.66 983.69L1077.77 982.68L1078.91 981.69L1080.07 980.74L1081.27 979.83L1082.49 978.95L1083.75 978.12L1085.03 977.33L1086.35 976.59L1087.68 975.91L1089.05 975.28L1090.42 974.68L1091.82 974.11L1093.21 973.54L1094.6 972.97L1095.98 972.37L1097.35 971.75L1098.7 971.09L1100.04 970.4L1101.35 969.67L1102.65 968.91L1103.93 968.11L1105.18 967.27L1106.4 966.4L1107.6 965.49L1108.78 964.55L1109.92 963.57L1111.03 962.56L1112.13 961.53L1113.21 960.49L1114.29 959.44L1115.38 958.41L1116.49 957.39L1117.62 956.4L1118.79 955.45L1119.99 954.54L1121.23 953.68L1122.5 952.87L1123.81 952.12L1125.14 951.43L1126.51 950.81L1127.91 950.26L1129.34 949.79L1130.8 949.4L1132.29 949.11L1133.79 948.96L1135.29 949.03L1136.76 949.37L1138.17 949.92L1139.51 950.67L1140.74 951.56L1141.86 952.57L1142.89 953.67L1143.84 954.85L1144.72 956.08L1145.54 957.35L1146.31 958.64L1147.04 959.96L1147.73 961.3L1148.37 962.66L1148.99 964.03L1149.57 965.42L1150.12 966.82L1150.66 968.23L1151.17 969.64L1151.66 971.06L1152.12 972.49L1152.58 973.92L1153.01 975.36L1153.43 976.81L1153.83 978.26L1154.22 979.71L1154.59 981.17L1154.96 982.63L1155.31 984.09L1155.66 985.56L1155.99 987.02L1156.32 988.49L1156.64 989.96L1156.95 991.43L1157.26 992.9L1157.55 994.37L1157.85 995.85L1158.13 997.32L1158.41 998.8L1158.68 1000.28L1158.95 1001.76L1159.21 1003.24L1159.47 1004.72L1159.73 1006.2L1159.98 1007.68L1160.23 1009.16L1160.48 1010.65L1160.72 1012.13L1160.96 1013.61L1161.2 1015.1L1161.44 1016.58L1161.67 1018.07L1161.9 1019.55L1162.13 1021.04L1162.36 1022.52L1162.59 1024.01L1162.82 1025.49L1163.04 1026.98L1163.26 1028.47L1163.48 1029.95L1163.7 1031.44L1163.92 1032.93L1164.14 1034.41L1164.36 1035.9L1164.58 1037.39L1164.79 1038.88L1165.01 1040.36L1165.23 1041.85L1165.44 1043.34L1165.66 1044.83L1165.87 1046.31L1166.09 1047.8L1166.3 1049.29L1166.52 1050.78L1166.73 1052.26L1166.94 1053.75L1167.16 1055.24L1167.37 1056.73L1167.58 1058.21L1167.8 1059.7L1168.01 1061.19L1168.22 1062.68L1168.43 1064.17L1168.64 1065.65L1168.85 1067.14L1169.06 1068.63L1169.27 1070.12L1169.48 1071.61L1169.69 1073.1L1169.9 1074.58L1170.11 1076.07L1170.32 1077.56L1170.52 1079.05L1170.73 1080.54L1170.94 1082.03L1171.15 1083.52L1171.35 1085.01L1171.56 1086.49L1171.77 1087.98L1171.98 1089.47L1172.19 1090.96L1172.4 1092.45L1172.61 1093.94L1172.82 1095.42L1173.03 1096.91L1173.25 1098.4L1173.46 1099.89L1173.68 1101.37L1173.89 1102.86L1174.11 1104.35L1174.33 1105.84L1174.55 1107.32L1174.77 1108.81L1175 1110.29L1175.23 1111.78L1175.45 1113.27L1175.68 1114.75L1175.92 1116.23L1176.15 1117.72L1176.39 1119.2L1176.63 1120.69L1176.87 1122.17L1177.11 1123.65L1177.36 1125.14L1177.6 1126.62L1177.85 1128.1L1178.1 1129.58L1178.36 1131.06L1178.61 1132.55L1178.87 1134.03L1179.14 1135.51L1179.4 1136.99L1179.67 1138.47L1179.94 1139.95L1180.21 1141.43L1180.48 1142.9L1180.76 1144.38L1181.04 1145.86L1181.33 1147.34L1181.62 1148.81L1181.91 1150.29L1182.22 1151.76L1182.52 1153.23L1182.84 1154.7L1183.16 1156.17L1183.48 1157.64L1183.82 1159.1L1184.16 1160.56L1184.51 1162.02L1184.87 1163.48L1185.24 1164.94L1185.62 1166.39L1186.01 1167.84L1186.41 1169.29L1186.82 1170.73L1187.25 1172.17L1187.69 1173.61L1188.15 1175.04L1188.63 1176.47L1189.12 1177.89L1189.63 1179.31L1190.16 1180.73L1190.71 1182.13L1191.3 1183.53L1191.91 1184.91L1192.57 1186.26L1193.28 1187.59L1194.05 1188.88L1194.88 1190.13L1195.78 1191.34L1196.75 1192.5L1197.78 1193.6L1198.88 1194.64L1200.04 1195.61L1201.26 1196.5L1202.53 1197.32L1203.85 1198.05L1205.22 1198.69L1206.63 1199.23L1208.07 1199.66L1209.53 1199.99L1211.01 1200.26L1212.5 1200.5Z" fill="#F5DEB3" stroke="#000" stroke-width="1.125" stroke-linejoin="round"/>
<path d="M946.7 1220.25V687.75" stroke="#006400" stroke-width="1.5" stroke-dasharray="6 6" stroke-linecap="round" fill="none" clip-path="url(#c4)"/>
<path d="M984.4 1220.25V687.75" stroke="#006400" stroke-width="1.5" stroke-dasharray="6 6" stroke-linecap="round" fill="none" clip-path="url(#c4)"/>
<rect x="699.75" y="687.75" width="532.5" height="532.5" fill="none" stroke="#000" stroke-width="0.75"/>
<path d="M719.73 1220.25H1211.37M719.73 1220.25v6.2M801.67 1220.25v6.2M883.61 1220.25v6.2M965.55 1220.25v6.2M1047.49 1220.25v6.2M1129.43 1220.25v6.2M1211.37 1220.25v6.2" fill="none" stroke="#000" stroke-width="0.75"/>
<text transform="translate(719.18 1241.85) scale(1 1.1)" font-size="10.3" text-anchor="middle">-600</text>
<text transform="translate(801.12 1241.85) scale(1 1.1)" font-size="10.3" text-anchor="middle">-400</text>
<text transform="translate(883.06 1241.85) scale(1 1.1)" font-size="10.3" text-anchor="middle">-200</text>
<text transform="translate(965 1241.85) scale(1 1.1)" font-size="10.3" text-anchor="middle">0</text>
<text transform="translate(1046.94 1241.85) scale(1 1.1)" font-size="10.3" text-anchor="middle">200</text>
<text transform="translate(1128.88 1241.85) scale(1 1.1)" font-size="10.3" text-anchor="middle">400</text>
<text transform="translate(1210.82 1241.85) scale(1 1.1)" font-size="10.3" text-anchor="middle">600</text>
<path d="M699.75 1200.45V691.45M699.75 1200.45h-6.2M699.75 1073.2h-6.2M699.75 945.95h-6.2M699.75 818.7h-6.2M699.75 691.45h-6.2" fill="none" stroke="#000" stroke-width="0.75"/>
<text transform="translate(685.15 1200.45) rotate(-90) scale(1 1.1)" font-size="10.3" text-anchor="middle">0.0000</text>
<text transform="translate(685.15 1073.2) rotate(-90) scale(1 1.1)" font-size="10.3" text-anchor="middle">0.0005</text>
<text transform="translate(685.15 945.95) rotate(-90) scale(1 1.1)" font-size="10.3" text-anchor="middle">0.0010</text>
<text transform="translate(685.15 818.7) rotate(-90) scale(1 1.1)" font-size="10.3" text-anchor="middle">0.0015</text>
<text transform="translate(685.15 691.45) rotate(-90) scale(1 1.1)" font-size="10.3" text-anchor="middle">0.0020</text>
<text x="966" y="672" font-size="21.6" font-weight="bold" text-anchor="middle">Enrichment zone: 46.00</text>
<text x="966" y="1265.6" font-size="15.94" text-anchor="middle">Distance to peak summit</text>
<text transform="translate(662 954) rotate(-90)" font-size="15.94" text-anchor="middle">Density</text>
<path d="M1017.4 703.45H1041.3" stroke="#006400" stroke-width="1.125" stroke-dasharray="1.125 3.375" stroke-linecap="round" fill="none"/>
<text x="1052.3" y="707.85" font-size="12.95">enrichment zone = 46</text>
<path d="M1017.4 718.85H1041.3" stroke="#CD2626" stroke-width="1.125" stroke-dasharray="1.125 3.375" stroke-linecap="round" fill="none"/>
<text x="1052.3" y="723.25" font-size="12.95">motif score threshold = 76.300</text>
<circle cx="1029" cy="734.5" r="2.75" fill="#00f"/>
<text x="1052.3" y="739" font-size="12.95">centrality p-val = -0.0865</text>
</svg></body></html>
